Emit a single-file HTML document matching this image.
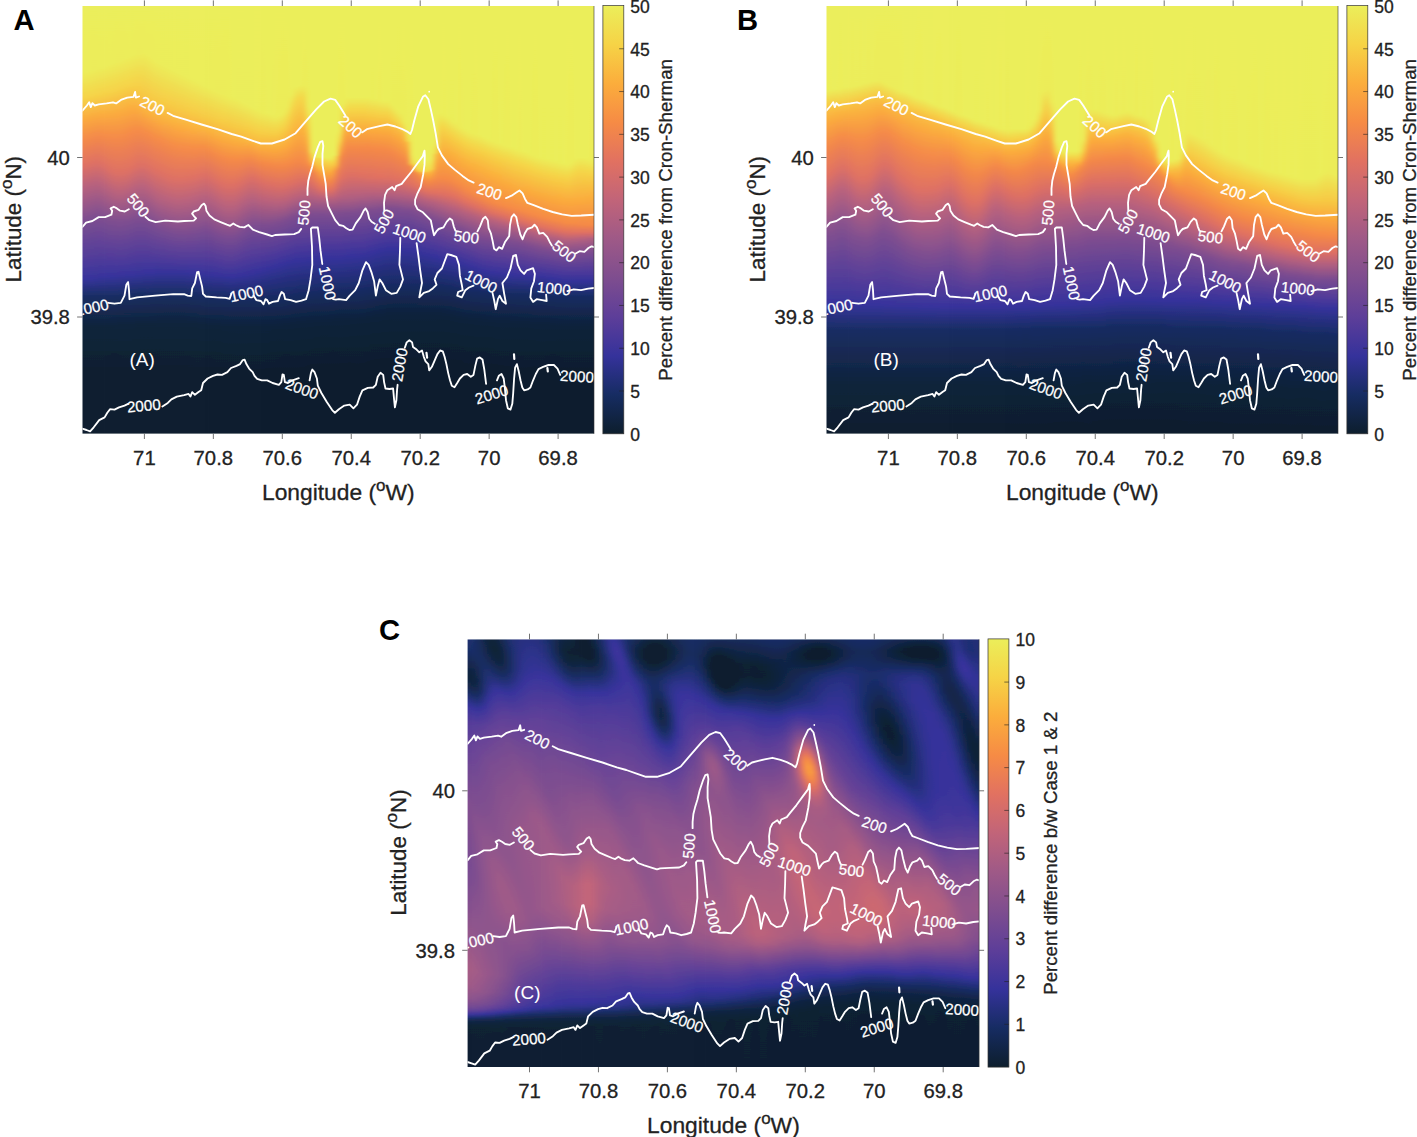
<!DOCTYPE html>
<html><head><meta charset="utf-8"><title>Figure</title>
<style>
html,body{margin:0;padding:0;background:#fff}
svg{display:block}
text{font-family:"Liberation Sans",Arial,Helvetica,sans-serif}
.t{font-size:20.3px;fill:#222}
.c{font-size:17.5px;fill:#222}
.l{font-size:22.8px;fill:#222}
text{stroke-width:0.3px}.t,.c,.l{stroke:#222}
.p{font-size:29.2px;font-weight:bold;fill:#000}
.w{font-size:15.2px;fill:#fff;stroke:#fff;stroke-width:0.25px}
.q{font-size:19px;fill:#fff}
</style></head><body>
<svg width="1417" height="1137" viewBox="0 0 1417 1137">
<rect width="1417" height="1137" fill="#fff"/>
<defs>
<linearGradient id="cb" x1="0" y1="1" x2="0" y2="0"><stop offset="0.0000" stop-color="#0d1e2d"/><stop offset="0.0909" stop-color="#162c62"/><stop offset="0.1818" stop-color="#35329b"/><stop offset="0.2727" stop-color="#5d3e99"/><stop offset="0.3636" stop-color="#7e4d8f"/><stop offset="0.4545" stop-color="#9e5987"/><stop offset="0.5455" stop-color="#c16479"/><stop offset="0.6364" stop-color="#e17161"/><stop offset="0.7273" stop-color="#f68b45"/><stop offset="0.8182" stop-color="#fbad3c"/><stop offset="0.9091" stop-color="#f6d346"/><stop offset="1.0000" stop-color="#ebee5a"/></linearGradient>
<clipPath id="cp"><rect x="0" y="0" width="511.5" height="427.8"/></clipPath>
<filter id="bl" x="-5%" y="-5%" width="110%" height="110%"><feGaussianBlur stdDeviation="2.5 0.01"/></filter>
</defs>
<g transform="translate(82.5,6.0)">
<defs><linearGradient id="a0" x2="0" y2="1"><stop offset="0" stop-color="#ebee5a"/><stop offset=".157" stop-color="#ecec58"/><stop offset=".213" stop-color="#f5d447"/><stop offset=".264" stop-color="#fbaa3d"/><stop offset=".315" stop-color="#f38849"/><stop offset=".371" stop-color="#e07062"/><stop offset=".423" stop-color="#b7617d"/><stop offset=".502" stop-color="#7c4c90"/><stop offset=".6" stop-color="#4b399a"/><stop offset=".638" stop-color="#36329b"/><stop offset=".671" stop-color="#1d2d6e"/><stop offset=".685" stop-color="#152b5e"/><stop offset=".75" stop-color="#0f223a"/><stop offset=".867" stop-color="#0d1e2d"/><stop offset="1" stop-color="#0d1e2d"/></linearGradient>
<linearGradient id="a1" x2="0" y2="1"><stop offset="0" stop-color="#ebee5a"/><stop offset=".152" stop-color="#eced59"/><stop offset=".213" stop-color="#f6d346"/><stop offset=".264" stop-color="#faa93d"/><stop offset=".311" stop-color="#f48948"/><stop offset=".371" stop-color="#de7063"/><stop offset=".423" stop-color="#b5607e"/><stop offset=".493" stop-color="#7f4e8f"/><stop offset=".596" stop-color="#4d399a"/><stop offset=".638" stop-color="#35329b"/><stop offset=".68" stop-color="#162c61"/><stop offset=".75" stop-color="#0f223a"/><stop offset=".867" stop-color="#0d1e2d"/><stop offset="1" stop-color="#0d1e2d"/></linearGradient>
<linearGradient id="a2" x2="0" y2="1"><stop offset="0" stop-color="#ebee5a"/><stop offset=".152" stop-color="#ecec58"/><stop offset=".208" stop-color="#f5d547"/><stop offset=".259" stop-color="#fbaa3d"/><stop offset=".311" stop-color="#f38749"/><stop offset=".367" stop-color="#df7063"/><stop offset=".423" stop-color="#b35f7f"/><stop offset=".498" stop-color="#7b4c90"/><stop offset=".596" stop-color="#4c399a"/><stop offset=".638" stop-color="#35329b"/><stop offset=".68" stop-color="#162c61"/><stop offset=".75" stop-color="#0f223a"/><stop offset=".867" stop-color="#0d1e2d"/><stop offset="1" stop-color="#0d1e2d"/></linearGradient>
<linearGradient id="a3" x2="0" y2="1"><stop offset="0" stop-color="#ebee5a"/><stop offset=".147" stop-color="#ecec59"/><stop offset=".208" stop-color="#f6d346"/><stop offset=".259" stop-color="#faa93d"/><stop offset=".306" stop-color="#f48848"/><stop offset=".367" stop-color="#dd6f64"/><stop offset=".418" stop-color="#b5607e"/><stop offset=".488" stop-color="#7f4d8f"/><stop offset=".596" stop-color="#4b399a"/><stop offset=".638" stop-color="#343299"/><stop offset=".68" stop-color="#162c61"/><stop offset=".75" stop-color="#0f223a"/><stop offset=".867" stop-color="#0d1e2d"/><stop offset="1" stop-color="#0d1e2d"/></linearGradient>
<linearGradient id="a4" x2="0" y2="1"><stop offset="0" stop-color="#ebee5a"/><stop offset=".143" stop-color="#ebed59"/><stop offset=".208" stop-color="#f6d246"/><stop offset=".255" stop-color="#fbab3d"/><stop offset=".306" stop-color="#f48848"/><stop offset=".367" stop-color="#de7063"/><stop offset=".414" stop-color="#ba627c"/><stop offset=".479" stop-color="#86508d"/><stop offset=".554" stop-color="#614098"/><stop offset=".633" stop-color="#36329b"/><stop offset=".652" stop-color="#293086"/><stop offset=".68" stop-color="#162c61"/><stop offset=".75" stop-color="#0f223a"/><stop offset=".867" stop-color="#0d1e2d"/><stop offset="1" stop-color="#0d1e2d"/></linearGradient>
<linearGradient id="a5" x2="0" y2="1"><stop offset="0" stop-color="#ebee5a"/><stop offset=".143" stop-color="#ecec59"/><stop offset=".203" stop-color="#f6d346"/><stop offset=".255" stop-color="#fbab3d"/><stop offset=".306" stop-color="#f48947"/><stop offset=".371" stop-color="#df7063"/><stop offset=".428" stop-color="#b35f7f"/><stop offset=".498" stop-color="#7c4c90"/><stop offset=".596" stop-color="#4b399a"/><stop offset=".633" stop-color="#36329b"/><stop offset=".68" stop-color="#162c61"/><stop offset=".75" stop-color="#0f223a"/><stop offset=".867" stop-color="#0d1e2d"/><stop offset="1" stop-color="#0d1e2d"/></linearGradient>
<linearGradient id="a6" x2="0" y2="1"><stop offset="0" stop-color="#ebee5a"/><stop offset=".138" stop-color="#eced59"/><stop offset=".203" stop-color="#f6d246"/><stop offset=".255" stop-color="#fbaa3d"/><stop offset=".306" stop-color="#f58a47"/><stop offset=".381" stop-color="#dd6f64"/><stop offset=".432" stop-color="#b4607e"/><stop offset=".488" stop-color="#85508d"/><stop offset=".586" stop-color="#513a9a"/><stop offset=".633" stop-color="#35329b"/><stop offset=".68" stop-color="#162c61"/><stop offset=".75" stop-color="#0f223a"/><stop offset=".867" stop-color="#0d1e2d"/><stop offset="1" stop-color="#0d1e2d"/></linearGradient>
<linearGradient id="a7" x2="0" y2="1"><stop offset="0" stop-color="#ebee5a"/><stop offset=".133" stop-color="#ebed59"/><stop offset=".199" stop-color="#f6d346"/><stop offset=".255" stop-color="#faa93d"/><stop offset=".311" stop-color="#f48848"/><stop offset=".386" stop-color="#de7063"/><stop offset=".437" stop-color="#b5607e"/><stop offset=".507" stop-color="#7b4c90"/><stop offset=".586" stop-color="#513a9a"/><stop offset=".633" stop-color="#35329b"/><stop offset=".68" stop-color="#162c61"/><stop offset=".75" stop-color="#0f213a"/><stop offset=".867" stop-color="#0d1e2d"/><stop offset="1" stop-color="#0d1e2d"/></linearGradient>
<linearGradient id="a8" x2="0" y2="1"><stop offset="0" stop-color="#ebee5a"/><stop offset=".133" stop-color="#ecec58"/><stop offset=".194" stop-color="#f6d447"/><stop offset=".25" stop-color="#fbab3d"/><stop offset=".311" stop-color="#f48848"/><stop offset=".39" stop-color="#dd6f64"/><stop offset=".442" stop-color="#b4607e"/><stop offset=".502" stop-color="#7f4d8f"/><stop offset=".596" stop-color="#4c399a"/><stop offset=".633" stop-color="#34329a"/><stop offset=".68" stop-color="#162c60"/><stop offset=".75" stop-color="#0f213a"/><stop offset=".867" stop-color="#0d1e2d"/><stop offset="1" stop-color="#0d1e2d"/></linearGradient>
<linearGradient id="a9" x2="0" y2="1"><stop offset="0" stop-color="#ebee5a"/><stop offset=".129" stop-color="#ecec59"/><stop offset=".194" stop-color="#f6d246"/><stop offset=".25" stop-color="#fbaa3d"/><stop offset=".311" stop-color="#f48848"/><stop offset=".39" stop-color="#de7063"/><stop offset=".442" stop-color="#b5607e"/><stop offset=".502" stop-color="#804e8f"/><stop offset=".596" stop-color="#4b399a"/><stop offset=".629" stop-color="#37329b"/><stop offset=".657" stop-color="#242f7c"/><stop offset=".68" stop-color="#162c60"/><stop offset=".745" stop-color="#0f223b"/><stop offset=".867" stop-color="#0d1e2d"/><stop offset="1" stop-color="#0d1e2d"/></linearGradient>
<linearGradient id="a10" x2="0" y2="1"><stop offset="0" stop-color="#ebee5a"/><stop offset=".124" stop-color="#ecec59"/><stop offset=".189" stop-color="#f6d346"/><stop offset=".25" stop-color="#faa83d"/><stop offset=".306" stop-color="#f48947"/><stop offset=".39" stop-color="#dd6f64"/><stop offset=".442" stop-color="#b4607e"/><stop offset=".502" stop-color="#7f4d8f"/><stop offset=".596" stop-color="#4b399a"/><stop offset=".629" stop-color="#36329b"/><stop offset=".68" stop-color="#162b60"/><stop offset=".745" stop-color="#0f223b"/><stop offset=".867" stop-color="#0d1e2d"/><stop offset="1" stop-color="#0d1e2d"/></linearGradient>
<linearGradient id="a11" x2="0" y2="1"><stop offset="0" stop-color="#ebee5a"/><stop offset=".119" stop-color="#eced59"/><stop offset=".185" stop-color="#f6d447"/><stop offset=".241" stop-color="#fbac3c"/><stop offset=".301" stop-color="#f58947"/><stop offset=".386" stop-color="#de7063"/><stop offset=".437" stop-color="#b5607e"/><stop offset=".507" stop-color="#7b4c90"/><stop offset=".591" stop-color="#4d399a"/><stop offset=".629" stop-color="#35329b"/><stop offset=".68" stop-color="#162b60"/><stop offset=".745" stop-color="#0f223b"/><stop offset=".867" stop-color="#0d1e2d"/><stop offset="1" stop-color="#0d1e2d"/></linearGradient>
<linearGradient id="a12" x2="0" y2="1"><stop offset="0" stop-color="#ebee5a"/><stop offset=".114" stop-color="#ebed59"/><stop offset=".185" stop-color="#f6d246"/><stop offset=".241" stop-color="#fbaa3d"/><stop offset=".297" stop-color="#f58947"/><stop offset=".376" stop-color="#e17161"/><stop offset=".428" stop-color="#b9617c"/><stop offset=".502" stop-color="#7c4c90"/><stop offset=".596" stop-color="#49389a"/><stop offset=".629" stop-color="#35329b"/><stop offset=".675" stop-color="#162c63"/><stop offset=".745" stop-color="#0f223b"/><stop offset=".862" stop-color="#0d1e2d"/><stop offset="1" stop-color="#0d1e2d"/></linearGradient>
<linearGradient id="a13" x2="0" y2="1"><stop offset="0" stop-color="#ebee5a"/><stop offset=".114" stop-color="#ecec58"/><stop offset=".189" stop-color="#f7cf45"/><stop offset=".245" stop-color="#faa83d"/><stop offset=".292" stop-color="#f58a46"/><stop offset=".376" stop-color="#dd6f64"/><stop offset=".428" stop-color="#b5607e"/><stop offset=".502" stop-color="#7a4b90"/><stop offset=".586" stop-color="#4e399a"/><stop offset=".629" stop-color="#34329a"/><stop offset=".675" stop-color="#162c62"/><stop offset=".745" stop-color="#0f223a"/><stop offset=".867" stop-color="#0d1e2d"/><stop offset="1" stop-color="#0d1e2d"/></linearGradient>
<linearGradient id="a14" x2="0" y2="1"><stop offset="0" stop-color="#ebee5a"/><stop offset=".11" stop-color="#ecec59"/><stop offset=".194" stop-color="#f7cd44"/><stop offset=".236" stop-color="#fab23d"/><stop offset=".292" stop-color="#f58a46"/><stop offset=".371" stop-color="#de7064"/><stop offset=".428" stop-color="#b3607f"/><stop offset=".498" stop-color="#7c4c90"/><stop offset=".586" stop-color="#4d399a"/><stop offset=".629" stop-color="#343299"/><stop offset=".675" stop-color="#162c62"/><stop offset=".745" stop-color="#0f223a"/><stop offset=".867" stop-color="#0d1e2d"/><stop offset="1" stop-color="#0d1e2d"/></linearGradient>
<linearGradient id="a15" x2="0" y2="1"><stop offset="0" stop-color="#ebee5a"/><stop offset=".11" stop-color="#ecec58"/><stop offset=".208" stop-color="#f7c843"/><stop offset=".236" stop-color="#fab73f"/><stop offset=".259" stop-color="#faa43e"/><stop offset=".297" stop-color="#f58a47"/><stop offset=".371" stop-color="#de7063"/><stop offset=".423" stop-color="#b8617d"/><stop offset=".502" stop-color="#7a4b90"/><stop offset=".586" stop-color="#4d399a"/><stop offset=".624" stop-color="#36329b"/><stop offset=".675" stop-color="#162c61"/><stop offset=".745" stop-color="#0f223a"/><stop offset=".867" stop-color="#0d1e2d"/><stop offset="1" stop-color="#0d1e2d"/></linearGradient>
<linearGradient id="a16" x2="0" y2="1"><stop offset="0" stop-color="#ebee5a"/><stop offset=".114" stop-color="#eced59"/><stop offset=".213" stop-color="#f7c843"/><stop offset=".245" stop-color="#fab43e"/><stop offset=".269" stop-color="#f9a13f"/><stop offset=".301" stop-color="#f58947"/><stop offset=".376" stop-color="#de7064"/><stop offset=".432" stop-color="#b5607e"/><stop offset=".502" stop-color="#7c4c90"/><stop offset=".586" stop-color="#4d399a"/><stop offset=".624" stop-color="#35329b"/><stop offset=".68" stop-color="#152b5e"/><stop offset=".745" stop-color="#0f223a"/><stop offset=".867" stop-color="#0d1e2d"/><stop offset="1" stop-color="#0d1e2d"/></linearGradient>
<linearGradient id="a17" x2="0" y2="1"><stop offset="0" stop-color="#ebee5a"/><stop offset=".124" stop-color="#ecec58"/><stop offset=".213" stop-color="#f7cb44"/><stop offset=".25" stop-color="#fab43e"/><stop offset=".273" stop-color="#f9a13f"/><stop offset=".306" stop-color="#f58a47"/><stop offset=".381" stop-color="#de7063"/><stop offset=".432" stop-color="#ba627c"/><stop offset=".507" stop-color="#7c4c90"/><stop offset=".591" stop-color="#4b399a"/><stop offset=".624" stop-color="#35329b"/><stop offset=".675" stop-color="#162c61"/><stop offset=".745" stop-color="#0f213a"/><stop offset=".867" stop-color="#0d1e2d"/><stop offset="1" stop-color="#0d1e2d"/></linearGradient>
<linearGradient id="a18" x2="0" y2="1"><stop offset="0" stop-color="#ebee5a"/><stop offset=".129" stop-color="#eced59"/><stop offset=".222" stop-color="#f7c943"/><stop offset=".255" stop-color="#fab43e"/><stop offset=".278" stop-color="#f9a13f"/><stop offset=".311" stop-color="#f58a46"/><stop offset=".386" stop-color="#df7063"/><stop offset=".451" stop-color="#b15f80"/><stop offset=".512" stop-color="#7c4c90"/><stop offset=".586" stop-color="#4e3a9a"/><stop offset=".624" stop-color="#34329a"/><stop offset=".675" stop-color="#162c60"/><stop offset=".745" stop-color="#0f213a"/><stop offset=".867" stop-color="#0d1e2d"/><stop offset="1" stop-color="#0d1e2d"/></linearGradient>
<linearGradient id="a19" x2="0" y2="1"><stop offset="0" stop-color="#ebee5a"/><stop offset=".133" stop-color="#ebed59"/><stop offset=".227" stop-color="#f7c943"/><stop offset=".255" stop-color="#fab73f"/><stop offset=".278" stop-color="#faa43e"/><stop offset=".315" stop-color="#f58947"/><stop offset=".39" stop-color="#de7063"/><stop offset=".456" stop-color="#b15f80"/><stop offset=".521" stop-color="#794b91"/><stop offset=".591" stop-color="#4c399a"/><stop offset=".624" stop-color="#343299"/><stop offset=".675" stop-color="#162c60"/><stop offset=".741" stop-color="#0f223b"/><stop offset=".862" stop-color="#0d1e2d"/><stop offset="1" stop-color="#0d1e2d"/></linearGradient>
<linearGradient id="a20" x2="0" y2="1"><stop offset="0" stop-color="#ebee5a"/><stop offset=".138" stop-color="#ebed59"/><stop offset=".222" stop-color="#f7cd44"/><stop offset=".264" stop-color="#fab23d"/><stop offset=".32" stop-color="#f58947"/><stop offset=".395" stop-color="#de7063"/><stop offset=".451" stop-color="#b7617d"/><stop offset=".526" stop-color="#784a91"/><stop offset=".591" stop-color="#4c399a"/><stop offset=".624" stop-color="#343299"/><stop offset=".675" stop-color="#162c60"/><stop offset=".741" stop-color="#0f223b"/><stop offset=".862" stop-color="#0d1e2d"/><stop offset="1" stop-color="#0d1e2d"/></linearGradient>
<linearGradient id="a21" x2="0" y2="1"><stop offset="0" stop-color="#ebee5a"/><stop offset=".143" stop-color="#ebed59"/><stop offset=".227" stop-color="#f7cc44"/><stop offset=".264" stop-color="#fab43e"/><stop offset=".287" stop-color="#f9a23f"/><stop offset=".329" stop-color="#f38749"/><stop offset=".4" stop-color="#de7063"/><stop offset=".451" stop-color="#ba627c"/><stop offset=".53" stop-color="#774a91"/><stop offset=".596" stop-color="#4a389a"/><stop offset=".624" stop-color="#343299"/><stop offset=".675" stop-color="#162c60"/><stop offset=".741" stop-color="#0f223b"/><stop offset=".862" stop-color="#0d1e2d"/><stop offset="1" stop-color="#0d1e2d"/></linearGradient>
<linearGradient id="a22" x2="0" y2="1"><stop offset="0" stop-color="#ebee5a"/><stop offset=".147" stop-color="#ebed59"/><stop offset=".231" stop-color="#f7cb44"/><stop offset=".269" stop-color="#fab33e"/><stop offset=".292" stop-color="#f9a13f"/><stop offset=".329" stop-color="#f48947"/><stop offset=".404" stop-color="#dd6f64"/><stop offset=".46" stop-color="#b5607e"/><stop offset=".53" stop-color="#794b91"/><stop offset=".596" stop-color="#4a389a"/><stop offset=".624" stop-color="#343299"/><stop offset=".675" stop-color="#162c60"/><stop offset=".741" stop-color="#0f223b"/><stop offset=".862" stop-color="#0d1e2d"/><stop offset="1" stop-color="#0d1e2d"/></linearGradient>
<linearGradient id="a23" x2="0" y2="1"><stop offset="0" stop-color="#ebee5a"/><stop offset=".152" stop-color="#ebed59"/><stop offset=".241" stop-color="#f7c843"/><stop offset=".283" stop-color="#fbaa3d"/><stop offset=".329" stop-color="#f58a46"/><stop offset=".404" stop-color="#de7063"/><stop offset=".456" stop-color="#ba627c"/><stop offset=".535" stop-color="#774a91"/><stop offset=".596" stop-color="#4b389a"/><stop offset=".624" stop-color="#343299"/><stop offset=".675" stop-color="#162c60"/><stop offset=".741" stop-color="#0f223b"/><stop offset=".862" stop-color="#0d1e2d"/><stop offset="1" stop-color="#0d1e2d"/></linearGradient>
<linearGradient id="a24" x2="0" y2="1"><stop offset="0" stop-color="#ebee5a"/><stop offset=".157" stop-color="#ebed59"/><stop offset=".236" stop-color="#f7cc44"/><stop offset=".269" stop-color="#fab73f"/><stop offset=".292" stop-color="#faa53e"/><stop offset=".334" stop-color="#f48948"/><stop offset=".404" stop-color="#de7063"/><stop offset=".46" stop-color="#b6617d"/><stop offset=".535" stop-color="#774a91"/><stop offset=".596" stop-color="#4b399a"/><stop offset=".624" stop-color="#343299"/><stop offset=".675" stop-color="#162c60"/><stop offset=".741" stop-color="#0f223b"/><stop offset=".862" stop-color="#0d1e2d"/><stop offset="1" stop-color="#0d1e2d"/></linearGradient>
<linearGradient id="a25" x2="0" y2="1"><stop offset="0" stop-color="#ebee5a"/><stop offset=".161" stop-color="#ebed59"/><stop offset=".245" stop-color="#f7c943"/><stop offset=".287" stop-color="#fbaa3d"/><stop offset=".334" stop-color="#f58947"/><stop offset=".404" stop-color="#de7063"/><stop offset=".46" stop-color="#b6607e"/><stop offset=".54" stop-color="#744992"/><stop offset=".596" stop-color="#4b399a"/><stop offset=".624" stop-color="#343299"/><stop offset=".675" stop-color="#162c60"/><stop offset=".741" stop-color="#0f223b"/><stop offset=".862" stop-color="#0d1e2d"/><stop offset="1" stop-color="#0d1e2d"/></linearGradient>
<linearGradient id="a26" x2="0" y2="1"><stop offset="0" stop-color="#ebee5a"/><stop offset=".166" stop-color="#ebed59"/><stop offset=".241" stop-color="#f7cd44"/><stop offset=".283" stop-color="#fbb03d"/><stop offset=".334" stop-color="#f58a47"/><stop offset=".404" stop-color="#dd6f64"/><stop offset=".456" stop-color="#b8617d"/><stop offset=".54" stop-color="#744892"/><stop offset=".596" stop-color="#4b399a"/><stop offset=".624" stop-color="#34329a"/><stop offset=".68" stop-color="#152b5e"/><stop offset=".745" stop-color="#0f213a"/><stop offset=".867" stop-color="#0d1e2d"/><stop offset="1" stop-color="#0d1e2d"/></linearGradient>
<linearGradient id="a27" x2="0" y2="1"><stop offset="0" stop-color="#ebee5a"/><stop offset=".171" stop-color="#ebed59"/><stop offset=".25" stop-color="#f7ca44"/><stop offset=".292" stop-color="#fbaa3d"/><stop offset=".334" stop-color="#f58a46"/><stop offset=".4" stop-color="#df7062"/><stop offset=".451" stop-color="#ba627c"/><stop offset=".516" stop-color="#844f8e"/><stop offset=".591" stop-color="#4f3a9a"/><stop offset=".624" stop-color="#35329b"/><stop offset=".675" stop-color="#162c61"/><stop offset=".745" stop-color="#0f223a"/><stop offset=".867" stop-color="#0d1e2d"/><stop offset="1" stop-color="#0d1e2d"/></linearGradient>
<linearGradient id="a28" x2="0" y2="1"><stop offset="0" stop-color="#ebee5a"/><stop offset=".175" stop-color="#ebed59"/><stop offset=".245" stop-color="#f7ce45"/><stop offset=".283" stop-color="#fab43e"/><stop offset=".306" stop-color="#f9a03f"/><stop offset=".339" stop-color="#f48848"/><stop offset=".4" stop-color="#de7064"/><stop offset=".451" stop-color="#b8617d"/><stop offset=".53" stop-color="#794b91"/><stop offset=".596" stop-color="#4c399a"/><stop offset=".624" stop-color="#36329b"/><stop offset=".675" stop-color="#162c62"/><stop offset=".745" stop-color="#0f223a"/><stop offset=".867" stop-color="#0d1e2d"/><stop offset="1" stop-color="#0d1e2d"/></linearGradient>
<linearGradient id="a29" x2="0" y2="1"><stop offset="0" stop-color="#ebee5a"/><stop offset=".18" stop-color="#ebed59"/><stop offset=".259" stop-color="#f7c843"/><stop offset=".287" stop-color="#fab23d"/><stop offset=".334" stop-color="#f58a46"/><stop offset=".395" stop-color="#df7063"/><stop offset=".451" stop-color="#b5607e"/><stop offset=".535" stop-color="#744992"/><stop offset=".6" stop-color="#48389a"/><stop offset=".624" stop-color="#36329b"/><stop offset=".68" stop-color="#162b60"/><stop offset=".745" stop-color="#0f223b"/><stop offset=".867" stop-color="#0d1e2d"/><stop offset="1" stop-color="#0d1e2d"/></linearGradient>
<linearGradient id="a30" x2="0" y2="1"><stop offset="0" stop-color="#ebee5a"/><stop offset=".185" stop-color="#ebed59"/><stop offset=".259" stop-color="#f7ca44"/><stop offset=".287" stop-color="#fab43e"/><stop offset=".329" stop-color="#f68d44"/><stop offset=".395" stop-color="#dd6f64"/><stop offset=".451" stop-color="#b3607f"/><stop offset=".521" stop-color="#7c4c90"/><stop offset=".596" stop-color="#4c399a"/><stop offset=".629" stop-color="#343299"/><stop offset=".68" stop-color="#162c60"/><stop offset=".745" stop-color="#0f223b"/><stop offset=".867" stop-color="#0d1e2d"/><stop offset="1" stop-color="#0d1e2d"/></linearGradient>
<linearGradient id="a31" x2="0" y2="1"><stop offset="0" stop-color="#ebee5a"/><stop offset=".189" stop-color="#ebed59"/><stop offset=".264" stop-color="#f7c943"/><stop offset=".292" stop-color="#fab23d"/><stop offset=".339" stop-color="#f48947"/><stop offset=".4" stop-color="#db6e66"/><stop offset=".446" stop-color="#b8617d"/><stop offset=".53" stop-color="#774a91"/><stop offset=".591" stop-color="#503a9a"/><stop offset=".629" stop-color="#34329a"/><stop offset=".68" stop-color="#162c61"/><stop offset=".75" stop-color="#0f213a"/><stop offset=".867" stop-color="#0d1e2d"/><stop offset="1" stop-color="#0d1e2d"/></linearGradient>
<linearGradient id="a32" x2="0" y2="1"><stop offset="0" stop-color="#ebee5a"/><stop offset=".194" stop-color="#eced59"/><stop offset=".264" stop-color="#f7cb44"/><stop offset=".301" stop-color="#fbac3c"/><stop offset=".343" stop-color="#f48947"/><stop offset=".404" stop-color="#db6f66"/><stop offset=".451" stop-color="#b8617d"/><stop offset=".535" stop-color="#764991"/><stop offset=".6" stop-color="#4a389a"/><stop offset=".629" stop-color="#35329b"/><stop offset=".685" stop-color="#152b5e"/><stop offset=".75" stop-color="#0f223a"/><stop offset=".867" stop-color="#0d1e2d"/><stop offset="1" stop-color="#0d1e2d"/></linearGradient>
<linearGradient id="a33" x2="0" y2="1"><stop offset="0" stop-color="#ebee5a"/><stop offset=".199" stop-color="#ecec59"/><stop offset=".269" stop-color="#f7ca44"/><stop offset=".311" stop-color="#faa73e"/><stop offset=".348" stop-color="#f48947"/><stop offset=".409" stop-color="#dc6f65"/><stop offset=".46" stop-color="#b5607e"/><stop offset=".54" stop-color="#764991"/><stop offset=".6" stop-color="#4c399a"/><stop offset=".629" stop-color="#36329b"/><stop offset=".685" stop-color="#152b5f"/><stop offset=".75" stop-color="#0f223a"/><stop offset=".867" stop-color="#0d1e2d"/><stop offset="1" stop-color="#0d1e2d"/></linearGradient>
<linearGradient id="a34" x2="0" y2="1"><stop offset="0" stop-color="#ebee5a"/><stop offset=".203" stop-color="#ecec59"/><stop offset=".269" stop-color="#f7cc44"/><stop offset=".311" stop-color="#fbaa3d"/><stop offset=".353" stop-color="#f48947"/><stop offset=".414" stop-color="#dd6f64"/><stop offset=".46" stop-color="#ba627c"/><stop offset=".544" stop-color="#754992"/><stop offset=".6" stop-color="#4d399a"/><stop offset=".629" stop-color="#37329b"/><stop offset=".685" stop-color="#152b5f"/><stop offset=".75" stop-color="#0f223a"/><stop offset=".867" stop-color="#0d1e2d"/><stop offset="1" stop-color="#0d1e2d"/></linearGradient>
<linearGradient id="a35" x2="0" y2="1"><stop offset="0" stop-color="#ebee5a"/><stop offset=".208" stop-color="#ecec58"/><stop offset=".269" stop-color="#f7ce45"/><stop offset=".315" stop-color="#faa93d"/><stop offset=".357" stop-color="#f48848"/><stop offset=".418" stop-color="#dd6f64"/><stop offset=".465" stop-color="#ba627c"/><stop offset=".54" stop-color="#7a4b90"/><stop offset=".6" stop-color="#4f3a9a"/><stop offset=".633" stop-color="#343299"/><stop offset=".68" stop-color="#162c63"/><stop offset=".75" stop-color="#0f223b"/><stop offset=".867" stop-color="#0d1e2d"/><stop offset="1" stop-color="#0d1e2d"/></linearGradient>
<linearGradient id="a36" x2="0" y2="1"><stop offset="0" stop-color="#ebee5a"/><stop offset=".213" stop-color="#ecec58"/><stop offset=".278" stop-color="#f7c943"/><stop offset=".315" stop-color="#fbab3d"/><stop offset=".357" stop-color="#f58a46"/><stop offset=".418" stop-color="#de7063"/><stop offset=".47" stop-color="#b8617d"/><stop offset=".544" stop-color="#784a91"/><stop offset=".61" stop-color="#48389a"/><stop offset=".633" stop-color="#34329a"/><stop offset=".685" stop-color="#162b60"/><stop offset=".75" stop-color="#0f223b"/><stop offset=".871" stop-color="#0d1e2d"/><stop offset="1" stop-color="#0d1e2d"/></linearGradient>
<linearGradient id="a37" x2="0" y2="1"><stop offset="0" stop-color="#ebee5a"/><stop offset=".213" stop-color="#ebee5a"/><stop offset=".283" stop-color="#f7c843"/><stop offset=".32" stop-color="#faa93d"/><stop offset=".362" stop-color="#f48848"/><stop offset=".418" stop-color="#df7063"/><stop offset=".47" stop-color="#b8617d"/><stop offset=".544" stop-color="#784a91"/><stop offset=".61" stop-color="#48389a"/><stop offset=".633" stop-color="#35329b"/><stop offset=".685" stop-color="#162b60"/><stop offset=".75" stop-color="#0f223b"/><stop offset=".871" stop-color="#0d1e2d"/><stop offset="1" stop-color="#0d1e2d"/></linearGradient>
<linearGradient id="a38" x2="0" y2="1"><stop offset="0" stop-color="#ebee5a"/><stop offset=".217" stop-color="#ebed5a"/><stop offset=".283" stop-color="#f7ca44"/><stop offset=".32" stop-color="#fbab3d"/><stop offset=".357" stop-color="#f68b45"/><stop offset=".418" stop-color="#dd6f64"/><stop offset=".465" stop-color="#ba627c"/><stop offset=".54" stop-color="#794b90"/><stop offset=".6" stop-color="#4e3a9a"/><stop offset=".633" stop-color="#34329a"/><stop offset=".685" stop-color="#162b60"/><stop offset=".75" stop-color="#0f223b"/><stop offset=".871" stop-color="#0d1e2d"/><stop offset="1" stop-color="#0d1e2d"/></linearGradient>
<linearGradient id="a39" x2="0" y2="1"><stop offset="0" stop-color="#ebee5a"/><stop offset=".222" stop-color="#ebed5a"/><stop offset=".287" stop-color="#f7c943"/><stop offset=".325" stop-color="#faa83d"/><stop offset=".362" stop-color="#f48848"/><stop offset=".414" stop-color="#dd6f64"/><stop offset=".465" stop-color="#b5607e"/><stop offset=".535" stop-color="#794b91"/><stop offset=".6" stop-color="#4c399a"/><stop offset=".629" stop-color="#36329b"/><stop offset=".685" stop-color="#162b60"/><stop offset=".75" stop-color="#0f223b"/><stop offset=".871" stop-color="#0d1e2d"/><stop offset="1" stop-color="#0d1e2d"/></linearGradient>
<linearGradient id="a40" x2="0" y2="1"><stop offset="0" stop-color="#ebee5a"/><stop offset=".227" stop-color="#ebed5a"/><stop offset=".287" stop-color="#f7cb44"/><stop offset=".315" stop-color="#fab33e"/><stop offset=".334" stop-color="#f9a040"/><stop offset=".362" stop-color="#f38749"/><stop offset=".414" stop-color="#d96e67"/><stop offset=".456" stop-color="#b8617d"/><stop offset=".526" stop-color="#7b4b90"/><stop offset=".596" stop-color="#4d399a"/><stop offset=".629" stop-color="#35329b"/><stop offset=".685" stop-color="#162b60"/><stop offset=".75" stop-color="#0f223b"/><stop offset=".871" stop-color="#0d1e2d"/><stop offset="1" stop-color="#0d1e2d"/></linearGradient>
<linearGradient id="a41" x2="0" y2="1"><stop offset="0" stop-color="#ebee5a"/><stop offset=".231" stop-color="#ebed5a"/><stop offset=".287" stop-color="#f7cd44"/><stop offset=".311" stop-color="#f9bb40"/><stop offset=".329" stop-color="#faa53e"/><stop offset=".357" stop-color="#f48947"/><stop offset=".404" stop-color="#dc6f65"/><stop offset=".456" stop-color="#b3607f"/><stop offset=".521" stop-color="#7a4b90"/><stop offset=".591" stop-color="#4e3a9a"/><stop offset=".629" stop-color="#343299"/><stop offset=".685" stop-color="#162b60"/><stop offset=".75" stop-color="#0f223b"/><stop offset=".871" stop-color="#0d1e2d"/><stop offset="1" stop-color="#0d1e2d"/></linearGradient>
<linearGradient id="a42" x2="0" y2="1"><stop offset="0" stop-color="#ebee5a"/><stop offset=".236" stop-color="#ebed5a"/><stop offset=".292" stop-color="#f7cc44"/><stop offset=".315" stop-color="#fab83f"/><stop offset=".329" stop-color="#faa73d"/><stop offset=".362" stop-color="#f2864a"/><stop offset=".404" stop-color="#db6e66"/><stop offset=".456" stop-color="#b15f80"/><stop offset=".516" stop-color="#7a4b90"/><stop offset=".586" stop-color="#503a9a"/><stop offset=".624" stop-color="#36329b"/><stop offset=".685" stop-color="#162b60"/><stop offset=".75" stop-color="#0f223b"/><stop offset=".871" stop-color="#0d1e2d"/><stop offset="1" stop-color="#0d1e2d"/></linearGradient>
<linearGradient id="a43" x2="0" y2="1"><stop offset="0" stop-color="#ebee5a"/><stop offset=".241" stop-color="#ebed5a"/><stop offset=".297" stop-color="#f7cb44"/><stop offset=".32" stop-color="#fab63e"/><stop offset=".348" stop-color="#f89642"/><stop offset=".367" stop-color="#f1854b"/><stop offset=".404" stop-color="#dd6f64"/><stop offset=".451" stop-color="#b6617d"/><stop offset=".507" stop-color="#804e8f"/><stop offset=".591" stop-color="#4b399a"/><stop offset=".624" stop-color="#34329a"/><stop offset=".685" stop-color="#162b60"/><stop offset=".75" stop-color="#0f223b"/><stop offset=".871" stop-color="#0d1e2d"/><stop offset="1" stop-color="#0d1e2d"/></linearGradient>
<linearGradient id="a44" x2="0" y2="1"><stop offset="0" stop-color="#ebee5a"/><stop offset=".245" stop-color="#ebed59"/><stop offset=".297" stop-color="#f7cd44"/><stop offset=".32" stop-color="#f9ba3f"/><stop offset=".339" stop-color="#faa43e"/><stop offset=".367" stop-color="#f38848"/><stop offset=".409" stop-color="#dd6f64"/><stop offset=".456" stop-color="#b6607d"/><stop offset=".512" stop-color="#7d4c8f"/><stop offset=".586" stop-color="#4e399a"/><stop offset=".619" stop-color="#36329b"/><stop offset=".685" stop-color="#162b60"/><stop offset=".75" stop-color="#0f223b"/><stop offset=".871" stop-color="#0d1e2d"/><stop offset="1" stop-color="#0d1e2d"/></linearGradient>
<linearGradient id="a45" x2="0" y2="1"><stop offset="0" stop-color="#ebee5a"/><stop offset=".25" stop-color="#ecec59"/><stop offset=".297" stop-color="#f7ce45"/><stop offset=".329" stop-color="#fbb03d"/><stop offset=".367" stop-color="#f58a46"/><stop offset=".414" stop-color="#dd6f64"/><stop offset=".456" stop-color="#b9617c"/><stop offset=".512" stop-color="#7d4d8f"/><stop offset=".582" stop-color="#503a9a"/><stop offset=".619" stop-color="#35329a"/><stop offset=".685" stop-color="#162b60"/><stop offset=".75" stop-color="#0f223b"/><stop offset=".871" stop-color="#0d1e2d"/><stop offset="1" stop-color="#0d1e2d"/></linearGradient>
<linearGradient id="a46" x2="0" y2="1"><stop offset="0" stop-color="#ebee5a"/><stop offset=".25" stop-color="#ebee5a"/><stop offset=".301" stop-color="#f7cb44"/><stop offset=".339" stop-color="#faa63e"/><stop offset=".371" stop-color="#f48848"/><stop offset=".418" stop-color="#db6f66"/><stop offset=".456" stop-color="#ba627c"/><stop offset=".512" stop-color="#7d4c8f"/><stop offset=".586" stop-color="#4b399a"/><stop offset=".614" stop-color="#36329b"/><stop offset=".685" stop-color="#162b5f"/><stop offset=".75" stop-color="#0f223b"/><stop offset=".867" stop-color="#0d1e2d"/><stop offset="1" stop-color="#0d1e2d"/></linearGradient>
<linearGradient id="a47" x2="0" y2="1"><stop offset="0" stop-color="#ebee5a"/><stop offset=".255" stop-color="#ebed5a"/><stop offset=".297" stop-color="#f6cf45"/><stop offset=".334" stop-color="#fbac3c"/><stop offset=".371" stop-color="#f48947"/><stop offset=".418" stop-color="#dd6f64"/><stop offset=".46" stop-color="#b7617d"/><stop offset=".512" stop-color="#7c4c90"/><stop offset=".582" stop-color="#4c399a"/><stop offset=".614" stop-color="#343299"/><stop offset=".685" stop-color="#152b5f"/><stop offset=".75" stop-color="#0f223a"/><stop offset=".867" stop-color="#0d1e2d"/><stop offset="1" stop-color="#0d1e2d"/></linearGradient>
<linearGradient id="a48" x2="0" y2="1"><stop offset="0" stop-color="#ebee5a"/><stop offset=".259" stop-color="#ecec59"/><stop offset=".301" stop-color="#f7cc44"/><stop offset=".339" stop-color="#faa73d"/><stop offset=".376" stop-color="#f38749"/><stop offset=".418" stop-color="#de7063"/><stop offset=".465" stop-color="#b3607f"/><stop offset=".507" stop-color="#7e4d8f"/><stop offset=".577" stop-color="#4e3a9a"/><stop offset=".61" stop-color="#35329b"/><stop offset=".685" stop-color="#152b5f"/><stop offset=".75" stop-color="#0f223a"/><stop offset=".867" stop-color="#0d1e2d"/><stop offset="1" stop-color="#0d1e2d"/></linearGradient>
<linearGradient id="a49" x2="0" y2="1"><stop offset="0" stop-color="#ebee5a"/><stop offset=".255" stop-color="#ecec59"/><stop offset=".292" stop-color="#f6d045"/><stop offset=".334" stop-color="#faaa3d"/><stop offset=".376" stop-color="#f38749"/><stop offset=".423" stop-color="#db6f65"/><stop offset=".46" stop-color="#b8617d"/><stop offset=".507" stop-color="#7d4c8f"/><stop offset=".572" stop-color="#503a9a"/><stop offset=".605" stop-color="#36329b"/><stop offset=".685" stop-color="#152b5e"/><stop offset=".75" stop-color="#0f223a"/><stop offset=".867" stop-color="#0d1e2d"/><stop offset="1" stop-color="#0d1e2d"/></linearGradient>
<linearGradient id="a50" x2="0" y2="1"><stop offset="0" stop-color="#ebee5a"/><stop offset=".25" stop-color="#ecec58"/><stop offset=".287" stop-color="#f7cf45"/><stop offset=".329" stop-color="#fbab3d"/><stop offset=".371" stop-color="#f58a46"/><stop offset=".423" stop-color="#db6e66"/><stop offset=".47" stop-color="#ab5d82"/><stop offset=".502" stop-color="#7e4d8f"/><stop offset=".577" stop-color="#4a389a"/><stop offset=".605" stop-color="#34329a"/><stop offset=".685" stop-color="#152b5e"/><stop offset=".75" stop-color="#0f213a"/><stop offset=".867" stop-color="#0d1e2d"/><stop offset="1" stop-color="#0d1e2d"/></linearGradient>
<linearGradient id="a51" x2="0" y2="1"><stop offset="0" stop-color="#ebee5a"/><stop offset=".236" stop-color="#ecec59"/><stop offset=".264" stop-color="#f5d648"/><stop offset=".325" stop-color="#fbaa3d"/><stop offset=".371" stop-color="#f48947"/><stop offset=".418" stop-color="#dd6f64"/><stop offset=".456" stop-color="#b8617d"/><stop offset=".502" stop-color="#7b4c90"/><stop offset=".572" stop-color="#4b399a"/><stop offset=".6" stop-color="#35329b"/><stop offset=".685" stop-color="#152b5d"/><stop offset=".75" stop-color="#0f213a"/><stop offset=".867" stop-color="#0d1e2d"/><stop offset="1" stop-color="#0d1e2d"/></linearGradient>
<linearGradient id="a52" x2="0" y2="1"><stop offset="0" stop-color="#ebee5a"/><stop offset=".208" stop-color="#ebee5a"/><stop offset=".241" stop-color="#f5d648"/><stop offset=".306" stop-color="#fbaf3d"/><stop offset=".367" stop-color="#f58947"/><stop offset=".414" stop-color="#de7063"/><stop offset=".451" stop-color="#b8617c"/><stop offset=".474" stop-color="#995788"/><stop offset=".493" stop-color="#7f4d8f"/><stop offset=".568" stop-color="#4c399a"/><stop offset=".6" stop-color="#343299"/><stop offset=".685" stop-color="#152b5d"/><stop offset=".745" stop-color="#0f223b"/><stop offset=".867" stop-color="#0d1e2d"/><stop offset="1" stop-color="#0d1e2d"/></linearGradient>
<linearGradient id="a53" x2="0" y2="1"><stop offset="0" stop-color="#ebee5a"/><stop offset=".189" stop-color="#ebee5a"/><stop offset=".217" stop-color="#f4d84a"/><stop offset=".287" stop-color="#fab53e"/><stop offset=".32" stop-color="#f9a23f"/><stop offset=".367" stop-color="#f38749"/><stop offset=".414" stop-color="#db6e66"/><stop offset=".451" stop-color="#b5607e"/><stop offset=".493" stop-color="#7d4c8f"/><stop offset=".568" stop-color="#4a389a"/><stop offset=".596" stop-color="#35329b"/><stop offset=".685" stop-color="#152a5c"/><stop offset=".745" stop-color="#0f223a"/><stop offset=".867" stop-color="#0d1e2d"/><stop offset="1" stop-color="#0d1e2d"/></linearGradient>
<linearGradient id="a54" x2="0" y2="1"><stop offset="0" stop-color="#ebee5a"/><stop offset=".185" stop-color="#ebee5a"/><stop offset=".217" stop-color="#f5d648"/><stop offset=".292" stop-color="#fbaf3d"/><stop offset=".362" stop-color="#f58947"/><stop offset=".409" stop-color="#dd6f64"/><stop offset=".446" stop-color="#b7617d"/><stop offset=".488" stop-color="#7e4d8f"/><stop offset=".563" stop-color="#4d399a"/><stop offset=".596" stop-color="#35329a"/><stop offset=".68" stop-color="#152b5e"/><stop offset=".745" stop-color="#0f223a"/><stop offset=".867" stop-color="#0d1e2d"/><stop offset="1" stop-color="#0d1e2d"/></linearGradient>
<linearGradient id="a55" x2="0" y2="1"><stop offset="0" stop-color="#ebee5a"/><stop offset=".185" stop-color="#ecec59"/><stop offset=".213" stop-color="#f4d749"/><stop offset=".292" stop-color="#fbb13d"/><stop offset=".367" stop-color="#f48947"/><stop offset=".409" stop-color="#db6e66"/><stop offset=".446" stop-color="#b5607e"/><stop offset=".488" stop-color="#7d4d8f"/><stop offset=".563" stop-color="#4c399a"/><stop offset=".596" stop-color="#343299"/><stop offset=".68" stop-color="#152b5e"/><stop offset=".745" stop-color="#0f213a"/><stop offset=".867" stop-color="#0d1e2d"/><stop offset="1" stop-color="#0d1e2d"/></linearGradient>
<linearGradient id="a56" x2="0" y2="1"><stop offset="0" stop-color="#ebee5a"/><stop offset=".236" stop-color="#ebed59"/><stop offset=".278" stop-color="#f6d145"/><stop offset=".32" stop-color="#fab13d"/><stop offset=".371" stop-color="#f58947"/><stop offset=".409" stop-color="#dd6f64"/><stop offset=".442" stop-color="#b9627c"/><stop offset=".484" stop-color="#814e8e"/><stop offset=".558" stop-color="#4f3a9a"/><stop offset=".596" stop-color="#343299"/><stop offset=".68" stop-color="#152b5d"/><stop offset=".741" stop-color="#0f223b"/><stop offset=".862" stop-color="#0d1e2d"/><stop offset="1" stop-color="#0d1e2d"/></linearGradient>
<linearGradient id="a57" x2="0" y2="1"><stop offset="0" stop-color="#ebee5a"/><stop offset=".339" stop-color="#ebee5a"/><stop offset=".343" stop-color="#eee654"/><stop offset=".348" stop-color="#f5d548"/><stop offset=".362" stop-color="#f9be41"/><stop offset=".367" stop-color="#fbad3c"/><stop offset=".376" stop-color="#f68d44"/><stop offset=".414" stop-color="#df7063"/><stop offset=".446" stop-color="#b5607e"/><stop offset=".488" stop-color="#7c4c90"/><stop offset=".563" stop-color="#4a389a"/><stop offset=".591" stop-color="#35329b"/><stop offset=".68" stop-color="#152b5d"/><stop offset=".741" stop-color="#0f223b"/><stop offset=".857" stop-color="#0d1e2d"/><stop offset="1" stop-color="#0d1e2d"/></linearGradient>
<linearGradient id="a58" x2="0" y2="1"><stop offset="0" stop-color="#ebee5a"/><stop offset=".353" stop-color="#ebee5a"/><stop offset=".357" stop-color="#f4d84a"/><stop offset=".371" stop-color="#f8c242"/><stop offset=".381" stop-color="#faa63e"/><stop offset=".39" stop-color="#f58a46"/><stop offset=".423" stop-color="#dc6f65"/><stop offset=".451" stop-color="#b05f80"/><stop offset=".484" stop-color="#804e8f"/><stop offset=".558" stop-color="#4e399a"/><stop offset=".591" stop-color="#35329b"/><stop offset=".68" stop-color="#152b5c"/><stop offset=".741" stop-color="#0f223a"/><stop offset=".857" stop-color="#0d1e2d"/><stop offset="1" stop-color="#0d1e2d"/></linearGradient>
<linearGradient id="a59" x2="0" y2="1"><stop offset="0" stop-color="#ebee5a"/><stop offset=".353" stop-color="#ebee5a"/><stop offset=".357" stop-color="#f4d94a"/><stop offset=".381" stop-color="#fab63e"/><stop offset=".39" stop-color="#faa33f"/><stop offset=".404" stop-color="#f58947"/><stop offset=".428" stop-color="#e07162"/><stop offset=".446" stop-color="#bc627b"/><stop offset=".47" stop-color="#945589"/><stop offset=".488" stop-color="#7c4c90"/><stop offset=".563" stop-color="#4a389a"/><stop offset=".591" stop-color="#35329b"/><stop offset=".675" stop-color="#152b5f"/><stop offset=".741" stop-color="#0f223a"/><stop offset=".857" stop-color="#0d1e2d"/><stop offset="1" stop-color="#0d1e2d"/></linearGradient>
<linearGradient id="a60" x2="0" y2="1"><stop offset="0" stop-color="#ebee5a"/><stop offset=".353" stop-color="#ebee5a"/><stop offset=".357" stop-color="#eee755"/><stop offset=".362" stop-color="#f4d94a"/><stop offset=".39" stop-color="#faa93d"/><stop offset=".409" stop-color="#f68b45"/><stop offset=".432" stop-color="#df7063"/><stop offset=".446" stop-color="#c0647a"/><stop offset=".46" stop-color="#a35b85"/><stop offset=".488" stop-color="#7c4c90"/><stop offset=".563" stop-color="#4a389a"/><stop offset=".591" stop-color="#35329b"/><stop offset=".675" stop-color="#152b5f"/><stop offset=".741" stop-color="#0f223a"/><stop offset=".857" stop-color="#0d1e2d"/><stop offset="1" stop-color="#0d1e2d"/></linearGradient>
<linearGradient id="a61" x2="0" y2="1"><stop offset="0" stop-color="#ebee5a"/><stop offset=".353" stop-color="#ebee5a"/><stop offset=".357" stop-color="#ede956"/><stop offset=".367" stop-color="#f6d447"/><stop offset=".39" stop-color="#faa83d"/><stop offset=".414" stop-color="#f1844c"/><stop offset=".432" stop-color="#df7063"/><stop offset=".451" stop-color="#b6617d"/><stop offset=".479" stop-color="#87508d"/><stop offset=".493" stop-color="#794b91"/><stop offset=".563" stop-color="#4a389a"/><stop offset=".591" stop-color="#35329b"/><stop offset=".675" stop-color="#152b5e"/><stop offset=".741" stop-color="#0f223a"/><stop offset=".857" stop-color="#0d1e2d"/><stop offset="1" stop-color="#0d1e2d"/></linearGradient>
<linearGradient id="a62" x2="0" y2="1"><stop offset="0" stop-color="#ebee5a"/><stop offset=".353" stop-color="#ebee5a"/><stop offset=".357" stop-color="#eceb58"/><stop offset=".367" stop-color="#f5d548"/><stop offset=".39" stop-color="#faa83d"/><stop offset=".409" stop-color="#f48848"/><stop offset=".432" stop-color="#df7063"/><stop offset=".451" stop-color="#b8617d"/><stop offset=".479" stop-color="#87508d"/><stop offset=".493" stop-color="#794b91"/><stop offset=".558" stop-color="#4d399a"/><stop offset=".591" stop-color="#35329a"/><stop offset=".675" stop-color="#152b5e"/><stop offset=".741" stop-color="#0f213a"/><stop offset=".857" stop-color="#0d1e2d"/><stop offset="1" stop-color="#0d1e2d"/></linearGradient>
<linearGradient id="a63" x2="0" y2="1"><stop offset="0" stop-color="#ebee5a"/><stop offset=".348" stop-color="#ebee5a"/><stop offset=".353" stop-color="#f4d94b"/><stop offset=".371" stop-color="#f9c041"/><stop offset=".376" stop-color="#fbaf3d"/><stop offset=".386" stop-color="#f68e44"/><stop offset=".423" stop-color="#de7063"/><stop offset=".446" stop-color="#bc627b"/><stop offset=".484" stop-color="#804e8f"/><stop offset=".558" stop-color="#4d399a"/><stop offset=".591" stop-color="#35329a"/><stop offset=".675" stop-color="#152b5e"/><stop offset=".736" stop-color="#0f223b"/><stop offset=".857" stop-color="#0d1e2d"/><stop offset="1" stop-color="#0d1e2d"/></linearGradient>
<linearGradient id="a64" x2="0" y2="1"><stop offset="0" stop-color="#ebee5a"/><stop offset=".292" stop-color="#ecec58"/><stop offset=".315" stop-color="#f5d648"/><stop offset=".339" stop-color="#faa83d"/><stop offset=".353" stop-color="#f68d44"/><stop offset=".404" stop-color="#e17161"/><stop offset=".446" stop-color="#b6617d"/><stop offset=".484" stop-color="#7f4d8f"/><stop offset=".558" stop-color="#4d399a"/><stop offset=".591" stop-color="#34329a"/><stop offset=".675" stop-color="#152b5d"/><stop offset=".736" stop-color="#0f223b"/><stop offset=".857" stop-color="#0d1e2d"/><stop offset="1" stop-color="#0d1e2d"/></linearGradient>
<linearGradient id="a65" x2="0" y2="1"><stop offset="0" stop-color="#ebee5a"/><stop offset=".227" stop-color="#eced59"/><stop offset=".264" stop-color="#f7cc44"/><stop offset=".301" stop-color="#faa83d"/><stop offset=".343" stop-color="#f48848"/><stop offset=".4" stop-color="#df7063"/><stop offset=".446" stop-color="#b4607e"/><stop offset=".465" stop-color="#9a5788"/><stop offset=".484" stop-color="#7e4d8f"/><stop offset=".558" stop-color="#4c399a"/><stop offset=".591" stop-color="#343299"/><stop offset=".675" stop-color="#152b5d"/><stop offset=".736" stop-color="#0f223b"/><stop offset=".857" stop-color="#0d1e2d"/><stop offset="1" stop-color="#0d1e2d"/></linearGradient>
<linearGradient id="a66" x2="0" y2="1"><stop offset="0" stop-color="#ebee5a"/><stop offset=".213" stop-color="#ebee5a"/><stop offset=".245" stop-color="#f6d447"/><stop offset=".292" stop-color="#fbab3d"/><stop offset=".329" stop-color="#f58a46"/><stop offset=".395" stop-color="#df7063"/><stop offset=".442" stop-color="#b7617d"/><stop offset=".456" stop-color="#a75c83"/><stop offset=".484" stop-color="#7d4d8f"/><stop offset=".558" stop-color="#4b399a"/><stop offset=".586" stop-color="#36329b"/><stop offset=".675" stop-color="#152b5d"/><stop offset=".736" stop-color="#0f223b"/><stop offset=".853" stop-color="#0d1e2d"/><stop offset="1" stop-color="#0d1e2d"/></linearGradient>
<linearGradient id="a67" x2="0" y2="1"><stop offset="0" stop-color="#ebee5a"/><stop offset=".213" stop-color="#ebee5a"/><stop offset=".245" stop-color="#f6d346"/><stop offset=".292" stop-color="#faa93d"/><stop offset=".334" stop-color="#f48848"/><stop offset=".395" stop-color="#de7064"/><stop offset=".442" stop-color="#b6617d"/><stop offset=".456" stop-color="#a55b84"/><stop offset=".484" stop-color="#7d4c8f"/><stop offset=".558" stop-color="#4a389a"/><stop offset=".586" stop-color="#35329b"/><stop offset=".675" stop-color="#152b5c"/><stop offset=".736" stop-color="#0f223a"/><stop offset=".857" stop-color="#0d1e2d"/><stop offset="1" stop-color="#0d1e2d"/></linearGradient>
<linearGradient id="a68" x2="0" y2="1"><stop offset="0" stop-color="#ebee5a"/><stop offset=".213" stop-color="#ebee5a"/><stop offset=".245" stop-color="#f6d346"/><stop offset=".292" stop-color="#faa93d"/><stop offset=".334" stop-color="#f48848"/><stop offset=".395" stop-color="#df7063"/><stop offset=".437" stop-color="#ba627c"/><stop offset=".451" stop-color="#ab5d82"/><stop offset=".484" stop-color="#7c4c90"/><stop offset=".558" stop-color="#4a389a"/><stop offset=".586" stop-color="#35329a"/><stop offset=".671" stop-color="#152b5f"/><stop offset=".736" stop-color="#0f223a"/><stop offset=".857" stop-color="#0d1e2d"/><stop offset="1" stop-color="#0d1e2d"/></linearGradient>
<linearGradient id="a69" x2="0" y2="1"><stop offset="0" stop-color="#ebee5a"/><stop offset=".213" stop-color="#ebee5a"/><stop offset=".245" stop-color="#f6d346"/><stop offset=".292" stop-color="#faa93d"/><stop offset=".334" stop-color="#f48848"/><stop offset=".395" stop-color="#e07162"/><stop offset=".442" stop-color="#b5607e"/><stop offset=".46" stop-color="#9b5888"/><stop offset=".479" stop-color="#7f4d8f"/><stop offset=".554" stop-color="#4d399a"/><stop offset=".586" stop-color="#34329a"/><stop offset=".671" stop-color="#152b5f"/><stop offset=".736" stop-color="#0f223a"/><stop offset=".857" stop-color="#0d1e2d"/><stop offset="1" stop-color="#0d1e2d"/></linearGradient>
<linearGradient id="a70" x2="0" y2="1"><stop offset="0" stop-color="#ebee5a"/><stop offset=".213" stop-color="#ebee5a"/><stop offset=".245" stop-color="#f6d346"/><stop offset=".292" stop-color="#faa93d"/><stop offset=".334" stop-color="#f48848"/><stop offset=".395" stop-color="#e17161"/><stop offset=".437" stop-color="#b9627c"/><stop offset=".451" stop-color="#a95c83"/><stop offset=".479" stop-color="#7e4d8f"/><stop offset=".554" stop-color="#4c399a"/><stop offset=".586" stop-color="#343299"/><stop offset=".671" stop-color="#152b5e"/><stop offset=".736" stop-color="#0f223a"/><stop offset=".857" stop-color="#0d1e2d"/><stop offset="1" stop-color="#0d1e2d"/></linearGradient>
<linearGradient id="a71" x2="0" y2="1"><stop offset="0" stop-color="#ebee5a"/><stop offset=".213" stop-color="#ebee5a"/><stop offset=".255" stop-color="#f7cc44"/><stop offset=".292" stop-color="#faa93d"/><stop offset=".329" stop-color="#f68a46"/><stop offset=".4" stop-color="#de7063"/><stop offset=".437" stop-color="#b9627c"/><stop offset=".456" stop-color="#a05a86"/><stop offset=".479" stop-color="#7d4d8f"/><stop offset=".554" stop-color="#4a389a"/><stop offset=".582" stop-color="#35329a"/><stop offset=".671" stop-color="#152b5d"/><stop offset=".731" stop-color="#0f223b"/><stop offset=".853" stop-color="#0d1e2d"/><stop offset="1" stop-color="#0d1e2d"/></linearGradient>
<linearGradient id="a72" x2="0" y2="1"><stop offset="0" stop-color="#ebee5a"/><stop offset=".217" stop-color="#ebed59"/><stop offset=".255" stop-color="#f7cd44"/><stop offset=".292" stop-color="#fbaa3d"/><stop offset=".334" stop-color="#f48947"/><stop offset=".4" stop-color="#df7063"/><stop offset=".437" stop-color="#b9617c"/><stop offset=".46" stop-color="#985789"/><stop offset=".479" stop-color="#7d4c8f"/><stop offset=".544" stop-color="#503a9a"/><stop offset=".577" stop-color="#36329b"/><stop offset=".666" stop-color="#152b5f"/><stop offset=".731" stop-color="#0f223a"/><stop offset=".848" stop-color="#0d1e2d"/><stop offset="1" stop-color="#0d1e2d"/></linearGradient>
<linearGradient id="a73" x2="0" y2="1"><stop offset="0" stop-color="#ebee5a"/><stop offset=".217" stop-color="#ebee5a"/><stop offset=".255" stop-color="#f7ce45"/><stop offset=".292" stop-color="#fbaa3d"/><stop offset=".334" stop-color="#f58947"/><stop offset=".4" stop-color="#e07062"/><stop offset=".437" stop-color="#b9617c"/><stop offset=".456" stop-color="#9e5987"/><stop offset=".479" stop-color="#7c4c90"/><stop offset=".549" stop-color="#4a389a"/><stop offset=".577" stop-color="#34329a"/><stop offset=".666" stop-color="#152b5e"/><stop offset=".727" stop-color="#0f223b"/><stop offset=".848" stop-color="#0d1e2d"/><stop offset="1" stop-color="#0d1e2d"/></linearGradient>
<linearGradient id="a74" x2="0" y2="1"><stop offset="0" stop-color="#ebee5a"/><stop offset=".222" stop-color="#ecec59"/><stop offset=".255" stop-color="#f6d045"/><stop offset=".292" stop-color="#fbab3d"/><stop offset=".334" stop-color="#f58a46"/><stop offset=".4" stop-color="#e17161"/><stop offset=".442" stop-color="#b3607f"/><stop offset=".474" stop-color="#7f4d8f"/><stop offset=".549" stop-color="#48389a"/><stop offset=".572" stop-color="#35329b"/><stop offset=".666" stop-color="#152b5d"/><stop offset=".727" stop-color="#0f223b"/><stop offset=".843" stop-color="#0d1e2d"/><stop offset="1" stop-color="#0d1e2d"/></linearGradient>
<linearGradient id="a75" x2="0" y2="1"><stop offset="0" stop-color="#ebee5a"/><stop offset=".222" stop-color="#ebee5a"/><stop offset=".259" stop-color="#f7cc44"/><stop offset=".297" stop-color="#faa83d"/><stop offset=".334" stop-color="#f58a46"/><stop offset=".4" stop-color="#e17161"/><stop offset=".442" stop-color="#b35f7f"/><stop offset=".474" stop-color="#7e4d8f"/><stop offset=".54" stop-color="#4e399a"/><stop offset=".572" stop-color="#343299"/><stop offset=".661" stop-color="#152b5e"/><stop offset=".727" stop-color="#0f223a"/><stop offset=".848" stop-color="#0d1e2d"/><stop offset="1" stop-color="#0d1e2d"/></linearGradient>
<linearGradient id="a76" x2="0" y2="1"><stop offset="0" stop-color="#ebee5a"/><stop offset=".222" stop-color="#ebee5a"/><stop offset=".259" stop-color="#f7cd44"/><stop offset=".297" stop-color="#faa83d"/><stop offset=".339" stop-color="#f48947"/><stop offset=".404" stop-color="#de7064"/><stop offset=".446" stop-color="#ab5d82"/><stop offset=".474" stop-color="#7d4d8f"/><stop offset=".54" stop-color="#4c399a"/><stop offset=".568" stop-color="#35329b"/><stop offset=".661" stop-color="#152b5d"/><stop offset=".722" stop-color="#0f223b"/><stop offset=".843" stop-color="#0d1e2d"/><stop offset="1" stop-color="#0d1e2d"/></linearGradient>
<linearGradient id="a77" x2="0" y2="1"><stop offset="0" stop-color="#ebee5a"/><stop offset=".231" stop-color="#ebed59"/><stop offset=".264" stop-color="#f7ce45"/><stop offset=".287" stop-color="#fab43e"/><stop offset=".311" stop-color="#f9a03f"/><stop offset=".343" stop-color="#f48848"/><stop offset=".404" stop-color="#df7062"/><stop offset=".437" stop-color="#b9617c"/><stop offset=".474" stop-color="#7e4d8f"/><stop offset=".54" stop-color="#4c399a"/><stop offset=".568" stop-color="#35329a"/><stop offset=".661" stop-color="#152b5d"/><stop offset=".722" stop-color="#0f223b"/><stop offset=".843" stop-color="#0d1e2d"/><stop offset="1" stop-color="#0d1e2d"/></linearGradient>
<linearGradient id="a78" x2="0" y2="1"><stop offset="0" stop-color="#ebee5a"/><stop offset=".241" stop-color="#ebed59"/><stop offset=".269" stop-color="#f6d346"/><stop offset=".287" stop-color="#f9b93f"/><stop offset=".311" stop-color="#faa53e"/><stop offset=".348" stop-color="#f48948"/><stop offset=".404" stop-color="#e17161"/><stop offset=".442" stop-color="#b4607e"/><stop offset=".474" stop-color="#7e4d8f"/><stop offset=".54" stop-color="#4d399a"/><stop offset=".568" stop-color="#35329b"/><stop offset=".661" stop-color="#152b5d"/><stop offset=".722" stop-color="#0f223b"/><stop offset=".843" stop-color="#0d1e2d"/><stop offset="1" stop-color="#0d1e2d"/></linearGradient>
<linearGradient id="a79" x2="0" y2="1"><stop offset="0" stop-color="#ebee5a"/><stop offset=".25" stop-color="#ebed59"/><stop offset=".273" stop-color="#f4d84a"/><stop offset=".287" stop-color="#f9be40"/><stop offset=".311" stop-color="#faa93d"/><stop offset=".353" stop-color="#f48947"/><stop offset=".409" stop-color="#de7063"/><stop offset=".442" stop-color="#b5607e"/><stop offset=".474" stop-color="#804e8f"/><stop offset=".54" stop-color="#4e399a"/><stop offset=".568" stop-color="#35329b"/><stop offset=".661" stop-color="#152b5d"/><stop offset=".722" stop-color="#0f223b"/><stop offset=".843" stop-color="#0d1e2d"/><stop offset="1" stop-color="#0d1e2d"/></linearGradient>
<linearGradient id="a80" x2="0" y2="1"><stop offset="0" stop-color="#ebee5a"/><stop offset=".269" stop-color="#ecec59"/><stop offset=".287" stop-color="#f3dc4c"/><stop offset=".292" stop-color="#f6d246"/><stop offset=".297" stop-color="#f9be40"/><stop offset=".32" stop-color="#faa83d"/><stop offset=".362" stop-color="#f38749"/><stop offset=".409" stop-color="#e17161"/><stop offset=".442" stop-color="#b7617d"/><stop offset=".479" stop-color="#7c4c90"/><stop offset=".54" stop-color="#4e3a9a"/><stop offset=".572" stop-color="#343299"/><stop offset=".661" stop-color="#152b5d"/><stop offset=".722" stop-color="#0f223b"/><stop offset=".843" stop-color="#0d1e2d"/><stop offset="1" stop-color="#0d1e2d"/></linearGradient>
<linearGradient id="a81" x2="0" y2="1"><stop offset="0" stop-color="#ebee5a"/><stop offset=".292" stop-color="#ebee5a"/><stop offset=".315" stop-color="#f3da4b"/><stop offset=".32" stop-color="#f9bc40"/><stop offset=".339" stop-color="#faa53e"/><stop offset=".362" stop-color="#f58a46"/><stop offset=".414" stop-color="#e07162"/><stop offset=".446" stop-color="#b25f7f"/><stop offset=".479" stop-color="#7d4c8f"/><stop offset=".544" stop-color="#4b399a"/><stop offset=".572" stop-color="#343299"/><stop offset=".661" stop-color="#152b5d"/><stop offset=".722" stop-color="#0f223b"/><stop offset=".843" stop-color="#0d1e2d"/><stop offset="1" stop-color="#0d1e2d"/></linearGradient>
<linearGradient id="a82" x2="0" y2="1"><stop offset="0" stop-color="#ebee5a"/><stop offset=".348" stop-color="#ecec58"/><stop offset=".367" stop-color="#f3db4c"/><stop offset=".371" stop-color="#f9bb40"/><stop offset=".376" stop-color="#f58a46"/><stop offset=".418" stop-color="#df7063"/><stop offset=".442" stop-color="#bc627b"/><stop offset=".47" stop-color="#8d538b"/><stop offset=".479" stop-color="#7e4d8f"/><stop offset=".544" stop-color="#4c399a"/><stop offset=".572" stop-color="#35329a"/><stop offset=".661" stop-color="#152b5d"/><stop offset=".722" stop-color="#0f223b"/><stop offset=".843" stop-color="#0d1e2d"/><stop offset="1" stop-color="#0d1e2d"/></linearGradient>
<linearGradient id="a83" x2="0" y2="1"><stop offset="0" stop-color="#ebee5a"/><stop offset=".357" stop-color="#ebee5a"/><stop offset=".381" stop-color="#f3da4c"/><stop offset=".386" stop-color="#fbaa3d"/><stop offset=".39" stop-color="#f48947"/><stop offset=".423" stop-color="#de7063"/><stop offset=".446" stop-color="#b8617d"/><stop offset=".479" stop-color="#824e8e"/><stop offset=".544" stop-color="#4e3a9a"/><stop offset=".572" stop-color="#36329b"/><stop offset=".661" stop-color="#152b5d"/><stop offset=".722" stop-color="#0f223b"/><stop offset=".843" stop-color="#0d1e2d"/><stop offset="1" stop-color="#0d1e2d"/></linearGradient>
<linearGradient id="a84" x2="0" y2="1"><stop offset="0" stop-color="#ebee5a"/><stop offset=".362" stop-color="#ebee5a"/><stop offset=".386" stop-color="#f3d94b"/><stop offset=".39" stop-color="#fbaf3d"/><stop offset=".395" stop-color="#f79343"/><stop offset=".4" stop-color="#f48848"/><stop offset=".428" stop-color="#e07062"/><stop offset=".451" stop-color="#b5607e"/><stop offset=".484" stop-color="#804e8f"/><stop offset=".549" stop-color="#4d399a"/><stop offset=".577" stop-color="#35329a"/><stop offset=".657" stop-color="#162b60"/><stop offset=".722" stop-color="#0f223b"/><stop offset=".843" stop-color="#0d1e2d"/><stop offset="1" stop-color="#0d1e2d"/></linearGradient>
<linearGradient id="a85" x2="0" y2="1"><stop offset="0" stop-color="#ebee5a"/><stop offset=".362" stop-color="#ebee5a"/><stop offset=".386" stop-color="#f4d749"/><stop offset=".39" stop-color="#fab73f"/><stop offset=".4" stop-color="#f99e40"/><stop offset=".409" stop-color="#f58947"/><stop offset=".432" stop-color="#e07161"/><stop offset=".451" stop-color="#bb627b"/><stop offset=".479" stop-color="#8c528c"/><stop offset=".488" stop-color="#7e4d8f"/><stop offset=".554" stop-color="#4b399a"/><stop offset=".582" stop-color="#343299"/><stop offset=".657" stop-color="#162b60"/><stop offset=".722" stop-color="#0f223b"/><stop offset=".843" stop-color="#0d1e2d"/><stop offset="1" stop-color="#0d1e2d"/></linearGradient>
<linearGradient id="a86" x2="0" y2="1"><stop offset="0" stop-color="#ebee5a"/><stop offset=".362" stop-color="#ebed5a"/><stop offset=".381" stop-color="#f2dd4d"/><stop offset=".386" stop-color="#f6d447"/><stop offset=".39" stop-color="#fab73f"/><stop offset=".395" stop-color="#fbac3c"/><stop offset=".414" stop-color="#f38848"/><stop offset=".437" stop-color="#dd6f64"/><stop offset=".456" stop-color="#b7617d"/><stop offset=".484" stop-color="#8a518c"/><stop offset=".498" stop-color="#7a4b90"/><stop offset=".554" stop-color="#4e399a"/><stop offset=".582" stop-color="#35329a"/><stop offset=".657" stop-color="#162b60"/><stop offset=".722" stop-color="#0f223b"/><stop offset=".843" stop-color="#0d1e2d"/><stop offset="1" stop-color="#0d1e2d"/></linearGradient>
<linearGradient id="a87" x2="0" y2="1"><stop offset="0" stop-color="#ebee5a"/><stop offset=".357" stop-color="#ebee5a"/><stop offset=".381" stop-color="#f3da4b"/><stop offset=".386" stop-color="#f9bb40"/><stop offset=".395" stop-color="#faa63e"/><stop offset=".409" stop-color="#f58a46"/><stop offset=".437" stop-color="#de7063"/><stop offset=".46" stop-color="#b25f7f"/><stop offset=".488" stop-color="#88518c"/><stop offset=".507" stop-color="#754992"/><stop offset=".563" stop-color="#48389a"/><stop offset=".586" stop-color="#343299"/><stop offset=".657" stop-color="#162b60"/><stop offset=".722" stop-color="#0f223b"/><stop offset=".843" stop-color="#0d1e2d"/><stop offset="1" stop-color="#0d1e2d"/></linearGradient>
<linearGradient id="a88" x2="0" y2="1"><stop offset="0" stop-color="#ebee5a"/><stop offset=".32" stop-color="#ebee5a"/><stop offset=".343" stop-color="#f3d94b"/><stop offset=".348" stop-color="#f9be41"/><stop offset=".371" stop-color="#faa83d"/><stop offset=".409" stop-color="#f38749"/><stop offset=".437" stop-color="#e07162"/><stop offset=".46" stop-color="#b7617d"/><stop offset=".498" stop-color="#804e8f"/><stop offset=".563" stop-color="#4a389a"/><stop offset=".586" stop-color="#35329b"/><stop offset=".657" stop-color="#162b60"/><stop offset=".722" stop-color="#0f223b"/><stop offset=".843" stop-color="#0d1e2d"/><stop offset="1" stop-color="#0d1e2d"/></linearGradient>
<linearGradient id="a89" x2="0" y2="1"><stop offset="0" stop-color="#ebee5a"/><stop offset=".25" stop-color="#ebee5a"/><stop offset=".283" stop-color="#f5d548"/><stop offset=".353" stop-color="#faa83d"/><stop offset=".404" stop-color="#f58a46"/><stop offset=".437" stop-color="#e17161"/><stop offset=".465" stop-color="#b3607f"/><stop offset=".502" stop-color="#7e4d8f"/><stop offset=".563" stop-color="#4d399a"/><stop offset=".591" stop-color="#343299"/><stop offset=".657" stop-color="#162b60"/><stop offset=".722" stop-color="#0f223b"/><stop offset=".843" stop-color="#0d1e2d"/><stop offset="1" stop-color="#0d1e2d"/></linearGradient>
<linearGradient id="a90" x2="0" y2="1"><stop offset="0" stop-color="#ebee5a"/><stop offset=".255" stop-color="#eced59"/><stop offset=".287" stop-color="#f6d346"/><stop offset=".348" stop-color="#fbaa3d"/><stop offset=".404" stop-color="#f58a46"/><stop offset=".442" stop-color="#dd6f64"/><stop offset=".47" stop-color="#b05f80"/><stop offset=".507" stop-color="#7d4d8f"/><stop offset=".558" stop-color="#543b99"/><stop offset=".591" stop-color="#35329b"/><stop offset=".661" stop-color="#152b5e"/><stop offset=".727" stop-color="#0f213a"/><stop offset=".848" stop-color="#0d1e2d"/><stop offset="1" stop-color="#0d1e2d"/></linearGradient>
<linearGradient id="a91" x2="0" y2="1"><stop offset="0" stop-color="#ebee5a"/><stop offset=".259" stop-color="#ebee5a"/><stop offset=".301" stop-color="#f7cd44"/><stop offset=".339" stop-color="#fab13d"/><stop offset=".404" stop-color="#f68b45"/><stop offset=".442" stop-color="#e07062"/><stop offset=".47" stop-color="#b5607e"/><stop offset=".507" stop-color="#814e8e"/><stop offset=".572" stop-color="#49389a"/><stop offset=".596" stop-color="#343299"/><stop offset=".661" stop-color="#152b5f"/><stop offset=".727" stop-color="#0f223a"/><stop offset=".848" stop-color="#0d1e2d"/><stop offset="1" stop-color="#0d1e2d"/></linearGradient>
<linearGradient id="a92" x2="0" y2="1"><stop offset="0" stop-color="#ebee5a"/><stop offset=".269" stop-color="#ebed59"/><stop offset=".306" stop-color="#f7ce45"/><stop offset=".353" stop-color="#fbab3c"/><stop offset=".409" stop-color="#f58a46"/><stop offset=".442" stop-color="#e27260"/><stop offset=".47" stop-color="#ba627c"/><stop offset=".507" stop-color="#86508d"/><stop offset=".53" stop-color="#704793"/><stop offset=".577" stop-color="#47389a"/><stop offset=".596" stop-color="#35329b"/><stop offset=".661" stop-color="#162b60"/><stop offset=".727" stop-color="#0f223b"/><stop offset=".848" stop-color="#0d1e2d"/><stop offset="1" stop-color="#0d1e2d"/></linearGradient>
<linearGradient id="a93" x2="0" y2="1"><stop offset="0" stop-color="#ebee5a"/><stop offset=".273" stop-color="#ebee5a"/><stop offset=".311" stop-color="#f6d045"/><stop offset=".353" stop-color="#fbaf3d"/><stop offset=".414" stop-color="#f58a46"/><stop offset=".446" stop-color="#e17161"/><stop offset=".474" stop-color="#b8617d"/><stop offset=".516" stop-color="#7e4d8f"/><stop offset=".577" stop-color="#4a389a"/><stop offset=".6" stop-color="#343299"/><stop offset=".666" stop-color="#152b5e"/><stop offset=".731" stop-color="#0f223a"/><stop offset=".848" stop-color="#0d1e2d"/><stop offset="1" stop-color="#0d1e2d"/></linearGradient>
<linearGradient id="a94" x2="0" y2="1"><stop offset="0" stop-color="#ebee5a"/><stop offset=".283" stop-color="#ecec58"/><stop offset=".32" stop-color="#f7cd44"/><stop offset=".367" stop-color="#fbaa3d"/><stop offset=".418" stop-color="#f68b45"/><stop offset=".451" stop-color="#e17161"/><stop offset=".479" stop-color="#b5607e"/><stop offset=".521" stop-color="#7d4d8f"/><stop offset=".577" stop-color="#4d399a"/><stop offset=".6" stop-color="#36329b"/><stop offset=".666" stop-color="#162b5f"/><stop offset=".731" stop-color="#0f223b"/><stop offset=".848" stop-color="#0d1e2d"/><stop offset="1" stop-color="#0d1e2d"/></linearGradient>
<linearGradient id="a95" x2="0" y2="1"><stop offset="0" stop-color="#ebee5a"/><stop offset=".287" stop-color="#ebed5a"/><stop offset=".32" stop-color="#f6d346"/><stop offset=".357" stop-color="#fab53e"/><stop offset=".39" stop-color="#f9a03f"/><stop offset=".428" stop-color="#f48948"/><stop offset=".456" stop-color="#e17161"/><stop offset=".484" stop-color="#b3607f"/><stop offset=".521" stop-color="#814e8e"/><stop offset=".577" stop-color="#503a9a"/><stop offset=".605" stop-color="#34329a"/><stop offset=".666" stop-color="#162c61"/><stop offset=".736" stop-color="#0f213a"/><stop offset=".857" stop-color="#0d1e2d"/><stop offset="1" stop-color="#0d1e2d"/></linearGradient>
<linearGradient id="a96" x2="0" y2="1"><stop offset="0" stop-color="#ebee5a"/><stop offset=".292" stop-color="#ebee5a"/><stop offset=".325" stop-color="#f6d346"/><stop offset=".371" stop-color="#fbaf3c"/><stop offset=".432" stop-color="#f58947"/><stop offset=".46" stop-color="#e17161"/><stop offset=".484" stop-color="#b9617c"/><stop offset=".512" stop-color="#91548a"/><stop offset=".535" stop-color="#784a91"/><stop offset=".586" stop-color="#4a389a"/><stop offset=".605" stop-color="#37339b"/><stop offset=".671" stop-color="#152b5f"/><stop offset=".736" stop-color="#0f223a"/><stop offset=".857" stop-color="#0d1e2d"/><stop offset="1" stop-color="#0d1e2d"/></linearGradient>
<linearGradient id="a97" x2="0" y2="1"><stop offset="0" stop-color="#ebee5a"/><stop offset=".297" stop-color="#ebed59"/><stop offset=".334" stop-color="#f7ce45"/><stop offset=".381" stop-color="#fbab3c"/><stop offset=".437" stop-color="#f58947"/><stop offset=".465" stop-color="#df7063"/><stop offset=".488" stop-color="#b6617d"/><stop offset=".516" stop-color="#90548b"/><stop offset=".544" stop-color="#734892"/><stop offset=".591" stop-color="#48389a"/><stop offset=".61" stop-color="#36329b"/><stop offset=".671" stop-color="#162b5f"/><stop offset=".736" stop-color="#0f223a"/><stop offset=".857" stop-color="#0d1e2d"/><stop offset="1" stop-color="#0d1e2d"/></linearGradient>
<linearGradient id="a98" x2="0" y2="1"><stop offset="0" stop-color="#ebee5a"/><stop offset=".301" stop-color="#ecec59"/><stop offset=".334" stop-color="#f6d246"/><stop offset=".371" stop-color="#fab43e"/><stop offset=".409" stop-color="#f99d40"/><stop offset=".442" stop-color="#f58947"/><stop offset=".47" stop-color="#dd6f64"/><stop offset=".493" stop-color="#b3607e"/><stop offset=".53" stop-color="#834f8e"/><stop offset=".586" stop-color="#513a9a"/><stop offset=".614" stop-color="#35329a"/><stop offset=".671" stop-color="#162b60"/><stop offset=".736" stop-color="#0f223b"/><stop offset=".857" stop-color="#0d1e2d"/><stop offset="1" stop-color="#0d1e2d"/></linearGradient>
<linearGradient id="a99" x2="0" y2="1"><stop offset="0" stop-color="#ebee5a"/><stop offset=".301" stop-color="#ebee5a"/><stop offset=".343" stop-color="#f7cd44"/><stop offset=".381" stop-color="#fbb13d"/><stop offset=".446" stop-color="#f48947"/><stop offset=".47" stop-color="#e2725f"/><stop offset=".493" stop-color="#ba627c"/><stop offset=".516" stop-color="#985788"/><stop offset=".544" stop-color="#794b91"/><stop offset=".596" stop-color="#4b389a"/><stop offset=".619" stop-color="#343299"/><stop offset=".671" stop-color="#162c60"/><stop offset=".736" stop-color="#0f223b"/><stop offset=".857" stop-color="#0d1e2d"/><stop offset="1" stop-color="#0d1e2d"/></linearGradient>
<linearGradient id="a100" x2="0" y2="1"><stop offset="0" stop-color="#ebee5a"/><stop offset=".306" stop-color="#ebee5a"/><stop offset=".343" stop-color="#f6d045"/><stop offset=".381" stop-color="#fab33e"/><stop offset=".409" stop-color="#f9a23f"/><stop offset=".451" stop-color="#f48947"/><stop offset=".474" stop-color="#e17260"/><stop offset=".493" stop-color="#c0647a"/><stop offset=".512" stop-color="#a15a86"/><stop offset=".549" stop-color="#774a91"/><stop offset=".6" stop-color="#49389a"/><stop offset=".619" stop-color="#36329b"/><stop offset=".675" stop-color="#152b5e"/><stop offset=".741" stop-color="#0f213a"/><stop offset=".857" stop-color="#0d1e2d"/><stop offset="1" stop-color="#0d1e2d"/></linearGradient>
<linearGradient id="a101" x2="0" y2="1"><stop offset="0" stop-color="#ebee5a"/><stop offset=".311" stop-color="#ebee5a"/><stop offset=".343" stop-color="#f6d346"/><stop offset=".39" stop-color="#fbb03d"/><stop offset=".456" stop-color="#f48947"/><stop offset=".479" stop-color="#e07161"/><stop offset=".498" stop-color="#bc627b"/><stop offset=".516" stop-color="#9e5987"/><stop offset=".549" stop-color="#784a91"/><stop offset=".6" stop-color="#4b389a"/><stop offset=".624" stop-color="#343299"/><stop offset=".671" stop-color="#162c61"/><stop offset=".741" stop-color="#0f223a"/><stop offset=".857" stop-color="#0d1e2d"/><stop offset="1" stop-color="#0d1e2d"/></linearGradient>
<linearGradient id="a102" x2="0" y2="1"><stop offset="0" stop-color="#ebee5a"/><stop offset=".315" stop-color="#ebed59"/><stop offset=".353" stop-color="#f7ce45"/><stop offset=".4" stop-color="#fbac3c"/><stop offset=".46" stop-color="#f48848"/><stop offset=".484" stop-color="#de7063"/><stop offset=".502" stop-color="#b7617d"/><stop offset=".526" stop-color="#945589"/><stop offset=".554" stop-color="#754992"/><stop offset=".6" stop-color="#4c399a"/><stop offset=".624" stop-color="#35329b"/><stop offset=".671" stop-color="#162c62"/><stop offset=".741" stop-color="#0f223a"/><stop offset=".857" stop-color="#0d1e2d"/><stop offset="1" stop-color="#0d1e2d"/></linearGradient>
<linearGradient id="a103" x2="0" y2="1"><stop offset="0" stop-color="#ebee5a"/><stop offset=".32" stop-color="#ecec58"/><stop offset=".353" stop-color="#f6d146"/><stop offset=".4" stop-color="#fbaf3c"/><stop offset=".46" stop-color="#f68b45"/><stop offset=".484" stop-color="#e2735f"/><stop offset=".502" stop-color="#bd637b"/><stop offset=".512" stop-color="#aa5d82"/><stop offset=".549" stop-color="#7a4b90"/><stop offset=".605" stop-color="#49389a"/><stop offset=".624" stop-color="#36329b"/><stop offset=".671" stop-color="#162c63"/><stop offset=".741" stop-color="#0f223b"/><stop offset=".857" stop-color="#0d1e2d"/><stop offset="1" stop-color="#0d1e2d"/></linearGradient>
<linearGradient id="a104" x2="0" y2="1"><stop offset="0" stop-color="#ebee5a"/><stop offset=".32" stop-color="#ebee5a"/><stop offset=".357" stop-color="#f6d145"/><stop offset=".404" stop-color="#fbae3c"/><stop offset=".465" stop-color="#f58a47"/><stop offset=".488" stop-color="#e07162"/><stop offset=".507" stop-color="#b7617d"/><stop offset=".535" stop-color="#8d538b"/><stop offset=".554" stop-color="#784a91"/><stop offset=".605" stop-color="#4a389a"/><stop offset=".624" stop-color="#37339b"/><stop offset=".675" stop-color="#162b60"/><stop offset=".741" stop-color="#0f223b"/><stop offset=".862" stop-color="#0d1e2d"/><stop offset="1" stop-color="#0d1e2d"/></linearGradient>
<linearGradient id="a105" x2="0" y2="1"><stop offset="0" stop-color="#ebee5a"/><stop offset=".325" stop-color="#ebed59"/><stop offset=".362" stop-color="#f6d045"/><stop offset=".418" stop-color="#faa83d"/><stop offset=".465" stop-color="#f68c45"/><stop offset=".488" stop-color="#e3745e"/><stop offset=".502" stop-color="#c86774"/><stop offset=".516" stop-color="#aa5d82"/><stop offset=".549" stop-color="#7d4c8f"/><stop offset=".6" stop-color="#4f3a9a"/><stop offset=".629" stop-color="#343299"/><stop offset=".675" stop-color="#162b60"/><stop offset=".741" stop-color="#0f223b"/><stop offset=".862" stop-color="#0d1e2d"/><stop offset="1" stop-color="#0d1e2d"/></linearGradient>
<linearGradient id="a106" x2="0" y2="1"><stop offset="0" stop-color="#ebee5a"/><stop offset=".329" stop-color="#ecec58"/><stop offset=".357" stop-color="#f5d548"/><stop offset=".418" stop-color="#fbaa3d"/><stop offset=".47" stop-color="#f68b45"/><stop offset=".493" stop-color="#e17160"/><stop offset=".512" stop-color="#b8617d"/><stop offset=".521" stop-color="#a65c84"/><stop offset=".549" stop-color="#7e4d8f"/><stop offset=".6" stop-color="#513a9a"/><stop offset=".629" stop-color="#34329a"/><stop offset=".675" stop-color="#162c60"/><stop offset=".741" stop-color="#0f223b"/><stop offset=".862" stop-color="#0d1e2d"/><stop offset="1" stop-color="#0d1e2d"/></linearGradient>
<linearGradient id="a107" x2="0" y2="1"><stop offset="0" stop-color="#ebee5a"/><stop offset=".329" stop-color="#ebee5a"/><stop offset=".367" stop-color="#f6d246"/><stop offset=".423" stop-color="#faa93d"/><stop offset=".474" stop-color="#f48948"/><stop offset=".498" stop-color="#de7063"/><stop offset=".516" stop-color="#b25f7f"/><stop offset=".549" stop-color="#804e8f"/><stop offset=".61" stop-color="#48389a"/><stop offset=".629" stop-color="#35329b"/><stop offset=".675" stop-color="#162c60"/><stop offset=".745" stop-color="#0f213a"/><stop offset=".867" stop-color="#0d1e2d"/><stop offset="1" stop-color="#0d1e2d"/></linearGradient>
<linearGradient id="a108" x2="0" y2="1"><stop offset="0" stop-color="#ebee5a"/><stop offset=".334" stop-color="#ebee5a"/><stop offset=".367" stop-color="#f6d447"/><stop offset=".428" stop-color="#faa93d"/><stop offset=".474" stop-color="#f68c45"/><stop offset=".498" stop-color="#e2725f"/><stop offset=".516" stop-color="#b8617d"/><stop offset=".53" stop-color="#9e5987"/><stop offset=".554" stop-color="#7c4c8f"/><stop offset=".605" stop-color="#4e399a"/><stop offset=".629" stop-color="#36329b"/><stop offset=".675" stop-color="#162c61"/><stop offset=".745" stop-color="#0f213a"/><stop offset=".867" stop-color="#0d1e2d"/><stop offset="1" stop-color="#0d1e2d"/></linearGradient>
<linearGradient id="a109" x2="0" y2="1"><stop offset="0" stop-color="#ebee5a"/><stop offset=".339" stop-color="#ecec59"/><stop offset=".371" stop-color="#f6d346"/><stop offset=".432" stop-color="#faa83d"/><stop offset=".479" stop-color="#f58a47"/><stop offset=".502" stop-color="#e07162"/><stop offset=".521" stop-color="#b3607f"/><stop offset=".554" stop-color="#7e4d8f"/><stop offset=".605" stop-color="#4f3a9a"/><stop offset=".629" stop-color="#37339b"/><stop offset=".675" stop-color="#162c61"/><stop offset=".745" stop-color="#0f223a"/><stop offset=".867" stop-color="#0d1e2d"/><stop offset="1" stop-color="#0d1e2d"/></linearGradient>
<linearGradient id="a110" x2="0" y2="1"><stop offset="0" stop-color="#ebee5a"/><stop offset=".339" stop-color="#ebee5a"/><stop offset=".376" stop-color="#f6d246"/><stop offset=".432" stop-color="#faaa3d"/><stop offset=".479" stop-color="#f68c45"/><stop offset=".502" stop-color="#e3735e"/><stop offset=".512" stop-color="#d16a6d"/><stop offset=".526" stop-color="#af5e80"/><stop offset=".558" stop-color="#7c4c90"/><stop offset=".614" stop-color="#47379a"/><stop offset=".633" stop-color="#343298"/><stop offset=".675" stop-color="#162c61"/><stop offset=".745" stop-color="#0f223a"/><stop offset=".867" stop-color="#0d1e2d"/><stop offset="1" stop-color="#0d1e2d"/></linearGradient>
<linearGradient id="a111" x2="0" y2="1"><stop offset="0" stop-color="#ebee5a"/><stop offset=".343" stop-color="#ebee5a"/><stop offset=".376" stop-color="#f6d447"/><stop offset=".432" stop-color="#fbab3c"/><stop offset=".484" stop-color="#f68b45"/><stop offset=".507" stop-color="#e17160"/><stop offset=".526" stop-color="#b5607e"/><stop offset=".554" stop-color="#86508d"/><stop offset=".563" stop-color="#7a4b90"/><stop offset=".605" stop-color="#523b9a"/><stop offset=".633" stop-color="#34329a"/><stop offset=".675" stop-color="#162c62"/><stop offset=".745" stop-color="#0f223a"/><stop offset=".867" stop-color="#0d1e2d"/><stop offset="1" stop-color="#0d1e2d"/></linearGradient>
<linearGradient id="a112" x2="0" y2="1"><stop offset="0" stop-color="#ebee5a"/><stop offset=".348" stop-color="#ebed59"/><stop offset=".381" stop-color="#f6d346"/><stop offset=".437" stop-color="#fbaa3d"/><stop offset=".488" stop-color="#f48948"/><stop offset=".512" stop-color="#de7063"/><stop offset=".53" stop-color="#b15f80"/><stop offset=".563" stop-color="#7c4c90"/><stop offset=".61" stop-color="#4f3a9a"/><stop offset=".633" stop-color="#35329b"/><stop offset=".675" stop-color="#162c62"/><stop offset=".745" stop-color="#0f223a"/><stop offset=".867" stop-color="#0d1e2d"/><stop offset="1" stop-color="#0d1e2d"/></linearGradient>
<linearGradient id="a113" x2="0" y2="1"><stop offset="0" stop-color="#ebee5a"/><stop offset=".353" stop-color="#ecec58"/><stop offset=".386" stop-color="#f6d246"/><stop offset=".442" stop-color="#faa93d"/><stop offset=".488" stop-color="#f68b45"/><stop offset=".512" stop-color="#e2725f"/><stop offset=".53" stop-color="#b8617d"/><stop offset=".554" stop-color="#8d538b"/><stop offset=".568" stop-color="#7a4b90"/><stop offset=".614" stop-color="#4b399a"/><stop offset=".633" stop-color="#36329b"/><stop offset=".675" stop-color="#172c63"/><stop offset=".745" stop-color="#0f223b"/><stop offset=".862" stop-color="#0d1e2d"/><stop offset="1" stop-color="#0d1e2d"/></linearGradient>
<linearGradient id="a114" x2="0" y2="1"><stop offset="0" stop-color="#ebee5a"/><stop offset=".353" stop-color="#ebee5a"/><stop offset=".39" stop-color="#f6d145"/><stop offset=".446" stop-color="#faa83d"/><stop offset=".493" stop-color="#f58a47"/><stop offset=".516" stop-color="#e07162"/><stop offset=".535" stop-color="#b3607f"/><stop offset=".563" stop-color="#824f8e"/><stop offset=".614" stop-color="#4d399a"/><stop offset=".633" stop-color="#37339b"/><stop offset=".675" stop-color="#172c64"/><stop offset=".745" stop-color="#0f223b"/><stop offset=".867" stop-color="#0d1e2d"/><stop offset="1" stop-color="#0d1e2d"/></linearGradient>
<linearGradient id="a115" x2="0" y2="1"><stop offset="0" stop-color="#ebee5a"/><stop offset=".357" stop-color="#ebed59"/><stop offset=".395" stop-color="#f6cf45"/><stop offset=".446" stop-color="#faa93d"/><stop offset=".493" stop-color="#f68c45"/><stop offset=".516" stop-color="#e3735f"/><stop offset=".53" stop-color="#c56676"/><stop offset=".544" stop-color="#a55b84"/><stop offset=".572" stop-color="#794b90"/><stop offset=".614" stop-color="#4e3a9a"/><stop offset=".633" stop-color="#38339b"/><stop offset=".652" stop-color="#293085"/><stop offset=".68" stop-color="#162b60"/><stop offset=".745" stop-color="#0f223b"/><stop offset=".867" stop-color="#0d1e2d"/><stop offset="1" stop-color="#0d1e2d"/></linearGradient>
<linearGradient id="a116" x2="0" y2="1"><stop offset="0" stop-color="#ebee5a"/><stop offset=".357" stop-color="#ebee5a"/><stop offset=".395" stop-color="#f6d145"/><stop offset=".451" stop-color="#faa83d"/><stop offset=".498" stop-color="#f58a46"/><stop offset=".521" stop-color="#df7062"/><stop offset=".54" stop-color="#b25f7f"/><stop offset=".572" stop-color="#7b4c90"/><stop offset=".619" stop-color="#4a389a"/><stop offset=".638" stop-color="#34329a"/><stop offset=".68" stop-color="#162c60"/><stop offset=".745" stop-color="#0f223b"/><stop offset=".867" stop-color="#0d1e2d"/><stop offset="1" stop-color="#0d1e2d"/></linearGradient>
<linearGradient id="a117" x2="0" y2="1"><stop offset="0" stop-color="#ebee5a"/><stop offset=".362" stop-color="#ebed59"/><stop offset=".4" stop-color="#f7cf45"/><stop offset=".451" stop-color="#faa93d"/><stop offset=".498" stop-color="#f68c45"/><stop offset=".521" stop-color="#e27260"/><stop offset=".54" stop-color="#b7617d"/><stop offset=".563" stop-color="#8c528c"/><stop offset=".577" stop-color="#784a91"/><stop offset=".619" stop-color="#4b399a"/><stop offset=".638" stop-color="#35329b"/><stop offset=".68" stop-color="#162c60"/><stop offset=".75" stop-color="#0f213a"/><stop offset=".867" stop-color="#0d1e2d"/><stop offset="1" stop-color="#0d1e2d"/></linearGradient>
<linearGradient id="a118" x2="0" y2="1"><stop offset="0" stop-color="#ebee5a"/><stop offset=".362" stop-color="#ebee5a"/><stop offset=".4" stop-color="#f6d145"/><stop offset=".456" stop-color="#faa73d"/><stop offset=".502" stop-color="#f58a46"/><stop offset=".526" stop-color="#dd6f64"/><stop offset=".544" stop-color="#b05f80"/><stop offset=".572" stop-color="#7f4e8f"/><stop offset=".619" stop-color="#4d399a"/><stop offset=".638" stop-color="#36329b"/><stop offset=".68" stop-color="#162c61"/><stop offset=".75" stop-color="#0f213a"/><stop offset=".867" stop-color="#0d1e2d"/><stop offset="1" stop-color="#0d1e2d"/></linearGradient>
<linearGradient id="a119" x2="0" y2="1"><stop offset="0" stop-color="#ebee5a"/><stop offset=".367" stop-color="#ebed59"/><stop offset=".404" stop-color="#f7cf45"/><stop offset=".451" stop-color="#fbac3c"/><stop offset=".502" stop-color="#f68c45"/><stop offset=".526" stop-color="#e17161"/><stop offset=".544" stop-color="#b4607e"/><stop offset=".577" stop-color="#7c4c90"/><stop offset=".624" stop-color="#49389a"/><stop offset=".638" stop-color="#37339b"/><stop offset=".671" stop-color="#1d2d6e"/><stop offset=".685" stop-color="#152b5e"/><stop offset=".75" stop-color="#0f223a"/><stop offset=".867" stop-color="#0d1e2d"/><stop offset="1" stop-color="#0d1e2d"/></linearGradient>
<linearGradient id="a120" x2="0" y2="1"><stop offset="0" stop-color="#ebee5a"/><stop offset=".367" stop-color="#ebee5a"/><stop offset=".404" stop-color="#f6d045"/><stop offset=".456" stop-color="#fbaa3d"/><stop offset=".507" stop-color="#f58a46"/><stop offset=".526" stop-color="#e3735e"/><stop offset=".54" stop-color="#c56676"/><stop offset=".554" stop-color="#a55b84"/><stop offset=".582" stop-color="#794b90"/><stop offset=".624" stop-color="#4a389a"/><stop offset=".643" stop-color="#333298"/><stop offset=".68" stop-color="#162c61"/><stop offset=".75" stop-color="#0f223a"/><stop offset=".867" stop-color="#0d1e2d"/><stop offset="1" stop-color="#0d1e2d"/></linearGradient>
<linearGradient id="a121" x2="0" y2="1"><stop offset="0" stop-color="#ebee5a"/><stop offset=".371" stop-color="#eced59"/><stop offset=".409" stop-color="#f7ce45"/><stop offset=".46" stop-color="#faa83d"/><stop offset=".507" stop-color="#f68c45"/><stop offset=".53" stop-color="#de7063"/><stop offset=".549" stop-color="#b05f80"/><stop offset=".582" stop-color="#7a4b90"/><stop offset=".624" stop-color="#4b399a"/><stop offset=".643" stop-color="#343299"/><stop offset=".68" stop-color="#162c62"/><stop offset=".75" stop-color="#0f223a"/><stop offset=".867" stop-color="#0d1e2d"/><stop offset="1" stop-color="#0d1e2d"/></linearGradient>
<linearGradient id="a122" x2="0" y2="1"><stop offset="0" stop-color="#ebee5a"/><stop offset=".367" stop-color="#ecec58"/><stop offset=".395" stop-color="#f5d548"/><stop offset=".456" stop-color="#fbab3d"/><stop offset=".507" stop-color="#f68c45"/><stop offset=".53" stop-color="#df7063"/><stop offset=".549" stop-color="#b05f80"/><stop offset=".577" stop-color="#7f4e8f"/><stop offset=".624" stop-color="#4b399a"/><stop offset=".643" stop-color="#343299"/><stop offset=".68" stop-color="#162c62"/><stop offset=".75" stop-color="#0f223a"/><stop offset=".867" stop-color="#0d1e2d"/><stop offset="1" stop-color="#0d1e2d"/></linearGradient>
<linearGradient id="a123" x2="0" y2="1"><stop offset="0" stop-color="#ebee5a"/><stop offset=".357" stop-color="#ebee5a"/><stop offset=".39" stop-color="#f5d548"/><stop offset=".456" stop-color="#fbaa3d"/><stop offset=".507" stop-color="#f68c45"/><stop offset=".521" stop-color="#ea7c55"/><stop offset=".53" stop-color="#df7063"/><stop offset=".544" stop-color="#ba627c"/><stop offset=".558" stop-color="#9d5987"/><stop offset=".582" stop-color="#794b90"/><stop offset=".624" stop-color="#4b399a"/><stop offset=".643" stop-color="#343299"/><stop offset=".68" stop-color="#162c62"/><stop offset=".75" stop-color="#0f223a"/><stop offset=".867" stop-color="#0d1e2d"/><stop offset="1" stop-color="#0d1e2d"/></linearGradient>
<linearGradient id="a124" x2="0" y2="1"><stop offset="0" stop-color="#ebee5a"/><stop offset=".353" stop-color="#ebee5a"/><stop offset=".386" stop-color="#f5d548"/><stop offset=".456" stop-color="#fbaa3d"/><stop offset=".512" stop-color="#f48848"/><stop offset=".53" stop-color="#df7063"/><stop offset=".544" stop-color="#b8617d"/><stop offset=".554" stop-color="#a45b85"/><stop offset=".577" stop-color="#7d4d8f"/><stop offset=".624" stop-color="#4b389a"/><stop offset=".643" stop-color="#343299"/><stop offset=".68" stop-color="#162c62"/><stop offset=".75" stop-color="#0f223a"/><stop offset=".867" stop-color="#0d1e2d"/><stop offset="1" stop-color="#0d1e2d"/></linearGradient>
<linearGradient id="a125" x2="0" y2="1"><stop offset="0" stop-color="#ebee5a"/><stop offset=".353" stop-color="#ebee5a"/><stop offset=".395" stop-color="#f6d045"/><stop offset=".456" stop-color="#faaa3d"/><stop offset=".512" stop-color="#f48947"/><stop offset=".53" stop-color="#df7063"/><stop offset=".54" stop-color="#c46577"/><stop offset=".549" stop-color="#ab5d82"/><stop offset=".577" stop-color="#7c4c90"/><stop offset=".624" stop-color="#4a389a"/><stop offset=".643" stop-color="#343299"/><stop offset=".68" stop-color="#162c62"/><stop offset=".75" stop-color="#0f223a"/><stop offset=".867" stop-color="#0d1e2d"/><stop offset="1" stop-color="#0d1e2d"/></linearGradient>
<linearGradient id="a126" x2="0" y2="1"><stop offset="0" stop-color="#ebee5a"/><stop offset=".357" stop-color="#ebee5a"/><stop offset=".39" stop-color="#f6d447"/><stop offset=".456" stop-color="#faa93d"/><stop offset=".512" stop-color="#f58947"/><stop offset=".53" stop-color="#df7063"/><stop offset=".544" stop-color="#b3607f"/><stop offset=".577" stop-color="#7b4c90"/><stop offset=".624" stop-color="#4a389a"/><stop offset=".643" stop-color="#343299"/><stop offset=".68" stop-color="#162c62"/><stop offset=".75" stop-color="#0f223a"/><stop offset=".867" stop-color="#0d1e2d"/><stop offset="1" stop-color="#0d1e2d"/></linearGradient>
<linearGradient id="a127" x2="0" y2="1"><stop offset="0" stop-color="#ebee5a"/><stop offset=".362" stop-color="#ecec58"/><stop offset=".395" stop-color="#f6d246"/><stop offset=".442" stop-color="#fbb13d"/><stop offset=".512" stop-color="#f58a46"/><stop offset=".53" stop-color="#de7063"/><stop offset=".54" stop-color="#c16479"/><stop offset=".544" stop-color="#b05f80"/><stop offset=".572" stop-color="#804e8f"/><stop offset=".624" stop-color="#4a389a"/><stop offset=".643" stop-color="#343299"/><stop offset=".68" stop-color="#162c62"/><stop offset=".75" stop-color="#0f223a"/><stop offset=".867" stop-color="#0d1e2d"/><stop offset="1" stop-color="#0d1e2d"/></linearGradient></defs>
<g clip-path="url(#cp)"><g filter="url(#bl)">
<rect x="-20.00" y="0" width="24.30" height="427.8" fill="url(#a0)"/>
<rect x="3.70" y="0" width="4.60" height="427.8" fill="url(#a1)"/>
<rect x="7.69" y="0" width="4.60" height="427.8" fill="url(#a2)"/>
<rect x="11.69" y="0" width="4.60" height="427.8" fill="url(#a3)"/>
<rect x="15.68" y="0" width="4.60" height="427.8" fill="url(#a4)"/>
<rect x="19.68" y="0" width="4.60" height="427.8" fill="url(#a5)"/>
<rect x="23.68" y="0" width="4.60" height="427.8" fill="url(#a6)"/>
<rect x="27.67" y="0" width="4.60" height="427.8" fill="url(#a7)"/>
<rect x="31.67" y="0" width="4.60" height="427.8" fill="url(#a8)"/>
<rect x="35.66" y="0" width="4.60" height="427.8" fill="url(#a9)"/>
<rect x="39.66" y="0" width="4.60" height="427.8" fill="url(#a10)"/>
<rect x="43.66" y="0" width="4.60" height="427.8" fill="url(#a11)"/>
<rect x="47.65" y="0" width="4.60" height="427.8" fill="url(#a12)"/>
<rect x="51.65" y="0" width="4.60" height="427.8" fill="url(#a13)"/>
<rect x="55.65" y="0" width="4.60" height="427.8" fill="url(#a14)"/>
<rect x="59.64" y="0" width="4.60" height="427.8" fill="url(#a15)"/>
<rect x="63.64" y="0" width="4.60" height="427.8" fill="url(#a16)"/>
<rect x="67.63" y="0" width="4.60" height="427.8" fill="url(#a17)"/>
<rect x="71.63" y="0" width="4.60" height="427.8" fill="url(#a18)"/>
<rect x="75.63" y="0" width="4.60" height="427.8" fill="url(#a19)"/>
<rect x="79.62" y="0" width="4.60" height="427.8" fill="url(#a20)"/>
<rect x="83.62" y="0" width="4.60" height="427.8" fill="url(#a21)"/>
<rect x="87.61" y="0" width="4.60" height="427.8" fill="url(#a22)"/>
<rect x="91.61" y="0" width="4.60" height="427.8" fill="url(#a23)"/>
<rect x="95.61" y="0" width="4.60" height="427.8" fill="url(#a24)"/>
<rect x="99.60" y="0" width="4.60" height="427.8" fill="url(#a25)"/>
<rect x="103.60" y="0" width="4.60" height="427.8" fill="url(#a26)"/>
<rect x="107.59" y="0" width="4.60" height="427.8" fill="url(#a27)"/>
<rect x="111.59" y="0" width="4.60" height="427.8" fill="url(#a28)"/>
<rect x="115.59" y="0" width="4.60" height="427.8" fill="url(#a29)"/>
<rect x="119.58" y="0" width="4.60" height="427.8" fill="url(#a30)"/>
<rect x="123.58" y="0" width="4.60" height="427.8" fill="url(#a31)"/>
<rect x="127.58" y="0" width="4.60" height="427.8" fill="url(#a32)"/>
<rect x="131.57" y="0" width="4.60" height="427.8" fill="url(#a33)"/>
<rect x="135.57" y="0" width="4.60" height="427.8" fill="url(#a34)"/>
<rect x="139.56" y="0" width="4.60" height="427.8" fill="url(#a35)"/>
<rect x="143.56" y="0" width="4.60" height="427.8" fill="url(#a36)"/>
<rect x="147.56" y="0" width="4.60" height="427.8" fill="url(#a37)"/>
<rect x="151.55" y="0" width="4.60" height="427.8" fill="url(#a38)"/>
<rect x="155.55" y="0" width="4.60" height="427.8" fill="url(#a39)"/>
<rect x="159.54" y="0" width="4.60" height="427.8" fill="url(#a40)"/>
<rect x="163.54" y="0" width="4.60" height="427.8" fill="url(#a41)"/>
<rect x="167.54" y="0" width="4.60" height="427.8" fill="url(#a42)"/>
<rect x="171.53" y="0" width="4.60" height="427.8" fill="url(#a43)"/>
<rect x="175.53" y="0" width="4.60" height="427.8" fill="url(#a44)"/>
<rect x="179.52" y="0" width="4.60" height="427.8" fill="url(#a45)"/>
<rect x="183.52" y="0" width="4.60" height="427.8" fill="url(#a46)"/>
<rect x="187.52" y="0" width="4.60" height="427.8" fill="url(#a47)"/>
<rect x="191.51" y="0" width="4.60" height="427.8" fill="url(#a48)"/>
<rect x="195.51" y="0" width="4.60" height="427.8" fill="url(#a49)"/>
<rect x="199.50" y="0" width="4.60" height="427.8" fill="url(#a50)"/>
<rect x="203.50" y="0" width="4.60" height="427.8" fill="url(#a51)"/>
<rect x="207.50" y="0" width="4.60" height="427.8" fill="url(#a52)"/>
<rect x="211.49" y="0" width="4.60" height="427.8" fill="url(#a53)"/>
<rect x="215.49" y="0" width="4.60" height="427.8" fill="url(#a54)"/>
<rect x="219.49" y="0" width="4.60" height="427.8" fill="url(#a55)"/>
<rect x="223.48" y="0" width="4.60" height="427.8" fill="url(#a56)"/>
<rect x="227.48" y="0" width="4.60" height="427.8" fill="url(#a57)"/>
<rect x="231.47" y="0" width="4.60" height="427.8" fill="url(#a58)"/>
<rect x="235.47" y="0" width="4.60" height="427.8" fill="url(#a59)"/>
<rect x="239.47" y="0" width="4.60" height="427.8" fill="url(#a60)"/>
<rect x="243.46" y="0" width="4.60" height="427.8" fill="url(#a61)"/>
<rect x="247.46" y="0" width="4.60" height="427.8" fill="url(#a62)"/>
<rect x="251.45" y="0" width="4.60" height="427.8" fill="url(#a63)"/>
<rect x="255.45" y="0" width="4.60" height="427.8" fill="url(#a64)"/>
<rect x="259.45" y="0" width="4.60" height="427.8" fill="url(#a65)"/>
<rect x="263.44" y="0" width="4.60" height="427.8" fill="url(#a66)"/>
<rect x="267.44" y="0" width="4.60" height="427.8" fill="url(#a67)"/>
<rect x="271.43" y="0" width="4.60" height="427.8" fill="url(#a68)"/>
<rect x="275.43" y="0" width="4.60" height="427.8" fill="url(#a69)"/>
<rect x="279.43" y="0" width="4.60" height="427.8" fill="url(#a70)"/>
<rect x="283.42" y="0" width="4.60" height="427.8" fill="url(#a71)"/>
<rect x="287.42" y="0" width="4.60" height="427.8" fill="url(#a72)"/>
<rect x="291.41" y="0" width="4.60" height="427.8" fill="url(#a73)"/>
<rect x="295.41" y="0" width="4.60" height="427.8" fill="url(#a74)"/>
<rect x="299.41" y="0" width="4.60" height="427.8" fill="url(#a75)"/>
<rect x="303.40" y="0" width="4.60" height="427.8" fill="url(#a76)"/>
<rect x="307.40" y="0" width="4.60" height="427.8" fill="url(#a77)"/>
<rect x="311.40" y="0" width="4.60" height="427.8" fill="url(#a78)"/>
<rect x="315.39" y="0" width="4.60" height="427.8" fill="url(#a79)"/>
<rect x="319.39" y="0" width="4.60" height="427.8" fill="url(#a80)"/>
<rect x="323.38" y="0" width="4.60" height="427.8" fill="url(#a81)"/>
<rect x="327.38" y="0" width="4.60" height="427.8" fill="url(#a82)"/>
<rect x="331.38" y="0" width="4.60" height="427.8" fill="url(#a83)"/>
<rect x="335.37" y="0" width="4.60" height="427.8" fill="url(#a84)"/>
<rect x="339.37" y="0" width="4.60" height="427.8" fill="url(#a85)"/>
<rect x="343.36" y="0" width="4.60" height="427.8" fill="url(#a86)"/>
<rect x="347.36" y="0" width="4.60" height="427.8" fill="url(#a87)"/>
<rect x="351.36" y="0" width="4.60" height="427.8" fill="url(#a88)"/>
<rect x="355.35" y="0" width="4.60" height="427.8" fill="url(#a89)"/>
<rect x="359.35" y="0" width="4.60" height="427.8" fill="url(#a90)"/>
<rect x="363.34" y="0" width="4.60" height="427.8" fill="url(#a91)"/>
<rect x="367.34" y="0" width="4.60" height="427.8" fill="url(#a92)"/>
<rect x="371.34" y="0" width="4.60" height="427.8" fill="url(#a93)"/>
<rect x="375.33" y="0" width="4.60" height="427.8" fill="url(#a94)"/>
<rect x="379.33" y="0" width="4.60" height="427.8" fill="url(#a95)"/>
<rect x="383.32" y="0" width="4.60" height="427.8" fill="url(#a96)"/>
<rect x="387.32" y="0" width="4.60" height="427.8" fill="url(#a97)"/>
<rect x="391.32" y="0" width="4.60" height="427.8" fill="url(#a98)"/>
<rect x="395.31" y="0" width="4.60" height="427.8" fill="url(#a99)"/>
<rect x="399.31" y="0" width="4.60" height="427.8" fill="url(#a100)"/>
<rect x="403.31" y="0" width="4.60" height="427.8" fill="url(#a101)"/>
<rect x="407.30" y="0" width="4.60" height="427.8" fill="url(#a102)"/>
<rect x="411.30" y="0" width="4.60" height="427.8" fill="url(#a103)"/>
<rect x="415.29" y="0" width="4.60" height="427.8" fill="url(#a104)"/>
<rect x="419.29" y="0" width="4.60" height="427.8" fill="url(#a105)"/>
<rect x="423.29" y="0" width="4.60" height="427.8" fill="url(#a106)"/>
<rect x="427.28" y="0" width="4.60" height="427.8" fill="url(#a107)"/>
<rect x="431.28" y="0" width="4.60" height="427.8" fill="url(#a108)"/>
<rect x="435.27" y="0" width="4.60" height="427.8" fill="url(#a109)"/>
<rect x="439.27" y="0" width="4.60" height="427.8" fill="url(#a110)"/>
<rect x="443.27" y="0" width="4.60" height="427.8" fill="url(#a111)"/>
<rect x="447.26" y="0" width="4.60" height="427.8" fill="url(#a112)"/>
<rect x="451.26" y="0" width="4.60" height="427.8" fill="url(#a113)"/>
<rect x="455.25" y="0" width="4.60" height="427.8" fill="url(#a114)"/>
<rect x="459.25" y="0" width="4.60" height="427.8" fill="url(#a115)"/>
<rect x="463.25" y="0" width="4.60" height="427.8" fill="url(#a116)"/>
<rect x="467.24" y="0" width="4.60" height="427.8" fill="url(#a117)"/>
<rect x="471.24" y="0" width="4.60" height="427.8" fill="url(#a118)"/>
<rect x="475.24" y="0" width="4.60" height="427.8" fill="url(#a119)"/>
<rect x="479.23" y="0" width="4.60" height="427.8" fill="url(#a120)"/>
<rect x="483.23" y="0" width="4.60" height="427.8" fill="url(#a121)"/>
<rect x="487.22" y="0" width="4.60" height="427.8" fill="url(#a122)"/>
<rect x="491.22" y="0" width="4.60" height="427.8" fill="url(#a123)"/>
<rect x="495.22" y="0" width="4.60" height="427.8" fill="url(#a124)"/>
<rect x="499.21" y="0" width="4.60" height="427.8" fill="url(#a125)"/>
<rect x="503.21" y="0" width="4.60" height="427.8" fill="url(#a126)"/>
<rect x="507.20" y="0" width="24.30" height="427.8" fill="url(#a127)"/>
</g></g>
<g clip-path="url(#cp)"><g id="ct">
<path d="M-0.1 104.7L4.4 99.5L6.7 96.3L8.3 101.1L9.9 97.1L12.3 99.5L16.2 98.4L24.1 97.4L30.5 96.3L33.6 97.4L38.4 93.9L44.7 91.6L51.0 90.8L52.6 86.0L53.4 91.6L56.6 90.5M85.1 106.9L90.6 109.8L103.3 113.7L119.1 118.5L134.9 123.2L149.2 128.0L158.7 130.7L170.4 134.8L178.3 137.5L189.4 137.5L202.1 133.5L213.1 127.2L222.6 116.1L233.7 103.4L241.6 95.5L248.0 92.7L252.7 93.9L256.7 99.5L260.6 105.8L263.0 109.8M279.6 126.4L284.4 123.2L290.7 121.6L297.0 120.1L304.9 118.5L312.9 120.5L319.2 122.8L324.7 125.6L327.9 128.0L329.5 124.0L331.8 114.5L335.8 100.3L340.4 90.8L342.8 89.2L345.9 93.2L348.3 103.4L350.7 114.5L353.1 127.2L355.4 141.4L359.4 149.4L365.7 158.1L372.1 163.6L380.0 169.9L386.3 174.4L391.1 176.6M423.5 192.1L429.1 189.7L433.8 186.6L437.0 184.5L440.1 187.4L442.5 192.9L444.9 196.9L451.2 199.2L460.7 202.9L470.2 206.0L479.7 208.3L489.2 209.8L498.7 209.5L512.2 208.7M-0.1 221.0L3.6 216.6L9.9 215.0L16.2 211.1L22.6 211.1L28.9 208.7L29.7 204.7L28.1 202.4L31.3 200.8L34.4 202.4L37.6 204.7L42.3 205.5L46.3 203.2M62.9 210.8L66.9 214.2L73.2 216.1L82.7 214.6L95.4 215.5L101.7 215.0L111.2 214.6L113.6 212.3L111.2 209.8L109.6 207.6L111.2 205.5L115.9 203.9L119.1 199.2L121.5 197.6L123.1 200.0L123.9 204.7L127.0 209.5L131.8 213.4L138.1 216.1L144.4 218.7L147.6 219.8L150.8 217.4L153.1 219.0L157.1 220.9L161.8 221.4L165.8 219.0L168.2 221.4L170.4 223.7L176.7 226.1L184.6 228.5L189.4 230.1L192.6 229.0L202.1 228.5L211.6 228.2L216.3 226.1L218.7 222.9M225.0 188.9L225.0 182.6L225.8 174.7L227.4 168.3L229.8 160.4L232.1 150.9L235.3 141.4L237.7 135.9L240.0 135.1L240.8 139.8L240.0 147.8L240.0 158.8L241.6 168.3L243.2 177.8L244.0 190.5L245.6 200.0L249.5 207.9L252.7 214.2L256.7 219.0L260.6 219.8L263.8 222.2L266.9 224.0L270.1 223.7L273.3 217.4L278.0 211.1L281.2 204.7L283.1 202.4L285.2 206.3L286.7 212.7L289.1 215.8L292.3 217.7M301.8 204.7L301.5 196.8L302.6 188.9L304.9 184.2L309.7 181.0L312.1 184.2L313.6 180.2L319.2 177.8L322.3 173.9L328.7 166.0L335.0 157.3L340.4 150.1L341.2 147.0L342.0 144.6L342.3 149.4L342.0 158.9L340.7 168.4L338.2 181.0L335.0 187.3L332.6 193.7L332.6 198.4L335.0 203.2L340.4 206.3L345.1 211.1L348.3 214.3L349.9 222.2L351.5 229.3L353.9 225.4L356.2 223.0L361.0 221.4L364.1 215.9L367.3 212.4L369.7 214.3L371.3 220.6L372.9 224.6M395.0 225.4L397.4 220.6L400.6 212.7L402.9 210.8L405.3 214.3L406.1 222.2L408.5 227.7L410.1 234.9L411.6 242.8L414.0 244.4L416.4 241.2L419.6 242.8L422.7 235.7L426.7 230.1L427.5 219.0L429.1 211.1L431.4 208.3L433.8 211.1L435.4 219.0L437.8 228.5L440.1 233.3L442.5 226.9L444.9 223.0L449.6 221.4L452.0 218.7L454.4 221.4L456.8 227.7L460.7 226.9L464.7 230.9L467.1 235.7L469.4 239.6M493.2 247.5L497.1 245.2L501.9 245.9L505.9 242.0L509.0 240.4L512.2 241.2M25.7 296.8L32.0 297.7L38.3 296.8L42.0 289.6L43.8 278.8L45.6 276.1L46.5 284.2L47.0 293.2L54.6 291.4L72.7 289.6L90.7 288.2L101.6 288.2L105.2 289.6L108.8 290.0L109.7 282.4L112.4 277.0L114.6 266.1L116.0 265.8L117.8 273.4L119.6 280.6L120.5 287.8L123.3 290.5L134.1 291.4L143.1 291.8L147.1 292.9L148.9 287.8M171.1 289.6L173.8 294.1L178.4 295.0L181.1 298.3L182.9 293.2L184.7 294.1L186.5 297.7L190.1 295.9L195.5 295.0L197.3 289.6L199.1 286.0L201.3 287.8L202.7 293.2L208.2 294.1L213.6 295.9L219.0 294.7L223.5 293.2L226.2 284.2L228.0 273.4L229.8 258.9L229.5 240.8L228.4 222.8L229.8 221.5L235.3 221.5L236.7 231.8L238.0 244.4L239.8 258.0M250.6 293.2L253.3 293.6L256.4 293.2L263.6 294.1L267.2 289.6L272.7 284.2L276.3 277.0L279.9 264.3L283.5 256.2L286.2 258.9L288.9 266.1L291.6 275.2L293.4 289.6L295.2 280.6L297.1 273.4L299.8 277.0L303.4 284.2L308.8 287.8L314.2 286.9L317.8 280.6L320.5 273.4L318.7 266.1L316.9 258.9L317.5 244.4L317.8 231.8M334.1 237.2L335.9 249.9L337.7 264.3L339.5 277.0L337.7 286.0L336.8 291.4L341.3 286.9L346.7 285.1L350.3 282.4L354.0 278.8L352.2 273.4L354.9 267.0L359.4 262.5L362.1 255.3L364.8 248.1L368.4 249.0L373.8 250.8L376.5 258.9L377.4 269.7L379.3 278.8L380.2 284.2L375.6 286.0L374.7 289.6L379.3 291.4L382.9 284.2L386.5 281.5L391.0 279.7M410.0 286.9L411.8 295.0L413.2 303.2L415.4 293.2L417.2 289.6L419.9 295.0L423.5 297.7L421.7 287.8L419.9 277.0L424.4 271.5L428.0 262.5L430.7 249.9L433.5 249.0L435.3 258.9L438.0 264.3L441.6 267.9L444.3 264.3L450.6 262.2L452.4 267.9L451.5 275.2L448.8 282.4L447.9 291.4L450.6 295.9L454.2 293.2L459.7 294.1L464.2 295.0L463.6 288.7M484.9 285.1L491.3 283.3L498.5 284.2L505.7 282.7L512.0 282.0M-0.1 422.7L4.0 424.0L7.6 425.3L11.2 421.3L16.7 414.1L22.1 411.4L24.8 406.8L27.5 403.2L32.0 403.6L36.5 401.4L42.0 399.6L45.6 397.8M79.9 400.5L85.3 396.9L88.9 393.3L94.3 390.6L101.6 389.1L106.1 387.9L107.9 390.6L109.7 386.1L112.4 388.8L116.0 386.1L118.7 384.3L120.5 377.0L125.1 372.5L130.5 369.8L135.0 368.5L139.5 368.9L144.9 366.2L148.5 362.0L154.0 359.9L157.6 358.1L160.3 354.1L162.1 353.7L163.9 358.1L166.6 362.6L170.2 366.2L172.0 369.8L174.7 372.9L179.3 374.3L184.7 374.3L190.1 377.0L196.4 378.8L198.8 376.1L200.0 368.5L201.3 368.9L202.4 376.1L205.5 377.0L210.0 374.3L216.3 372.2M227.1 374.3L228.4 367.1L229.8 363.5L232.0 366.2L234.4 372.5L235.3 379.7L238.9 387.0L244.3 396.0L249.7 404.1L252.4 406.8L256.4 403.2L261.8 399.6L267.2 398.7L270.9 402.3L274.5 398.7L277.2 390.6L279.9 384.3L285.3 381.9L290.7 381.5L293.4 378.8L295.2 370.7L298.0 366.7L300.7 368.9L301.6 376.1L303.0 382.5L307.0 383.0L310.6 382.5L311.5 392.4L312.4 401.4L313.9 394.2L314.6 383.4L315.1 378.8M322.3 341.8L324.2 336.4L326.9 334.2L329.6 336.4L330.5 340.9L334.1 343.6L336.8 346.3L339.5 344.5L341.3 350.8L343.1 355.4L345.8 358.1L346.7 364.4L349.4 360.8L352.2 354.4L354.9 348.1L357.6 344.5L360.3 345.4L362.1 350.8L363.9 358.1L365.7 367.1L367.5 374.3L369.3 379.7L372.0 381.2L374.7 377.0L377.4 372.5L381.1 368.9L384.7 368.0L388.3 370.7L391.0 368.9L392.8 359.9L394.6 352.6L397.3 351.4L400.0 353.5L401.8 363.5L403.6 377.9M414.5 374.3L416.3 369.8L419.0 368.0L421.2 372.5L422.3 381.5L423.5 394.2L425.3 402.3L428.0 403.6L429.8 397.8L430.7 387.0L431.6 372.5L432.6 361.7L434.4 358.1L436.2 365.3L438.0 374.3L439.8 381.5L441.6 384.3L445.2 383.4L447.9 381.5L450.6 374.3L453.3 368.0L456.0 363.1L460.6 360.8L466.0 359.0L471.4 359.0L475.0 362.6L477.7 368.9" fill="none" stroke="#fff" stroke-width="1.85" stroke-linejoin="round" stroke-linecap="round"/>
<path d="M344.0 346.9L344.6 351.6M431.5 348.3L431.8 353.0M464.9 362.0L465.3 365.3" fill="none" stroke="#fff" stroke-width="2.2" stroke-linecap="round"/>
<circle cx="346.7" cy="85.7" r="0.9" fill="#fff"/>
</g>
<text class="w" text-anchor="middle" transform="translate(70.0,99.8) rotate(27)" y="5.5">200</text>
<text class="w" text-anchor="middle" transform="translate(268.2,120.5) rotate(42)" y="5.5">200</text>
<text class="w" text-anchor="middle" transform="translate(406.9,185.5) rotate(18)" y="5.5">200</text>
<text class="w" text-anchor="middle" transform="translate(55.8,199.2) rotate(50)" y="5.5">500</text>
<text class="w" text-anchor="middle" transform="translate(221.4,206.7) rotate(-85)" y="5.5">500</text>
<text class="w" text-anchor="middle" transform="translate(301.4,215.3) rotate(-62)" y="5.5">500</text>
<text class="w" text-anchor="middle" transform="translate(383.9,230.9) rotate(7)" y="5.5">500</text>
<text class="w" text-anchor="middle" transform="translate(481.8,245.2) rotate(38)" y="5.5">500</text>
<text class="w" text-anchor="middle" transform="translate(9.4,301.4) rotate(-12)" y="5.5">1000</text>
<text class="w" text-anchor="middle" transform="translate(163.9,287.4) rotate(-12)" y="5.5">1000</text>
<text class="w" text-anchor="middle" transform="translate(245.2,277.0) rotate(78)" y="5.5">1000</text>
<text class="w" text-anchor="middle" transform="translate(326.9,226.9) rotate(18)" y="5.5">1000</text>
<text class="w" text-anchor="middle" transform="translate(398.8,275.2) rotate(27)" y="5.5">1000</text>
<text class="w" text-anchor="middle" transform="translate(471.4,282.4) rotate(6)" y="5.5">1000</text>
<text class="w" text-anchor="middle" transform="translate(61.3,399.6) rotate(-5)" y="5.5">2000</text>
<text class="w" text-anchor="middle" transform="translate(219.4,382.8) rotate(20)" y="5.5">2000</text>
<text class="w" text-anchor="middle" transform="translate(316.9,358.6) rotate(-80)" y="5.5">2000</text>
<text class="w" text-anchor="middle" transform="translate(409.1,388.2) rotate(-17)" y="5.5">2000</text>
<text class="w" text-anchor="middle" transform="translate(494.5,370.2) rotate(3)" y="5.5">2000</text>
</g>
<path d="M511.5 0V427.8" fill="none" stroke="#333" stroke-width="0.6"/>
<path d="M61.90 0v-5.6M61.90 427.8v5.2M130.85 0v-5.6M130.85 427.8v5.2M199.80 0v-5.6M199.80 427.8v5.2M268.75 0v-5.6M268.75 427.8v5.2M337.70 0v-5.6M337.70 427.8v5.2M406.65 0v-5.6M406.65 427.8v5.2M475.60 0v-5.6M475.60 427.8v5.2M0 151.5h-5.4M511.5 151.5h5M0 311.0h-5.4M511.5 311.0h5" stroke="#444" stroke-width="0.75" fill="none"/>
<text class="t" x="61.90" y="459" text-anchor="middle">71</text><text class="t" x="130.85" y="459" text-anchor="middle">70.8</text><text class="t" x="199.80" y="459" text-anchor="middle">70.6</text><text class="t" x="268.75" y="459" text-anchor="middle">70.4</text><text class="t" x="337.70" y="459" text-anchor="middle">70.2</text><text class="t" x="406.65" y="459" text-anchor="middle">70</text><text class="t" x="475.60" y="459" text-anchor="middle">69.8</text>
<text class="t" x="-12.6" y="158.9" text-anchor="end">40</text><text class="t" x="-12.6" y="318.4" text-anchor="end">39.8</text>
<text class="l" x="255.8" y="494.2" text-anchor="middle">Longitude (<tspan dy="-9.5" font-size="17">o</tspan><tspan dy="9.5">W)</tspan></text>
<text class="l" style="font-size:22.4px" transform="translate(-61.4,213.2) rotate(-90)" text-anchor="middle">Latitude (<tspan dy="-9.5" font-size="17">o</tspan><tspan dy="9.5">N)</tspan></text>
<rect x="520.4" y="-0.4" width="20.9" height="428.2" fill="url(#cb)" stroke="#333" stroke-width="0.7"/>
<path d="M541.3 385.02h-4.6M541.3 342.24h-4.6M541.3 299.46h-4.6M541.3 256.68h-4.6M541.3 213.90h-4.6M541.3 171.12h-4.6M541.3 128.34h-4.6M541.3 85.56h-4.6M541.3 42.78h-4.6" stroke="#222" stroke-width="0.6" fill="none"/>
<text class="c" x="547.8" y="434.5">0</text><text class="c" x="547.8" y="391.7">5</text><text class="c" x="547.8" y="348.9">10</text><text class="c" x="547.8" y="306.2">15</text><text class="c" x="547.8" y="263.4">20</text><text class="c" x="547.8" y="220.6">25</text><text class="c" x="547.8" y="177.8">30</text><text class="c" x="547.8" y="135.0">35</text><text class="c" x="547.8" y="92.3">40</text><text class="c" x="547.8" y="49.5">45</text><text class="c" x="547.8" y="6.7">50</text>
<text class="c" transform="translate(589.5,213.9) rotate(-90)" text-anchor="middle" style="font-size:18.7px">Percent difference from Cron-Sherman</text>
<text class="q" x="59.7" y="359.8" text-anchor="middle">(A)</text>
</g>
<text class="p" x="13.6" y="30.2">A</text>
<g transform="translate(826.5,6.0)">
<defs><linearGradient id="b0" x2="0" y2="1"><stop offset="0" stop-color="#ebee5a"/><stop offset=".199" stop-color="#eced59"/><stop offset=".231" stop-color="#f7cc44"/><stop offset=".245" stop-color="#f9bc40"/><stop offset=".273" stop-color="#faa83d"/><stop offset=".329" stop-color="#f38749"/><stop offset=".395" stop-color="#e17161"/><stop offset=".451" stop-color="#b7617d"/><stop offset=".535" stop-color="#7e4d8f"/><stop offset=".643" stop-color="#503a9a"/><stop offset=".694" stop-color="#36329b"/><stop offset=".759" stop-color="#162c61"/><stop offset=".886" stop-color="#0f2139"/><stop offset="1" stop-color="#0d1e2d"/></linearGradient>
<linearGradient id="b1" x2="0" y2="1"><stop offset="0" stop-color="#ebee5a"/><stop offset=".194" stop-color="#ebee5a"/><stop offset=".231" stop-color="#f7ca44"/><stop offset=".25" stop-color="#fab73f"/><stop offset=".273" stop-color="#faa63e"/><stop offset=".325" stop-color="#f38749"/><stop offset=".39" stop-color="#df7062"/><stop offset=".442" stop-color="#ba627c"/><stop offset=".516" stop-color="#88518d"/><stop offset=".572" stop-color="#6e4694"/><stop offset=".671" stop-color="#41369a"/><stop offset=".694" stop-color="#36329b"/><stop offset=".759" stop-color="#162c61"/><stop offset=".886" stop-color="#0f2139"/><stop offset="1" stop-color="#0d1e2d"/></linearGradient>
<linearGradient id="b2" x2="0" y2="1"><stop offset="0" stop-color="#ebee5a"/><stop offset=".194" stop-color="#ebee5a"/><stop offset=".231" stop-color="#f8c843"/><stop offset=".25" stop-color="#fab53e"/><stop offset=".278" stop-color="#f9a03f"/><stop offset=".315" stop-color="#f48848"/><stop offset=".386" stop-color="#dd6f64"/><stop offset=".437" stop-color="#b7617d"/><stop offset=".512" stop-color="#87508d"/><stop offset=".643" stop-color="#4e3a9a"/><stop offset=".699" stop-color="#343299"/><stop offset=".759" stop-color="#162c61"/><stop offset=".886" stop-color="#0f2139"/><stop offset="1" stop-color="#0d1e2d"/></linearGradient>
<linearGradient id="b3" x2="0" y2="1"><stop offset="0" stop-color="#ebee5a"/><stop offset=".194" stop-color="#eced59"/><stop offset=".227" stop-color="#f7cc44"/><stop offset=".245" stop-color="#fab73f"/><stop offset=".269" stop-color="#faa53e"/><stop offset=".311" stop-color="#f48848"/><stop offset=".381" stop-color="#dc6f65"/><stop offset=".428" stop-color="#ba627c"/><stop offset=".502" stop-color="#8a528c"/><stop offset=".549" stop-color="#744992"/><stop offset=".657" stop-color="#48389a"/><stop offset=".699" stop-color="#343299"/><stop offset=".759" stop-color="#162c61"/><stop offset=".886" stop-color="#0f2139"/><stop offset="1" stop-color="#0d1e2d"/></linearGradient>
<linearGradient id="b4" x2="0" y2="1"><stop offset="0" stop-color="#ebee5a"/><stop offset=".189" stop-color="#ebee5a"/><stop offset=".227" stop-color="#f7ca44"/><stop offset=".25" stop-color="#fab23d"/><stop offset=".306" stop-color="#f58a46"/><stop offset=".376" stop-color="#de7063"/><stop offset=".432" stop-color="#b7617d"/><stop offset=".507" stop-color="#88518d"/><stop offset=".544" stop-color="#764a91"/><stop offset=".647" stop-color="#4c399a"/><stop offset=".699" stop-color="#343299"/><stop offset=".759" stop-color="#162c61"/><stop offset=".886" stop-color="#0f2139"/><stop offset="1" stop-color="#0d1e2d"/></linearGradient>
<linearGradient id="b5" x2="0" y2="1"><stop offset="0" stop-color="#ebee5a"/><stop offset=".189" stop-color="#ebee5a"/><stop offset=".227" stop-color="#f8c843"/><stop offset=".245" stop-color="#fab53e"/><stop offset=".273" stop-color="#f9a03f"/><stop offset=".311" stop-color="#f48948"/><stop offset=".381" stop-color="#df7062"/><stop offset=".437" stop-color="#b8617d"/><stop offset=".507" stop-color="#8b528c"/><stop offset=".582" stop-color="#694495"/><stop offset=".694" stop-color="#37329b"/><stop offset=".708" stop-color="#2f3191"/><stop offset=".759" stop-color="#162c61"/><stop offset=".886" stop-color="#0f2139"/><stop offset="1" stop-color="#0d1e2d"/></linearGradient>
<linearGradient id="b6" x2="0" y2="1"><stop offset="0" stop-color="#ebee5a"/><stop offset=".189" stop-color="#ecec59"/><stop offset=".222" stop-color="#f7cb44"/><stop offset=".236" stop-color="#f9bb40"/><stop offset=".259" stop-color="#fbaa3d"/><stop offset=".315" stop-color="#f48848"/><stop offset=".39" stop-color="#df7062"/><stop offset=".446" stop-color="#b8617d"/><stop offset=".521" stop-color="#87518d"/><stop offset=".647" stop-color="#4e399a"/><stop offset=".699" stop-color="#34329a"/><stop offset=".759" stop-color="#162c61"/><stop offset=".886" stop-color="#0f2139"/><stop offset="1" stop-color="#0d1e2d"/></linearGradient>
<linearGradient id="b7" x2="0" y2="1"><stop offset="0" stop-color="#ebee5a"/><stop offset=".185" stop-color="#ebee5a"/><stop offset=".222" stop-color="#f7c843"/><stop offset=".241" stop-color="#fab63e"/><stop offset=".273" stop-color="#f9a13f"/><stop offset=".32" stop-color="#f38848"/><stop offset=".4" stop-color="#de7063"/><stop offset=".456" stop-color="#b7617d"/><stop offset=".54" stop-color="#804e8f"/><stop offset=".652" stop-color="#4d399a"/><stop offset=".699" stop-color="#35329a"/><stop offset=".759" stop-color="#162c61"/><stop offset=".886" stop-color="#0f2139"/><stop offset="1" stop-color="#0d1e2d"/></linearGradient>
<linearGradient id="b8" x2="0" y2="1"><stop offset="0" stop-color="#ebee5a"/><stop offset=".185" stop-color="#ecec59"/><stop offset=".217" stop-color="#f7cb44"/><stop offset=".231" stop-color="#f9bb40"/><stop offset=".259" stop-color="#faa93d"/><stop offset=".315" stop-color="#f58a47"/><stop offset=".404" stop-color="#de7064"/><stop offset=".46" stop-color="#b7617d"/><stop offset=".544" stop-color="#7f4e8f"/><stop offset=".652" stop-color="#4d399a"/><stop offset=".699" stop-color="#35329a"/><stop offset=".759" stop-color="#162c61"/><stop offset=".886" stop-color="#0f2139"/><stop offset="1" stop-color="#0d1e2d"/></linearGradient>
<linearGradient id="b9" x2="0" y2="1"><stop offset="0" stop-color="#ebee5a"/><stop offset=".18" stop-color="#ebee5a"/><stop offset=".217" stop-color="#f7c843"/><stop offset=".236" stop-color="#fab73f"/><stop offset=".264" stop-color="#faa53e"/><stop offset=".32" stop-color="#f48848"/><stop offset=".404" stop-color="#de7063"/><stop offset=".465" stop-color="#b5607e"/><stop offset=".54" stop-color="#834f8e"/><stop offset=".657" stop-color="#4b399a"/><stop offset=".699" stop-color="#35329b"/><stop offset=".759" stop-color="#162c61"/><stop offset=".886" stop-color="#0f2139"/><stop offset="1" stop-color="#0d1e2d"/></linearGradient>
<linearGradient id="b10" x2="0" y2="1"><stop offset="0" stop-color="#ebee5a"/><stop offset=".18" stop-color="#ecec59"/><stop offset=".213" stop-color="#f7cb44"/><stop offset=".227" stop-color="#f9bb40"/><stop offset=".255" stop-color="#faa93d"/><stop offset=".315" stop-color="#f48848"/><stop offset=".4" stop-color="#df7062"/><stop offset=".465" stop-color="#b3607f"/><stop offset=".554" stop-color="#7b4c90"/><stop offset=".652" stop-color="#4e399a"/><stop offset=".699" stop-color="#35329b"/><stop offset=".759" stop-color="#162c61"/><stop offset=".886" stop-color="#0f2139"/><stop offset="1" stop-color="#0d1e2d"/></linearGradient>
<linearGradient id="b11" x2="0" y2="1"><stop offset="0" stop-color="#ebee5a"/><stop offset=".175" stop-color="#ebee5a"/><stop offset=".213" stop-color="#f7c843"/><stop offset=".231" stop-color="#fab73f"/><stop offset=".259" stop-color="#faa53e"/><stop offset=".311" stop-color="#f48848"/><stop offset=".395" stop-color="#de7064"/><stop offset=".456" stop-color="#b5607e"/><stop offset=".54" stop-color="#804e8f"/><stop offset=".652" stop-color="#4d399a"/><stop offset=".699" stop-color="#35329b"/><stop offset=".759" stop-color="#162c61"/><stop offset=".886" stop-color="#0f2139"/><stop offset="1" stop-color="#0d1e2d"/></linearGradient>
<linearGradient id="b12" x2="0" y2="1"><stop offset="0" stop-color="#ebee5a"/><stop offset=".175" stop-color="#ecec59"/><stop offset=".208" stop-color="#f7cb44"/><stop offset=".222" stop-color="#f9bb40"/><stop offset=".25" stop-color="#faa83d"/><stop offset=".301" stop-color="#f48947"/><stop offset=".386" stop-color="#dd6f64"/><stop offset=".446" stop-color="#b5607e"/><stop offset=".544" stop-color="#7b4c90"/><stop offset=".652" stop-color="#4c399a"/><stop offset=".699" stop-color="#35329b"/><stop offset=".759" stop-color="#162c61"/><stop offset=".886" stop-color="#0f2139"/><stop offset="1" stop-color="#0d1e2d"/></linearGradient>
<linearGradient id="b13" x2="0" y2="1"><stop offset="0" stop-color="#ebee5a"/><stop offset=".175" stop-color="#ecec58"/><stop offset=".208" stop-color="#f7ca44"/><stop offset=".227" stop-color="#fab73f"/><stop offset=".25" stop-color="#faa63e"/><stop offset=".297" stop-color="#f48947"/><stop offset=".376" stop-color="#dd6f64"/><stop offset=".437" stop-color="#b5607e"/><stop offset=".535" stop-color="#7c4c90"/><stop offset=".652" stop-color="#4c399a"/><stop offset=".699" stop-color="#35329b"/><stop offset=".759" stop-color="#162c61"/><stop offset=".886" stop-color="#0f2139"/><stop offset="1" stop-color="#0d1e2d"/></linearGradient>
<linearGradient id="b14" x2="0" y2="1"><stop offset="0" stop-color="#ebee5a"/><stop offset=".18" stop-color="#ecec58"/><stop offset=".213" stop-color="#f7ca44"/><stop offset=".227" stop-color="#f9ba3f"/><stop offset=".255" stop-color="#faa43e"/><stop offset=".297" stop-color="#f48848"/><stop offset=".371" stop-color="#dd6f64"/><stop offset=".432" stop-color="#b5607e"/><stop offset=".526" stop-color="#7f4d8f"/><stop offset=".647" stop-color="#4e399a"/><stop offset=".699" stop-color="#36329b"/><stop offset=".759" stop-color="#162c61"/><stop offset=".886" stop-color="#0f2139"/><stop offset="1" stop-color="#0d1e2d"/></linearGradient>
<linearGradient id="b15" x2="0" y2="1"><stop offset="0" stop-color="#ebee5a"/><stop offset=".185" stop-color="#ecec58"/><stop offset=".217" stop-color="#f7c943"/><stop offset=".241" stop-color="#fab13d"/><stop offset=".297" stop-color="#f58947"/><stop offset=".371" stop-color="#de7063"/><stop offset=".428" stop-color="#b9627c"/><stop offset=".498" stop-color="#90548b"/><stop offset=".554" stop-color="#754992"/><stop offset=".661" stop-color="#47389a"/><stop offset=".699" stop-color="#36329b"/><stop offset=".759" stop-color="#162c61"/><stop offset=".886" stop-color="#0f2139"/><stop offset="1" stop-color="#0d1e2d"/></linearGradient>
<linearGradient id="b16" x2="0" y2="1"><stop offset="0" stop-color="#ebee5a"/><stop offset=".189" stop-color="#ecec58"/><stop offset=".222" stop-color="#f7c843"/><stop offset=".241" stop-color="#fab53e"/><stop offset=".264" stop-color="#faa33f"/><stop offset=".301" stop-color="#f58a46"/><stop offset=".381" stop-color="#dd6f64"/><stop offset=".442" stop-color="#b5607e"/><stop offset=".535" stop-color="#7f4d8f"/><stop offset=".657" stop-color="#4b389a"/><stop offset=".699" stop-color="#36329b"/><stop offset=".759" stop-color="#162c61"/><stop offset=".886" stop-color="#0f2139"/><stop offset="1" stop-color="#0d1e2d"/></linearGradient>
<linearGradient id="b17" x2="0" y2="1"><stop offset="0" stop-color="#ebee5a"/><stop offset=".194" stop-color="#ecec58"/><stop offset=".227" stop-color="#f8c743"/><stop offset=".245" stop-color="#fab43e"/><stop offset=".273" stop-color="#f9a03f"/><stop offset=".311" stop-color="#f48947"/><stop offset=".39" stop-color="#de7063"/><stop offset=".456" stop-color="#b3607f"/><stop offset=".544" stop-color="#7e4d8f"/><stop offset=".657" stop-color="#4c399a"/><stop offset=".703" stop-color="#343299"/><stop offset=".759" stop-color="#162c61"/><stop offset=".886" stop-color="#0f2139"/><stop offset="1" stop-color="#0d1e2d"/></linearGradient>
<linearGradient id="b18" x2="0" y2="1"><stop offset="0" stop-color="#ebee5a"/><stop offset=".199" stop-color="#ecec58"/><stop offset=".227" stop-color="#f7cd44"/><stop offset=".241" stop-color="#f9bb40"/><stop offset=".264" stop-color="#fbaa3d"/><stop offset=".315" stop-color="#f58a46"/><stop offset=".4" stop-color="#de7063"/><stop offset=".465" stop-color="#b3607f"/><stop offset=".558" stop-color="#7b4c90"/><stop offset=".657" stop-color="#4d399a"/><stop offset=".703" stop-color="#343299"/><stop offset=".759" stop-color="#162c61"/><stop offset=".886" stop-color="#0f2139"/><stop offset="1" stop-color="#0d1e2d"/></linearGradient>
<linearGradient id="b19" x2="0" y2="1"><stop offset="0" stop-color="#ebee5a"/><stop offset=".199" stop-color="#ebee5a"/><stop offset=".231" stop-color="#f7cb44"/><stop offset=".245" stop-color="#f9ba40"/><stop offset=".269" stop-color="#fbaa3d"/><stop offset=".325" stop-color="#f48948"/><stop offset=".409" stop-color="#dd6f64"/><stop offset=".47" stop-color="#b5607e"/><stop offset=".572" stop-color="#784a91"/><stop offset=".661" stop-color="#4c399a"/><stop offset=".703" stop-color="#343299"/><stop offset=".759" stop-color="#162c61"/><stop offset=".886" stop-color="#0f2139"/><stop offset="1" stop-color="#0d1e2d"/></linearGradient>
<linearGradient id="b20" x2="0" y2="1"><stop offset="0" stop-color="#ebee5a"/><stop offset=".203" stop-color="#ebee5a"/><stop offset=".236" stop-color="#f7c943"/><stop offset=".255" stop-color="#fab63e"/><stop offset=".287" stop-color="#f9a13f"/><stop offset=".329" stop-color="#f48947"/><stop offset=".414" stop-color="#df7063"/><stop offset=".474" stop-color="#b7617d"/><stop offset=".549" stop-color="#87518d"/><stop offset=".661" stop-color="#4d399a"/><stop offset=".703" stop-color="#343299"/><stop offset=".759" stop-color="#162c61"/><stop offset=".886" stop-color="#0f2139"/><stop offset="1" stop-color="#0d1e2d"/></linearGradient>
<linearGradient id="b21" x2="0" y2="1"><stop offset="0" stop-color="#ebee5a"/><stop offset=".208" stop-color="#ebee5a"/><stop offset=".236" stop-color="#f7ce45"/><stop offset=".25" stop-color="#f9bc40"/><stop offset=".278" stop-color="#faa93d"/><stop offset=".334" stop-color="#f58947"/><stop offset=".423" stop-color="#dd6f64"/><stop offset=".484" stop-color="#b5607e"/><stop offset=".568" stop-color="#804e8f"/><stop offset=".661" stop-color="#4e399a"/><stop offset=".703" stop-color="#34329a"/><stop offset=".759" stop-color="#162c61"/><stop offset=".886" stop-color="#0f2139"/><stop offset="1" stop-color="#0d1e2d"/></linearGradient>
<linearGradient id="b22" x2="0" y2="1"><stop offset="0" stop-color="#ebee5a"/><stop offset=".213" stop-color="#ebed59"/><stop offset=".241" stop-color="#f7cc44"/><stop offset=".25" stop-color="#f9be41"/><stop offset=".283" stop-color="#faa93d"/><stop offset=".339" stop-color="#f58947"/><stop offset=".428" stop-color="#de7064"/><stop offset=".488" stop-color="#b6607e"/><stop offset=".586" stop-color="#784a91"/><stop offset=".671" stop-color="#49389a"/><stop offset=".703" stop-color="#34329a"/><stop offset=".759" stop-color="#162c61"/><stop offset=".886" stop-color="#0f2139"/><stop offset="1" stop-color="#0d1e2d"/></linearGradient>
<linearGradient id="b23" x2="0" y2="1"><stop offset="0" stop-color="#ebee5a"/><stop offset=".217" stop-color="#ecec58"/><stop offset=".245" stop-color="#f7ca44"/><stop offset=".259" stop-color="#f9ba3f"/><stop offset=".292" stop-color="#faa53e"/><stop offset=".343" stop-color="#f48947"/><stop offset=".428" stop-color="#df7062"/><stop offset=".488" stop-color="#b8617d"/><stop offset=".563" stop-color="#87508d"/><stop offset=".661" stop-color="#503a9a"/><stop offset=".703" stop-color="#35329a"/><stop offset=".759" stop-color="#162c61"/><stop offset=".886" stop-color="#0f2139"/><stop offset="1" stop-color="#0d1e2d"/></linearGradient>
<linearGradient id="b24" x2="0" y2="1"><stop offset="0" stop-color="#ebee5a"/><stop offset=".217" stop-color="#ebee5a"/><stop offset=".245" stop-color="#f6d045"/><stop offset=".259" stop-color="#f9bc40"/><stop offset=".287" stop-color="#fbaa3d"/><stop offset=".348" stop-color="#f48848"/><stop offset=".432" stop-color="#dd6f64"/><stop offset=".493" stop-color="#b5607e"/><stop offset=".577" stop-color="#7f4e8f"/><stop offset=".671" stop-color="#4a389a"/><stop offset=".703" stop-color="#35329b"/><stop offset=".759" stop-color="#162c61"/><stop offset=".886" stop-color="#0f2139"/><stop offset="1" stop-color="#0d1e2d"/></linearGradient>
<linearGradient id="b25" x2="0" y2="1"><stop offset="0" stop-color="#ebee5a"/><stop offset=".222" stop-color="#ebee5a"/><stop offset=".25" stop-color="#f7ce45"/><stop offset=".264" stop-color="#f9bb40"/><stop offset=".292" stop-color="#faa93d"/><stop offset=".353" stop-color="#f38749"/><stop offset=".428" stop-color="#df7062"/><stop offset=".488" stop-color="#b7617d"/><stop offset=".563" stop-color="#88518d"/><stop offset=".666" stop-color="#4d399a"/><stop offset=".703" stop-color="#35329b"/><stop offset=".759" stop-color="#162c61"/><stop offset=".886" stop-color="#0f2139"/><stop offset="1" stop-color="#0d1e2d"/></linearGradient>
<linearGradient id="b26" x2="0" y2="1"><stop offset="0" stop-color="#ebee5a"/><stop offset=".227" stop-color="#ebee5a"/><stop offset=".255" stop-color="#f7cb44"/><stop offset=".269" stop-color="#f9ba40"/><stop offset=".297" stop-color="#faa83d"/><stop offset=".348" stop-color="#f58947"/><stop offset=".428" stop-color="#de7063"/><stop offset=".493" stop-color="#b3607f"/><stop offset=".614" stop-color="#6b4595"/><stop offset=".703" stop-color="#35329b"/><stop offset=".759" stop-color="#162c61"/><stop offset=".886" stop-color="#0f2139"/><stop offset="1" stop-color="#0d1e2d"/></linearGradient>
<linearGradient id="b27" x2="0" y2="1"><stop offset="0" stop-color="#ebee5a"/><stop offset=".231" stop-color="#ebed59"/><stop offset=".259" stop-color="#f7c943"/><stop offset=".278" stop-color="#fab63e"/><stop offset=".311" stop-color="#f9a03f"/><stop offset=".353" stop-color="#f48848"/><stop offset=".428" stop-color="#dd6f64"/><stop offset=".488" stop-color="#b5607e"/><stop offset=".596" stop-color="#754992"/><stop offset=".675" stop-color="#47389a"/><stop offset=".703" stop-color="#35329b"/><stop offset=".759" stop-color="#162c61"/><stop offset=".886" stop-color="#0f2139"/><stop offset="1" stop-color="#0d1e2d"/></linearGradient>
<linearGradient id="b28" x2="0" y2="1"><stop offset="0" stop-color="#ebee5a"/><stop offset=".236" stop-color="#ecec58"/><stop offset=".259" stop-color="#f7cf45"/><stop offset=".273" stop-color="#f9bb40"/><stop offset=".301" stop-color="#faa73d"/><stop offset=".357" stop-color="#f2864a"/><stop offset=".423" stop-color="#de7064"/><stop offset=".484" stop-color="#b6607e"/><stop offset=".586" stop-color="#794b91"/><stop offset=".671" stop-color="#4a389a"/><stop offset=".703" stop-color="#36329b"/><stop offset=".759" stop-color="#162c61"/><stop offset=".886" stop-color="#0f2139"/><stop offset="1" stop-color="#0d1e2d"/></linearGradient>
<linearGradient id="b29" x2="0" y2="1"><stop offset="0" stop-color="#ebee5a"/><stop offset=".236" stop-color="#ebee5a"/><stop offset=".264" stop-color="#f7cd45"/><stop offset=".273" stop-color="#f9be41"/><stop offset=".301" stop-color="#faa93d"/><stop offset=".348" stop-color="#f58947"/><stop offset=".418" stop-color="#dd6f64"/><stop offset=".479" stop-color="#b5607e"/><stop offset=".577" stop-color="#7c4c90"/><stop offset=".666" stop-color="#4c399a"/><stop offset=".703" stop-color="#36329b"/><stop offset=".759" stop-color="#162c61"/><stop offset=".886" stop-color="#0f2139"/><stop offset="1" stop-color="#0d1e2d"/></linearGradient>
<linearGradient id="b30" x2="0" y2="1"><stop offset="0" stop-color="#ebee5a"/><stop offset=".241" stop-color="#ebee5a"/><stop offset=".269" stop-color="#f7cc44"/><stop offset=".278" stop-color="#f9bd40"/><stop offset=".301" stop-color="#fbab3d"/><stop offset=".348" stop-color="#f58a47"/><stop offset=".414" stop-color="#de7064"/><stop offset=".474" stop-color="#b5607e"/><stop offset=".568" stop-color="#7f4d8f"/><stop offset=".671" stop-color="#49389a"/><stop offset=".703" stop-color="#36329b"/><stop offset=".759" stop-color="#162c61"/><stop offset=".886" stop-color="#0f2139"/><stop offset="1" stop-color="#0d1e2d"/></linearGradient>
<linearGradient id="b31" x2="0" y2="1"><stop offset="0" stop-color="#ebee5a"/><stop offset=".245" stop-color="#ebee5a"/><stop offset=".273" stop-color="#f7ca44"/><stop offset=".292" stop-color="#fab53e"/><stop offset=".315" stop-color="#faa33f"/><stop offset=".357" stop-color="#f38749"/><stop offset=".418" stop-color="#dc6f65"/><stop offset=".479" stop-color="#b3607f"/><stop offset=".568" stop-color="#804e8f"/><stop offset=".671" stop-color="#49389a"/><stop offset=".703" stop-color="#36329b"/><stop offset=".759" stop-color="#162c61"/><stop offset=".886" stop-color="#0f2139"/><stop offset="1" stop-color="#0d1e2d"/></linearGradient>
<linearGradient id="b32" x2="0" y2="1"><stop offset="0" stop-color="#ebee5a"/><stop offset=".25" stop-color="#ebed59"/><stop offset=".278" stop-color="#f7c943"/><stop offset=".292" stop-color="#fab83f"/><stop offset=".315" stop-color="#faa73e"/><stop offset=".362" stop-color="#f48848"/><stop offset=".423" stop-color="#de7063"/><stop offset=".484" stop-color="#b5607e"/><stop offset=".586" stop-color="#794b91"/><stop offset=".671" stop-color="#4a389a"/><stop offset=".703" stop-color="#36329b"/><stop offset=".759" stop-color="#162c61"/><stop offset=".886" stop-color="#0f2139"/><stop offset="1" stop-color="#0d1e2d"/></linearGradient>
<linearGradient id="b33" x2="0" y2="1"><stop offset="0" stop-color="#ebee5a"/><stop offset=".255" stop-color="#ecec58"/><stop offset=".278" stop-color="#f7cf45"/><stop offset=".287" stop-color="#f9bf41"/><stop offset=".315" stop-color="#fbaa3d"/><stop offset=".367" stop-color="#f58947"/><stop offset=".437" stop-color="#dd6f64"/><stop offset=".498" stop-color="#b3607f"/><stop offset=".624" stop-color="#684396"/><stop offset=".703" stop-color="#36329b"/><stop offset=".759" stop-color="#162c61"/><stop offset=".886" stop-color="#0f2139"/><stop offset="1" stop-color="#0d1e2d"/></linearGradient>
<linearGradient id="b34" x2="0" y2="1"><stop offset="0" stop-color="#ebee5a"/><stop offset=".255" stop-color="#ebee5a"/><stop offset=".283" stop-color="#f7cd45"/><stop offset=".292" stop-color="#f9be41"/><stop offset=".325" stop-color="#faa83d"/><stop offset=".381" stop-color="#f38749"/><stop offset=".446" stop-color="#dd7064"/><stop offset=".502" stop-color="#b7617d"/><stop offset=".582" stop-color="#844f8e"/><stop offset=".671" stop-color="#4d399a"/><stop offset=".703" stop-color="#36329b"/><stop offset=".759" stop-color="#162c61"/><stop offset=".886" stop-color="#0f2139"/><stop offset="1" stop-color="#0d1e2d"/></linearGradient>
<linearGradient id="b35" x2="0" y2="1"><stop offset="0" stop-color="#ebee5a"/><stop offset=".259" stop-color="#ebee5a"/><stop offset=".287" stop-color="#f7cc44"/><stop offset=".301" stop-color="#f9ba40"/><stop offset=".329" stop-color="#faa83d"/><stop offset=".386" stop-color="#f38848"/><stop offset=".456" stop-color="#dd6f64"/><stop offset=".512" stop-color="#b6607d"/><stop offset=".577" stop-color="#8a528c"/><stop offset=".671" stop-color="#4e399a"/><stop offset=".703" stop-color="#36329b"/><stop offset=".759" stop-color="#162c61"/><stop offset=".886" stop-color="#0f2139"/><stop offset="1" stop-color="#0d1e2d"/></linearGradient>
<linearGradient id="b36" x2="0" y2="1"><stop offset="0" stop-color="#ebee5a"/><stop offset=".264" stop-color="#ebee5a"/><stop offset=".292" stop-color="#f7ca44"/><stop offset=".306" stop-color="#f9ba3f"/><stop offset=".339" stop-color="#faa53e"/><stop offset=".39" stop-color="#f38848"/><stop offset=".46" stop-color="#dd6f64"/><stop offset=".521" stop-color="#b25f7f"/><stop offset=".629" stop-color="#6c4595"/><stop offset=".703" stop-color="#36329b"/><stop offset=".759" stop-color="#162c61"/><stop offset=".886" stop-color="#0f2139"/><stop offset="1" stop-color="#0d1e2d"/></linearGradient>
<linearGradient id="b37" x2="0" y2="1"><stop offset="0" stop-color="#ebee5a"/><stop offset=".269" stop-color="#ebed59"/><stop offset=".297" stop-color="#f7c943"/><stop offset=".306" stop-color="#f9bc40"/><stop offset=".334" stop-color="#faaa3d"/><stop offset=".395" stop-color="#f38749"/><stop offset=".46" stop-color="#dd7064"/><stop offset=".521" stop-color="#b3607f"/><stop offset=".629" stop-color="#6c4595"/><stop offset=".703" stop-color="#36329b"/><stop offset=".759" stop-color="#162c61"/><stop offset=".886" stop-color="#0f2139"/><stop offset="1" stop-color="#0d1e2d"/></linearGradient>
<linearGradient id="b38" x2="0" y2="1"><stop offset="0" stop-color="#ebee5a"/><stop offset=".269" stop-color="#ebee5a"/><stop offset=".297" stop-color="#f7ce45"/><stop offset=".306" stop-color="#f9be41"/><stop offset=".339" stop-color="#faa73d"/><stop offset=".395" stop-color="#f2864a"/><stop offset=".456" stop-color="#de7064"/><stop offset=".516" stop-color="#b35f7f"/><stop offset=".61" stop-color="#764992"/><stop offset=".68" stop-color="#47379a"/><stop offset=".703" stop-color="#36329b"/><stop offset=".759" stop-color="#162c61"/><stop offset=".886" stop-color="#0f2139"/><stop offset="1" stop-color="#0d1e2d"/></linearGradient>
<linearGradient id="b39" x2="0" y2="1"><stop offset="0" stop-color="#ebee5a"/><stop offset=".273" stop-color="#ebee5a"/><stop offset=".301" stop-color="#f7ca44"/><stop offset=".32" stop-color="#fab53e"/><stop offset=".348" stop-color="#f9a13f"/><stop offset=".39" stop-color="#f2864a"/><stop offset=".446" stop-color="#de7063"/><stop offset=".498" stop-color="#ba627c"/><stop offset=".582" stop-color="#824f8e"/><stop offset=".666" stop-color="#503a9a"/><stop offset=".703" stop-color="#36329b"/><stop offset=".759" stop-color="#162c61"/><stop offset=".886" stop-color="#0f2139"/><stop offset="1" stop-color="#0d1e2d"/></linearGradient>
<linearGradient id="b40" x2="0" y2="1"><stop offset="0" stop-color="#ebee5a"/><stop offset=".278" stop-color="#ecec59"/><stop offset=".301" stop-color="#f7cf45"/><stop offset=".311" stop-color="#f9bf41"/><stop offset=".334" stop-color="#fbab3d"/><stop offset=".381" stop-color="#f48848"/><stop offset=".437" stop-color="#dc6f65"/><stop offset=".498" stop-color="#b15f80"/><stop offset=".61" stop-color="#6e4694"/><stop offset=".694" stop-color="#3c349b"/><stop offset=".703" stop-color="#36329b"/><stop offset=".759" stop-color="#162c61"/><stop offset=".886" stop-color="#0f2139"/><stop offset="1" stop-color="#0d1e2d"/></linearGradient>
<linearGradient id="b41" x2="0" y2="1"><stop offset="0" stop-color="#ebee5a"/><stop offset=".278" stop-color="#ebee5a"/><stop offset=".306" stop-color="#f7cc44"/><stop offset=".32" stop-color="#fab83f"/><stop offset=".348" stop-color="#f99e40"/><stop offset=".381" stop-color="#f1854b"/><stop offset=".428" stop-color="#dc6f65"/><stop offset=".474" stop-color="#ba627c"/><stop offset=".549" stop-color="#8c528c"/><stop offset=".666" stop-color="#4c399a"/><stop offset=".703" stop-color="#36329b"/><stop offset=".759" stop-color="#162c61"/><stop offset=".886" stop-color="#0f2139"/><stop offset="1" stop-color="#0d1e2d"/></linearGradient>
<linearGradient id="b42" x2="0" y2="1"><stop offset="0" stop-color="#ebee5a"/><stop offset=".283" stop-color="#ebee5a"/><stop offset=".311" stop-color="#f7c843"/><stop offset=".334" stop-color="#fbac3c"/><stop offset=".371" stop-color="#f58947"/><stop offset=".423" stop-color="#dc6f65"/><stop offset=".47" stop-color="#bb627c"/><stop offset=".535" stop-color="#91548a"/><stop offset=".661" stop-color="#4e3a9a"/><stop offset=".703" stop-color="#36329b"/><stop offset=".759" stop-color="#162c61"/><stop offset=".886" stop-color="#0f2139"/><stop offset="1" stop-color="#0d1e2d"/></linearGradient>
<linearGradient id="b43" x2="0" y2="1"><stop offset="0" stop-color="#ebee5a"/><stop offset=".287" stop-color="#ecec58"/><stop offset=".311" stop-color="#f7cd44"/><stop offset=".329" stop-color="#fab33e"/><stop offset=".353" stop-color="#f99c40"/><stop offset=".376" stop-color="#f48848"/><stop offset=".428" stop-color="#db6e66"/><stop offset=".484" stop-color="#b15f7f"/><stop offset=".582" stop-color="#784a91"/><stop offset=".666" stop-color="#4c399a"/><stop offset=".703" stop-color="#36329b"/><stop offset=".759" stop-color="#162c61"/><stop offset=".886" stop-color="#0f2139"/><stop offset="1" stop-color="#0d1e2d"/></linearGradient>
<linearGradient id="b44" x2="0" y2="1"><stop offset="0" stop-color="#ebee5a"/><stop offset=".287" stop-color="#ebee5a"/><stop offset=".315" stop-color="#f7ca44"/><stop offset=".329" stop-color="#fab73f"/><stop offset=".348" stop-color="#faa43e"/><stop offset=".381" stop-color="#f38849"/><stop offset=".432" stop-color="#dc6f65"/><stop offset=".479" stop-color="#ba627c"/><stop offset=".558" stop-color="#87508d"/><stop offset=".666" stop-color="#4d399a"/><stop offset=".703" stop-color="#36329b"/><stop offset=".759" stop-color="#162c61"/><stop offset=".886" stop-color="#0f2139"/><stop offset="1" stop-color="#0d1e2d"/></linearGradient>
<linearGradient id="b45" x2="0" y2="1"><stop offset="0" stop-color="#ebee5a"/><stop offset=".292" stop-color="#ecec58"/><stop offset=".32" stop-color="#f8c542"/><stop offset=".339" stop-color="#fbaf3d"/><stop offset=".386" stop-color="#f38749"/><stop offset=".437" stop-color="#dd6f64"/><stop offset=".493" stop-color="#b3607f"/><stop offset=".6" stop-color="#724893"/><stop offset=".675" stop-color="#47389a"/><stop offset=".703" stop-color="#36329b"/><stop offset=".759" stop-color="#162c61"/><stop offset=".886" stop-color="#0f2139"/><stop offset="1" stop-color="#0d1e2d"/></linearGradient>
<linearGradient id="b46" x2="0" y2="1"><stop offset="0" stop-color="#ebee5a"/><stop offset=".287" stop-color="#ebee5a"/><stop offset=".311" stop-color="#f6d346"/><stop offset=".325" stop-color="#f9bc40"/><stop offset=".343" stop-color="#fbab3d"/><stop offset=".386" stop-color="#f48947"/><stop offset=".442" stop-color="#dd6f64"/><stop offset=".488" stop-color="#ba627c"/><stop offset=".558" stop-color="#8b528c"/><stop offset=".666" stop-color="#4e399a"/><stop offset=".703" stop-color="#36329b"/><stop offset=".759" stop-color="#162c61"/><stop offset=".886" stop-color="#0f2139"/><stop offset="1" stop-color="#0d1e2d"/></linearGradient>
<linearGradient id="b47" x2="0" y2="1"><stop offset="0" stop-color="#ebee5a"/><stop offset=".287" stop-color="#ebee5a"/><stop offset=".311" stop-color="#f6d145"/><stop offset=".325" stop-color="#f9bb40"/><stop offset=".343" stop-color="#fbaa3d"/><stop offset=".39" stop-color="#f38749"/><stop offset=".446" stop-color="#db6f65"/><stop offset=".498" stop-color="#b5607e"/><stop offset=".591" stop-color="#794b91"/><stop offset=".675" stop-color="#48389a"/><stop offset=".703" stop-color="#35329b"/><stop offset=".759" stop-color="#162c61"/><stop offset=".886" stop-color="#0f2139"/><stop offset="1" stop-color="#0d1e2d"/></linearGradient>
<linearGradient id="b48" x2="0" y2="1"><stop offset="0" stop-color="#ebee5a"/><stop offset=".287" stop-color="#ebee5a"/><stop offset=".311" stop-color="#f7cf45"/><stop offset=".32" stop-color="#f9be41"/><stop offset=".343" stop-color="#faa93d"/><stop offset=".386" stop-color="#f48848"/><stop offset=".446" stop-color="#dc6f65"/><stop offset=".493" stop-color="#ba627c"/><stop offset=".568" stop-color="#87508d"/><stop offset=".666" stop-color="#4e399a"/><stop offset=".703" stop-color="#35329b"/><stop offset=".755" stop-color="#172c63"/><stop offset=".886" stop-color="#0f2139"/><stop offset="1" stop-color="#0d1e2d"/></linearGradient>
<linearGradient id="b49" x2="0" y2="1"><stop offset="0" stop-color="#ebee5a"/><stop offset=".287" stop-color="#ebee5a"/><stop offset=".311" stop-color="#f7cd44"/><stop offset=".325" stop-color="#f9b83f"/><stop offset=".343" stop-color="#faa73e"/><stop offset=".381" stop-color="#f48947"/><stop offset=".442" stop-color="#df7062"/><stop offset=".493" stop-color="#ba627c"/><stop offset=".568" stop-color="#87508d"/><stop offset=".666" stop-color="#4e399a"/><stop offset=".703" stop-color="#35329b"/><stop offset=".759" stop-color="#162c60"/><stop offset=".886" stop-color="#0f2139"/><stop offset="1" stop-color="#0d1e2d"/></linearGradient>
<linearGradient id="b50" x2="0" y2="1"><stop offset="0" stop-color="#ebee5a"/><stop offset=".287" stop-color="#eced59"/><stop offset=".311" stop-color="#f7cb44"/><stop offset=".325" stop-color="#fab73f"/><stop offset=".343" stop-color="#faa53e"/><stop offset=".376" stop-color="#f58947"/><stop offset=".442" stop-color="#dd6f64"/><stop offset=".493" stop-color="#b8617d"/><stop offset=".577" stop-color="#7f4e8f"/><stop offset=".671" stop-color="#4a389a"/><stop offset=".703" stop-color="#35329a"/><stop offset=".759" stop-color="#162c60"/><stop offset=".886" stop-color="#0f2139"/><stop offset="1" stop-color="#0d1e2d"/></linearGradient>
<linearGradient id="b51" x2="0" y2="1"><stop offset="0" stop-color="#ebee5a"/><stop offset=".278" stop-color="#ebee5a"/><stop offset=".301" stop-color="#f6cf45"/><stop offset=".315" stop-color="#f9ba3f"/><stop offset=".339" stop-color="#faa43e"/><stop offset=".371" stop-color="#f48947"/><stop offset=".437" stop-color="#dd6f64"/><stop offset=".488" stop-color="#b8617d"/><stop offset=".572" stop-color="#804e8f"/><stop offset=".666" stop-color="#4c399a"/><stop offset=".703" stop-color="#34329a"/><stop offset=".755" stop-color="#162c63"/><stop offset=".886" stop-color="#0f2139"/><stop offset=".998" stop-color="#0d1e2d"/><stop offset="1" stop-color="#0d1e2d"/></linearGradient>
<linearGradient id="b52" x2="0" y2="1"><stop offset="0" stop-color="#ebee5a"/><stop offset=".264" stop-color="#ebee5a"/><stop offset=".292" stop-color="#f7ce45"/><stop offset=".306" stop-color="#f9ba40"/><stop offset=".325" stop-color="#faa93d"/><stop offset=".367" stop-color="#f48947"/><stop offset=".428" stop-color="#df7062"/><stop offset=".479" stop-color="#ba627c"/><stop offset=".563" stop-color="#834f8e"/><stop offset=".661" stop-color="#4e399a"/><stop offset=".703" stop-color="#343299"/><stop offset=".755" stop-color="#162c62"/><stop offset=".886" stop-color="#0f2139"/><stop offset=".998" stop-color="#0d1e2d"/><stop offset="1" stop-color="#0d1e2d"/></linearGradient>
<linearGradient id="b53" x2="0" y2="1"><stop offset="0" stop-color="#ebee5a"/><stop offset=".241" stop-color="#eced59"/><stop offset=".278" stop-color="#f7cb44"/><stop offset=".311" stop-color="#fbad3c"/><stop offset=".367" stop-color="#f38848"/><stop offset=".428" stop-color="#dc6f65"/><stop offset=".484" stop-color="#b4607e"/><stop offset=".558" stop-color="#844f8e"/><stop offset=".661" stop-color="#4d399a"/><stop offset=".703" stop-color="#343299"/><stop offset=".755" stop-color="#162c62"/><stop offset=".886" stop-color="#0f2139"/><stop offset=".998" stop-color="#0d1e2d"/><stop offset="1" stop-color="#0d1e2d"/></linearGradient>
<linearGradient id="b54" x2="0" y2="1"><stop offset="0" stop-color="#ebee5a"/><stop offset=".199" stop-color="#ecec59"/><stop offset=".255" stop-color="#f7c943"/><stop offset=".306" stop-color="#faa83d"/><stop offset=".367" stop-color="#f48848"/><stop offset=".428" stop-color="#da6e66"/><stop offset=".479" stop-color="#b5607e"/><stop offset=".563" stop-color="#7f4e8f"/><stop offset=".657" stop-color="#4f3a9a"/><stop offset=".699" stop-color="#36329b"/><stop offset=".755" stop-color="#162c62"/><stop offset=".886" stop-color="#0f2139"/><stop offset=".998" stop-color="#0d1e2d"/><stop offset="1" stop-color="#0d1e2d"/></linearGradient>
<linearGradient id="b55" x2="0" y2="1"><stop offset="0" stop-color="#ebee5a"/><stop offset=".194" stop-color="#ecec58"/><stop offset=".255" stop-color="#f7c943"/><stop offset=".306" stop-color="#faa93d"/><stop offset=".367" stop-color="#f48947"/><stop offset=".423" stop-color="#dc6f65"/><stop offset=".484" stop-color="#b15f80"/><stop offset=".582" stop-color="#754992"/><stop offset=".666" stop-color="#49389a"/><stop offset=".699" stop-color="#36329b"/><stop offset=".755" stop-color="#162c62"/><stop offset=".886" stop-color="#0f2139"/><stop offset=".998" stop-color="#0d1e2d"/><stop offset="1" stop-color="#0d1e2d"/></linearGradient>
<linearGradient id="b56" x2="0" y2="1"><stop offset="0" stop-color="#ebee5a"/><stop offset=".222" stop-color="#ecec59"/><stop offset=".283" stop-color="#f8c642"/><stop offset=".32" stop-color="#faa93d"/><stop offset=".371" stop-color="#f38848"/><stop offset=".423" stop-color="#dc6f65"/><stop offset=".479" stop-color="#b4607e"/><stop offset=".554" stop-color="#844f8e"/><stop offset=".657" stop-color="#4e3a9a"/><stop offset=".699" stop-color="#36329b"/><stop offset=".755" stop-color="#162c61"/><stop offset=".886" stop-color="#0f2139"/><stop offset=".998" stop-color="#0d1e2d"/><stop offset="1" stop-color="#0d1e2d"/></linearGradient>
<linearGradient id="b57" x2="0" y2="1"><stop offset="0" stop-color="#ebee5a"/><stop offset=".315" stop-color="#ebee5a"/><stop offset=".339" stop-color="#f7ce45"/><stop offset=".353" stop-color="#fbb13d"/><stop offset=".371" stop-color="#f68b45"/><stop offset=".428" stop-color="#da6e66"/><stop offset=".479" stop-color="#b3607f"/><stop offset=".568" stop-color="#7b4c90"/><stop offset=".661" stop-color="#4b399a"/><stop offset=".699" stop-color="#35329b"/><stop offset=".755" stop-color="#162c61"/><stop offset=".881" stop-color="#0f213a"/><stop offset=".993" stop-color="#0d1e2d"/><stop offset="1" stop-color="#0d1e2d"/></linearGradient>
<linearGradient id="b58" x2="0" y2="1"><stop offset="0" stop-color="#ebee5a"/><stop offset=".334" stop-color="#ebee5a"/><stop offset=".343" stop-color="#f0e150"/><stop offset=".357" stop-color="#f8c041"/><stop offset=".367" stop-color="#faa83d"/><stop offset=".376" stop-color="#f79143"/><stop offset=".386" stop-color="#f38749"/><stop offset=".428" stop-color="#dc6f65"/><stop offset=".479" stop-color="#b25f7f"/><stop offset=".563" stop-color="#7c4c90"/><stop offset=".661" stop-color="#4b389a"/><stop offset=".699" stop-color="#35329b"/><stop offset=".755" stop-color="#162c61"/><stop offset=".881" stop-color="#0f213a"/><stop offset=".993" stop-color="#0d1e2d"/><stop offset="1" stop-color="#0d1e2d"/></linearGradient>
<linearGradient id="b59" x2="0" y2="1"><stop offset="0" stop-color="#ebee5a"/><stop offset=".339" stop-color="#ebee5a"/><stop offset=".348" stop-color="#f0e150"/><stop offset=".362" stop-color="#f9c041"/><stop offset=".371" stop-color="#fbaa3d"/><stop offset=".386" stop-color="#f68c45"/><stop offset=".432" stop-color="#db6e66"/><stop offset=".479" stop-color="#b15f80"/><stop offset=".568" stop-color="#794b90"/><stop offset=".657" stop-color="#4d399a"/><stop offset=".699" stop-color="#35329b"/><stop offset=".755" stop-color="#162c61"/><stop offset=".881" stop-color="#0f213a"/><stop offset=".993" stop-color="#0d1e2d"/><stop offset="1" stop-color="#0d1e2d"/></linearGradient>
<linearGradient id="b60" x2="0" y2="1"><stop offset="0" stop-color="#ebee5a"/><stop offset=".339" stop-color="#ebee5a"/><stop offset=".348" stop-color="#f0e150"/><stop offset=".362" stop-color="#f9c041"/><stop offset=".371" stop-color="#fbaf3c"/><stop offset=".395" stop-color="#f58a46"/><stop offset=".432" stop-color="#de7063"/><stop offset=".47" stop-color="#b9627c"/><stop offset=".493" stop-color="#a65b84"/><stop offset=".572" stop-color="#764991"/><stop offset=".657" stop-color="#4c399a"/><stop offset=".699" stop-color="#35329a"/><stop offset=".755" stop-color="#162c61"/><stop offset=".881" stop-color="#0f213a"/><stop offset=".993" stop-color="#0d1e2d"/><stop offset="1" stop-color="#0d1e2d"/></linearGradient>
<linearGradient id="b61" x2="0" y2="1"><stop offset="0" stop-color="#ebee5a"/><stop offset=".339" stop-color="#ebee5a"/><stop offset=".348" stop-color="#f0e150"/><stop offset=".362" stop-color="#f9c041"/><stop offset=".376" stop-color="#faa83d"/><stop offset=".395" stop-color="#f68b45"/><stop offset=".432" stop-color="#de7063"/><stop offset=".474" stop-color="#b3607f"/><stop offset=".554" stop-color="#7e4d8f"/><stop offset=".657" stop-color="#4c399a"/><stop offset=".699" stop-color="#34329a"/><stop offset=".755" stop-color="#162c61"/><stop offset=".881" stop-color="#0f213a"/><stop offset=".993" stop-color="#0d1e2d"/><stop offset="1" stop-color="#0d1e2d"/></linearGradient>
<linearGradient id="b62" x2="0" y2="1"><stop offset="0" stop-color="#ebee5a"/><stop offset=".339" stop-color="#ebee5a"/><stop offset=".348" stop-color="#f0e150"/><stop offset=".362" stop-color="#f9c041"/><stop offset=".371" stop-color="#fbab3d"/><stop offset=".39" stop-color="#f48947"/><stop offset=".432" stop-color="#da6e66"/><stop offset=".465" stop-color="#bb627b"/><stop offset=".498" stop-color="#a05a86"/><stop offset=".568" stop-color="#774a91"/><stop offset=".657" stop-color="#4b399a"/><stop offset=".699" stop-color="#343299"/><stop offset=".755" stop-color="#162c61"/><stop offset=".881" stop-color="#0f213a"/><stop offset=".993" stop-color="#0d1e2d"/><stop offset="1" stop-color="#0d1e2d"/></linearGradient>
<linearGradient id="b63" x2="0" y2="1"><stop offset="0" stop-color="#ebee5a"/><stop offset=".339" stop-color="#ecec58"/><stop offset=".357" stop-color="#f7ca44"/><stop offset=".362" stop-color="#f9c041"/><stop offset=".367" stop-color="#fbaf3d"/><stop offset=".376" stop-color="#f79143"/><stop offset=".386" stop-color="#f2864a"/><stop offset=".428" stop-color="#da6e67"/><stop offset=".465" stop-color="#b9617c"/><stop offset=".512" stop-color="#965689"/><stop offset=".572" stop-color="#744892"/><stop offset=".661" stop-color="#48389a"/><stop offset=".699" stop-color="#343299"/><stop offset=".755" stop-color="#162c61"/><stop offset=".881" stop-color="#0f213a"/><stop offset=".993" stop-color="#0d1e2d"/><stop offset="1" stop-color="#0d1e2d"/></linearGradient>
<linearGradient id="b64" x2="0" y2="1"><stop offset="0" stop-color="#ebee5a"/><stop offset=".311" stop-color="#ebee5a"/><stop offset=".339" stop-color="#f7c943"/><stop offset=".353" stop-color="#fbac3c"/><stop offset=".367" stop-color="#f78f44"/><stop offset=".386" stop-color="#ee814f"/><stop offset=".418" stop-color="#dd6f64"/><stop offset=".465" stop-color="#b7617d"/><stop offset=".521" stop-color="#8f538b"/><stop offset=".572" stop-color="#734892"/><stop offset=".652" stop-color="#4d399a"/><stop offset=".694" stop-color="#36329b"/><stop offset=".755" stop-color="#162c61"/><stop offset=".876" stop-color="#0f213a"/><stop offset=".998" stop-color="#0d1e2d"/><stop offset="1" stop-color="#0d1e2d"/></linearGradient>
<linearGradient id="b65" x2="0" y2="1"><stop offset="0" stop-color="#ebee5a"/><stop offset=".241" stop-color="#ecec59"/><stop offset=".292" stop-color="#f7c943"/><stop offset=".325" stop-color="#fbaa3d"/><stop offset=".367" stop-color="#f38749"/><stop offset=".414" stop-color="#dd6f64"/><stop offset=".465" stop-color="#b5607e"/><stop offset=".549" stop-color="#7d4c8f"/><stop offset=".652" stop-color="#4c399a"/><stop offset=".694" stop-color="#36329b"/><stop offset=".755" stop-color="#162c61"/><stop offset=".881" stop-color="#0f2139"/><stop offset=".998" stop-color="#0d1e2d"/><stop offset="1" stop-color="#0d1e2d"/></linearGradient>
<linearGradient id="b66" x2="0" y2="1"><stop offset="0" stop-color="#ebee5a"/><stop offset=".241" stop-color="#ebed59"/><stop offset=".278" stop-color="#f7cd44"/><stop offset=".315" stop-color="#fbaa3d"/><stop offset=".362" stop-color="#f38749"/><stop offset=".414" stop-color="#db6e66"/><stop offset=".46" stop-color="#b8617d"/><stop offset=".549" stop-color="#7c4c90"/><stop offset=".652" stop-color="#4c399a"/><stop offset=".694" stop-color="#36329b"/><stop offset=".755" stop-color="#162c61"/><stop offset=".881" stop-color="#0f2139"/><stop offset=".998" stop-color="#0d1e2d"/><stop offset="1" stop-color="#0d1e2d"/></linearGradient>
<linearGradient id="b67" x2="0" y2="1"><stop offset="0" stop-color="#ebee5a"/><stop offset=".241" stop-color="#ebee5a"/><stop offset=".278" stop-color="#f7ce45"/><stop offset=".315" stop-color="#fbaa3d"/><stop offset=".362" stop-color="#f3874a"/><stop offset=".414" stop-color="#da6e66"/><stop offset=".46" stop-color="#b8617d"/><stop offset=".549" stop-color="#7c4c90"/><stop offset=".657" stop-color="#49389a"/><stop offset=".694" stop-color="#35329b"/><stop offset=".755" stop-color="#162c61"/><stop offset=".881" stop-color="#0f2139"/><stop offset=".998" stop-color="#0d1e2d"/><stop offset="1" stop-color="#0d1e2d"/></linearGradient>
<linearGradient id="b68" x2="0" y2="1"><stop offset="0" stop-color="#ebee5a"/><stop offset=".245" stop-color="#ebed59"/><stop offset=".283" stop-color="#f7ca44"/><stop offset=".315" stop-color="#fbaa3d"/><stop offset=".362" stop-color="#f2864a"/><stop offset=".409" stop-color="#de7064"/><stop offset=".46" stop-color="#b8617d"/><stop offset=".544" stop-color="#7e4d8f"/><stop offset=".652" stop-color="#4b399a"/><stop offset=".694" stop-color="#35329a"/><stop offset=".755" stop-color="#162c60"/><stop offset=".881" stop-color="#0f2139"/><stop offset=".988" stop-color="#0d1e2d"/><stop offset="1" stop-color="#0d1e2d"/></linearGradient>
<linearGradient id="b69" x2="0" y2="1"><stop offset="0" stop-color="#ebee5a"/><stop offset=".25" stop-color="#ecec59"/><stop offset=".283" stop-color="#f7cc44"/><stop offset=".315" stop-color="#fbaa3d"/><stop offset=".357" stop-color="#f48848"/><stop offset=".409" stop-color="#dd6f64"/><stop offset=".46" stop-color="#b8617d"/><stop offset=".544" stop-color="#7e4d8f"/><stop offset=".647" stop-color="#4d399a"/><stop offset=".694" stop-color="#343299"/><stop offset=".755" stop-color="#162c60"/><stop offset=".881" stop-color="#0f2139"/><stop offset=".988" stop-color="#0d1e2d"/><stop offset="1" stop-color="#0d1e2d"/></linearGradient>
<linearGradient id="b70" x2="0" y2="1"><stop offset="0" stop-color="#ebee5a"/><stop offset=".25" stop-color="#ebee5a"/><stop offset=".283" stop-color="#f7ce45"/><stop offset=".311" stop-color="#fbae3c"/><stop offset=".353" stop-color="#f58a46"/><stop offset=".414" stop-color="#da6e67"/><stop offset=".47" stop-color="#b15f80"/><stop offset=".554" stop-color="#794b90"/><stop offset=".647" stop-color="#4d399a"/><stop offset=".689" stop-color="#36329b"/><stop offset=".75" stop-color="#162c62"/><stop offset=".881" stop-color="#0f2139"/><stop offset=".988" stop-color="#0d1e2d"/><stop offset="1" stop-color="#0d1e2d"/></linearGradient>
<linearGradient id="b71" x2="0" y2="1"><stop offset="0" stop-color="#ebee5a"/><stop offset=".255" stop-color="#ebee5a"/><stop offset=".287" stop-color="#f7c943"/><stop offset=".311" stop-color="#fbae3c"/><stop offset=".357" stop-color="#f38749"/><stop offset=".409" stop-color="#dd6f64"/><stop offset=".46" stop-color="#b8617d"/><stop offset=".544" stop-color="#7d4d8f"/><stop offset=".643" stop-color="#4f3a9a"/><stop offset=".689" stop-color="#36329b"/><stop offset=".75" stop-color="#162c61"/><stop offset=".881" stop-color="#0f2139"/><stop offset=".988" stop-color="#0d1e2d"/><stop offset="1" stop-color="#0d1e2d"/></linearGradient>
<linearGradient id="b72" x2="0" y2="1"><stop offset="0" stop-color="#ebee5a"/><stop offset=".255" stop-color="#ecec59"/><stop offset=".283" stop-color="#f7cd45"/><stop offset=".301" stop-color="#fab63e"/><stop offset=".325" stop-color="#f9a03f"/><stop offset=".357" stop-color="#f38749"/><stop offset=".409" stop-color="#dc6f65"/><stop offset=".47" stop-color="#b15f80"/><stop offset=".549" stop-color="#7b4c90"/><stop offset=".647" stop-color="#4c399a"/><stop offset=".689" stop-color="#35329b"/><stop offset=".75" stop-color="#162c61"/><stop offset=".876" stop-color="#0f213a"/><stop offset=".988" stop-color="#0d1e2d"/><stop offset="1" stop-color="#0d1e2d"/></linearGradient>
<linearGradient id="b73" x2="0" y2="1"><stop offset="0" stop-color="#ebee5a"/><stop offset=".25" stop-color="#ebee5a"/><stop offset=".283" stop-color="#f7ca44"/><stop offset=".306" stop-color="#fbaf3d"/><stop offset=".353" stop-color="#f48947"/><stop offset=".409" stop-color="#dc6f65"/><stop offset=".47" stop-color="#b15f80"/><stop offset=".549" stop-color="#7b4c90"/><stop offset=".647" stop-color="#4b399a"/><stop offset=".689" stop-color="#35329a"/><stop offset=".75" stop-color="#162c61"/><stop offset=".876" stop-color="#0f213a"/><stop offset=".988" stop-color="#0d1e2d"/><stop offset="1" stop-color="#0d1e2d"/></linearGradient>
<linearGradient id="b74" x2="0" y2="1"><stop offset="0" stop-color="#ebee5a"/><stop offset=".25" stop-color="#ecec59"/><stop offset=".278" stop-color="#f7cd45"/><stop offset=".301" stop-color="#fab23d"/><stop offset=".353" stop-color="#f48848"/><stop offset=".409" stop-color="#dc6f65"/><stop offset=".47" stop-color="#b15f80"/><stop offset=".544" stop-color="#7d4c8f"/><stop offset=".647" stop-color="#4b399a"/><stop offset=".689" stop-color="#343299"/><stop offset=".75" stop-color="#162c61"/><stop offset=".876" stop-color="#0f213a"/><stop offset=".988" stop-color="#0d1e2d"/><stop offset="1" stop-color="#0d1e2d"/></linearGradient>
<linearGradient id="b75" x2="0" y2="1"><stop offset="0" stop-color="#ebee5a"/><stop offset=".245" stop-color="#ebee5a"/><stop offset=".278" stop-color="#f7cb44"/><stop offset=".297" stop-color="#fab53e"/><stop offset=".32" stop-color="#f9a13f"/><stop offset=".357" stop-color="#f2864a"/><stop offset=".409" stop-color="#dc6f64"/><stop offset=".456" stop-color="#bc627b"/><stop offset=".54" stop-color="#7f4d8f"/><stop offset=".647" stop-color="#4b399a"/><stop offset=".689" stop-color="#343299"/><stop offset=".75" stop-color="#162c61"/><stop offset=".871" stop-color="#0f213a"/><stop offset=".988" stop-color="#0d1e2d"/><stop offset="1" stop-color="#0d1e2d"/></linearGradient>
<linearGradient id="b76" x2="0" y2="1"><stop offset="0" stop-color="#ebee5a"/><stop offset=".25" stop-color="#ebee5a"/><stop offset=".283" stop-color="#f7c843"/><stop offset=".306" stop-color="#fbaf3d"/><stop offset=".357" stop-color="#f48848"/><stop offset=".409" stop-color="#df7063"/><stop offset=".465" stop-color="#b7617d"/><stop offset=".54" stop-color="#804e8f"/><stop offset=".647" stop-color="#4b399a"/><stop offset=".689" stop-color="#343299"/><stop offset=".75" stop-color="#162c61"/><stop offset=".876" stop-color="#0f213a"/><stop offset=".988" stop-color="#0d1e2d"/><stop offset="1" stop-color="#0d1e2d"/></linearGradient>
<linearGradient id="b77" x2="0" y2="1"><stop offset="0" stop-color="#ebee5a"/><stop offset=".255" stop-color="#ecec58"/><stop offset=".283" stop-color="#f7cc44"/><stop offset=".297" stop-color="#f9ba40"/><stop offset=".315" stop-color="#fbab3d"/><stop offset=".367" stop-color="#f2864a"/><stop offset=".423" stop-color="#d86d68"/><stop offset=".47" stop-color="#b5607e"/><stop offset=".535" stop-color="#844f8d"/><stop offset=".638" stop-color="#513a9a"/><stop offset=".689" stop-color="#343299"/><stop offset=".75" stop-color="#162c61"/><stop offset=".876" stop-color="#0f213a"/><stop offset=".988" stop-color="#0d1e2d"/><stop offset="1" stop-color="#0d1e2d"/></linearGradient>
<linearGradient id="b78" x2="0" y2="1"><stop offset="0" stop-color="#ebee5a"/><stop offset=".255" stop-color="#ebee5a"/><stop offset=".287" stop-color="#f7c943"/><stop offset=".311" stop-color="#fab13d"/><stop offset=".367" stop-color="#f48848"/><stop offset=".418" stop-color="#de7063"/><stop offset=".47" stop-color="#b8617d"/><stop offset=".549" stop-color="#7c4c90"/><stop offset=".647" stop-color="#4c399a"/><stop offset=".689" stop-color="#343299"/><stop offset=".75" stop-color="#162c61"/><stop offset=".876" stop-color="#0f213a"/><stop offset=".988" stop-color="#0d1e2d"/><stop offset="1" stop-color="#0d1e2d"/></linearGradient>
<linearGradient id="b79" x2="0" y2="1"><stop offset="0" stop-color="#ebee5a"/><stop offset=".259" stop-color="#eced59"/><stop offset=".292" stop-color="#f8c743"/><stop offset=".311" stop-color="#fab43e"/><stop offset=".334" stop-color="#f9a23f"/><stop offset=".371" stop-color="#f48848"/><stop offset=".423" stop-color="#dd7064"/><stop offset=".479" stop-color="#b35f7f"/><stop offset=".544" stop-color="#804e8f"/><stop offset=".647" stop-color="#4c399a"/><stop offset=".689" stop-color="#343299"/><stop offset=".75" stop-color="#162c61"/><stop offset=".876" stop-color="#0f213a"/><stop offset=".988" stop-color="#0d1e2d"/><stop offset="1" stop-color="#0d1e2d"/></linearGradient>
<linearGradient id="b80" x2="0" y2="1"><stop offset="0" stop-color="#ebee5a"/><stop offset=".264" stop-color="#ebee5a"/><stop offset=".297" stop-color="#f7cc44"/><stop offset=".311" stop-color="#f9ba40"/><stop offset=".329" stop-color="#fbab3d"/><stop offset=".376" stop-color="#f48848"/><stop offset=".428" stop-color="#dd6f64"/><stop offset=".479" stop-color="#b5607e"/><stop offset=".554" stop-color="#7b4c90"/><stop offset=".643" stop-color="#4f3a9a"/><stop offset=".689" stop-color="#34329a"/><stop offset=".75" stop-color="#162c61"/><stop offset=".876" stop-color="#0f213a"/><stop offset=".988" stop-color="#0d1e2d"/><stop offset="1" stop-color="#0d1e2d"/></linearGradient>
<linearGradient id="b81" x2="0" y2="1"><stop offset="0" stop-color="#ebee5a"/><stop offset=".283" stop-color="#ecec58"/><stop offset=".315" stop-color="#f7c843"/><stop offset=".343" stop-color="#faa93d"/><stop offset=".381" stop-color="#f48848"/><stop offset=".437" stop-color="#d96e67"/><stop offset=".479" stop-color="#b7617d"/><stop offset=".544" stop-color="#824e8e"/><stop offset=".647" stop-color="#4d399a"/><stop offset=".689" stop-color="#34329a"/><stop offset=".75" stop-color="#162c61"/><stop offset=".876" stop-color="#0f213a"/><stop offset=".988" stop-color="#0d1e2d"/><stop offset="1" stop-color="#0d1e2d"/></linearGradient>
<linearGradient id="b82" x2="0" y2="1"><stop offset="0" stop-color="#ebee5a"/><stop offset=".311" stop-color="#ebee5a"/><stop offset=".329" stop-color="#f6d246"/><stop offset=".339" stop-color="#f9be40"/><stop offset=".357" stop-color="#faa63e"/><stop offset=".386" stop-color="#f48848"/><stop offset=".442" stop-color="#d96e67"/><stop offset=".484" stop-color="#b6617d"/><stop offset=".549" stop-color="#804e8f"/><stop offset=".652" stop-color="#4a389a"/><stop offset=".689" stop-color="#34329a"/><stop offset=".75" stop-color="#162c61"/><stop offset=".876" stop-color="#0f213a"/><stop offset=".988" stop-color="#0d1e2d"/><stop offset="1" stop-color="#0d1e2d"/></linearGradient>
<linearGradient id="b83" x2="0" y2="1"><stop offset="0" stop-color="#ebee5a"/><stop offset=".348" stop-color="#ebee5a"/><stop offset=".353" stop-color="#ecea57"/><stop offset=".362" stop-color="#f5d648"/><stop offset=".376" stop-color="#fbab3c"/><stop offset=".386" stop-color="#f79243"/><stop offset=".395" stop-color="#f38749"/><stop offset=".442" stop-color="#dd6f64"/><stop offset=".488" stop-color="#b6617d"/><stop offset=".549" stop-color="#824e8e"/><stop offset=".647" stop-color="#4e399a"/><stop offset=".689" stop-color="#35329a"/><stop offset=".75" stop-color="#162c61"/><stop offset=".881" stop-color="#0f2139"/><stop offset=".988" stop-color="#0d1e2d"/><stop offset="1" stop-color="#0d1e2d"/></linearGradient>
<linearGradient id="b84" x2="0" y2="1"><stop offset="0" stop-color="#ebee5a"/><stop offset=".357" stop-color="#ebee5a"/><stop offset=".367" stop-color="#f1df4f"/><stop offset=".376" stop-color="#f8c643"/><stop offset=".386" stop-color="#fbab3c"/><stop offset=".4" stop-color="#f68a46"/><stop offset=".446" stop-color="#de7063"/><stop offset=".493" stop-color="#b7617d"/><stop offset=".554" stop-color="#814e8e"/><stop offset=".647" stop-color="#4e3a9a"/><stop offset=".689" stop-color="#35329b"/><stop offset=".75" stop-color="#162c62"/><stop offset=".881" stop-color="#0f2139"/><stop offset=".988" stop-color="#0d1e2d"/><stop offset="1" stop-color="#0d1e2d"/></linearGradient>
<linearGradient id="b85" x2="0" y2="1"><stop offset="0" stop-color="#ebee5a"/><stop offset=".362" stop-color="#ebee5a"/><stop offset=".381" stop-color="#f7c943"/><stop offset=".395" stop-color="#faa83d"/><stop offset=".409" stop-color="#f68b45"/><stop offset=".456" stop-color="#db6f65"/><stop offset=".498" stop-color="#b6617d"/><stop offset=".554" stop-color="#834f8e"/><stop offset=".652" stop-color="#4c399a"/><stop offset=".689" stop-color="#35329b"/><stop offset=".755" stop-color="#162b60"/><stop offset=".881" stop-color="#0f2139"/><stop offset=".988" stop-color="#0d1e2d"/><stop offset="1" stop-color="#0d1e2d"/></linearGradient>
<linearGradient id="b86" x2="0" y2="1"><stop offset="0" stop-color="#ebee5a"/><stop offset=".362" stop-color="#ecec58"/><stop offset=".376" stop-color="#f6d246"/><stop offset=".386" stop-color="#f9bb40"/><stop offset=".395" stop-color="#fbac3c"/><stop offset=".418" stop-color="#f68b45"/><stop offset=".46" stop-color="#db6f65"/><stop offset=".498" stop-color="#ba627c"/><stop offset=".554" stop-color="#85508d"/><stop offset=".596" stop-color="#6c4594"/><stop offset=".661" stop-color="#47379a"/><stop offset=".689" stop-color="#35329b"/><stop offset=".755" stop-color="#162c60"/><stop offset=".881" stop-color="#0f2139"/><stop offset=".988" stop-color="#0d1e2d"/><stop offset="1" stop-color="#0d1e2d"/></linearGradient>
<linearGradient id="b87" x2="0" y2="1"><stop offset="0" stop-color="#ebee5a"/><stop offset=".357" stop-color="#ebee5a"/><stop offset=".367" stop-color="#f0e150"/><stop offset=".381" stop-color="#f8c141"/><stop offset=".4" stop-color="#faa83d"/><stop offset=".428" stop-color="#f48848"/><stop offset=".465" stop-color="#db6f65"/><stop offset=".507" stop-color="#b5607e"/><stop offset=".568" stop-color="#7c4c90"/><stop offset=".652" stop-color="#4d399a"/><stop offset=".689" stop-color="#35329b"/><stop offset=".755" stop-color="#162c60"/><stop offset=".881" stop-color="#0f2139"/><stop offset=".988" stop-color="#0d1e2d"/><stop offset="1" stop-color="#0d1e2d"/></linearGradient>
<linearGradient id="b88" x2="0" y2="1"><stop offset="0" stop-color="#ebee5a"/><stop offset=".357" stop-color="#ecec59"/><stop offset=".376" stop-color="#f7c943"/><stop offset=".386" stop-color="#fab83f"/><stop offset=".4" stop-color="#faa83d"/><stop offset=".432" stop-color="#f38849"/><stop offset=".47" stop-color="#db6f65"/><stop offset=".512" stop-color="#b5607e"/><stop offset=".572" stop-color="#7b4c90"/><stop offset=".657" stop-color="#4b389a"/><stop offset=".689" stop-color="#35329b"/><stop offset=".755" stop-color="#162c60"/><stop offset=".881" stop-color="#0f2139"/><stop offset=".988" stop-color="#0d1e2d"/><stop offset="1" stop-color="#0d1e2d"/></linearGradient>
<linearGradient id="b89" x2="0" y2="1"><stop offset="0" stop-color="#ebee5a"/><stop offset=".334" stop-color="#ebee5a"/><stop offset=".357" stop-color="#f7cc44"/><stop offset=".367" stop-color="#f9bd40"/><stop offset=".39" stop-color="#faa93d"/><stop offset=".432" stop-color="#f58a46"/><stop offset=".474" stop-color="#dc6f65"/><stop offset=".516" stop-color="#b4607e"/><stop offset=".568" stop-color="#804e8f"/><stop offset=".657" stop-color="#4b399a"/><stop offset=".689" stop-color="#35329b"/><stop offset=".755" stop-color="#162c60"/><stop offset=".881" stop-color="#0f2139"/><stop offset=".998" stop-color="#0d1e2d"/><stop offset="1" stop-color="#0d1e2d"/></linearGradient>
<linearGradient id="b90" x2="0" y2="1"><stop offset="0" stop-color="#ebee5a"/><stop offset=".292" stop-color="#ecec59"/><stop offset=".348" stop-color="#f7c843"/><stop offset=".39" stop-color="#faa83d"/><stop offset=".437" stop-color="#f58947"/><stop offset=".479" stop-color="#dc6f65"/><stop offset=".516" stop-color="#b8617c"/><stop offset=".563" stop-color="#87508d"/><stop offset=".591" stop-color="#734892"/><stop offset=".657" stop-color="#4c399a"/><stop offset=".689" stop-color="#36329b"/><stop offset=".755" stop-color="#162c60"/><stop offset=".881" stop-color="#0f2139"/><stop offset=".998" stop-color="#0d1e2d"/><stop offset="1" stop-color="#0d1e2d"/></linearGradient>
<linearGradient id="b91" x2="0" y2="1"><stop offset="0" stop-color="#ebee5a"/><stop offset=".297" stop-color="#eced59"/><stop offset=".353" stop-color="#f7c943"/><stop offset=".395" stop-color="#faa83d"/><stop offset=".442" stop-color="#f48848"/><stop offset=".484" stop-color="#dc6f65"/><stop offset=".521" stop-color="#b8617d"/><stop offset=".572" stop-color="#804e8e"/><stop offset=".652" stop-color="#503a9a"/><stop offset=".689" stop-color="#36329b"/><stop offset=".755" stop-color="#162c61"/><stop offset=".881" stop-color="#0f2139"/><stop offset=".998" stop-color="#0d1e2d"/><stop offset="1" stop-color="#0d1e2d"/></linearGradient>
<linearGradient id="b92" x2="0" y2="1"><stop offset="0" stop-color="#ebee5a"/><stop offset=".301" stop-color="#ebed59"/><stop offset=".362" stop-color="#f8c642"/><stop offset=".4" stop-color="#faa83d"/><stop offset=".446" stop-color="#f38848"/><stop offset=".488" stop-color="#dc6f65"/><stop offset=".526" stop-color="#b7617d"/><stop offset=".582" stop-color="#7b4c90"/><stop offset=".657" stop-color="#4d399a"/><stop offset=".689" stop-color="#36329b"/><stop offset=".755" stop-color="#162c61"/><stop offset=".881" stop-color="#0f2139"/><stop offset=".998" stop-color="#0d1e2d"/><stop offset="1" stop-color="#0d1e2d"/></linearGradient>
<linearGradient id="b93" x2="0" y2="1"><stop offset="0" stop-color="#ebee5a"/><stop offset=".306" stop-color="#ebed59"/><stop offset=".362" stop-color="#f7ca44"/><stop offset=".404" stop-color="#faa83d"/><stop offset=".446" stop-color="#f58a46"/><stop offset=".493" stop-color="#dc6f65"/><stop offset=".53" stop-color="#b7617d"/><stop offset=".572" stop-color="#86508d"/><stop offset=".61" stop-color="#6c4594"/><stop offset=".666" stop-color="#47379a"/><stop offset=".689" stop-color="#36329b"/><stop offset=".755" stop-color="#162c61"/><stop offset=".881" stop-color="#0f2139"/><stop offset=".998" stop-color="#0d1e2d"/><stop offset="1" stop-color="#0d1e2d"/></linearGradient>
<linearGradient id="b94" x2="0" y2="1"><stop offset="0" stop-color="#ebee5a"/><stop offset=".311" stop-color="#ebed5a"/><stop offset=".371" stop-color="#f8c743"/><stop offset=".409" stop-color="#faa83d"/><stop offset=".456" stop-color="#f3874a"/><stop offset=".498" stop-color="#dc6f64"/><stop offset=".535" stop-color="#b6617d"/><stop offset=".582" stop-color="#7f4d8f"/><stop offset=".661" stop-color="#4b399a"/><stop offset=".689" stop-color="#36329b"/><stop offset=".755" stop-color="#162c61"/><stop offset=".881" stop-color="#0f2139"/><stop offset=".998" stop-color="#0d1e2d"/><stop offset="1" stop-color="#0d1e2d"/></linearGradient>
<linearGradient id="b95" x2="0" y2="1"><stop offset="0" stop-color="#ebee5a"/><stop offset=".32" stop-color="#ecec59"/><stop offset=".371" stop-color="#f7cb44"/><stop offset=".414" stop-color="#faa93d"/><stop offset=".46" stop-color="#f38749"/><stop offset=".502" stop-color="#dd6f64"/><stop offset=".54" stop-color="#b6607e"/><stop offset=".586" stop-color="#7d4d8f"/><stop offset=".661" stop-color="#4c399a"/><stop offset=".694" stop-color="#343299"/><stop offset=".755" stop-color="#162c61"/><stop offset=".881" stop-color="#0f213a"/><stop offset=".993" stop-color="#0d1e2d"/><stop offset="1" stop-color="#0d1e2d"/></linearGradient>
<linearGradient id="b96" x2="0" y2="1"><stop offset="0" stop-color="#ebee5a"/><stop offset=".325" stop-color="#ebed5a"/><stop offset=".376" stop-color="#f7cc44"/><stop offset=".418" stop-color="#faa93d"/><stop offset=".465" stop-color="#f38749"/><stop offset=".507" stop-color="#dd6f64"/><stop offset=".544" stop-color="#b5607e"/><stop offset=".591" stop-color="#7c4c90"/><stop offset=".661" stop-color="#4d399a"/><stop offset=".694" stop-color="#343299"/><stop offset=".755" stop-color="#162c61"/><stop offset=".881" stop-color="#0f213a"/><stop offset=".993" stop-color="#0d1e2d"/><stop offset="1" stop-color="#0d1e2d"/></linearGradient>
<linearGradient id="b97" x2="0" y2="1"><stop offset="0" stop-color="#ebee5a"/><stop offset=".334" stop-color="#ecec58"/><stop offset=".386" stop-color="#f7c843"/><stop offset=".423" stop-color="#faa93d"/><stop offset=".47" stop-color="#f38749"/><stop offset=".512" stop-color="#dd6f64"/><stop offset=".544" stop-color="#ba627c"/><stop offset=".582" stop-color="#8a518c"/><stop offset=".596" stop-color="#7b4c90"/><stop offset=".661" stop-color="#4e399a"/><stop offset=".694" stop-color="#34329a"/><stop offset=".755" stop-color="#162c61"/><stop offset=".881" stop-color="#0f213a"/><stop offset=".993" stop-color="#0d1e2d"/><stop offset="1" stop-color="#0d1e2d"/></linearGradient>
<linearGradient id="b98" x2="0" y2="1"><stop offset="0" stop-color="#ebee5a"/><stop offset=".339" stop-color="#ebed59"/><stop offset=".39" stop-color="#f7c943"/><stop offset=".428" stop-color="#faa93d"/><stop offset=".47" stop-color="#f58a46"/><stop offset=".512" stop-color="#e27260"/><stop offset=".549" stop-color="#b9627c"/><stop offset=".591" stop-color="#824f8e"/><stop offset=".661" stop-color="#4f3a9a"/><stop offset=".694" stop-color="#35329a"/><stop offset=".755" stop-color="#162c61"/><stop offset=".881" stop-color="#0f213a"/><stop offset=".993" stop-color="#0d1e2d"/><stop offset="1" stop-color="#0d1e2d"/></linearGradient>
<linearGradient id="b99" x2="0" y2="1"><stop offset="0" stop-color="#ebee5a"/><stop offset=".343" stop-color="#ebee5a"/><stop offset=".39" stop-color="#f7cd44"/><stop offset=".432" stop-color="#faa93d"/><stop offset=".474" stop-color="#f58a46"/><stop offset=".516" stop-color="#e27260"/><stop offset=".558" stop-color="#b3607f"/><stop offset=".6" stop-color="#7c4c90"/><stop offset=".666" stop-color="#4c399a"/><stop offset=".694" stop-color="#35329b"/><stop offset=".755" stop-color="#162c62"/><stop offset=".886" stop-color="#0f2139"/><stop offset=".998" stop-color="#0d1e2d"/><stop offset="1" stop-color="#0d1e2d"/></linearGradient>
<linearGradient id="b100" x2="0" y2="1"><stop offset="0" stop-color="#ebee5a"/><stop offset=".348" stop-color="#ebed59"/><stop offset=".395" stop-color="#f7cc44"/><stop offset=".437" stop-color="#faa83d"/><stop offset=".484" stop-color="#f38749"/><stop offset=".526" stop-color="#dd6f64"/><stop offset=".558" stop-color="#b7617d"/><stop offset=".6" stop-color="#7d4d8f"/><stop offset=".666" stop-color="#4d399a"/><stop offset=".694" stop-color="#35329b"/><stop offset=".759" stop-color="#162c60"/><stop offset=".886" stop-color="#0f2139"/><stop offset=".998" stop-color="#0d1e2d"/><stop offset="1" stop-color="#0d1e2d"/></linearGradient>
<linearGradient id="b101" x2="0" y2="1"><stop offset="0" stop-color="#ebee5a"/><stop offset=".353" stop-color="#eced59"/><stop offset=".4" stop-color="#f7ca44"/><stop offset=".437" stop-color="#fbab3d"/><stop offset=".484" stop-color="#f48947"/><stop offset=".526" stop-color="#e07162"/><stop offset=".558" stop-color="#b9627c"/><stop offset=".596" stop-color="#85508d"/><stop offset=".624" stop-color="#6e4694"/><stop offset=".689" stop-color="#39339b"/><stop offset=".699" stop-color="#333297"/><stop offset=".759" stop-color="#162c60"/><stop offset=".886" stop-color="#0f2139"/><stop offset=".998" stop-color="#0d1e2d"/><stop offset="1" stop-color="#0d1e2d"/></linearGradient>
<linearGradient id="b102" x2="0" y2="1"><stop offset="0" stop-color="#ebee5a"/><stop offset=".357" stop-color="#ecec59"/><stop offset=".404" stop-color="#f7c943"/><stop offset=".442" stop-color="#fbaa3d"/><stop offset=".488" stop-color="#f48848"/><stop offset=".53" stop-color="#de7064"/><stop offset=".563" stop-color="#b6617d"/><stop offset=".596" stop-color="#87508d"/><stop offset=".614" stop-color="#754992"/><stop offset=".671" stop-color="#4a389a"/><stop offset=".694" stop-color="#36329b"/><stop offset=".759" stop-color="#162c60"/><stop offset=".886" stop-color="#0f2139"/><stop offset="1" stop-color="#0d1e2d"/></linearGradient>
<linearGradient id="b103" x2="0" y2="1"><stop offset="0" stop-color="#ebee5a"/><stop offset=".357" stop-color="#ebee5a"/><stop offset=".404" stop-color="#f7cd44"/><stop offset=".446" stop-color="#faa93d"/><stop offset=".493" stop-color="#f38848"/><stop offset=".53" stop-color="#e17161"/><stop offset=".568" stop-color="#b25f7f"/><stop offset=".605" stop-color="#7d4d8f"/><stop offset=".671" stop-color="#4b399a"/><stop offset=".694" stop-color="#36329b"/><stop offset=".759" stop-color="#162c61"/><stop offset=".886" stop-color="#0f2139"/><stop offset="1" stop-color="#0d1e2d"/></linearGradient>
<linearGradient id="b104" x2="0" y2="1"><stop offset="0" stop-color="#ebee5a"/><stop offset=".362" stop-color="#ebee5a"/><stop offset=".409" stop-color="#f7cb44"/><stop offset=".446" stop-color="#fbab3d"/><stop offset=".493" stop-color="#f58a46"/><stop offset=".535" stop-color="#df7063"/><stop offset=".568" stop-color="#b5607e"/><stop offset=".605" stop-color="#7f4d8f"/><stop offset=".671" stop-color="#4b399a"/><stop offset=".694" stop-color="#37329b"/><stop offset=".759" stop-color="#162c61"/><stop offset=".886" stop-color="#0f2139"/><stop offset="1" stop-color="#0d1e2d"/></linearGradient>
<linearGradient id="b105" x2="0" y2="1"><stop offset="0" stop-color="#ebee5a"/><stop offset=".367" stop-color="#ebed59"/><stop offset=".409" stop-color="#f7ce45"/><stop offset=".451" stop-color="#fbaa3d"/><stop offset=".498" stop-color="#f48848"/><stop offset=".535" stop-color="#e17160"/><stop offset=".568" stop-color="#b9617c"/><stop offset=".605" stop-color="#814e8e"/><stop offset=".671" stop-color="#4c399a"/><stop offset=".699" stop-color="#343299"/><stop offset=".759" stop-color="#162c61"/><stop offset=".886" stop-color="#0f213a"/><stop offset="1" stop-color="#0d1e2d"/></linearGradient>
<linearGradient id="b106" x2="0" y2="1"><stop offset="0" stop-color="#ebee5a"/><stop offset=".371" stop-color="#eced59"/><stop offset=".418" stop-color="#f7c843"/><stop offset=".456" stop-color="#faa83d"/><stop offset=".498" stop-color="#f58a46"/><stop offset=".54" stop-color="#e07062"/><stop offset=".572" stop-color="#b6607e"/><stop offset=".61" stop-color="#7e4d8f"/><stop offset=".671" stop-color="#4d399a"/><stop offset=".699" stop-color="#343299"/><stop offset=".759" stop-color="#162c61"/><stop offset=".886" stop-color="#0f213a"/><stop offset="1" stop-color="#0d1e2d"/></linearGradient>
<linearGradient id="b107" x2="0" y2="1"><stop offset="0" stop-color="#ebee5a"/><stop offset=".376" stop-color="#ecec58"/><stop offset=".418" stop-color="#f7cb44"/><stop offset=".456" stop-color="#fbaa3d"/><stop offset=".502" stop-color="#f48947"/><stop offset=".544" stop-color="#dd7064"/><stop offset=".572" stop-color="#b9617c"/><stop offset=".61" stop-color="#804e8e"/><stop offset=".675" stop-color="#49389a"/><stop offset=".699" stop-color="#34329a"/><stop offset=".759" stop-color="#162c61"/><stop offset=".886" stop-color="#0f213a"/><stop offset="1" stop-color="#0d1e2d"/></linearGradient>
<linearGradient id="b108" x2="0" y2="1"><stop offset="0" stop-color="#ebee5a"/><stop offset=".376" stop-color="#ebee5a"/><stop offset=".418" stop-color="#f7ce45"/><stop offset=".456" stop-color="#fbac3c"/><stop offset=".507" stop-color="#f48848"/><stop offset=".544" stop-color="#e17161"/><stop offset=".577" stop-color="#b6607e"/><stop offset=".614" stop-color="#7d4d8f"/><stop offset=".675" stop-color="#4a389a"/><stop offset=".699" stop-color="#35329a"/><stop offset=".759" stop-color="#162c61"/><stop offset=".886" stop-color="#0f213a"/><stop offset="1" stop-color="#0d1e2d"/></linearGradient>
<linearGradient id="b109" x2="0" y2="1"><stop offset="0" stop-color="#ebee5a"/><stop offset=".381" stop-color="#ebed59"/><stop offset=".423" stop-color="#f7cc44"/><stop offset=".46" stop-color="#fbab3d"/><stop offset=".507" stop-color="#f58a46"/><stop offset=".549" stop-color="#de7063"/><stop offset=".582" stop-color="#b25f7f"/><stop offset=".614" stop-color="#7f4d8f"/><stop offset=".675" stop-color="#4b399a"/><stop offset=".699" stop-color="#35329b"/><stop offset=".759" stop-color="#162c62"/><stop offset=".89" stop-color="#0f2139"/><stop offset="1" stop-color="#0d1e2d"/></linearGradient>
<linearGradient id="b110" x2="0" y2="1"><stop offset="0" stop-color="#ebee5a"/><stop offset=".386" stop-color="#ecec58"/><stop offset=".428" stop-color="#f7ca44"/><stop offset=".465" stop-color="#fbaa3d"/><stop offset=".512" stop-color="#f48848"/><stop offset=".549" stop-color="#e17160"/><stop offset=".582" stop-color="#b6607d"/><stop offset=".61" stop-color="#89518c"/><stop offset=".624" stop-color="#784a91"/><stop offset=".675" stop-color="#4c399a"/><stop offset=".699" stop-color="#35329b"/><stop offset=".764" stop-color="#162c60"/><stop offset=".89" stop-color="#0f2139"/><stop offset="1" stop-color="#0d1e2d"/></linearGradient>
<linearGradient id="b111" x2="0" y2="1"><stop offset="0" stop-color="#ebee5a"/><stop offset=".386" stop-color="#ebee5a"/><stop offset=".428" stop-color="#f7cd44"/><stop offset=".46" stop-color="#fbaf3d"/><stop offset=".512" stop-color="#f58a46"/><stop offset=".554" stop-color="#e07062"/><stop offset=".586" stop-color="#b25f7f"/><stop offset=".619" stop-color="#7e4d8f"/><stop offset=".68" stop-color="#48389a"/><stop offset=".699" stop-color="#35329b"/><stop offset=".764" stop-color="#162c60"/><stop offset=".89" stop-color="#0f2139"/><stop offset="1" stop-color="#0d1e2d"/></linearGradient>
<linearGradient id="b112" x2="0" y2="1"><stop offset="0" stop-color="#ebee5a"/><stop offset=".39" stop-color="#ecec59"/><stop offset=".432" stop-color="#f7cb44"/><stop offset=".47" stop-color="#fbaa3d"/><stop offset=".516" stop-color="#f48947"/><stop offset=".558" stop-color="#dd6f64"/><stop offset=".586" stop-color="#b6617d"/><stop offset=".614" stop-color="#88518d"/><stop offset=".629" stop-color="#774a91"/><stop offset=".68" stop-color="#49389a"/><stop offset=".699" stop-color="#36329b"/><stop offset=".764" stop-color="#162c60"/><stop offset=".89" stop-color="#0f2139"/><stop offset="1" stop-color="#0d1e2d"/></linearGradient>
<linearGradient id="b113" x2="0" y2="1"><stop offset="0" stop-color="#ebee5a"/><stop offset=".39" stop-color="#ebee5a"/><stop offset=".432" stop-color="#f7ce45"/><stop offset=".47" stop-color="#fbac3c"/><stop offset=".516" stop-color="#f68b46"/><stop offset=".558" stop-color="#e07161"/><stop offset=".586" stop-color="#b9617c"/><stop offset=".624" stop-color="#7d4c8f"/><stop offset=".675" stop-color="#4f3a9a"/><stop offset=".699" stop-color="#36329b"/><stop offset=".764" stop-color="#162c61"/><stop offset=".89" stop-color="#0f2139"/><stop offset="1" stop-color="#0d1e2d"/></linearGradient>
<linearGradient id="b114" x2="0" y2="1"><stop offset="0" stop-color="#ebee5a"/><stop offset=".395" stop-color="#eced59"/><stop offset=".437" stop-color="#f7cc44"/><stop offset=".474" stop-color="#fbab3d"/><stop offset=".521" stop-color="#f48947"/><stop offset=".558" stop-color="#e27260"/><stop offset=".586" stop-color="#bb627b"/><stop offset=".624" stop-color="#7e4d8f"/><stop offset=".675" stop-color="#4f3a9a"/><stop offset=".703" stop-color="#343299"/><stop offset=".764" stop-color="#162c61"/><stop offset=".886" stop-color="#0f213a"/><stop offset="1" stop-color="#0d1e2d"/></linearGradient>
<linearGradient id="b115" x2="0" y2="1"><stop offset="0" stop-color="#ebee5a"/><stop offset=".395" stop-color="#ebee5a"/><stop offset=".437" stop-color="#f7cf45"/><stop offset=".479" stop-color="#faa93d"/><stop offset=".521" stop-color="#f58a46"/><stop offset=".563" stop-color="#df7063"/><stop offset=".596" stop-color="#af5e80"/><stop offset=".629" stop-color="#7b4c90"/><stop offset=".675" stop-color="#503a9a"/><stop offset=".703" stop-color="#343299"/><stop offset=".764" stop-color="#162c61"/><stop offset=".89" stop-color="#0f213a"/><stop offset="1" stop-color="#0d1e2d"/></linearGradient>
<linearGradient id="b116" x2="0" y2="1"><stop offset="0" stop-color="#ebee5a"/><stop offset=".4" stop-color="#eced59"/><stop offset=".446" stop-color="#f7c943"/><stop offset=".484" stop-color="#faa83d"/><stop offset=".526" stop-color="#f48848"/><stop offset=".563" stop-color="#e17161"/><stop offset=".591" stop-color="#b9617c"/><stop offset=".629" stop-color="#7c4c90"/><stop offset=".675" stop-color="#513a9a"/><stop offset=".703" stop-color="#34329a"/><stop offset=".764" stop-color="#162c61"/><stop offset=".89" stop-color="#0f213a"/><stop offset="1" stop-color="#0d1e2d"/></linearGradient>
<linearGradient id="b117" x2="0" y2="1"><stop offset="0" stop-color="#ebee5a"/><stop offset=".4" stop-color="#ebee5a"/><stop offset=".451" stop-color="#f8c743"/><stop offset=".484" stop-color="#fbaa3d"/><stop offset=".53" stop-color="#f2874a"/><stop offset=".568" stop-color="#de7064"/><stop offset=".591" stop-color="#bb627b"/><stop offset=".619" stop-color="#8c528b"/><stop offset=".633" stop-color="#794b90"/><stop offset=".68" stop-color="#4d399a"/><stop offset=".703" stop-color="#35329a"/><stop offset=".764" stop-color="#162c61"/><stop offset=".895" stop-color="#0f2139"/><stop offset="1" stop-color="#0d1e2d"/></linearGradient>
<linearGradient id="b118" x2="0" y2="1"><stop offset="0" stop-color="#ebee5a"/><stop offset=".404" stop-color="#eced59"/><stop offset=".451" stop-color="#f7ca44"/><stop offset=".488" stop-color="#faa83d"/><stop offset=".53" stop-color="#f38849"/><stop offset=".568" stop-color="#e07162"/><stop offset=".6" stop-color="#ae5e81"/><stop offset=".629" stop-color="#7f4d8f"/><stop offset=".68" stop-color="#4e3a9a"/><stop offset=".703" stop-color="#35329b"/><stop offset=".769" stop-color="#162b60"/><stop offset=".895" stop-color="#0f2139"/><stop offset="1" stop-color="#0d1e2d"/></linearGradient>
<linearGradient id="b119" x2="0" y2="1"><stop offset="0" stop-color="#ebee5a"/><stop offset=".404" stop-color="#ebed59"/><stop offset=".451" stop-color="#f7cb44"/><stop offset=".488" stop-color="#faaa3d"/><stop offset=".53" stop-color="#f48947"/><stop offset=".568" stop-color="#e27260"/><stop offset=".6" stop-color="#b15f80"/><stop offset=".633" stop-color="#7c4c90"/><stop offset=".68" stop-color="#4f3a9a"/><stop offset=".703" stop-color="#35329b"/><stop offset=".769" stop-color="#162c60"/><stop offset=".895" stop-color="#0f2139"/><stop offset="1" stop-color="#0d1e2d"/></linearGradient>
<linearGradient id="b120" x2="0" y2="1"><stop offset="0" stop-color="#ebee5a"/><stop offset=".404" stop-color="#ebed59"/><stop offset=".456" stop-color="#f7c843"/><stop offset=".488" stop-color="#fbab3d"/><stop offset=".53" stop-color="#f58a46"/><stop offset=".572" stop-color="#df7063"/><stop offset=".6" stop-color="#b3607f"/><stop offset=".633" stop-color="#7d4d8f"/><stop offset=".685" stop-color="#4b399a"/><stop offset=".703" stop-color="#36329b"/><stop offset=".769" stop-color="#162c60"/><stop offset=".895" stop-color="#0f2139"/><stop offset="1" stop-color="#0d1e2d"/></linearGradient>
<linearGradient id="b121" x2="0" y2="1"><stop offset="0" stop-color="#ebee5a"/><stop offset=".404" stop-color="#ebed59"/><stop offset=".456" stop-color="#f7c943"/><stop offset=".493" stop-color="#faa83d"/><stop offset=".535" stop-color="#f48848"/><stop offset=".572" stop-color="#e17161"/><stop offset=".6" stop-color="#b5607e"/><stop offset=".633" stop-color="#7e4d8f"/><stop offset=".685" stop-color="#4c399a"/><stop offset=".703" stop-color="#37329b"/><stop offset=".769" stop-color="#162c61"/><stop offset=".895" stop-color="#0f2139"/><stop offset="1" stop-color="#0d1e2d"/></linearGradient>
<linearGradient id="b122" x2="0" y2="1"><stop offset="0" stop-color="#ebee5a"/><stop offset=".404" stop-color="#ebed59"/><stop offset=".456" stop-color="#f7c943"/><stop offset=".493" stop-color="#faa93d"/><stop offset=".535" stop-color="#f58947"/><stop offset=".577" stop-color="#dd6f64"/><stop offset=".6" stop-color="#b7617d"/><stop offset=".629" stop-color="#88518d"/><stop offset=".647" stop-color="#724893"/><stop offset=".699" stop-color="#3d349b"/><stop offset=".708" stop-color="#343299"/><stop offset=".769" stop-color="#162c61"/><stop offset=".89" stop-color="#0f213a"/><stop offset="1" stop-color="#0d1e2d"/></linearGradient>
<linearGradient id="b123" x2="0" y2="1"><stop offset="0" stop-color="#ebee5a"/><stop offset=".395" stop-color="#ebee5a"/><stop offset=".456" stop-color="#f7c943"/><stop offset=".493" stop-color="#fbaa3d"/><stop offset=".535" stop-color="#f58a46"/><stop offset=".577" stop-color="#dd6f64"/><stop offset=".605" stop-color="#b05f80"/><stop offset=".638" stop-color="#7b4c90"/><stop offset=".685" stop-color="#4d399a"/><stop offset=".708" stop-color="#343299"/><stop offset=".769" stop-color="#162c61"/><stop offset=".895" stop-color="#0f213a"/><stop offset="1" stop-color="#0d1e2d"/></linearGradient>
<linearGradient id="b124" x2="0" y2="1"><stop offset="0" stop-color="#ebee5a"/><stop offset=".39" stop-color="#eced59"/><stop offset=".456" stop-color="#f7c843"/><stop offset=".493" stop-color="#fbaa3d"/><stop offset=".535" stop-color="#f58a46"/><stop offset=".572" stop-color="#e2725f"/><stop offset=".605" stop-color="#b05f80"/><stop offset=".638" stop-color="#7b4c90"/><stop offset=".685" stop-color="#4d399a"/><stop offset=".708" stop-color="#34329a"/><stop offset=".769" stop-color="#162c61"/><stop offset=".895" stop-color="#0f213a"/><stop offset="1" stop-color="#0d1e2d"/></linearGradient>
<linearGradient id="b125" x2="0" y2="1"><stop offset="0" stop-color="#ebee5a"/><stop offset=".386" stop-color="#ecec59"/><stop offset=".456" stop-color="#f7c843"/><stop offset=".498" stop-color="#faa73d"/><stop offset=".535" stop-color="#f68b45"/><stop offset=".577" stop-color="#dd6f64"/><stop offset=".605" stop-color="#b05f80"/><stop offset=".638" stop-color="#7b4c90"/><stop offset=".685" stop-color="#4e399a"/><stop offset=".708" stop-color="#35329a"/><stop offset=".769" stop-color="#162c61"/><stop offset=".9" stop-color="#0f2139"/><stop offset="1" stop-color="#0d1e2d"/></linearGradient>
<linearGradient id="b126" x2="0" y2="1"><stop offset="0" stop-color="#ebee5a"/><stop offset=".39" stop-color="#ecec59"/><stop offset=".456" stop-color="#f7c943"/><stop offset=".498" stop-color="#faa83d"/><stop offset=".54" stop-color="#f48848"/><stop offset=".577" stop-color="#dd6f64"/><stop offset=".605" stop-color="#b05f80"/><stop offset=".638" stop-color="#7b4c90"/><stop offset=".68" stop-color="#533b99"/><stop offset=".708" stop-color="#35329b"/><stop offset=".773" stop-color="#162b60"/><stop offset=".9" stop-color="#0f2139"/><stop offset="1" stop-color="#0d1e2d"/></linearGradient>
<linearGradient id="b127" x2="0" y2="1"><stop offset="0" stop-color="#ebee5a"/><stop offset=".395" stop-color="#ecec59"/><stop offset=".456" stop-color="#f7ca44"/><stop offset=".498" stop-color="#faa93d"/><stop offset=".54" stop-color="#f48948"/><stop offset=".577" stop-color="#dd6f64"/><stop offset=".605" stop-color="#b05f80"/><stop offset=".638" stop-color="#7b4c90"/><stop offset=".685" stop-color="#4f3a9a"/><stop offset=".708" stop-color="#35329b"/><stop offset=".773" stop-color="#162c60"/><stop offset=".9" stop-color="#0f2139"/><stop offset="1" stop-color="#0d1e2d"/></linearGradient></defs>
<g clip-path="url(#cp)"><g filter="url(#bl)">
<rect x="-20.00" y="0" width="24.30" height="427.8" fill="url(#b0)"/>
<rect x="3.70" y="0" width="4.60" height="427.8" fill="url(#b1)"/>
<rect x="7.69" y="0" width="4.60" height="427.8" fill="url(#b2)"/>
<rect x="11.69" y="0" width="4.60" height="427.8" fill="url(#b3)"/>
<rect x="15.68" y="0" width="4.60" height="427.8" fill="url(#b4)"/>
<rect x="19.68" y="0" width="4.60" height="427.8" fill="url(#b5)"/>
<rect x="23.68" y="0" width="4.60" height="427.8" fill="url(#b6)"/>
<rect x="27.67" y="0" width="4.60" height="427.8" fill="url(#b7)"/>
<rect x="31.67" y="0" width="4.60" height="427.8" fill="url(#b8)"/>
<rect x="35.66" y="0" width="4.60" height="427.8" fill="url(#b9)"/>
<rect x="39.66" y="0" width="4.60" height="427.8" fill="url(#b10)"/>
<rect x="43.66" y="0" width="4.60" height="427.8" fill="url(#b11)"/>
<rect x="47.65" y="0" width="4.60" height="427.8" fill="url(#b12)"/>
<rect x="51.65" y="0" width="4.60" height="427.8" fill="url(#b13)"/>
<rect x="55.65" y="0" width="4.60" height="427.8" fill="url(#b14)"/>
<rect x="59.64" y="0" width="4.60" height="427.8" fill="url(#b15)"/>
<rect x="63.64" y="0" width="4.60" height="427.8" fill="url(#b16)"/>
<rect x="67.63" y="0" width="4.60" height="427.8" fill="url(#b17)"/>
<rect x="71.63" y="0" width="4.60" height="427.8" fill="url(#b18)"/>
<rect x="75.63" y="0" width="4.60" height="427.8" fill="url(#b19)"/>
<rect x="79.62" y="0" width="4.60" height="427.8" fill="url(#b20)"/>
<rect x="83.62" y="0" width="4.60" height="427.8" fill="url(#b21)"/>
<rect x="87.61" y="0" width="4.60" height="427.8" fill="url(#b22)"/>
<rect x="91.61" y="0" width="4.60" height="427.8" fill="url(#b23)"/>
<rect x="95.61" y="0" width="4.60" height="427.8" fill="url(#b24)"/>
<rect x="99.60" y="0" width="4.60" height="427.8" fill="url(#b25)"/>
<rect x="103.60" y="0" width="4.60" height="427.8" fill="url(#b26)"/>
<rect x="107.59" y="0" width="4.60" height="427.8" fill="url(#b27)"/>
<rect x="111.59" y="0" width="4.60" height="427.8" fill="url(#b28)"/>
<rect x="115.59" y="0" width="4.60" height="427.8" fill="url(#b29)"/>
<rect x="119.58" y="0" width="4.60" height="427.8" fill="url(#b30)"/>
<rect x="123.58" y="0" width="4.60" height="427.8" fill="url(#b31)"/>
<rect x="127.58" y="0" width="4.60" height="427.8" fill="url(#b32)"/>
<rect x="131.57" y="0" width="4.60" height="427.8" fill="url(#b33)"/>
<rect x="135.57" y="0" width="4.60" height="427.8" fill="url(#b34)"/>
<rect x="139.56" y="0" width="4.60" height="427.8" fill="url(#b35)"/>
<rect x="143.56" y="0" width="4.60" height="427.8" fill="url(#b36)"/>
<rect x="147.56" y="0" width="4.60" height="427.8" fill="url(#b37)"/>
<rect x="151.55" y="0" width="4.60" height="427.8" fill="url(#b38)"/>
<rect x="155.55" y="0" width="4.60" height="427.8" fill="url(#b39)"/>
<rect x="159.54" y="0" width="4.60" height="427.8" fill="url(#b40)"/>
<rect x="163.54" y="0" width="4.60" height="427.8" fill="url(#b41)"/>
<rect x="167.54" y="0" width="4.60" height="427.8" fill="url(#b42)"/>
<rect x="171.53" y="0" width="4.60" height="427.8" fill="url(#b43)"/>
<rect x="175.53" y="0" width="4.60" height="427.8" fill="url(#b44)"/>
<rect x="179.52" y="0" width="4.60" height="427.8" fill="url(#b45)"/>
<rect x="183.52" y="0" width="4.60" height="427.8" fill="url(#b46)"/>
<rect x="187.52" y="0" width="4.60" height="427.8" fill="url(#b47)"/>
<rect x="191.51" y="0" width="4.60" height="427.8" fill="url(#b48)"/>
<rect x="195.51" y="0" width="4.60" height="427.8" fill="url(#b49)"/>
<rect x="199.50" y="0" width="4.60" height="427.8" fill="url(#b50)"/>
<rect x="203.50" y="0" width="4.60" height="427.8" fill="url(#b51)"/>
<rect x="207.50" y="0" width="4.60" height="427.8" fill="url(#b52)"/>
<rect x="211.49" y="0" width="4.60" height="427.8" fill="url(#b53)"/>
<rect x="215.49" y="0" width="4.60" height="427.8" fill="url(#b54)"/>
<rect x="219.49" y="0" width="4.60" height="427.8" fill="url(#b55)"/>
<rect x="223.48" y="0" width="4.60" height="427.8" fill="url(#b56)"/>
<rect x="227.48" y="0" width="4.60" height="427.8" fill="url(#b57)"/>
<rect x="231.47" y="0" width="4.60" height="427.8" fill="url(#b58)"/>
<rect x="235.47" y="0" width="4.60" height="427.8" fill="url(#b59)"/>
<rect x="239.47" y="0" width="4.60" height="427.8" fill="url(#b60)"/>
<rect x="243.46" y="0" width="4.60" height="427.8" fill="url(#b61)"/>
<rect x="247.46" y="0" width="4.60" height="427.8" fill="url(#b62)"/>
<rect x="251.45" y="0" width="4.60" height="427.8" fill="url(#b63)"/>
<rect x="255.45" y="0" width="4.60" height="427.8" fill="url(#b64)"/>
<rect x="259.45" y="0" width="4.60" height="427.8" fill="url(#b65)"/>
<rect x="263.44" y="0" width="4.60" height="427.8" fill="url(#b66)"/>
<rect x="267.44" y="0" width="4.60" height="427.8" fill="url(#b67)"/>
<rect x="271.43" y="0" width="4.60" height="427.8" fill="url(#b68)"/>
<rect x="275.43" y="0" width="4.60" height="427.8" fill="url(#b69)"/>
<rect x="279.43" y="0" width="4.60" height="427.8" fill="url(#b70)"/>
<rect x="283.42" y="0" width="4.60" height="427.8" fill="url(#b71)"/>
<rect x="287.42" y="0" width="4.60" height="427.8" fill="url(#b72)"/>
<rect x="291.41" y="0" width="4.60" height="427.8" fill="url(#b73)"/>
<rect x="295.41" y="0" width="4.60" height="427.8" fill="url(#b74)"/>
<rect x="299.41" y="0" width="4.60" height="427.8" fill="url(#b75)"/>
<rect x="303.40" y="0" width="4.60" height="427.8" fill="url(#b76)"/>
<rect x="307.40" y="0" width="4.60" height="427.8" fill="url(#b77)"/>
<rect x="311.40" y="0" width="4.60" height="427.8" fill="url(#b78)"/>
<rect x="315.39" y="0" width="4.60" height="427.8" fill="url(#b79)"/>
<rect x="319.39" y="0" width="4.60" height="427.8" fill="url(#b80)"/>
<rect x="323.38" y="0" width="4.60" height="427.8" fill="url(#b81)"/>
<rect x="327.38" y="0" width="4.60" height="427.8" fill="url(#b82)"/>
<rect x="331.38" y="0" width="4.60" height="427.8" fill="url(#b83)"/>
<rect x="335.37" y="0" width="4.60" height="427.8" fill="url(#b84)"/>
<rect x="339.37" y="0" width="4.60" height="427.8" fill="url(#b85)"/>
<rect x="343.36" y="0" width="4.60" height="427.8" fill="url(#b86)"/>
<rect x="347.36" y="0" width="4.60" height="427.8" fill="url(#b87)"/>
<rect x="351.36" y="0" width="4.60" height="427.8" fill="url(#b88)"/>
<rect x="355.35" y="0" width="4.60" height="427.8" fill="url(#b89)"/>
<rect x="359.35" y="0" width="4.60" height="427.8" fill="url(#b90)"/>
<rect x="363.34" y="0" width="4.60" height="427.8" fill="url(#b91)"/>
<rect x="367.34" y="0" width="4.60" height="427.8" fill="url(#b92)"/>
<rect x="371.34" y="0" width="4.60" height="427.8" fill="url(#b93)"/>
<rect x="375.33" y="0" width="4.60" height="427.8" fill="url(#b94)"/>
<rect x="379.33" y="0" width="4.60" height="427.8" fill="url(#b95)"/>
<rect x="383.32" y="0" width="4.60" height="427.8" fill="url(#b96)"/>
<rect x="387.32" y="0" width="4.60" height="427.8" fill="url(#b97)"/>
<rect x="391.32" y="0" width="4.60" height="427.8" fill="url(#b98)"/>
<rect x="395.31" y="0" width="4.60" height="427.8" fill="url(#b99)"/>
<rect x="399.31" y="0" width="4.60" height="427.8" fill="url(#b100)"/>
<rect x="403.31" y="0" width="4.60" height="427.8" fill="url(#b101)"/>
<rect x="407.30" y="0" width="4.60" height="427.8" fill="url(#b102)"/>
<rect x="411.30" y="0" width="4.60" height="427.8" fill="url(#b103)"/>
<rect x="415.29" y="0" width="4.60" height="427.8" fill="url(#b104)"/>
<rect x="419.29" y="0" width="4.60" height="427.8" fill="url(#b105)"/>
<rect x="423.29" y="0" width="4.60" height="427.8" fill="url(#b106)"/>
<rect x="427.28" y="0" width="4.60" height="427.8" fill="url(#b107)"/>
<rect x="431.28" y="0" width="4.60" height="427.8" fill="url(#b108)"/>
<rect x="435.27" y="0" width="4.60" height="427.8" fill="url(#b109)"/>
<rect x="439.27" y="0" width="4.60" height="427.8" fill="url(#b110)"/>
<rect x="443.27" y="0" width="4.60" height="427.8" fill="url(#b111)"/>
<rect x="447.26" y="0" width="4.60" height="427.8" fill="url(#b112)"/>
<rect x="451.26" y="0" width="4.60" height="427.8" fill="url(#b113)"/>
<rect x="455.25" y="0" width="4.60" height="427.8" fill="url(#b114)"/>
<rect x="459.25" y="0" width="4.60" height="427.8" fill="url(#b115)"/>
<rect x="463.25" y="0" width="4.60" height="427.8" fill="url(#b116)"/>
<rect x="467.24" y="0" width="4.60" height="427.8" fill="url(#b117)"/>
<rect x="471.24" y="0" width="4.60" height="427.8" fill="url(#b118)"/>
<rect x="475.24" y="0" width="4.60" height="427.8" fill="url(#b119)"/>
<rect x="479.23" y="0" width="4.60" height="427.8" fill="url(#b120)"/>
<rect x="483.23" y="0" width="4.60" height="427.8" fill="url(#b121)"/>
<rect x="487.22" y="0" width="4.60" height="427.8" fill="url(#b122)"/>
<rect x="491.22" y="0" width="4.60" height="427.8" fill="url(#b123)"/>
<rect x="495.22" y="0" width="4.60" height="427.8" fill="url(#b124)"/>
<rect x="499.21" y="0" width="4.60" height="427.8" fill="url(#b125)"/>
<rect x="503.21" y="0" width="4.60" height="427.8" fill="url(#b126)"/>
<rect x="507.20" y="0" width="24.30" height="427.8" fill="url(#b127)"/>
</g></g>
<g clip-path="url(#cp)"><use href="#ct"/>
<text class="w" text-anchor="middle" transform="translate(70.0,99.8) rotate(27)" y="5.5">200</text>
<text class="w" text-anchor="middle" transform="translate(268.2,120.5) rotate(42)" y="5.5">200</text>
<text class="w" text-anchor="middle" transform="translate(406.9,185.5) rotate(18)" y="5.5">200</text>
<text class="w" text-anchor="middle" transform="translate(55.8,199.2) rotate(50)" y="5.5">500</text>
<text class="w" text-anchor="middle" transform="translate(221.4,206.7) rotate(-85)" y="5.5">500</text>
<text class="w" text-anchor="middle" transform="translate(301.4,215.3) rotate(-62)" y="5.5">500</text>
<text class="w" text-anchor="middle" transform="translate(383.9,230.9) rotate(7)" y="5.5">500</text>
<text class="w" text-anchor="middle" transform="translate(481.8,245.2) rotate(38)" y="5.5">500</text>
<text class="w" text-anchor="middle" transform="translate(9.4,301.4) rotate(-12)" y="5.5">1000</text>
<text class="w" text-anchor="middle" transform="translate(163.9,287.4) rotate(-12)" y="5.5">1000</text>
<text class="w" text-anchor="middle" transform="translate(245.2,277.0) rotate(78)" y="5.5">1000</text>
<text class="w" text-anchor="middle" transform="translate(326.9,226.9) rotate(18)" y="5.5">1000</text>
<text class="w" text-anchor="middle" transform="translate(398.8,275.2) rotate(27)" y="5.5">1000</text>
<text class="w" text-anchor="middle" transform="translate(471.4,282.4) rotate(6)" y="5.5">1000</text>
<text class="w" text-anchor="middle" transform="translate(61.3,399.6) rotate(-5)" y="5.5">2000</text>
<text class="w" text-anchor="middle" transform="translate(219.4,382.8) rotate(20)" y="5.5">2000</text>
<text class="w" text-anchor="middle" transform="translate(316.9,358.6) rotate(-80)" y="5.5">2000</text>
<text class="w" text-anchor="middle" transform="translate(409.1,388.2) rotate(-17)" y="5.5">2000</text>
<text class="w" text-anchor="middle" transform="translate(494.5,370.2) rotate(3)" y="5.5">2000</text>
</g>
<path d="M511.5 0V427.8" fill="none" stroke="#333" stroke-width="0.6"/>
<path d="M61.90 0v-5.6M61.90 427.8v5.2M130.85 0v-5.6M130.85 427.8v5.2M199.80 0v-5.6M199.80 427.8v5.2M268.75 0v-5.6M268.75 427.8v5.2M337.70 0v-5.6M337.70 427.8v5.2M406.65 0v-5.6M406.65 427.8v5.2M475.60 0v-5.6M475.60 427.8v5.2M0 151.5h-5.4M511.5 151.5h5M0 311.0h-5.4M511.5 311.0h5" stroke="#444" stroke-width="0.75" fill="none"/>
<text class="t" x="61.90" y="459" text-anchor="middle">71</text><text class="t" x="130.85" y="459" text-anchor="middle">70.8</text><text class="t" x="199.80" y="459" text-anchor="middle">70.6</text><text class="t" x="268.75" y="459" text-anchor="middle">70.4</text><text class="t" x="337.70" y="459" text-anchor="middle">70.2</text><text class="t" x="406.65" y="459" text-anchor="middle">70</text><text class="t" x="475.60" y="459" text-anchor="middle">69.8</text>
<text class="t" x="-12.6" y="158.9" text-anchor="end">40</text><text class="t" x="-12.6" y="318.4" text-anchor="end">39.8</text>
<text class="l" x="255.8" y="494.2" text-anchor="middle">Longitude (<tspan dy="-9.5" font-size="17">o</tspan><tspan dy="9.5">W)</tspan></text>
<text class="l" style="font-size:22.4px" transform="translate(-61.4,213.2) rotate(-90)" text-anchor="middle">Latitude (<tspan dy="-9.5" font-size="17">o</tspan><tspan dy="9.5">N)</tspan></text>
<rect x="520.4" y="-0.4" width="20.9" height="428.2" fill="url(#cb)" stroke="#333" stroke-width="0.7"/>
<path d="M541.3 385.02h-4.6M541.3 342.24h-4.6M541.3 299.46h-4.6M541.3 256.68h-4.6M541.3 213.90h-4.6M541.3 171.12h-4.6M541.3 128.34h-4.6M541.3 85.56h-4.6M541.3 42.78h-4.6" stroke="#222" stroke-width="0.6" fill="none"/>
<text class="c" x="547.8" y="434.5">0</text><text class="c" x="547.8" y="391.7">5</text><text class="c" x="547.8" y="348.9">10</text><text class="c" x="547.8" y="306.2">15</text><text class="c" x="547.8" y="263.4">20</text><text class="c" x="547.8" y="220.6">25</text><text class="c" x="547.8" y="177.8">30</text><text class="c" x="547.8" y="135.0">35</text><text class="c" x="547.8" y="92.3">40</text><text class="c" x="547.8" y="49.5">45</text><text class="c" x="547.8" y="6.7">50</text>
<text class="c" transform="translate(589.5,213.9) rotate(-90)" text-anchor="middle" style="font-size:18.7px">Percent difference from Cron-Sherman</text>
<text class="q" x="59.7" y="359.8" text-anchor="middle">(B)</text>
</g>
<text class="p" x="737.0" y="30.2">B</text>
<g transform="translate(467.6,639.3)">
<defs><linearGradient id="c0" x2="0" y2="1"><stop offset="0" stop-color="#1d2d70"/><stop offset=".026" stop-color="#192d67"/><stop offset=".077" stop-color="#10233f"/><stop offset=".091" stop-color="#10233e"/><stop offset=".11" stop-color="#13274e"/><stop offset=".129" stop-color="#1b2d6c"/><stop offset=".152" stop-color="#333297"/><stop offset=".161" stop-color="#3c349b"/><stop offset=".194" stop-color="#533b99"/><stop offset=".25" stop-color="#654297"/><stop offset=".386" stop-color="#814e8e"/><stop offset=".456" stop-color="#7d4c8f"/><stop offset=".53" stop-color="#774a91"/><stop offset=".624" stop-color="#834f8e"/><stop offset=".769" stop-color="#a65c84"/><stop offset=".806" stop-color="#a05a86"/><stop offset=".839" stop-color="#8d538b"/><stop offset=".857" stop-color="#784a91"/><stop offset=".867" stop-color="#654297"/><stop offset=".871" stop-color="#553c99"/><stop offset=".876" stop-color="#40359a"/><stop offset=".881" stop-color="#2b3088"/><stop offset=".886" stop-color="#192d68"/><stop offset=".89" stop-color="#132851"/><stop offset=".895" stop-color="#112442"/><stop offset=".904" stop-color="#0e2035"/><stop offset=".932" stop-color="#0e1f30"/><stop offset="1" stop-color="#0d1f30"/></linearGradient>
<linearGradient id="c1" x2="0" y2="1"><stop offset="0" stop-color="#1a2d69"/><stop offset=".03" stop-color="#172c65"/><stop offset=".058" stop-color="#13274f"/><stop offset=".086" stop-color="#0f213a"/><stop offset=".105" stop-color="#10233e"/><stop offset=".124" stop-color="#142955"/><stop offset=".138" stop-color="#1d2d6f"/><stop offset=".161" stop-color="#35329b"/><stop offset=".194" stop-color="#533b9a"/><stop offset=".245" stop-color="#664296"/><stop offset=".418" stop-color="#844f8d"/><stop offset=".549" stop-color="#7a4b90"/><stop offset=".713" stop-color="#955689"/><stop offset=".773" stop-color="#a45b85"/><stop offset=".815" stop-color="#9b5888"/><stop offset=".843" stop-color="#88518d"/><stop offset=".862" stop-color="#6e4694"/><stop offset=".871" stop-color="#533b99"/><stop offset=".876" stop-color="#3e359b"/><stop offset=".881" stop-color="#293085"/><stop offset=".886" stop-color="#182c66"/><stop offset=".89" stop-color="#132750"/><stop offset=".895" stop-color="#102341"/><stop offset=".904" stop-color="#0e2034"/><stop offset=".942" stop-color="#0d1f30"/><stop offset="1" stop-color="#0d1f30"/></linearGradient>
<linearGradient id="c2" x2="0" y2="1"><stop offset="0" stop-color="#152b5f"/><stop offset=".04" stop-color="#162c62"/><stop offset=".072" stop-color="#13274f"/><stop offset=".096" stop-color="#112444"/><stop offset=".114" stop-color="#12264b"/><stop offset=".133" stop-color="#162c63"/><stop offset=".161" stop-color="#323296"/><stop offset=".171" stop-color="#3d349b"/><stop offset=".199" stop-color="#553c99"/><stop offset=".245" stop-color="#684396"/><stop offset=".325" stop-color="#744892"/><stop offset=".446" stop-color="#88518d"/><stop offset=".558" stop-color="#7f4d8f"/><stop offset=".717" stop-color="#93558a"/><stop offset=".778" stop-color="#a15a86"/><stop offset=".82" stop-color="#975689"/><stop offset=".848" stop-color="#814e8e"/><stop offset=".862" stop-color="#6c4594"/><stop offset=".867" stop-color="#614098"/><stop offset=".876" stop-color="#3b349b"/><stop offset=".881" stop-color="#272f82"/><stop offset=".886" stop-color="#172c64"/><stop offset=".89" stop-color="#13274e"/><stop offset=".895" stop-color="#102340"/><stop offset=".904" stop-color="#0e2034"/><stop offset=".942" stop-color="#0d1f30"/><stop offset="1" stop-color="#0d1f30"/></linearGradient>
<linearGradient id="c3" x2="0" y2="1"><stop offset="0" stop-color="#132851"/><stop offset=".049" stop-color="#162c61"/><stop offset=".105" stop-color="#152a5a"/><stop offset=".124" stop-color="#172c64"/><stop offset=".147" stop-color="#282f83"/><stop offset=".161" stop-color="#343299"/><stop offset=".194" stop-color="#533b99"/><stop offset=".231" stop-color="#664296"/><stop offset=".297" stop-color="#744892"/><stop offset=".395" stop-color="#7f4d8f"/><stop offset=".465" stop-color="#8c528c"/><stop offset=".577" stop-color="#85508d"/><stop offset=".685" stop-color="#8d538b"/><stop offset=".75" stop-color="#985788"/><stop offset=".787" stop-color="#9c5888"/><stop offset=".825" stop-color="#91548a"/><stop offset=".853" stop-color="#794b91"/><stop offset=".867" stop-color="#5f3f98"/><stop offset=".871" stop-color="#4e399a"/><stop offset=".876" stop-color="#38339b"/><stop offset=".886" stop-color="#162c61"/><stop offset=".89" stop-color="#12264d"/><stop offset=".895" stop-color="#102340"/><stop offset=".904" stop-color="#0e2034"/><stop offset=".942" stop-color="#0d1f30"/><stop offset="1" stop-color="#0d1f30"/></linearGradient>
<linearGradient id="c4" x2="0" y2="1"><stop offset="0" stop-color="#112443"/><stop offset=".021" stop-color="#122549"/><stop offset=".072" stop-color="#1a2d69"/><stop offset=".119" stop-color="#222e78"/><stop offset=".147" stop-color="#303192"/><stop offset=".157" stop-color="#37329b"/><stop offset=".203" stop-color="#5c3e99"/><stop offset=".278" stop-color="#744892"/><stop offset=".409" stop-color="#814e8e"/><stop offset=".488" stop-color="#90548b"/><stop offset=".605" stop-color="#8b528c"/><stop offset=".68" stop-color="#8d528b"/><stop offset=".736" stop-color="#92548a"/><stop offset=".787" stop-color="#985789"/><stop offset=".825" stop-color="#8d538b"/><stop offset=".848" stop-color="#7b4c90"/><stop offset=".862" stop-color="#674396"/><stop offset=".867" stop-color="#5c3e99"/><stop offset=".876" stop-color="#35329b"/><stop offset=".886" stop-color="#152b5f"/><stop offset=".89" stop-color="#12264b"/><stop offset=".895" stop-color="#10233f"/><stop offset=".904" stop-color="#0e2034"/><stop offset=".942" stop-color="#0d1f30"/><stop offset="1" stop-color="#0d1f30"/></linearGradient>
<linearGradient id="c5" x2="0" y2="1"><stop offset="0" stop-color="#0f2139"/><stop offset=".021" stop-color="#0f223a"/><stop offset=".049" stop-color="#132750"/><stop offset=".077" stop-color="#1c2d6d"/><stop offset=".138" stop-color="#35329b"/><stop offset=".208" stop-color="#614098"/><stop offset=".287" stop-color="#784a91"/><stop offset=".423" stop-color="#834f8e"/><stop offset=".516" stop-color="#955689"/><stop offset=".713" stop-color="#8c528b"/><stop offset=".778" stop-color="#955589"/><stop offset=".825" stop-color="#89518c"/><stop offset=".853" stop-color="#734892"/><stop offset=".862" stop-color="#644197"/><stop offset=".871" stop-color="#47379a"/><stop offset=".876" stop-color="#333296"/><stop offset=".886" stop-color="#152b5d"/><stop offset=".89" stop-color="#12264a"/><stop offset=".895" stop-color="#10233e"/><stop offset=".904" stop-color="#0e2034"/><stop offset=".942" stop-color="#0d1f30"/><stop offset="1" stop-color="#0d1f30"/></linearGradient>
<linearGradient id="c6" x2="0" y2="1"><stop offset="0" stop-color="#0f2138"/><stop offset=".021" stop-color="#0e1f32"/><stop offset=".044" stop-color="#10233e"/><stop offset=".077" stop-color="#182c67"/><stop offset=".114" stop-color="#313194"/><stop offset=".129" stop-color="#39339b"/><stop offset=".213" stop-color="#664296"/><stop offset=".301" stop-color="#7c4c90"/><stop offset=".442" stop-color="#86508d"/><stop offset=".53" stop-color="#995788"/><stop offset=".614" stop-color="#94558a"/><stop offset=".708" stop-color="#8a528c"/><stop offset=".783" stop-color="#91548a"/><stop offset=".825" stop-color="#85508d"/><stop offset=".853" stop-color="#6f4694"/><stop offset=".862" stop-color="#603f98"/><stop offset=".871" stop-color="#43369a"/><stop offset=".876" stop-color="#303192"/><stop offset=".886" stop-color="#152a5a"/><stop offset=".89" stop-color="#122549"/><stop offset=".9" stop-color="#0f2137"/><stop offset=".923" stop-color="#0e1f30"/><stop offset="1" stop-color="#0d1f30"/></linearGradient>
<linearGradient id="c7" x2="0" y2="1"><stop offset="0" stop-color="#102340"/><stop offset=".026" stop-color="#0e2033"/><stop offset=".049" stop-color="#0f223b"/><stop offset=".077" stop-color="#152b5d"/><stop offset=".114" stop-color="#323195"/><stop offset=".119" stop-color="#35329b"/><stop offset=".18" stop-color="#5b3d99"/><stop offset=".245" stop-color="#714793"/><stop offset=".343" stop-color="#834f8e"/><stop offset=".46" stop-color="#88518c"/><stop offset=".554" stop-color="#9d5987"/><stop offset=".624" stop-color="#975689"/><stop offset=".703" stop-color="#89518c"/><stop offset=".783" stop-color="#8d538b"/><stop offset=".825" stop-color="#804e8e"/><stop offset=".848" stop-color="#6f4693"/><stop offset=".862" stop-color="#5c3e99"/><stop offset=".871" stop-color="#3e359b"/><stop offset=".876" stop-color="#2d308c"/><stop offset=".881" stop-color="#1d2d70"/><stop offset=".886" stop-color="#142958"/><stop offset=".89" stop-color="#112547"/><stop offset=".9" stop-color="#0f2137"/><stop offset=".918" stop-color="#0e1f30"/><stop offset="1" stop-color="#0d1f30"/></linearGradient>
<linearGradient id="c8" x2="0" y2="1"><stop offset="0" stop-color="#13274e"/><stop offset=".03" stop-color="#10223c"/><stop offset=".049" stop-color="#10223e"/><stop offset=".068" stop-color="#12264c"/><stop offset=".086" stop-color="#182c65"/><stop offset=".119" stop-color="#333298"/><stop offset=".138" stop-color="#43369a"/><stop offset=".194" stop-color="#634197"/><stop offset=".287" stop-color="#7c4c90"/><stop offset=".39" stop-color="#88518d"/><stop offset=".484" stop-color="#8b528c"/><stop offset=".577" stop-color="#a05a86"/><stop offset=".643" stop-color="#975689"/><stop offset=".703" stop-color="#88518d"/><stop offset=".787" stop-color="#88518d"/><stop offset=".829" stop-color="#794b91"/><stop offset=".853" stop-color="#664296"/><stop offset=".862" stop-color="#573c99"/><stop offset=".871" stop-color="#3a349b"/><stop offset=".876" stop-color="#2a3087"/><stop offset=".881" stop-color="#1b2d6c"/><stop offset=".886" stop-color="#142955"/><stop offset=".895" stop-color="#10223c"/><stop offset=".904" stop-color="#0e2033"/><stop offset=".988" stop-color="#0d1f30"/><stop offset="1" stop-color="#0d1f30"/></linearGradient>
<linearGradient id="c9" x2="0" y2="1"><stop offset="0" stop-color="#152b5e"/><stop offset=".04" stop-color="#12264a"/><stop offset=".058" stop-color="#12264c"/><stop offset=".077" stop-color="#152a59"/><stop offset=".091" stop-color="#1b2d6b"/><stop offset=".124" stop-color="#35329b"/><stop offset=".171" stop-color="#583c99"/><stop offset=".241" stop-color="#734892"/><stop offset=".362" stop-color="#88518d"/><stop offset=".442" stop-color="#8b528c"/><stop offset=".502" stop-color="#8d538b"/><stop offset=".591" stop-color="#a05a86"/><stop offset=".638" stop-color="#9b5888"/><stop offset=".708" stop-color="#87508d"/><stop offset=".787" stop-color="#834f8e"/><stop offset=".829" stop-color="#744892"/><stop offset=".853" stop-color="#614098"/><stop offset=".862" stop-color="#523b9a"/><stop offset=".871" stop-color="#36329b"/><stop offset=".881" stop-color="#192d68"/><stop offset=".886" stop-color="#132853"/><stop offset=".89" stop-color="#112444"/><stop offset=".9" stop-color="#0f2036"/><stop offset=".928" stop-color="#0e1f30"/><stop offset="1" stop-color="#0d1f30"/></linearGradient>
<linearGradient id="c10" x2="0" y2="1"><stop offset="0" stop-color="#1c2d6c"/><stop offset=".049" stop-color="#152a5a"/><stop offset=".072" stop-color="#162b60"/><stop offset=".096" stop-color="#212e76"/><stop offset=".124" stop-color="#34329a"/><stop offset=".171" stop-color="#573c99"/><stop offset=".241" stop-color="#734892"/><stop offset=".311" stop-color="#824e8e"/><stop offset=".432" stop-color="#8f538b"/><stop offset=".512" stop-color="#8d538b"/><stop offset=".614" stop-color="#a05a86"/><stop offset=".652" stop-color="#9a5788"/><stop offset=".722" stop-color="#85508d"/><stop offset=".792" stop-color="#7d4c8f"/><stop offset=".839" stop-color="#694395"/><stop offset=".857" stop-color="#563c99"/><stop offset=".867" stop-color="#41369a"/><stop offset=".871" stop-color="#323296"/><stop offset=".881" stop-color="#172c64"/><stop offset=".886" stop-color="#132751"/><stop offset=".89" stop-color="#112443"/><stop offset=".9" stop-color="#0e2036"/><stop offset=".918" stop-color="#0e1f30"/><stop offset="1" stop-color="#0d1f30"/></linearGradient>
<linearGradient id="c11" x2="0" y2="1"><stop offset="0" stop-color="#212e76"/><stop offset=".058" stop-color="#1b2d6c"/><stop offset=".086" stop-color="#212e77"/><stop offset=".124" stop-color="#36329b"/><stop offset=".185" stop-color="#5d3e99"/><stop offset=".278" stop-color="#7d4d8f"/><stop offset=".437" stop-color="#92548a"/><stop offset=".53" stop-color="#8e538b"/><stop offset=".629" stop-color="#9f5987"/><stop offset=".689" stop-color="#8f538b"/><stop offset=".783" stop-color="#794b90"/><stop offset=".839" stop-color="#644197"/><stop offset=".857" stop-color="#513a9a"/><stop offset=".867" stop-color="#3d349b"/><stop offset=".871" stop-color="#2f3191"/><stop offset=".881" stop-color="#162c61"/><stop offset=".886" stop-color="#13274f"/><stop offset=".895" stop-color="#0f213a"/><stop offset=".909" stop-color="#0e1f31"/><stop offset="1" stop-color="#0d1f30"/></linearGradient>
<linearGradient id="c12" x2="0" y2="1"><stop offset="0" stop-color="#242f7c"/><stop offset=".068" stop-color="#252f7d"/><stop offset=".096" stop-color="#2c308a"/><stop offset=".119" stop-color="#37339b"/><stop offset=".185" stop-color="#5d3e99"/><stop offset=".301" stop-color="#824f8e"/><stop offset=".442" stop-color="#94558a"/><stop offset=".558" stop-color="#90548a"/><stop offset=".633" stop-color="#9d5887"/><stop offset=".685" stop-color="#92548a"/><stop offset=".829" stop-color="#634197"/><stop offset=".853" stop-color="#523b9a"/><stop offset=".862" stop-color="#43369a"/><stop offset=".867" stop-color="#38339b"/><stop offset=".871" stop-color="#2c308b"/><stop offset=".881" stop-color="#152b5e"/><stop offset=".886" stop-color="#12264d"/><stop offset=".895" stop-color="#0f2139"/><stop offset=".914" stop-color="#0e1f31"/><stop offset="1" stop-color="#0d1f30"/></linearGradient>
<linearGradient id="c13" x2="0" y2="1"><stop offset="0" stop-color="#262f7f"/><stop offset=".077" stop-color="#2c308b"/><stop offset=".11" stop-color="#37339b"/><stop offset=".194" stop-color="#603f98"/><stop offset=".32" stop-color="#86508d"/><stop offset=".437" stop-color="#955689"/><stop offset=".577" stop-color="#91548a"/><stop offset=".652" stop-color="#995788"/><stop offset=".727" stop-color="#844f8e"/><stop offset=".839" stop-color="#593d99"/><stop offset=".857" stop-color="#47379a"/><stop offset=".867" stop-color="#34329a"/><stop offset=".881" stop-color="#152a5b"/><stop offset=".886" stop-color="#12264b"/><stop offset=".895" stop-color="#0f2139"/><stop offset=".914" stop-color="#0e1f31"/><stop offset="1" stop-color="#0d1f30"/></linearGradient>
<linearGradient id="c14" x2="0" y2="1"><stop offset="0" stop-color="#262f80"/><stop offset=".072" stop-color="#2f3191"/><stop offset=".1" stop-color="#38339b"/><stop offset=".194" stop-color="#603f98"/><stop offset=".353" stop-color="#8d528b"/><stop offset=".446" stop-color="#975689"/><stop offset=".605" stop-color="#93558a"/><stop offset=".657" stop-color="#955689"/><stop offset=".722" stop-color="#85508d"/><stop offset=".839" stop-color="#533b99"/><stop offset=".857" stop-color="#43369a"/><stop offset=".862" stop-color="#3b349b"/><stop offset=".867" stop-color="#323195"/><stop offset=".876" stop-color="#1c2d6d"/><stop offset=".886" stop-color="#12264a"/><stop offset=".895" stop-color="#0f2139"/><stop offset=".909" stop-color="#0e1f31"/><stop offset="1" stop-color="#0d1f30"/></linearGradient>
<linearGradient id="c15" x2="0" y2="1"><stop offset="0" stop-color="#262f80"/><stop offset=".072" stop-color="#313194"/><stop offset=".091" stop-color="#37339b"/><stop offset=".194" stop-color="#614098"/><stop offset=".343" stop-color="#89518c"/><stop offset=".414" stop-color="#985789"/><stop offset=".666" stop-color="#91548a"/><stop offset=".727" stop-color="#824f8e"/><stop offset=".839" stop-color="#4f3a9a"/><stop offset=".857" stop-color="#3f359a"/><stop offset=".862" stop-color="#38339b"/><stop offset=".867" stop-color="#2f3191"/><stop offset=".876" stop-color="#1a2d6a"/><stop offset=".886" stop-color="#122549"/><stop offset=".895" stop-color="#0f2138"/><stop offset=".914" stop-color="#0e1f31"/><stop offset="1" stop-color="#0d1f30"/></linearGradient>
<linearGradient id="c16" x2="0" y2="1"><stop offset="0" stop-color="#262f7f"/><stop offset=".077" stop-color="#343298"/><stop offset=".105" stop-color="#3f359b"/><stop offset=".194" stop-color="#614098"/><stop offset=".334" stop-color="#834f8e"/><stop offset=".414" stop-color="#9a5788"/><stop offset=".638" stop-color="#94558a"/><stop offset=".731" stop-color="#7e4d8f"/><stop offset=".834" stop-color="#4f3a9a"/><stop offset=".857" stop-color="#3c349b"/><stop offset=".862" stop-color="#35329b"/><stop offset=".871" stop-color="#242f7c"/><stop offset=".876" stop-color="#192d68"/><stop offset=".886" stop-color="#122548"/><stop offset=".895" stop-color="#0f2138"/><stop offset=".914" stop-color="#0e1f31"/><stop offset="1" stop-color="#0d1f30"/></linearGradient>
<linearGradient id="c17" x2="0" y2="1"><stop offset="0" stop-color="#252f7d"/><stop offset=".063" stop-color="#303192"/><stop offset=".086" stop-color="#37339b"/><stop offset=".189" stop-color="#603f98"/><stop offset=".343" stop-color="#824f8e"/><stop offset=".418" stop-color="#9b5888"/><stop offset=".629" stop-color="#975689"/><stop offset=".741" stop-color="#784a91"/><stop offset=".834" stop-color="#4d399a"/><stop offset=".857" stop-color="#3a349b"/><stop offset=".862" stop-color="#343299"/><stop offset=".871" stop-color="#232e79"/><stop offset=".876" stop-color="#182c66"/><stop offset=".886" stop-color="#112547"/><stop offset=".895" stop-color="#0f2138"/><stop offset=".914" stop-color="#0e1f31"/><stop offset="1" stop-color="#0d1f30"/></linearGradient>
<linearGradient id="c18" x2="0" y2="1"><stop offset="0" stop-color="#222e78"/><stop offset=".054" stop-color="#2d308c"/><stop offset=".086" stop-color="#37339b"/><stop offset=".189" stop-color="#603f98"/><stop offset=".301" stop-color="#764991"/><stop offset=".367" stop-color="#86508d"/><stop offset=".428" stop-color="#9b5888"/><stop offset=".624" stop-color="#9a5888"/><stop offset=".755" stop-color="#704793"/><stop offset=".839" stop-color="#48389a"/><stop offset=".857" stop-color="#39339b"/><stop offset=".862" stop-color="#323296"/><stop offset=".871" stop-color="#222e78"/><stop offset=".876" stop-color="#172c65"/><stop offset=".886" stop-color="#112547"/><stop offset=".895" stop-color="#0f2138"/><stop offset=".914" stop-color="#0e1f31"/><stop offset="1" stop-color="#0d1f30"/></linearGradient>
<linearGradient id="c19" x2="0" y2="1"><stop offset="0" stop-color="#1d2d70"/><stop offset=".03" stop-color="#242f7b"/><stop offset=".086" stop-color="#36329b"/><stop offset=".185" stop-color="#5e3e99"/><stop offset=".287" stop-color="#754992"/><stop offset=".357" stop-color="#7f4d8f"/><stop offset=".442" stop-color="#9c5888"/><stop offset=".526" stop-color="#9e5987"/><stop offset=".633" stop-color="#9b5888"/><stop offset=".792" stop-color="#5e3e99"/><stop offset=".853" stop-color="#3c349b"/><stop offset=".857" stop-color="#37339b"/><stop offset=".862" stop-color="#313194"/><stop offset=".871" stop-color="#212e76"/><stop offset=".876" stop-color="#172c63"/><stop offset=".886" stop-color="#112546"/><stop offset=".895" stop-color="#0f2137"/><stop offset=".918" stop-color="#0e1f30"/><stop offset="1" stop-color="#0d1f30"/></linearGradient>
<linearGradient id="c20" x2="0" y2="1"><stop offset="0" stop-color="#172c64"/><stop offset=".03" stop-color="#1d2d6f"/><stop offset=".091" stop-color="#37339b"/><stop offset=".166" stop-color="#573c99"/><stop offset=".283" stop-color="#754992"/><stop offset=".367" stop-color="#7f4d8f"/><stop offset=".46" stop-color="#9c5887"/><stop offset=".535" stop-color="#a15a86"/><stop offset=".633" stop-color="#9d5987"/><stop offset=".713" stop-color="#7f4d8f"/><stop offset=".82" stop-color="#4c399a"/><stop offset=".853" stop-color="#3b349b"/><stop offset=".857" stop-color="#36329b"/><stop offset=".867" stop-color="#293085"/><stop offset=".876" stop-color="#162c62"/><stop offset=".886" stop-color="#112446"/><stop offset=".895" stop-color="#0f2137"/><stop offset=".918" stop-color="#0e1f30"/><stop offset="1" stop-color="#0d1f30"/></linearGradient>
<linearGradient id="c21" x2="0" y2="1"><stop offset="0" stop-color="#142957"/><stop offset=".021" stop-color="#152a5a"/><stop offset=".04" stop-color="#182c67"/><stop offset=".091" stop-color="#343299"/><stop offset=".157" stop-color="#533b9a"/><stop offset=".292" stop-color="#774a91"/><stop offset=".386" stop-color="#824e8e"/><stop offset=".502" stop-color="#a25a86"/><stop offset=".61" stop-color="#a25a86"/><stop offset=".657" stop-color="#985788"/><stop offset=".745" stop-color="#6f4694"/><stop offset=".834" stop-color="#43369a"/><stop offset=".857" stop-color="#343299"/><stop offset=".867" stop-color="#282f83"/><stop offset=".876" stop-color="#162c61"/><stop offset=".886" stop-color="#112445"/><stop offset=".895" stop-color="#0f2137"/><stop offset=".918" stop-color="#0e1f30"/><stop offset="1" stop-color="#0d1f30"/></linearGradient>
<linearGradient id="c22" x2="0" y2="1"><stop offset="0" stop-color="#12264b"/><stop offset=".021" stop-color="#12264a"/><stop offset=".049" stop-color="#152b5d"/><stop offset=".1" stop-color="#35329b"/><stop offset=".147" stop-color="#4f3a9a"/><stop offset=".297" stop-color="#784a91"/><stop offset=".414" stop-color="#87508d"/><stop offset=".535" stop-color="#a75c84"/><stop offset=".614" stop-color="#a45b85"/><stop offset=".666" stop-color="#965689"/><stop offset=".75" stop-color="#6d4594"/><stop offset=".815" stop-color="#49389a"/><stop offset=".853" stop-color="#36329b"/><stop offset=".862" stop-color="#2d318d"/><stop offset=".871" stop-color="#1e2e71"/><stop offset=".876" stop-color="#162b5f"/><stop offset=".886" stop-color="#112445"/><stop offset=".895" stop-color="#0f2137"/><stop offset=".918" stop-color="#0e1f30"/><stop offset="1" stop-color="#0d1f30"/></linearGradient>
<linearGradient id="c23" x2="0" y2="1"><stop offset="0" stop-color="#112443"/><stop offset=".026" stop-color="#10223d"/><stop offset=".049" stop-color="#12264c"/><stop offset=".072" stop-color="#1b2d6b"/><stop offset=".105" stop-color="#343299"/><stop offset=".147" stop-color="#4d399a"/><stop offset=".231" stop-color="#674296"/><stop offset=".348" stop-color="#804e8f"/><stop offset=".456" stop-color="#8d538b"/><stop offset=".549" stop-color="#aa5d82"/><stop offset=".605" stop-color="#a95c83"/><stop offset=".652" stop-color="#9d5987"/><stop offset=".727" stop-color="#7b4c90"/><stop offset=".801" stop-color="#4f3a9a"/><stop offset=".853" stop-color="#35329a"/><stop offset=".862" stop-color="#2c308b"/><stop offset=".876" stop-color="#152b5e"/><stop offset=".886" stop-color="#112444"/><stop offset=".895" stop-color="#0f2137"/><stop offset=".918" stop-color="#0e1f30"/><stop offset="1" stop-color="#0d1f30"/></linearGradient>
<linearGradient id="c24" x2="0" y2="1"><stop offset="0" stop-color="#10233e"/><stop offset=".026" stop-color="#0e2034"/><stop offset=".049" stop-color="#10233e"/><stop offset=".077" stop-color="#172c63"/><stop offset=".11" stop-color="#333297"/><stop offset=".119" stop-color="#3a339b"/><stop offset=".166" stop-color="#533b9a"/><stop offset=".306" stop-color="#784a91"/><stop offset=".395" stop-color="#87508d"/><stop offset=".47" stop-color="#8e538b"/><stop offset=".563" stop-color="#ae5e81"/><stop offset=".619" stop-color="#ab5d82"/><stop offset=".694" stop-color="#8d538b"/><stop offset=".801" stop-color="#4f3a9a"/><stop offset=".853" stop-color="#343299"/><stop offset=".862" stop-color="#2b3089"/><stop offset=".871" stop-color="#1c2d6d"/><stop offset=".876" stop-color="#152b5d"/><stop offset=".886" stop-color="#112444"/><stop offset=".895" stop-color="#0f2137"/><stop offset=".918" stop-color="#0e1f30"/><stop offset="1" stop-color="#0d1f30"/></linearGradient>
<linearGradient id="c25" x2="0" y2="1"><stop offset="0" stop-color="#10223c"/><stop offset=".03" stop-color="#0e1f31"/><stop offset=".049" stop-color="#0f2137"/><stop offset=".072" stop-color="#132852"/><stop offset=".091" stop-color="#1e2e70"/><stop offset=".119" stop-color="#35329b"/><stop offset=".157" stop-color="#4d399a"/><stop offset=".231" stop-color="#654297"/><stop offset=".381" stop-color="#88518d"/><stop offset=".484" stop-color="#90548a"/><stop offset=".572" stop-color="#b15f80"/><stop offset=".624" stop-color="#af5e80"/><stop offset=".717" stop-color="#824f8e"/><stop offset=".806" stop-color="#4c399a"/><stop offset=".848" stop-color="#36329b"/><stop offset=".857" stop-color="#303191"/><stop offset=".867" stop-color="#242f7b"/><stop offset=".876" stop-color="#152a5c"/><stop offset=".886" stop-color="#112443"/><stop offset=".895" stop-color="#0f2137"/><stop offset=".918" stop-color="#0e1f30"/><stop offset="1" stop-color="#0d1f30"/></linearGradient>
<linearGradient id="c26" x2="0" y2="1"><stop offset="0" stop-color="#0f2139"/><stop offset=".03" stop-color="#0e1f31"/><stop offset=".049" stop-color="#0f2137"/><stop offset=".068" stop-color="#122548"/><stop offset=".091" stop-color="#1a2d6a"/><stop offset=".119" stop-color="#323196"/><stop offset=".129" stop-color="#3a339b"/><stop offset=".171" stop-color="#513a9a"/><stop offset=".273" stop-color="#6e4694"/><stop offset=".404" stop-color="#8d538b"/><stop offset=".488" stop-color="#93558a"/><stop offset=".577" stop-color="#b4607e"/><stop offset=".619" stop-color="#b4607e"/><stop offset=".652" stop-color="#a85c83"/><stop offset=".801" stop-color="#503a9a"/><stop offset=".848" stop-color="#36329b"/><stop offset=".857" stop-color="#2f3191"/><stop offset=".867" stop-color="#232f7a"/><stop offset=".876" stop-color="#152a5b"/><stop offset=".886" stop-color="#112443"/><stop offset=".895" stop-color="#0f2137"/><stop offset=".918" stop-color="#0e1f30"/><stop offset="1" stop-color="#0d1f30"/></linearGradient>
<linearGradient id="c27" x2="0" y2="1"><stop offset="0" stop-color="#0e1f33"/><stop offset=".026" stop-color="#0d1e2f"/><stop offset=".054" stop-color="#0f223b"/><stop offset=".082" stop-color="#152a5b"/><stop offset=".124" stop-color="#343299"/><stop offset=".166" stop-color="#4d399a"/><stop offset=".287" stop-color="#714793"/><stop offset=".423" stop-color="#91548a"/><stop offset=".498" stop-color="#995788"/><stop offset=".577" stop-color="#b8617d"/><stop offset=".624" stop-color="#b8617d"/><stop offset=".661" stop-color="#a75c83"/><stop offset=".792" stop-color="#573c99"/><stop offset=".848" stop-color="#36329b"/><stop offset=".857" stop-color="#2f3190"/><stop offset=".867" stop-color="#232f7a"/><stop offset=".876" stop-color="#152a5b"/><stop offset=".886" stop-color="#112442"/><stop offset=".895" stop-color="#0f2036"/><stop offset=".928" stop-color="#0e1f30"/><stop offset="1" stop-color="#0d1f30"/></linearGradient>
<linearGradient id="c28" x2="0" y2="1"><stop offset="0" stop-color="#0d1e2d"/><stop offset=".04" stop-color="#0e1f30"/><stop offset=".072" stop-color="#132851"/><stop offset=".091" stop-color="#1b2d6b"/><stop offset=".124" stop-color="#343298"/><stop offset=".143" stop-color="#40359a"/><stop offset=".194" stop-color="#553b99"/><stop offset=".39" stop-color="#8b528c"/><stop offset=".502" stop-color="#9f5986"/><stop offset=".572" stop-color="#bd637b"/><stop offset=".624" stop-color="#bd637b"/><stop offset=".666" stop-color="#a85c83"/><stop offset=".801" stop-color="#503a9a"/><stop offset=".848" stop-color="#36329b"/><stop offset=".853" stop-color="#333298"/><stop offset=".862" stop-color="#2a3086"/><stop offset=".876" stop-color="#152a5a"/><stop offset=".886" stop-color="#112442"/><stop offset=".895" stop-color="#0f2036"/><stop offset=".928" stop-color="#0e1f30"/><stop offset="1" stop-color="#0d1f30"/></linearGradient>
<linearGradient id="c29" x2="0" y2="1"><stop offset="0" stop-color="#0d1e2d"/><stop offset=".04" stop-color="#0d1e2d"/><stop offset=".058" stop-color="#10233f"/><stop offset=".086" stop-color="#182c66"/><stop offset=".124" stop-color="#34329a"/><stop offset=".161" stop-color="#49389a"/><stop offset=".287" stop-color="#6e4694"/><stop offset=".381" stop-color="#89518c"/><stop offset=".502" stop-color="#a35b85"/><stop offset=".572" stop-color="#c26479"/><stop offset=".619" stop-color="#c26479"/><stop offset=".661" stop-color="#ae5e81"/><stop offset=".801" stop-color="#503a9a"/><stop offset=".848" stop-color="#36329b"/><stop offset=".857" stop-color="#2f3190"/><stop offset=".867" stop-color="#222e79"/><stop offset=".876" stop-color="#152a5a"/><stop offset=".886" stop-color="#112442"/><stop offset=".895" stop-color="#0f2036"/><stop offset=".928" stop-color="#0e1f30"/><stop offset="1" stop-color="#0d1f30"/></linearGradient>
<linearGradient id="c30" x2="0" y2="1"><stop offset="0" stop-color="#0e1f32"/><stop offset=".021" stop-color="#0d1e2d"/><stop offset=".044" stop-color="#0d1e2e"/><stop offset=".068" stop-color="#122549"/><stop offset=".086" stop-color="#182c65"/><stop offset=".114" stop-color="#2f3190"/><stop offset=".124" stop-color="#35329b"/><stop offset=".161" stop-color="#4a389a"/><stop offset=".283" stop-color="#6a4495"/><stop offset=".376" stop-color="#88518d"/><stop offset=".498" stop-color="#a25a85"/><stop offset=".572" stop-color="#c26478"/><stop offset=".619" stop-color="#c26478"/><stop offset=".657" stop-color="#b15f7f"/><stop offset=".764" stop-color="#6a4495"/><stop offset=".825" stop-color="#42369a"/><stop offset=".848" stop-color="#36329b"/><stop offset=".857" stop-color="#2f3190"/><stop offset=".871" stop-color="#1a2d69"/><stop offset=".881" stop-color="#12264c"/><stop offset=".89" stop-color="#0f223b"/><stop offset=".904" stop-color="#0e1f32"/><stop offset="1" stop-color="#0d1f30"/></linearGradient>
<linearGradient id="c31" x2="0" y2="1"><stop offset="0" stop-color="#102341"/><stop offset=".026" stop-color="#0d1f30"/><stop offset=".044" stop-color="#0e1f31"/><stop offset=".068" stop-color="#122548"/><stop offset=".091" stop-color="#1b2d6c"/><stop offset=".124" stop-color="#35329b"/><stop offset=".161" stop-color="#4a389a"/><stop offset=".292" stop-color="#6b4495"/><stop offset=".367" stop-color="#85508d"/><stop offset=".502" stop-color="#a35b85"/><stop offset=".572" stop-color="#be637a"/><stop offset=".619" stop-color="#be637a"/><stop offset=".657" stop-color="#ae5e81"/><stop offset=".759" stop-color="#6e4694"/><stop offset=".815" stop-color="#47379a"/><stop offset=".848" stop-color="#35329b"/><stop offset=".857" stop-color="#2e318f"/><stop offset=".871" stop-color="#192d68"/><stop offset=".881" stop-color="#12264b"/><stop offset=".89" stop-color="#0f223b"/><stop offset=".904" stop-color="#0e1f32"/><stop offset="1" stop-color="#0d1f30"/></linearGradient>
<linearGradient id="c32" x2="0" y2="1"><stop offset="0" stop-color="#132853"/><stop offset=".03" stop-color="#10233f"/><stop offset=".049" stop-color="#10233e"/><stop offset=".072" stop-color="#132851"/><stop offset=".091" stop-color="#1b2d6c"/><stop offset=".124" stop-color="#35329b"/><stop offset=".161" stop-color="#4b399a"/><stop offset=".301" stop-color="#6c4595"/><stop offset=".4" stop-color="#8d538b"/><stop offset=".512" stop-color="#a45b85"/><stop offset=".572" stop-color="#b7617d"/><stop offset=".624" stop-color="#b6607e"/><stop offset=".708" stop-color="#8e538b"/><stop offset=".801" stop-color="#513a9a"/><stop offset=".848" stop-color="#35329a"/><stop offset=".857" stop-color="#2e318d"/><stop offset=".867" stop-color="#212e76"/><stop offset=".876" stop-color="#142958"/><stop offset=".886" stop-color="#102341"/><stop offset=".9" stop-color="#0e2033"/><stop offset="1" stop-color="#0d1f30"/></linearGradient>
<linearGradient id="c33" x2="0" y2="1"><stop offset="0" stop-color="#192d68"/><stop offset=".04" stop-color="#13274f"/><stop offset=".063" stop-color="#132853"/><stop offset=".086" stop-color="#1a2d69"/><stop offset=".124" stop-color="#35329b"/><stop offset=".161" stop-color="#4b399a"/><stop offset=".273" stop-color="#634197"/><stop offset=".343" stop-color="#784a91"/><stop offset=".428" stop-color="#93558a"/><stop offset=".512" stop-color="#a25a85"/><stop offset=".572" stop-color="#b25f7f"/><stop offset=".629" stop-color="#ad5e81"/><stop offset=".731" stop-color="#7f4d8f"/><stop offset=".806" stop-color="#4d399a"/><stop offset=".848" stop-color="#343299"/><stop offset=".857" stop-color="#2d308c"/><stop offset=".867" stop-color="#202e75"/><stop offset=".876" stop-color="#142957"/><stop offset=".886" stop-color="#102341"/><stop offset=".9" stop-color="#0e2033"/><stop offset="1" stop-color="#0d1f30"/></linearGradient>
<linearGradient id="c34" x2="0" y2="1"><stop offset="0" stop-color="#262f7f"/><stop offset=".044" stop-color="#162c62"/><stop offset=".068" stop-color="#172c64"/><stop offset=".096" stop-color="#242f7c"/><stop offset=".124" stop-color="#35329b"/><stop offset=".161" stop-color="#4a389a"/><stop offset=".241" stop-color="#5f3f99"/><stop offset=".329" stop-color="#6f4693"/><stop offset=".432" stop-color="#94558a"/><stop offset=".526" stop-color="#a45b85"/><stop offset=".582" stop-color="#ae5e81"/><stop offset=".633" stop-color="#a85c83"/><stop offset=".741" stop-color="#774a91"/><stop offset=".806" stop-color="#4d399a"/><stop offset=".848" stop-color="#343299"/><stop offset=".862" stop-color="#272f81"/><stop offset=".871" stop-color="#172c65"/><stop offset=".881" stop-color="#12264a"/><stop offset=".89" stop-color="#0f213a"/><stop offset=".909" stop-color="#0e1f31"/><stop offset="1" stop-color="#0d1f30"/></linearGradient>
<linearGradient id="c35" x2="0" y2="1"><stop offset="0" stop-color="#303192"/><stop offset=".021" stop-color="#2c308b"/><stop offset=".054" stop-color="#202e74"/><stop offset=".077" stop-color="#222e77"/><stop offset=".114" stop-color="#323196"/><stop offset=".129" stop-color="#3a349b"/><stop offset=".185" stop-color="#523b9a"/><stop offset=".278" stop-color="#664296"/><stop offset=".348" stop-color="#724893"/><stop offset=".442" stop-color="#955689"/><stop offset=".582" stop-color="#ab5d82"/><stop offset=".633" stop-color="#a65b84"/><stop offset=".741" stop-color="#754992"/><stop offset=".806" stop-color="#4c399a"/><stop offset=".843" stop-color="#36329b"/><stop offset=".853" stop-color="#303192"/><stop offset=".862" stop-color="#262f80"/><stop offset=".871" stop-color="#172c64"/><stop offset=".881" stop-color="#122549"/><stop offset=".89" stop-color="#0f213a"/><stop offset=".909" stop-color="#0e1f31"/><stop offset="1" stop-color="#0d1f30"/></linearGradient>
<linearGradient id="c36" x2="0" y2="1"><stop offset="0" stop-color="#35329a"/><stop offset=".021" stop-color="#38339b"/><stop offset=".035" stop-color="#343299"/><stop offset=".058" stop-color="#2a3087"/><stop offset=".077" stop-color="#283084"/><stop offset=".11" stop-color="#333297"/><stop offset=".119" stop-color="#37339b"/><stop offset=".171" stop-color="#4d399a"/><stop offset=".283" stop-color="#684396"/><stop offset=".362" stop-color="#744892"/><stop offset=".456" stop-color="#975689"/><stop offset=".586" stop-color="#a95c83"/><stop offset=".638" stop-color="#a45b85"/><stop offset=".722" stop-color="#7e4d8f"/><stop offset=".801" stop-color="#4e399a"/><stop offset=".843" stop-color="#35329b"/><stop offset=".857" stop-color="#2b3089"/><stop offset=".867" stop-color="#1f2e72"/><stop offset=".871" stop-color="#162c63"/><stop offset=".881" stop-color="#122549"/><stop offset=".89" stop-color="#0f213a"/><stop offset=".909" stop-color="#0e1f31"/><stop offset="1" stop-color="#0d1f30"/></linearGradient>
<linearGradient id="c37" x2="0" y2="1"><stop offset="0" stop-color="#303192"/><stop offset=".012" stop-color="#35329b"/><stop offset=".03" stop-color="#3e359b"/><stop offset=".058" stop-color="#34329a"/><stop offset=".077" stop-color="#2f3191"/><stop offset=".096" stop-color="#313194"/><stop offset=".114" stop-color="#38339b"/><stop offset=".18" stop-color="#4f3a9a"/><stop offset=".292" stop-color="#6b4495"/><stop offset=".371" stop-color="#754992"/><stop offset=".479" stop-color="#9a5788"/><stop offset=".582" stop-color="#a75c84"/><stop offset=".638" stop-color="#a35b85"/><stop offset=".708" stop-color="#87508d"/><stop offset=".801" stop-color="#4c399a"/><stop offset=".843" stop-color="#343299"/><stop offset=".857" stop-color="#2b3088"/><stop offset=".867" stop-color="#1e2e71"/><stop offset=".871" stop-color="#162c62"/><stop offset=".881" stop-color="#122549"/><stop offset=".89" stop-color="#0f213a"/><stop offset=".909" stop-color="#0e1f31"/><stop offset="1" stop-color="#0d1f30"/></linearGradient>
<linearGradient id="c38" x2="0" y2="1"><stop offset="0" stop-color="#262f80"/><stop offset=".016" stop-color="#2e318d"/><stop offset=".03" stop-color="#36329b"/><stop offset=".049" stop-color="#3d349b"/><stop offset=".096" stop-color="#35329b"/><stop offset=".199" stop-color="#533b9a"/><stop offset=".311" stop-color="#6f4694"/><stop offset=".395" stop-color="#7b4c90"/><stop offset=".521" stop-color="#a15a86"/><stop offset=".605" stop-color="#a55b84"/><stop offset=".652" stop-color="#9f5987"/><stop offset=".713" stop-color="#86508d"/><stop offset=".797" stop-color="#4e399a"/><stop offset=".839" stop-color="#35329b"/><stop offset=".853" stop-color="#2e318e"/><stop offset=".862" stop-color="#242f7c"/><stop offset=".871" stop-color="#162b60"/><stop offset=".881" stop-color="#112547"/><stop offset=".895" stop-color="#0e2035"/><stop offset=".942" stop-color="#0d1f30"/><stop offset="1" stop-color="#0d1f30"/></linearGradient>
<linearGradient id="c39" x2="0" y2="1"><stop offset="0" stop-color="#1d2d6f"/><stop offset=".021" stop-color="#222e78"/><stop offset=".054" stop-color="#34329a"/><stop offset=".082" stop-color="#39339b"/><stop offset=".119" stop-color="#3d359b"/><stop offset=".217" stop-color="#563c99"/><stop offset=".334" stop-color="#744892"/><stop offset=".446" stop-color="#87518d"/><stop offset=".544" stop-color="#a35a85"/><stop offset=".633" stop-color="#a25a85"/><stop offset=".703" stop-color="#8d528b"/><stop offset=".797" stop-color="#4d399a"/><stop offset=".839" stop-color="#343299"/><stop offset=".853" stop-color="#2d308c"/><stop offset=".862" stop-color="#232e79"/><stop offset=".871" stop-color="#152b5e"/><stop offset=".881" stop-color="#112546"/><stop offset=".895" stop-color="#0e2035"/><stop offset=".932" stop-color="#0e1f30"/><stop offset="1" stop-color="#0d1f30"/></linearGradient>
<linearGradient id="c40" x2="0" y2="1"><stop offset="0" stop-color="#162c63"/><stop offset=".021" stop-color="#162b60"/><stop offset=".04" stop-color="#1c2d6d"/><stop offset=".072" stop-color="#313194"/><stop offset=".091" stop-color="#38339b"/><stop offset=".283" stop-color="#664296"/><stop offset=".367" stop-color="#7b4c90"/><stop offset=".479" stop-color="#8c528b"/><stop offset=".558" stop-color="#a25a85"/><stop offset=".633" stop-color="#a15a86"/><stop offset=".703" stop-color="#8d538b"/><stop offset=".778" stop-color="#5d3e99"/><stop offset=".825" stop-color="#39339b"/><stop offset=".834" stop-color="#35329b"/><stop offset=".853" stop-color="#2c308a"/><stop offset=".862" stop-color="#212e77"/><stop offset=".871" stop-color="#152a5c"/><stop offset=".881" stop-color="#112445"/><stop offset=".89" stop-color="#0f2138"/><stop offset=".918" stop-color="#0e1f30"/><stop offset="1" stop-color="#0d1f30"/></linearGradient>
<linearGradient id="c41" x2="0" y2="1"><stop offset="0" stop-color="#152a5a"/><stop offset=".026" stop-color="#13274f"/><stop offset=".044" stop-color="#142958"/><stop offset=".063" stop-color="#1d2d6f"/><stop offset=".091" stop-color="#313194"/><stop offset=".105" stop-color="#37339b"/><stop offset=".217" stop-color="#533b99"/><stop offset=".325" stop-color="#724893"/><stop offset=".39" stop-color="#824e8e"/><stop offset=".479" stop-color="#89518c"/><stop offset=".577" stop-color="#a25a85"/><stop offset=".643" stop-color="#9f5987"/><stop offset=".708" stop-color="#8b528c"/><stop offset=".778" stop-color="#5e3e99"/><stop offset=".829" stop-color="#37339b"/><stop offset=".848" stop-color="#2e318e"/><stop offset=".857" stop-color="#262f80"/><stop offset=".871" stop-color="#152a5a"/><stop offset=".886" stop-color="#10223c"/><stop offset=".904" stop-color="#0e1f31"/><stop offset="1" stop-color="#0d1f30"/></linearGradient>
<linearGradient id="c42" x2="0" y2="1"><stop offset="0" stop-color="#132852"/><stop offset=".026" stop-color="#102341"/><stop offset=".044" stop-color="#112445"/><stop offset=".068" stop-color="#162c61"/><stop offset=".096" stop-color="#2c308a"/><stop offset=".114" stop-color="#35329a"/><stop offset=".301" stop-color="#684396"/><stop offset=".386" stop-color="#844f8e"/><stop offset=".451" stop-color="#87508d"/><stop offset=".516" stop-color="#8e538b"/><stop offset=".596" stop-color="#a15a86"/><stop offset=".647" stop-color="#9e5987"/><stop offset=".708" stop-color="#8b528c"/><stop offset=".783" stop-color="#5b3e99"/><stop offset=".829" stop-color="#37339b"/><stop offset=".839" stop-color="#333297"/><stop offset=".853" stop-color="#2a3087"/><stop offset=".862" stop-color="#1f2e73"/><stop offset=".871" stop-color="#142958"/><stop offset=".881" stop-color="#112443"/><stop offset=".895" stop-color="#0e2034"/><stop offset=".942" stop-color="#0d1f30"/><stop offset="1" stop-color="#0d1f30"/></linearGradient>
<linearGradient id="c43" x2="0" y2="1"><stop offset="0" stop-color="#12264a"/><stop offset=".026" stop-color="#0f2036"/><stop offset=".04" stop-color="#0e2036"/><stop offset=".058" stop-color="#112445"/><stop offset=".082" stop-color="#192d67"/><stop offset=".105" stop-color="#293085"/><stop offset=".138" stop-color="#34329a"/><stop offset=".306" stop-color="#684396"/><stop offset=".4" stop-color="#88518d"/><stop offset=".474" stop-color="#8a518c"/><stop offset=".526" stop-color="#8d538b"/><stop offset=".619" stop-color="#a05a86"/><stop offset=".689" stop-color="#93558a"/><stop offset=".745" stop-color="#754992"/><stop offset=".792" stop-color="#543b99"/><stop offset=".834" stop-color="#35329b"/><stop offset=".853" stop-color="#2a3087"/><stop offset=".862" stop-color="#1f2e72"/><stop offset=".867" stop-color="#172c64"/><stop offset=".881" stop-color="#112442"/><stop offset=".895" stop-color="#0e2034"/><stop offset=".942" stop-color="#0d1f30"/><stop offset="1" stop-color="#0d1f30"/></linearGradient>
<linearGradient id="c44" x2="0" y2="1"><stop offset="0" stop-color="#112444"/><stop offset=".026" stop-color="#0d1e2d"/><stop offset=".044" stop-color="#0d1e2d"/><stop offset=".068" stop-color="#112547"/><stop offset=".096" stop-color="#1c2d6e"/><stop offset=".124" stop-color="#272f82"/><stop offset=".185" stop-color="#38339b"/><stop offset=".255" stop-color="#563c99"/><stop offset=".371" stop-color="#7f4d8f"/><stop offset=".432" stop-color="#8e538b"/><stop offset=".54" stop-color="#8d538b"/><stop offset=".633" stop-color="#9e5987"/><stop offset=".699" stop-color="#90548b"/><stop offset=".783" stop-color="#5d3e99"/><stop offset=".834" stop-color="#36329b"/><stop offset=".848" stop-color="#2e318e"/><stop offset=".857" stop-color="#252f7d"/><stop offset=".867" stop-color="#162c63"/><stop offset=".881" stop-color="#102341"/><stop offset=".895" stop-color="#0e2034"/><stop offset=".942" stop-color="#0d1f30"/><stop offset="1" stop-color="#0d1f30"/></linearGradient>
<linearGradient id="c45" x2="0" y2="1"><stop offset="0" stop-color="#10233f"/><stop offset=".007" stop-color="#0f2138"/><stop offset=".016" stop-color="#0d1e2d"/><stop offset=".054" stop-color="#0d1e2e"/><stop offset=".096" stop-color="#172c64"/><stop offset=".124" stop-color="#1d2d70"/><stop offset=".161" stop-color="#212e76"/><stop offset=".194" stop-color="#2f3190"/><stop offset=".203" stop-color="#34329a"/><stop offset=".255" stop-color="#523b9a"/><stop offset=".404" stop-color="#88518d"/><stop offset=".456" stop-color="#91548a"/><stop offset=".558" stop-color="#8e538b"/><stop offset=".643" stop-color="#9b5888"/><stop offset=".699" stop-color="#90548b"/><stop offset=".764" stop-color="#694495"/><stop offset=".834" stop-color="#36329b"/><stop offset=".848" stop-color="#2e318e"/><stop offset=".857" stop-color="#242f7c"/><stop offset=".867" stop-color="#162c62"/><stop offset=".881" stop-color="#102340"/><stop offset=".895" stop-color="#0e2034"/><stop offset=".942" stop-color="#0d1f30"/><stop offset="1" stop-color="#0d1f30"/></linearGradient>
<linearGradient id="c46" x2="0" y2="1"><stop offset="0" stop-color="#10223c"/><stop offset=".007" stop-color="#0e2036"/><stop offset=".016" stop-color="#0d1e2d"/><stop offset=".054" stop-color="#0d1e2d"/><stop offset=".091" stop-color="#152a5b"/><stop offset=".11" stop-color="#172c64"/><stop offset=".157" stop-color="#152a59"/><stop offset=".18" stop-color="#172c64"/><stop offset=".222" stop-color="#343299"/><stop offset=".264" stop-color="#513a9a"/><stop offset=".371" stop-color="#7d4c8f"/><stop offset=".465" stop-color="#94558a"/><stop offset=".586" stop-color="#90548a"/><stop offset=".657" stop-color="#975689"/><stop offset=".703" stop-color="#8e538b"/><stop offset=".778" stop-color="#603f98"/><stop offset=".829" stop-color="#39339b"/><stop offset=".839" stop-color="#343299"/><stop offset=".853" stop-color="#2a3086"/><stop offset=".862" stop-color="#1d2d6f"/><stop offset=".867" stop-color="#162c60"/><stop offset=".876" stop-color="#122548"/><stop offset=".89" stop-color="#0f2036"/><stop offset=".923" stop-color="#0e1f30"/><stop offset="1" stop-color="#0d1f30"/></linearGradient>
<linearGradient id="c47" x2="0" y2="1"><stop offset="0" stop-color="#10223c"/><stop offset=".007" stop-color="#0e2036"/><stop offset=".016" stop-color="#0d1e2d"/><stop offset=".054" stop-color="#0d1e2d"/><stop offset=".091" stop-color="#152b5d"/><stop offset=".11" stop-color="#172c64"/><stop offset=".133" stop-color="#142958"/><stop offset=".157" stop-color="#122548"/><stop offset=".175" stop-color="#122548"/><stop offset=".194" stop-color="#142a59"/><stop offset=".217" stop-color="#242f7c"/><stop offset=".236" stop-color="#343299"/><stop offset=".283" stop-color="#563c99"/><stop offset=".362" stop-color="#7a4b90"/><stop offset=".479" stop-color="#965689"/><stop offset=".544" stop-color="#94558a"/><stop offset=".614" stop-color="#92558a"/><stop offset=".685" stop-color="#92548a"/><stop offset=".727" stop-color="#824e8e"/><stop offset=".797" stop-color="#513a9a"/><stop offset=".839" stop-color="#343299"/><stop offset=".853" stop-color="#293085"/><stop offset=".867" stop-color="#162b5f"/><stop offset=".876" stop-color="#112547"/><stop offset=".886" stop-color="#0f2139"/><stop offset=".904" stop-color="#0e1f31"/><stop offset="1" stop-color="#0d1f30"/></linearGradient>
<linearGradient id="c48" x2="0" y2="1"><stop offset="0" stop-color="#10233e"/><stop offset=".016" stop-color="#0d1e2d"/><stop offset=".049" stop-color="#0d1e2d"/><stop offset=".063" stop-color="#10223d"/><stop offset=".086" stop-color="#152b5e"/><stop offset=".1" stop-color="#1b2d6a"/><stop offset=".119" stop-color="#1a2d69"/><stop offset=".161" stop-color="#112444"/><stop offset=".18" stop-color="#102340"/><stop offset=".199" stop-color="#13274e"/><stop offset=".217" stop-color="#1a2d69"/><stop offset=".245" stop-color="#343298"/><stop offset=".264" stop-color="#44369a"/><stop offset=".329" stop-color="#6c4595"/><stop offset=".395" stop-color="#824f8e"/><stop offset=".507" stop-color="#995788"/><stop offset=".699" stop-color="#8d538b"/><stop offset=".745" stop-color="#764991"/><stop offset=".806" stop-color="#4a389a"/><stop offset=".834" stop-color="#36329b"/><stop offset=".848" stop-color="#2d308d"/><stop offset=".862" stop-color="#1b2d6c"/><stop offset=".871" stop-color="#132751"/><stop offset=".881" stop-color="#10233e"/><stop offset=".895" stop-color="#0e2033"/><stop offset="1" stop-color="#0d1f30"/></linearGradient>
<linearGradient id="c49" x2="0" y2="1"><stop offset="0" stop-color="#112443"/><stop offset=".026" stop-color="#0d1e2d"/><stop offset=".044" stop-color="#0d1e2f"/><stop offset=".058" stop-color="#10223d"/><stop offset=".091" stop-color="#1b2d6c"/><stop offset=".11" stop-color="#222e78"/><stop offset=".129" stop-color="#1f2e73"/><stop offset=".161" stop-color="#132853"/><stop offset=".18" stop-color="#122549"/><stop offset=".199" stop-color="#13274e"/><stop offset=".217" stop-color="#172c63"/><stop offset=".25" stop-color="#333297"/><stop offset=".259" stop-color="#3b349b"/><stop offset=".315" stop-color="#624097"/><stop offset=".381" stop-color="#7e4d8f"/><stop offset=".521" stop-color="#9b5888"/><stop offset=".596" stop-color="#975689"/><stop offset=".708" stop-color="#88518d"/><stop offset=".773" stop-color="#644197"/><stop offset=".834" stop-color="#36329b"/><stop offset=".848" stop-color="#2d308c"/><stop offset=".862" stop-color="#1a2d6a"/><stop offset=".876" stop-color="#112445"/><stop offset=".89" stop-color="#0e2035"/><stop offset=".932" stop-color="#0e1f30"/><stop offset="1" stop-color="#0d1f30"/></linearGradient>
<linearGradient id="c50" x2="0" y2="1"><stop offset="0" stop-color="#122548"/><stop offset=".026" stop-color="#0e2035"/><stop offset=".044" stop-color="#0f2138"/><stop offset=".063" stop-color="#12264c"/><stop offset=".086" stop-color="#1c2d6e"/><stop offset=".11" stop-color="#283084"/><stop offset=".129" stop-color="#293084"/><stop offset=".157" stop-color="#1e2e71"/><stop offset=".18" stop-color="#162c60"/><stop offset=".199" stop-color="#162b5f"/><stop offset=".217" stop-color="#1c2d6d"/><stop offset=".255" stop-color="#36329b"/><stop offset=".311" stop-color="#5e3e99"/><stop offset=".39" stop-color="#804e8f"/><stop offset=".544" stop-color="#9d5887"/><stop offset=".624" stop-color="#975689"/><stop offset=".713" stop-color="#844f8d"/><stop offset=".783" stop-color="#5d3e99"/><stop offset=".834" stop-color="#36329b"/><stop offset=".848" stop-color="#2c308b"/><stop offset=".857" stop-color="#212e76"/><stop offset=".867" stop-color="#152a5b"/><stop offset=".876" stop-color="#112444"/><stop offset=".89" stop-color="#0e2035"/><stop offset=".932" stop-color="#0e1f30"/><stop offset="1" stop-color="#0d1f30"/></linearGradient>
<linearGradient id="c51" x2="0" y2="1"><stop offset="0" stop-color="#13274e"/><stop offset=".026" stop-color="#10233e"/><stop offset=".044" stop-color="#102341"/><stop offset=".072" stop-color="#162b60"/><stop offset=".1" stop-color="#293084"/><stop offset=".119" stop-color="#2f3190"/><stop offset=".143" stop-color="#2f3190"/><stop offset=".189" stop-color="#242f7b"/><stop offset=".213" stop-color="#262f7f"/><stop offset=".245" stop-color="#35329b"/><stop offset=".32" stop-color="#624098"/><stop offset=".418" stop-color="#87508d"/><stop offset=".572" stop-color="#9f5987"/><stop offset=".643" stop-color="#975689"/><stop offset=".717" stop-color="#814e8e"/><stop offset=".787" stop-color="#583d99"/><stop offset=".834" stop-color="#36329b"/><stop offset=".848" stop-color="#2c308a"/><stop offset=".867" stop-color="#142a59"/><stop offset=".876" stop-color="#112443"/><stop offset=".89" stop-color="#0e2035"/><stop offset=".932" stop-color="#0e1f30"/><stop offset="1" stop-color="#0d1f30"/></linearGradient>
<linearGradient id="c52" x2="0" y2="1"><stop offset="0" stop-color="#142854"/><stop offset=".03" stop-color="#112547"/><stop offset=".049" stop-color="#13274e"/><stop offset=".072" stop-color="#182c66"/><stop offset=".1" stop-color="#2b3088"/><stop offset=".129" stop-color="#34329a"/><stop offset=".171" stop-color="#343298"/><stop offset=".208" stop-color="#323196"/><stop offset=".236" stop-color="#3b349b"/><stop offset=".325" stop-color="#664296"/><stop offset=".446" stop-color="#8c528b"/><stop offset=".591" stop-color="#a05a86"/><stop offset=".647" stop-color="#9a5788"/><stop offset=".722" stop-color="#7e4d8f"/><stop offset=".801" stop-color="#4c399a"/><stop offset=".834" stop-color="#35329b"/><stop offset=".848" stop-color="#2b3089"/><stop offset=".867" stop-color="#142958"/><stop offset=".876" stop-color="#112443"/><stop offset=".89" stop-color="#0e2034"/><stop offset=".937" stop-color="#0d1f30"/><stop offset="1" stop-color="#0d1f30"/></linearGradient>
<linearGradient id="c53" x2="0" y2="1"><stop offset="0" stop-color="#152a5a"/><stop offset=".026" stop-color="#132750"/><stop offset=".044" stop-color="#142853"/><stop offset=".068" stop-color="#182c67"/><stop offset=".11" stop-color="#303192"/><stop offset=".129" stop-color="#36329b"/><stop offset=".171" stop-color="#3c349b"/><stop offset=".227" stop-color="#43369a"/><stop offset=".329" stop-color="#6b4495"/><stop offset=".484" stop-color="#93558a"/><stop offset=".619" stop-color="#a25a86"/><stop offset=".68" stop-color="#93558a"/><stop offset=".731" stop-color="#794b91"/><stop offset=".797" stop-color="#4d399a"/><stop offset=".834" stop-color="#34329a"/><stop offset=".848" stop-color="#2a3087"/><stop offset=".862" stop-color="#162c63"/><stop offset=".876" stop-color="#112342"/><stop offset=".89" stop-color="#0e2034"/><stop offset=".937" stop-color="#0d1f30"/><stop offset="1" stop-color="#0d1f30"/></linearGradient>
<linearGradient id="c54" x2="0" y2="1"><stop offset="0" stop-color="#152b5e"/><stop offset=".03" stop-color="#142956"/><stop offset=".058" stop-color="#162c62"/><stop offset=".11" stop-color="#303192"/><stop offset=".129" stop-color="#37339b"/><stop offset=".241" stop-color="#503a9a"/><stop offset=".334" stop-color="#714793"/><stop offset=".456" stop-color="#8b528c"/><stop offset=".544" stop-color="#9b5888"/><stop offset=".633" stop-color="#a25a85"/><stop offset=".689" stop-color="#93558a"/><stop offset=".736" stop-color="#774a91"/><stop offset=".797" stop-color="#4b399a"/><stop offset=".829" stop-color="#35329b"/><stop offset=".848" stop-color="#293084"/><stop offset=".862" stop-color="#162c61"/><stop offset=".871" stop-color="#122549"/><stop offset=".886" stop-color="#0f2137"/><stop offset=".909" stop-color="#0e1f30"/><stop offset="1" stop-color="#0d1f30"/></linearGradient>
<linearGradient id="c55" x2="0" y2="1"><stop offset="0" stop-color="#162c61"/><stop offset=".035" stop-color="#152a5b"/><stop offset=".063" stop-color="#1a2d69"/><stop offset=".119" stop-color="#333297"/><stop offset=".143" stop-color="#3b349b"/><stop offset=".236" stop-color="#553c99"/><stop offset=".339" stop-color="#784a91"/><stop offset=".446" stop-color="#87508d"/><stop offset=".544" stop-color="#9c5888"/><stop offset=".643" stop-color="#a35a85"/><stop offset=".699" stop-color="#92558a"/><stop offset=".745" stop-color="#714793"/><stop offset=".801" stop-color="#45379a"/><stop offset=".825" stop-color="#36329b"/><stop offset=".843" stop-color="#2b3089"/><stop offset=".853" stop-color="#222e78"/><stop offset=".862" stop-color="#152b5e"/><stop offset=".876" stop-color="#102340"/><stop offset=".89" stop-color="#0e2034"/><stop offset=".937" stop-color="#0d1f30"/><stop offset="1" stop-color="#0d1f30"/></linearGradient>
<linearGradient id="c56" x2="0" y2="1"><stop offset="0" stop-color="#162c63"/><stop offset=".035" stop-color="#152a5c"/><stop offset=".063" stop-color="#192d67"/><stop offset=".129" stop-color="#35329b"/><stop offset=".236" stop-color="#5b3d99"/><stop offset=".353" stop-color="#814e8e"/><stop offset=".456" stop-color="#88518d"/><stop offset=".563" stop-color="#9f5987"/><stop offset=".647" stop-color="#a35a85"/><stop offset=".703" stop-color="#93558a"/><stop offset=".764" stop-color="#634197"/><stop offset=".82" stop-color="#37339b"/><stop offset=".834" stop-color="#303191"/><stop offset=".848" stop-color="#262f7f"/><stop offset=".862" stop-color="#152a5c"/><stop offset=".871" stop-color="#112546"/><stop offset=".886" stop-color="#0f2036"/><stop offset=".918" stop-color="#0e1f30"/><stop offset="1" stop-color="#0d1f30"/></linearGradient>
<linearGradient id="c57" x2="0" y2="1"><stop offset="0" stop-color="#162c62"/><stop offset=".04" stop-color="#152a59"/><stop offset=".068" stop-color="#172c64"/><stop offset=".133" stop-color="#35329b"/><stop offset=".222" stop-color="#5a3d99"/><stop offset=".269" stop-color="#6e4694"/><stop offset=".371" stop-color="#88518d"/><stop offset=".479" stop-color="#8b528c"/><stop offset=".582" stop-color="#a25a86"/><stop offset=".652" stop-color="#a35a85"/><stop offset=".699" stop-color="#975689"/><stop offset=".736" stop-color="#7d4c8f"/><stop offset=".787" stop-color="#4f3a9a"/><stop offset=".82" stop-color="#36329b"/><stop offset=".843" stop-color="#283084"/><stop offset=".857" stop-color="#182c66"/><stop offset=".871" stop-color="#112445"/><stop offset=".886" stop-color="#0e2035"/><stop offset=".932" stop-color="#0e1f30"/><stop offset="1" stop-color="#0d1f30"/></linearGradient>
<linearGradient id="c58" x2="0" y2="1"><stop offset="0" stop-color="#162c60"/><stop offset=".04" stop-color="#132851"/><stop offset=".068" stop-color="#142958"/><stop offset=".096" stop-color="#1f2e72"/><stop offset=".138" stop-color="#35329a"/><stop offset=".208" stop-color="#553b99"/><stop offset=".264" stop-color="#794b91"/><stop offset=".343" stop-color="#86508d"/><stop offset=".4" stop-color="#8e538b"/><stop offset=".493" stop-color="#8d538b"/><stop offset=".61" stop-color="#a65b84"/><stop offset=".666" stop-color="#a15a86"/><stop offset=".708" stop-color="#93558a"/><stop offset=".773" stop-color="#5d3e99"/><stop offset=".82" stop-color="#35329b"/><stop offset=".843" stop-color="#272f82"/><stop offset=".857" stop-color="#172c64"/><stop offset=".871" stop-color="#112444"/><stop offset=".886" stop-color="#0e2035"/><stop offset=".932" stop-color="#0e1f30"/><stop offset="1" stop-color="#0d1f30"/></linearGradient>
<linearGradient id="c59" x2="0" y2="1"><stop offset="0" stop-color="#152b5e"/><stop offset=".044" stop-color="#112445"/><stop offset=".063" stop-color="#112445"/><stop offset=".086" stop-color="#142956"/><stop offset=".105" stop-color="#1c2d6e"/><stop offset=".143" stop-color="#343299"/><stop offset=".213" stop-color="#583d99"/><stop offset=".264" stop-color="#85508d"/><stop offset=".283" stop-color="#8b528c"/><stop offset=".339" stop-color="#87508d"/><stop offset=".414" stop-color="#93558a"/><stop offset=".502" stop-color="#8f538b"/><stop offset=".624" stop-color="#a85c83"/><stop offset=".689" stop-color="#9c5888"/><stop offset=".727" stop-color="#86508d"/><stop offset=".787" stop-color="#503a9a"/><stop offset=".82" stop-color="#35329b"/><stop offset=".843" stop-color="#272f81"/><stop offset=".857" stop-color="#162c62"/><stop offset=".871" stop-color="#112443"/><stop offset=".886" stop-color="#0e2035"/><stop offset=".932" stop-color="#0e1f30"/><stop offset="1" stop-color="#0d1f30"/></linearGradient>
<linearGradient id="c60" x2="0" y2="1"><stop offset="0" stop-color="#152a5b"/><stop offset=".049" stop-color="#0e2034"/><stop offset=".068" stop-color="#0e1f32"/><stop offset=".086" stop-color="#102340"/><stop offset=".114" stop-color="#1a2d69"/><stop offset=".138" stop-color="#2d308c"/><stop offset=".152" stop-color="#35329b"/><stop offset=".217" stop-color="#5a3d99"/><stop offset=".273" stop-color="#92558a"/><stop offset=".292" stop-color="#985788"/><stop offset=".348" stop-color="#8b528c"/><stop offset=".432" stop-color="#975689"/><stop offset=".521" stop-color="#92558a"/><stop offset=".629" stop-color="#a85c83"/><stop offset=".685" stop-color="#9f5987"/><stop offset=".717" stop-color="#8e538b"/><stop offset=".787" stop-color="#503a9a"/><stop offset=".82" stop-color="#36329b"/><stop offset=".839" stop-color="#2b3088"/><stop offset=".853" stop-color="#1c2d6d"/><stop offset=".862" stop-color="#142955"/><stop offset=".876" stop-color="#10223c"/><stop offset=".895" stop-color="#0e1f32"/><stop offset="1" stop-color="#0d1f30"/></linearGradient>
<linearGradient id="c61" x2="0" y2="1"><stop offset="0" stop-color="#142a59"/><stop offset=".021" stop-color="#112546"/><stop offset=".044" stop-color="#0d1e2d"/><stop offset=".091" stop-color="#0d1e2e"/><stop offset=".124" stop-color="#192d68"/><stop offset=".147" stop-color="#2f318f"/><stop offset=".157" stop-color="#35329b"/><stop offset=".227" stop-color="#5e3f99"/><stop offset=".283" stop-color="#985788"/><stop offset=".301" stop-color="#9e5987"/><stop offset=".353" stop-color="#8d538b"/><stop offset=".4" stop-color="#94558a"/><stop offset=".456" stop-color="#9a5888"/><stop offset=".544" stop-color="#965689"/><stop offset=".638" stop-color="#a85c83"/><stop offset=".689" stop-color="#a05a86"/><stop offset=".722" stop-color="#8c528b"/><stop offset=".787" stop-color="#503a9a"/><stop offset=".82" stop-color="#36329b"/><stop offset=".839" stop-color="#2b3088"/><stop offset=".853" stop-color="#1b2d6c"/><stop offset=".871" stop-color="#102341"/><stop offset=".886" stop-color="#0e2034"/><stop offset=".946" stop-color="#0d1f30"/><stop offset="1" stop-color="#0d1f30"/></linearGradient>
<linearGradient id="c62" x2="0" y2="1"><stop offset="0" stop-color="#142958"/><stop offset=".016" stop-color="#12264a"/><stop offset=".04" stop-color="#0d1e2d"/><stop offset=".1" stop-color="#0d1e2d"/><stop offset=".105" stop-color="#0e1f30"/><stop offset=".129" stop-color="#162c61"/><stop offset=".152" stop-color="#2e318e"/><stop offset=".161" stop-color="#35329b"/><stop offset=".203" stop-color="#4d399a"/><stop offset=".245" stop-color="#684396"/><stop offset=".292" stop-color="#955689"/><stop offset=".311" stop-color="#9b5888"/><stop offset=".371" stop-color="#8d538b"/><stop offset=".46" stop-color="#9d5987"/><stop offset=".572" stop-color="#9a5888"/><stop offset=".652" stop-color="#a85c83"/><stop offset=".694" stop-color="#a05a86"/><stop offset=".722" stop-color="#8e538b"/><stop offset=".787" stop-color="#503a9a"/><stop offset=".82" stop-color="#36329b"/><stop offset=".839" stop-color="#2a3088"/><stop offset=".857" stop-color="#152b5f"/><stop offset=".871" stop-color="#102341"/><stop offset=".886" stop-color="#0e2034"/><stop offset=".946" stop-color="#0d1f30"/><stop offset="1" stop-color="#0d1f30"/></linearGradient>
<linearGradient id="c63" x2="0" y2="1"><stop offset="0" stop-color="#142a59"/><stop offset=".03" stop-color="#0f2139"/><stop offset=".04" stop-color="#0d1e2d"/><stop offset=".11" stop-color="#0d1e2d"/><stop offset=".138" stop-color="#1a2d6a"/><stop offset=".157" stop-color="#2e318f"/><stop offset=".166" stop-color="#36329b"/><stop offset=".203" stop-color="#4d399a"/><stop offset=".259" stop-color="#6c4595"/><stop offset=".306" stop-color="#8f538b"/><stop offset=".334" stop-color="#93558a"/><stop offset=".381" stop-color="#8c528b"/><stop offset=".484" stop-color="#a05a86"/><stop offset=".586" stop-color="#9d5987"/><stop offset=".661" stop-color="#a75c83"/><stop offset=".699" stop-color="#a15a86"/><stop offset=".727" stop-color="#8c528b"/><stop offset=".787" stop-color="#513a9a"/><stop offset=".82" stop-color="#36329b"/><stop offset=".839" stop-color="#2a3086"/><stop offset=".857" stop-color="#152b5d"/><stop offset=".871" stop-color="#102340"/><stop offset=".886" stop-color="#0e2034"/><stop offset=".946" stop-color="#0d1f30"/><stop offset="1" stop-color="#0d1f30"/></linearGradient>
<linearGradient id="c64" x2="0" y2="1"><stop offset="0" stop-color="#152a59"/><stop offset=".026" stop-color="#112342"/><stop offset=".044" stop-color="#0d1e2d"/><stop offset=".114" stop-color="#0d1e2f"/><stop offset=".138" stop-color="#162c62"/><stop offset=".161" stop-color="#303192"/><stop offset=".171" stop-color="#38339b"/><stop offset=".203" stop-color="#4d399a"/><stop offset=".278" stop-color="#704793"/><stop offset=".325" stop-color="#89518c"/><stop offset=".409" stop-color="#8f538b"/><stop offset=".507" stop-color="#a35b85"/><stop offset=".614" stop-color="#a25a85"/><stop offset=".685" stop-color="#a75c84"/><stop offset=".713" stop-color="#9b5888"/><stop offset=".792" stop-color="#4d399a"/><stop offset=".82" stop-color="#36329b"/><stop offset=".839" stop-color="#293084"/><stop offset=".853" stop-color="#182c66"/><stop offset=".867" stop-color="#112546"/><stop offset=".881" stop-color="#0f2036"/><stop offset=".918" stop-color="#0e1f30"/><stop offset="1" stop-color="#0d1f30"/></linearGradient>
<linearGradient id="c65" x2="0" y2="1"><stop offset="0" stop-color="#152a5a"/><stop offset=".03" stop-color="#102340"/><stop offset=".049" stop-color="#0d1e2d"/><stop offset=".11" stop-color="#0d1e2d"/><stop offset=".114" stop-color="#0e1f30"/><stop offset=".143" stop-color="#1a2d6a"/><stop offset=".166" stop-color="#333297"/><stop offset=".175" stop-color="#3c349b"/><stop offset=".208" stop-color="#503a9a"/><stop offset=".315" stop-color="#7b4c90"/><stop offset=".362" stop-color="#88518d"/><stop offset=".46" stop-color="#985788"/><stop offset=".535" stop-color="#a75c83"/><stop offset=".671" stop-color="#a75c83"/><stop offset=".699" stop-color="#a45b84"/><stop offset=".722" stop-color="#955689"/><stop offset=".787" stop-color="#523b9a"/><stop offset=".82" stop-color="#35329b"/><stop offset=".839" stop-color="#282f82"/><stop offset=".853" stop-color="#172c63"/><stop offset=".871" stop-color="#10233e"/><stop offset=".89" stop-color="#0e1f32"/><stop offset="1" stop-color="#0d1f30"/></linearGradient>
<linearGradient id="c66" x2="0" y2="1"><stop offset="0" stop-color="#152a5b"/><stop offset=".054" stop-color="#0d1e2e"/><stop offset=".105" stop-color="#0d1e2d"/><stop offset=".124" stop-color="#112546"/><stop offset=".143" stop-color="#1a2d6a"/><stop offset=".166" stop-color="#323196"/><stop offset=".175" stop-color="#3b349b"/><stop offset=".208" stop-color="#523b9a"/><stop offset=".376" stop-color="#87508d"/><stop offset=".516" stop-color="#a45b85"/><stop offset=".582" stop-color="#ab5d82"/><stop offset=".699" stop-color="#a65b84"/><stop offset=".731" stop-color="#8d538b"/><stop offset=".787" stop-color="#523b9a"/><stop offset=".82" stop-color="#35329b"/><stop offset=".839" stop-color="#262f80"/><stop offset=".857" stop-color="#142956"/><stop offset=".871" stop-color="#10223e"/><stop offset=".89" stop-color="#0e1f32"/><stop offset="1" stop-color="#0d1f30"/></linearGradient>
<linearGradient id="c67" x2="0" y2="1"><stop offset="0" stop-color="#152a5b"/><stop offset=".063" stop-color="#0d1e2d"/><stop offset=".096" stop-color="#0d1e2d"/><stop offset=".119" stop-color="#112445"/><stop offset=".138" stop-color="#162c63"/><stop offset=".171" stop-color="#36329b"/><stop offset=".208" stop-color="#523b9a"/><stop offset=".255" stop-color="#624097"/><stop offset=".357" stop-color="#7f4d8f"/><stop offset=".465" stop-color="#965689"/><stop offset=".582" stop-color="#af5e80"/><stop offset=".694" stop-color="#a95c83"/><stop offset=".717" stop-color="#9b5888"/><stop offset=".787" stop-color="#523b9a"/><stop offset=".82" stop-color="#34329a"/><stop offset=".839" stop-color="#252f7e"/><stop offset=".853" stop-color="#152b5f"/><stop offset=".867" stop-color="#112443"/><stop offset=".886" stop-color="#0e2034"/><stop offset=".946" stop-color="#0d1f30"/><stop offset="1" stop-color="#0d1f30"/></linearGradient>
<linearGradient id="c68" x2="0" y2="1"><stop offset="0" stop-color="#152a5c"/><stop offset=".058" stop-color="#0e1f33"/><stop offset=".082" stop-color="#0d1e2e"/><stop offset=".105" stop-color="#0f223b"/><stop offset=".129" stop-color="#142957"/><stop offset=".147" stop-color="#202e75"/><stop offset=".171" stop-color="#35329a"/><stop offset=".208" stop-color="#523b9a"/><stop offset=".259" stop-color="#654197"/><stop offset=".386" stop-color="#85508d"/><stop offset=".465" stop-color="#965689"/><stop offset=".554" stop-color="#a95d82"/><stop offset=".619" stop-color="#b4607e"/><stop offset=".694" stop-color="#ab5d82"/><stop offset=".717" stop-color="#9b5888"/><stop offset=".787" stop-color="#513a9a"/><stop offset=".82" stop-color="#343299"/><stop offset=".839" stop-color="#242f7c"/><stop offset=".857" stop-color="#132852"/><stop offset=".871" stop-color="#10223c"/><stop offset=".89" stop-color="#0e1f32"/><stop offset="1" stop-color="#0d1f30"/></linearGradient>
<linearGradient id="c69" x2="0" y2="1"><stop offset="0" stop-color="#152a5c"/><stop offset=".058" stop-color="#0e2033"/><stop offset=".086" stop-color="#0e1f31"/><stop offset=".11" stop-color="#112342"/><stop offset=".138" stop-color="#182c66"/><stop offset=".171" stop-color="#333298"/><stop offset=".189" stop-color="#43369a"/><stop offset=".236" stop-color="#5e3f99"/><stop offset=".348" stop-color="#7a4b90"/><stop offset=".46" stop-color="#965689"/><stop offset=".554" stop-color="#a75c83"/><stop offset=".624" stop-color="#b7617d"/><stop offset=".689" stop-color="#b15f80"/><stop offset=".713" stop-color="#a25a86"/><stop offset=".778" stop-color="#583c99"/><stop offset=".815" stop-color="#36329b"/><stop offset=".834" stop-color="#282f83"/><stop offset=".853" stop-color="#152a5b"/><stop offset=".867" stop-color="#102341"/><stop offset=".886" stop-color="#0e2033"/><stop offset="1" stop-color="#0d1f30"/></linearGradient>
<linearGradient id="c70" x2="0" y2="1"><stop offset="0" stop-color="#152b5d"/><stop offset=".058" stop-color="#0e2033"/><stop offset=".082" stop-color="#0d1f30"/><stop offset=".105" stop-color="#10223d"/><stop offset=".138" stop-color="#172c64"/><stop offset=".175" stop-color="#35329b"/><stop offset=".222" stop-color="#563c99"/><stop offset=".287" stop-color="#6f4694"/><stop offset=".507" stop-color="#9e5987"/><stop offset=".572" stop-color="#aa5d82"/><stop offset=".633" stop-color="#b9617c"/><stop offset=".685" stop-color="#b6617d"/><stop offset=".708" stop-color="#a95d82"/><stop offset=".773" stop-color="#5b3d99"/><stop offset=".815" stop-color="#35329a"/><stop offset=".834" stop-color="#272f80"/><stop offset=".848" stop-color="#162c63"/><stop offset=".867" stop-color="#102340"/><stop offset=".886" stop-color="#0e2033"/><stop offset="1" stop-color="#0d1f30"/></linearGradient>
<linearGradient id="c71" x2="0" y2="1"><stop offset="0" stop-color="#152b5e"/><stop offset=".063" stop-color="#0e1f31"/><stop offset=".086" stop-color="#0e1f30"/><stop offset=".11" stop-color="#102340"/><stop offset=".138" stop-color="#162c62"/><stop offset=".175" stop-color="#343298"/><stop offset=".194" stop-color="#42369a"/><stop offset=".259" stop-color="#654297"/><stop offset=".329" stop-color="#7b4c90"/><stop offset=".521" stop-color="#a15a86"/><stop offset=".586" stop-color="#ac5e81"/><stop offset=".652" stop-color="#bb627b"/><stop offset=".689" stop-color="#b9617c"/><stop offset=".713" stop-color="#a85c83"/><stop offset=".773" stop-color="#593d99"/><stop offset=".811" stop-color="#37329b"/><stop offset=".825" stop-color="#2d308c"/><stop offset=".843" stop-color="#1b2d6b"/><stop offset=".857" stop-color="#12274d"/><stop offset=".871" stop-color="#0f223b"/><stop offset=".895" stop-color="#0e1f31"/><stop offset="1" stop-color="#0d1f30"/></linearGradient>
<linearGradient id="c72" x2="0" y2="1"><stop offset="0" stop-color="#162b60"/><stop offset=".058" stop-color="#0e2034"/><stop offset=".082" stop-color="#0d1e2f"/><stop offset=".1" stop-color="#0f2036"/><stop offset=".129" stop-color="#142853"/><stop offset=".147" stop-color="#1d2d6e"/><stop offset=".18" stop-color="#35329b"/><stop offset=".241" stop-color="#5b3d99"/><stop offset=".329" stop-color="#7e4d8f"/><stop offset=".53" stop-color="#a35b85"/><stop offset=".596" stop-color="#ad5e81"/><stop offset=".666" stop-color="#bc627b"/><stop offset=".694" stop-color="#b9627c"/><stop offset=".713" stop-color="#ab5d82"/><stop offset=".778" stop-color="#533b9a"/><stop offset=".811" stop-color="#35329b"/><stop offset=".834" stop-color="#242f7b"/><stop offset=".848" stop-color="#152b5e"/><stop offset=".867" stop-color="#10233e"/><stop offset=".89" stop-color="#0e1f32"/><stop offset="1" stop-color="#0d1f30"/></linearGradient>
<linearGradient id="c73" x2="0" y2="1"><stop offset="0" stop-color="#162c62"/><stop offset=".063" stop-color="#0e2033"/><stop offset=".086" stop-color="#0d1f30"/><stop offset=".105" stop-color="#0f2139"/><stop offset=".133" stop-color="#142957"/><stop offset=".152" stop-color="#1f2e73"/><stop offset=".18" stop-color="#343299"/><stop offset=".25" stop-color="#5e3e99"/><stop offset=".353" stop-color="#87508d"/><stop offset=".498" stop-color="#9f5987"/><stop offset=".61" stop-color="#b05f80"/><stop offset=".685" stop-color="#bc627b"/><stop offset=".703" stop-color="#b5607e"/><stop offset=".727" stop-color="#9a5888"/><stop offset=".778" stop-color="#533b9a"/><stop offset=".811" stop-color="#34329a"/><stop offset=".834" stop-color="#222e79"/><stop offset=".853" stop-color="#132853"/><stop offset=".867" stop-color="#10223e"/><stop offset=".886" stop-color="#0e2033"/><stop offset="1" stop-color="#0d1f30"/></linearGradient>
<linearGradient id="c74" x2="0" y2="1"><stop offset="0" stop-color="#172c63"/><stop offset=".063" stop-color="#0e2036"/><stop offset=".086" stop-color="#0e1f31"/><stop offset=".11" stop-color="#10223c"/><stop offset=".138" stop-color="#152a5c"/><stop offset=".18" stop-color="#333297"/><stop offset=".189" stop-color="#3a339b"/><stop offset=".264" stop-color="#624097"/><stop offset=".367" stop-color="#8d538b"/><stop offset=".442" stop-color="#985789"/><stop offset=".633" stop-color="#b4607e"/><stop offset=".689" stop-color="#ba627c"/><stop offset=".708" stop-color="#b15f7f"/><stop offset=".745" stop-color="#804e8f"/><stop offset=".778" stop-color="#533b9a"/><stop offset=".811" stop-color="#34329a"/><stop offset=".834" stop-color="#212e77"/><stop offset=".848" stop-color="#152a5a"/><stop offset=".867" stop-color="#10223d"/><stop offset=".886" stop-color="#0e2033"/><stop offset="1" stop-color="#0d1f30"/></linearGradient>
<linearGradient id="c75" x2="0" y2="1"><stop offset="0" stop-color="#172c65"/><stop offset=".063" stop-color="#0f2138"/><stop offset=".091" stop-color="#0e2034"/><stop offset=".114" stop-color="#102341"/><stop offset=".147" stop-color="#192d68"/><stop offset=".185" stop-color="#35329b"/><stop offset=".241" stop-color="#583c99"/><stop offset=".386" stop-color="#955689"/><stop offset=".451" stop-color="#9e5987"/><stop offset=".582" stop-color="#ab5d82"/><stop offset=".685" stop-color="#b9617c"/><stop offset=".708" stop-color="#af5e80"/><stop offset=".745" stop-color="#7f4d8f"/><stop offset=".778" stop-color="#533b9a"/><stop offset=".811" stop-color="#34329a"/><stop offset=".834" stop-color="#202e75"/><stop offset=".848" stop-color="#142957"/><stop offset=".867" stop-color="#10223c"/><stop offset=".895" stop-color="#0e1f31"/><stop offset="1" stop-color="#0d1f30"/></linearGradient>
<linearGradient id="c76" x2="0" y2="1"><stop offset="0" stop-color="#182c66"/><stop offset=".058" stop-color="#10223e"/><stop offset=".086" stop-color="#0f2137"/><stop offset=".11" stop-color="#10233f"/><stop offset=".138" stop-color="#152a5b"/><stop offset=".185" stop-color="#35329b"/><stop offset=".241" stop-color="#593d99"/><stop offset=".409" stop-color="#9f5987"/><stop offset=".474" stop-color="#a65b84"/><stop offset=".563" stop-color="#a85c83"/><stop offset=".661" stop-color="#b6617d"/><stop offset=".694" stop-color="#b5607e"/><stop offset=".713" stop-color="#a85c83"/><stop offset=".764" stop-color="#634197"/><stop offset=".797" stop-color="#40359a"/><stop offset=".811" stop-color="#343299"/><stop offset=".829" stop-color="#242f7b"/><stop offset=".843" stop-color="#152b5d"/><stop offset=".862" stop-color="#10233f"/><stop offset=".881" stop-color="#0e2034"/><stop offset=".942" stop-color="#0d1f30"/><stop offset="1" stop-color="#0d1f30"/></linearGradient>
<linearGradient id="c77" x2="0" y2="1"><stop offset="0" stop-color="#182c66"/><stop offset=".058" stop-color="#102340"/><stop offset=".091" stop-color="#10223c"/><stop offset=".119" stop-color="#122549"/><stop offset=".143" stop-color="#162c62"/><stop offset=".185" stop-color="#35329b"/><stop offset=".245" stop-color="#5e3e99"/><stop offset=".386" stop-color="#975689"/><stop offset=".442" stop-color="#ab5d82"/><stop offset=".507" stop-color="#ab5d82"/><stop offset=".568" stop-color="#a95d82"/><stop offset=".647" stop-color="#b5607e"/><stop offset=".694" stop-color="#b25f7f"/><stop offset=".713" stop-color="#a45b84"/><stop offset=".773" stop-color="#553c99"/><stop offset=".806" stop-color="#37339b"/><stop offset=".815" stop-color="#303191"/><stop offset=".834" stop-color="#1d2d6e"/><stop offset=".843" stop-color="#152a5a"/><stop offset=".862" stop-color="#10223d"/><stop offset=".89" stop-color="#0e1f31"/><stop offset="1" stop-color="#0d1f30"/></linearGradient>
<linearGradient id="c78" x2="0" y2="1"><stop offset="0" stop-color="#182c65"/><stop offset=".049" stop-color="#112445"/><stop offset=".086" stop-color="#102340"/><stop offset=".114" stop-color="#12264a"/><stop offset=".143" stop-color="#172c65"/><stop offset=".185" stop-color="#36329b"/><stop offset=".245" stop-color="#614098"/><stop offset=".386" stop-color="#965689"/><stop offset=".446" stop-color="#b05f80"/><stop offset=".498" stop-color="#b4607e"/><stop offset=".563" stop-color="#ab5d82"/><stop offset=".661" stop-color="#b5607e"/><stop offset=".699" stop-color="#ae5e81"/><stop offset=".727" stop-color="#91548a"/><stop offset=".773" stop-color="#523b9a"/><stop offset=".806" stop-color="#35329b"/><stop offset=".825" stop-color="#252f7e"/><stop offset=".843" stop-color="#142957"/><stop offset=".862" stop-color="#10223c"/><stop offset=".886" stop-color="#0e1f32"/><stop offset="1" stop-color="#0d1f30"/></linearGradient>
<linearGradient id="c79" x2="0" y2="1"><stop offset="0" stop-color="#172c64"/><stop offset=".04" stop-color="#122548"/><stop offset=".077" stop-color="#112444"/><stop offset=".11" stop-color="#12264c"/><stop offset=".138" stop-color="#162c62"/><stop offset=".18" stop-color="#35329a"/><stop offset=".241" stop-color="#644197"/><stop offset=".297" stop-color="#7a4b90"/><stop offset=".39" stop-color="#985789"/><stop offset=".465" stop-color="#b7617d"/><stop offset=".502" stop-color="#ba627c"/><stop offset=".582" stop-color="#ae5e80"/><stop offset=".666" stop-color="#b4607e"/><stop offset=".699" stop-color="#ab5d82"/><stop offset=".722" stop-color="#945589"/><stop offset=".769" stop-color="#553c99"/><stop offset=".801" stop-color="#37339b"/><stop offset=".815" stop-color="#2c308b"/><stop offset=".839" stop-color="#152b5c"/><stop offset=".857" stop-color="#10233f"/><stop offset=".876" stop-color="#0e2034"/><stop offset=".951" stop-color="#0d1f30"/><stop offset="1" stop-color="#0d1f30"/></linearGradient>
<linearGradient id="c80" x2="0" y2="1"><stop offset="0" stop-color="#162c62"/><stop offset=".035" stop-color="#112546"/><stop offset=".063" stop-color="#112445"/><stop offset=".11" stop-color="#132851"/><stop offset=".138" stop-color="#192c67"/><stop offset=".175" stop-color="#343298"/><stop offset=".194" stop-color="#46379a"/><stop offset=".241" stop-color="#6f4694"/><stop offset=".283" stop-color="#814e8e"/><stop offset=".381" stop-color="#945589"/><stop offset=".488" stop-color="#bf637a"/><stop offset=".53" stop-color="#bc637b"/><stop offset=".6" stop-color="#b25f7f"/><stop offset=".68" stop-color="#b05f80"/><stop offset=".703" stop-color="#a65c84"/><stop offset=".736" stop-color="#804e8f"/><stop offset=".773" stop-color="#4d399a"/><stop offset=".801" stop-color="#35329a"/><stop offset=".82" stop-color="#262f7f"/><stop offset=".839" stop-color="#142958"/><stop offset=".857" stop-color="#10223d"/><stop offset=".881" stop-color="#0e1f32"/><stop offset="1" stop-color="#0d1f30"/></linearGradient>
<linearGradient id="c81" x2="0" y2="1"><stop offset="0" stop-color="#162b5f"/><stop offset=".03" stop-color="#112444"/><stop offset=".049" stop-color="#102341"/><stop offset=".124" stop-color="#152b5e"/><stop offset=".152" stop-color="#242f7c"/><stop offset=".175" stop-color="#36329b"/><stop offset=".222" stop-color="#6c4595"/><stop offset=".255" stop-color="#8c528c"/><stop offset=".283" stop-color="#965689"/><stop offset=".348" stop-color="#91548a"/><stop offset=".409" stop-color="#9e5987"/><stop offset=".498" stop-color="#c16479"/><stop offset=".544" stop-color="#c06479"/><stop offset=".629" stop-color="#b4607e"/><stop offset=".694" stop-color="#aa5d82"/><stop offset=".717" stop-color="#965689"/><stop offset=".769" stop-color="#513a9a"/><stop offset=".792" stop-color="#39339b"/><stop offset=".801" stop-color="#333297"/><stop offset=".82" stop-color="#232f7a"/><stop offset=".834" stop-color="#152b5d"/><stop offset=".853" stop-color="#102340"/><stop offset=".876" stop-color="#0e2033"/><stop offset="1" stop-color="#0d1f30"/></linearGradient>
<linearGradient id="c82" x2="0" y2="1"><stop offset="0" stop-color="#152b5c"/><stop offset=".03" stop-color="#10233e"/><stop offset=".049" stop-color="#10223d"/><stop offset=".096" stop-color="#142957"/><stop offset=".129" stop-color="#192c67"/><stop offset=".157" stop-color="#293085"/><stop offset=".171" stop-color="#343299"/><stop offset=".208" stop-color="#634197"/><stop offset=".259" stop-color="#ad5e81"/><stop offset=".278" stop-color="#b9627c"/><stop offset=".297" stop-color="#b6617d"/><stop offset=".343" stop-color="#9c5888"/><stop offset=".381" stop-color="#995788"/><stop offset=".442" stop-color="#a95c83"/><stop offset=".507" stop-color="#c16479"/><stop offset=".558" stop-color="#c36578"/><stop offset=".689" stop-color="#aa5d82"/><stop offset=".713" stop-color="#995788"/><stop offset=".764" stop-color="#563c99"/><stop offset=".787" stop-color="#3b349b"/><stop offset=".797" stop-color="#343299"/><stop offset=".82" stop-color="#212e76"/><stop offset=".829" stop-color="#162c62"/><stop offset=".848" stop-color="#112443"/><stop offset=".867" stop-color="#0e2035"/><stop offset=".928" stop-color="#0e1f30"/><stop offset="1" stop-color="#0d1f30"/></linearGradient>
<linearGradient id="c83" x2="0" y2="1"><stop offset="0" stop-color="#142a59"/><stop offset=".007" stop-color="#132853"/><stop offset=".026" stop-color="#0f223c"/><stop offset=".04" stop-color="#0f2036"/><stop offset=".058" stop-color="#102341"/><stop offset=".091" stop-color="#152a5a"/><stop offset=".129" stop-color="#1b2d6b"/><stop offset=".157" stop-color="#2a3087"/><stop offset=".171" stop-color="#35329b"/><stop offset=".199" stop-color="#583c99"/><stop offset=".227" stop-color="#86508d"/><stop offset=".255" stop-color="#c26578"/><stop offset=".273" stop-color="#dd7064"/><stop offset=".287" stop-color="#e3735f"/><stop offset=".306" stop-color="#da6e66"/><stop offset=".334" stop-color="#b9627c"/><stop offset=".357" stop-color="#a45b84"/><stop offset=".39" stop-color="#9d5987"/><stop offset=".47" stop-color="#b05f80"/><stop offset=".526" stop-color="#c26478"/><stop offset=".582" stop-color="#c46577"/><stop offset=".657" stop-color="#b4607e"/><stop offset=".699" stop-color="#a45b85"/><stop offset=".727" stop-color="#88518d"/><stop offset=".769" stop-color="#4e399a"/><stop offset=".792" stop-color="#36329b"/><stop offset=".811" stop-color="#282f83"/><stop offset=".829" stop-color="#152b5e"/><stop offset=".848" stop-color="#102341"/><stop offset=".871" stop-color="#0e2033"/><stop offset="1" stop-color="#0d1f30"/></linearGradient>
<linearGradient id="c84" x2="0" y2="1"><stop offset="0" stop-color="#142956"/><stop offset=".002" stop-color="#142956"/><stop offset=".021" stop-color="#0f223a"/><stop offset=".035" stop-color="#0e1f30"/><stop offset=".049" stop-color="#0e2036"/><stop offset=".086" stop-color="#152a5c"/><stop offset=".138" stop-color="#212e76"/><stop offset=".171" stop-color="#35329b"/><stop offset=".199" stop-color="#553c99"/><stop offset=".222" stop-color="#7b4c90"/><stop offset=".241" stop-color="#a55b84"/><stop offset=".25" stop-color="#bf637a"/><stop offset=".264" stop-color="#e17161"/><stop offset=".278" stop-color="#f2864a"/><stop offset=".287" stop-color="#f78f44"/><stop offset=".301" stop-color="#f78f44"/><stop offset=".315" stop-color="#ef834e"/><stop offset=".334" stop-color="#d86d68"/><stop offset=".353" stop-color="#bb627b"/><stop offset=".371" stop-color="#a85c83"/><stop offset=".4" stop-color="#a15a86"/><stop offset=".484" stop-color="#b15f7f"/><stop offset=".563" stop-color="#c56676"/><stop offset=".619" stop-color="#c36577"/><stop offset=".689" stop-color="#aa5d82"/><stop offset=".717" stop-color="#92558a"/><stop offset=".769" stop-color="#4d399a"/><stop offset=".792" stop-color="#35329b"/><stop offset=".815" stop-color="#212e77"/><stop offset=".829" stop-color="#152a5b"/><stop offset=".848" stop-color="#10233f"/><stop offset=".871" stop-color="#0e2033"/><stop offset="1" stop-color="#0d1f30"/></linearGradient>
<linearGradient id="c85" x2="0" y2="1"><stop offset="0" stop-color="#132853"/><stop offset=".002" stop-color="#132853"/><stop offset=".026" stop-color="#0e1f30"/><stop offset=".044" stop-color="#0d1e2e"/><stop offset=".082" stop-color="#152b5c"/><stop offset=".11" stop-color="#1c2d6d"/><stop offset=".143" stop-color="#252f7e"/><stop offset=".171" stop-color="#34329a"/><stop offset=".203" stop-color="#563c99"/><stop offset=".231" stop-color="#834f8e"/><stop offset=".25" stop-color="#b15f7f"/><stop offset=".259" stop-color="#cc6871"/><stop offset=".269" stop-color="#e3745e"/><stop offset=".283" stop-color="#f68d44"/><stop offset=".297" stop-color="#f99f40"/><stop offset=".311" stop-color="#f99e40"/><stop offset=".325" stop-color="#f68c45"/><stop offset=".343" stop-color="#e07162"/><stop offset=".367" stop-color="#ba627c"/><stop offset=".386" stop-color="#a85c83"/><stop offset=".414" stop-color="#a35b85"/><stop offset=".521" stop-color="#b6617d"/><stop offset=".586" stop-color="#c66675"/><stop offset=".633" stop-color="#c46577"/><stop offset=".694" stop-color="#aa5d82"/><stop offset=".727" stop-color="#87508d"/><stop offset=".769" stop-color="#4c399a"/><stop offset=".787" stop-color="#37339b"/><stop offset=".801" stop-color="#2c308b"/><stop offset=".829" stop-color="#142957"/><stop offset=".848" stop-color="#10223e"/><stop offset=".867" stop-color="#0e2034"/><stop offset=".942" stop-color="#0d1f30"/><stop offset="1" stop-color="#0d1f30"/></linearGradient>
<linearGradient id="c86" x2="0" y2="1"><stop offset="0" stop-color="#132750"/><stop offset=".002" stop-color="#132750"/><stop offset=".021" stop-color="#0e1f31"/><stop offset=".03" stop-color="#0d1e2d"/><stop offset=".049" stop-color="#0e1f30"/><stop offset=".082" stop-color="#162c60"/><stop offset=".105" stop-color="#1e2e71"/><stop offset=".143" stop-color="#272f81"/><stop offset=".171" stop-color="#34329a"/><stop offset=".208" stop-color="#553c99"/><stop offset=".236" stop-color="#7c4c90"/><stop offset=".255" stop-color="#a25a85"/><stop offset=".269" stop-color="#c76675"/><stop offset=".283" stop-color="#e5765b"/><stop offset=".297" stop-color="#f58a46"/><stop offset=".311" stop-color="#f79542"/><stop offset=".325" stop-color="#f68e44"/><stop offset=".339" stop-color="#ec7e52"/><stop offset=".353" stop-color="#da6e66"/><stop offset=".371" stop-color="#bd637b"/><stop offset=".39" stop-color="#aa5d82"/><stop offset=".418" stop-color="#a45b85"/><stop offset=".53" stop-color="#b4607e"/><stop offset=".605" stop-color="#c76675"/><stop offset=".647" stop-color="#c46577"/><stop offset=".689" stop-color="#b05f80"/><stop offset=".717" stop-color="#955689"/><stop offset=".764" stop-color="#523b9a"/><stop offset=".787" stop-color="#36329b"/><stop offset=".811" stop-color="#222e78"/><stop offset=".825" stop-color="#152a5c"/><stop offset=".843" stop-color="#102341"/><stop offset=".867" stop-color="#0e2033"/><stop offset="1" stop-color="#0d1f30"/></linearGradient>
<linearGradient id="c87" x2="0" y2="1"><stop offset="0" stop-color="#13274f"/><stop offset=".002" stop-color="#13274f"/><stop offset=".021" stop-color="#0d1f2f"/><stop offset=".044" stop-color="#0d1e2d"/><stop offset=".054" stop-color="#0f2137"/><stop offset=".082" stop-color="#172c64"/><stop offset=".1" stop-color="#202e74"/><stop offset=".147" stop-color="#2b3088"/><stop offset=".171" stop-color="#35329b"/><stop offset=".217" stop-color="#583c99"/><stop offset=".245" stop-color="#784a91"/><stop offset=".273" stop-color="#aa5d82"/><stop offset=".297" stop-color="#d76d69"/><stop offset=".311" stop-color="#e5765c"/><stop offset=".329" stop-color="#e77959"/><stop offset=".348" stop-color="#db6e66"/><stop offset=".376" stop-color="#b8617c"/><stop offset=".4" stop-color="#a75c83"/><stop offset=".432" stop-color="#a45b85"/><stop offset=".558" stop-color="#b8617c"/><stop offset=".629" stop-color="#c86774"/><stop offset=".666" stop-color="#c06479"/><stop offset=".699" stop-color="#ad5e81"/><stop offset=".736" stop-color="#7d4c8f"/><stop offset=".764" stop-color="#523b9a"/><stop offset=".787" stop-color="#35329a"/><stop offset=".811" stop-color="#202e74"/><stop offset=".825" stop-color="#142958"/><stop offset=".843" stop-color="#10233f"/><stop offset=".867" stop-color="#0e2033"/><stop offset="1" stop-color="#0d1f30"/></linearGradient>
<linearGradient id="c88" x2="0" y2="1"><stop offset="0" stop-color="#13274f"/><stop offset=".002" stop-color="#13274f"/><stop offset=".021" stop-color="#0d1f2f"/><stop offset=".044" stop-color="#0d1e2d"/><stop offset=".054" stop-color="#0f2138"/><stop offset=".082" stop-color="#1a2d69"/><stop offset=".1" stop-color="#232e79"/><stop offset=".152" stop-color="#2e318f"/><stop offset=".171" stop-color="#36329b"/><stop offset=".227" stop-color="#593d99"/><stop offset=".264" stop-color="#7d4d8f"/><stop offset=".311" stop-color="#bc637b"/><stop offset=".329" stop-color="#c96773"/><stop offset=".353" stop-color="#c46577"/><stop offset=".395" stop-color="#a85c83"/><stop offset=".432" stop-color="#a35b85"/><stop offset=".577" stop-color="#ba627c"/><stop offset=".633" stop-color="#c66675"/><stop offset=".671" stop-color="#c06479"/><stop offset=".699" stop-color="#b15f80"/><stop offset=".727" stop-color="#8d538b"/><stop offset=".764" stop-color="#533b9a"/><stop offset=".787" stop-color="#343299"/><stop offset=".815" stop-color="#192d67"/><stop offset=".834" stop-color="#122548"/><stop offset=".853" stop-color="#0f2138"/><stop offset=".886" stop-color="#0e1f31"/><stop offset="1" stop-color="#0d1f30"/></linearGradient>
<linearGradient id="c89" x2="0" y2="1"><stop offset="0" stop-color="#132750"/><stop offset=".002" stop-color="#132750"/><stop offset=".021" stop-color="#0e1f31"/><stop offset=".03" stop-color="#0d1e2d"/><stop offset=".044" stop-color="#0d1e2f"/><stop offset=".063" stop-color="#12264d"/><stop offset=".082" stop-color="#1c2d6d"/><stop offset=".1" stop-color="#252f7e"/><stop offset=".157" stop-color="#323195"/><stop offset=".171" stop-color="#37339b"/><stop offset=".241" stop-color="#5d3e99"/><stop offset=".278" stop-color="#784a91"/><stop offset=".325" stop-color="#a35b85"/><stop offset=".348" stop-color="#ad5e81"/><stop offset=".423" stop-color="#a25a86"/><stop offset=".498" stop-color="#aa5d82"/><stop offset=".638" stop-color="#c46576"/><stop offset=".685" stop-color="#bc627b"/><stop offset=".708" stop-color="#a95d82"/><stop offset=".745" stop-color="#734892"/><stop offset=".769" stop-color="#4d399a"/><stop offset=".787" stop-color="#343299"/><stop offset=".82" stop-color="#152a5c"/><stop offset=".839" stop-color="#102341"/><stop offset=".862" stop-color="#0e2034"/><stop offset=".937" stop-color="#0d1f30"/><stop offset="1" stop-color="#0d1f30"/></linearGradient>
<linearGradient id="c90" x2="0" y2="1"><stop offset="0" stop-color="#132852"/><stop offset=".007" stop-color="#12264b"/><stop offset=".026" stop-color="#0e1f31"/><stop offset=".035" stop-color="#0d1e2e"/><stop offset=".049" stop-color="#0f2139"/><stop offset=".077" stop-color="#1a2d6a"/><stop offset=".096" stop-color="#262f7f"/><stop offset=".171" stop-color="#38339b"/><stop offset=".273" stop-color="#684396"/><stop offset=".343" stop-color="#965689"/><stop offset=".381" stop-color="#a05a86"/><stop offset=".484" stop-color="#a65b84"/><stop offset=".638" stop-color="#c36578"/><stop offset=".685" stop-color="#bb627b"/><stop offset=".703" stop-color="#b05f80"/><stop offset=".736" stop-color="#844f8e"/><stop offset=".769" stop-color="#4e3a9a"/><stop offset=".787" stop-color="#343299"/><stop offset=".82" stop-color="#152a5a"/><stop offset=".839" stop-color="#102340"/><stop offset=".862" stop-color="#0e2034"/><stop offset=".937" stop-color="#0d1f30"/><stop offset="1" stop-color="#0d1f30"/></linearGradient>
<linearGradient id="c91" x2="0" y2="1"><stop offset="0" stop-color="#142955"/><stop offset=".007" stop-color="#13274e"/><stop offset=".026" stop-color="#0f2137"/><stop offset=".04" stop-color="#0f2036"/><stop offset=".054" stop-color="#112546"/><stop offset=".072" stop-color="#182c66"/><stop offset=".091" stop-color="#252f7e"/><stop offset=".124" stop-color="#2d308c"/><stop offset=".166" stop-color="#37329b"/><stop offset=".287" stop-color="#684396"/><stop offset=".371" stop-color="#965689"/><stop offset=".432" stop-color="#a35a85"/><stop offset=".502" stop-color="#a85c83"/><stop offset=".605" stop-color="#bf637a"/><stop offset=".657" stop-color="#c06479"/><stop offset=".694" stop-color="#b6617d"/><stop offset=".713" stop-color="#a65b84"/><stop offset=".755" stop-color="#674396"/><stop offset=".787" stop-color="#34329a"/><stop offset=".815" stop-color="#162c61"/><stop offset=".834" stop-color="#112444"/><stop offset=".857" stop-color="#0e2035"/><stop offset=".918" stop-color="#0e1f30"/><stop offset="1" stop-color="#0d1f30"/></linearGradient>
<linearGradient id="c92" x2="0" y2="1"><stop offset="0" stop-color="#142a59"/><stop offset=".007" stop-color="#132852"/><stop offset=".026" stop-color="#10223e"/><stop offset=".04" stop-color="#10223e"/><stop offset=".054" stop-color="#12264d"/><stop offset=".072" stop-color="#1a2d6a"/><stop offset=".091" stop-color="#262f80"/><stop offset=".124" stop-color="#2d318d"/><stop offset=".171" stop-color="#38339b"/><stop offset=".301" stop-color="#684396"/><stop offset=".404" stop-color="#9d5987"/><stop offset=".446" stop-color="#a55b84"/><stop offset=".512" stop-color="#aa5d82"/><stop offset=".605" stop-color="#c06479"/><stop offset=".657" stop-color="#c06479"/><stop offset=".694" stop-color="#b6617d"/><stop offset=".713" stop-color="#a65b84"/><stop offset=".755" stop-color="#674396"/><stop offset=".787" stop-color="#34329a"/><stop offset=".815" stop-color="#162b60"/><stop offset=".834" stop-color="#112443"/><stop offset=".853" stop-color="#0f2036"/><stop offset=".904" stop-color="#0e1f30"/><stop offset="1" stop-color="#0d1f30"/></linearGradient>
<linearGradient id="c93" x2="0" y2="1"><stop offset="0" stop-color="#152b5c"/><stop offset=".026" stop-color="#112445"/><stop offset=".04" stop-color="#112445"/><stop offset=".058" stop-color="#152a59"/><stop offset=".082" stop-color="#222e79"/><stop offset=".105" stop-color="#2b3088"/><stop offset=".171" stop-color="#36329b"/><stop offset=".315" stop-color="#684396"/><stop offset=".39" stop-color="#92548a"/><stop offset=".432" stop-color="#a45b84"/><stop offset=".535" stop-color="#b05f80"/><stop offset=".624" stop-color="#c36577"/><stop offset=".68" stop-color="#bc627b"/><stop offset=".703" stop-color="#b05f80"/><stop offset=".736" stop-color="#85508d"/><stop offset=".769" stop-color="#503a9a"/><stop offset=".787" stop-color="#343299"/><stop offset=".815" stop-color="#152b5e"/><stop offset=".834" stop-color="#112443"/><stop offset=".857" stop-color="#0e2034"/><stop offset=".942" stop-color="#0d1f30"/><stop offset="1" stop-color="#0d1f30"/></linearGradient>
<linearGradient id="c94" x2="0" y2="1"><stop offset="0" stop-color="#162b60"/><stop offset=".026" stop-color="#12264b"/><stop offset=".04" stop-color="#12264c"/><stop offset=".058" stop-color="#152b5e"/><stop offset=".086" stop-color="#252f7e"/><stop offset=".124" stop-color="#2c308b"/><stop offset=".185" stop-color="#37339b"/><stop offset=".329" stop-color="#684396"/><stop offset=".39" stop-color="#8b528c"/><stop offset=".442" stop-color="#a65b84"/><stop offset=".568" stop-color="#b9617c"/><stop offset=".638" stop-color="#c56676"/><stop offset=".689" stop-color="#ba627c"/><stop offset=".708" stop-color="#ac5d81"/><stop offset=".741" stop-color="#7d4c8f"/><stop offset=".764" stop-color="#563c99"/><stop offset=".783" stop-color="#38339b"/><stop offset=".792" stop-color="#2d318d"/><stop offset=".815" stop-color="#152b5d"/><stop offset=".834" stop-color="#112342"/><stop offset=".857" stop-color="#0e2034"/><stop offset=".942" stop-color="#0d1f30"/><stop offset="1" stop-color="#0d1f30"/></linearGradient>
<linearGradient id="c95" x2="0" y2="1"><stop offset="0" stop-color="#162c63"/><stop offset=".026" stop-color="#132751"/><stop offset=".044" stop-color="#142854"/><stop offset=".068" stop-color="#1b2d6c"/><stop offset=".096" stop-color="#272f81"/><stop offset=".171" stop-color="#313193"/><stop offset=".203" stop-color="#39339b"/><stop offset=".348" stop-color="#6a4495"/><stop offset=".442" stop-color="#a25a85"/><stop offset=".488" stop-color="#b15f7f"/><stop offset=".591" stop-color="#be637a"/><stop offset=".643" stop-color="#c66675"/><stop offset=".689" stop-color="#bc637b"/><stop offset=".708" stop-color="#ad5e81"/><stop offset=".741" stop-color="#7c4c8f"/><stop offset=".764" stop-color="#543b99"/><stop offset=".783" stop-color="#36329b"/><stop offset=".811" stop-color="#172c63"/><stop offset=".829" stop-color="#112546"/><stop offset=".853" stop-color="#0e2035"/><stop offset=".928" stop-color="#0e1f30"/><stop offset="1" stop-color="#0d1f30"/></linearGradient>
<linearGradient id="c96" x2="0" y2="1"><stop offset="0" stop-color="#182c65"/><stop offset=".03" stop-color="#142854"/><stop offset=".049" stop-color="#152a5b"/><stop offset=".068" stop-color="#1b2d6c"/><stop offset=".091" stop-color="#242f7c"/><stop offset=".18" stop-color="#2e318e"/><stop offset=".217" stop-color="#38339b"/><stop offset=".353" stop-color="#684396"/><stop offset=".414" stop-color="#8b528c"/><stop offset=".479" stop-color="#af5e80"/><stop offset=".54" stop-color="#ba627c"/><stop offset=".652" stop-color="#c66675"/><stop offset=".689" stop-color="#be637a"/><stop offset=".708" stop-color="#af5e80"/><stop offset=".745" stop-color="#744992"/><stop offset=".769" stop-color="#4a389a"/><stop offset=".783" stop-color="#343299"/><stop offset=".811" stop-color="#162c60"/><stop offset=".829" stop-color="#112444"/><stop offset=".853" stop-color="#0e2035"/><stop offset=".928" stop-color="#0e1f30"/><stop offset="1" stop-color="#0d1f30"/></linearGradient>
<linearGradient id="c97" x2="0" y2="1"><stop offset="0" stop-color="#182c66"/><stop offset=".026" stop-color="#142957"/><stop offset=".049" stop-color="#152a5c"/><stop offset=".086" stop-color="#212e76"/><stop offset=".171" stop-color="#272f81"/><stop offset=".231" stop-color="#37339b"/><stop offset=".348" stop-color="#634197"/><stop offset=".4" stop-color="#7c4c90"/><stop offset=".493" stop-color="#b25f7f"/><stop offset=".549" stop-color="#be637a"/><stop offset=".652" stop-color="#c66675"/><stop offset=".689" stop-color="#bf647a"/><stop offset=".708" stop-color="#b05f80"/><stop offset=".741" stop-color="#7d4c8f"/><stop offset=".764" stop-color="#523b9a"/><stop offset=".778" stop-color="#39339b"/><stop offset=".787" stop-color="#2d308c"/><stop offset=".811" stop-color="#152b5d"/><stop offset=".829" stop-color="#112443"/><stop offset=".853" stop-color="#0e2035"/><stop offset=".914" stop-color="#0e1f30"/><stop offset="1" stop-color="#0d1f30"/></linearGradient>
<linearGradient id="c98" x2="0" y2="1"><stop offset="0" stop-color="#192d67"/><stop offset=".026" stop-color="#142a59"/><stop offset=".044" stop-color="#152a5a"/><stop offset=".086" stop-color="#1f2e72"/><stop offset=".161" stop-color="#1f2e73"/><stop offset=".213" stop-color="#2a3087"/><stop offset=".245" stop-color="#36329b"/><stop offset=".367" stop-color="#674396"/><stop offset=".479" stop-color="#a45b85"/><stop offset=".526" stop-color="#bb627b"/><stop offset=".582" stop-color="#c46577"/><stop offset=".657" stop-color="#c66675"/><stop offset=".694" stop-color="#bc637b"/><stop offset=".713" stop-color="#aa5d82"/><stop offset=".75" stop-color="#6b4495"/><stop offset=".778" stop-color="#37339b"/><stop offset=".806" stop-color="#172c63"/><stop offset=".825" stop-color="#112547"/><stop offset=".848" stop-color="#0f2036"/><stop offset=".904" stop-color="#0e1f30"/><stop offset="1" stop-color="#0d1f30"/></linearGradient>
<linearGradient id="c99" x2="0" y2="1"><stop offset="0" stop-color="#192d67"/><stop offset=".026" stop-color="#142a59"/><stop offset=".044" stop-color="#152a5a"/><stop offset=".082" stop-color="#1c2d6d"/><stop offset=".119" stop-color="#1a2d6a"/><stop offset=".161" stop-color="#182c66"/><stop offset=".203" stop-color="#202e74"/><stop offset=".264" stop-color="#37339b"/><stop offset=".381" stop-color="#6b4595"/><stop offset=".484" stop-color="#9f5987"/><stop offset=".544" stop-color="#bf637a"/><stop offset=".61" stop-color="#c96773"/><stop offset=".675" stop-color="#c26478"/><stop offset=".699" stop-color="#b7617d"/><stop offset=".717" stop-color="#a25a86"/><stop offset=".759" stop-color="#593d99"/><stop offset=".778" stop-color="#36329b"/><stop offset=".806" stop-color="#162c61"/><stop offset=".825" stop-color="#112446"/><stop offset=".843" stop-color="#0f2138"/><stop offset=".881" stop-color="#0e1f31"/><stop offset="1" stop-color="#0d1f30"/></linearGradient>
<linearGradient id="c100" x2="0" y2="1"><stop offset="0" stop-color="#182c66"/><stop offset=".03" stop-color="#142956"/><stop offset=".054" stop-color="#152b5e"/><stop offset=".082" stop-color="#1b2d6b"/><stop offset=".11" stop-color="#192c67"/><stop offset=".157" stop-color="#152a5a"/><stop offset=".194" stop-color="#162b5f"/><stop offset=".231" stop-color="#222e78"/><stop offset=".278" stop-color="#37329b"/><stop offset=".376" stop-color="#674296"/><stop offset=".488" stop-color="#9a5888"/><stop offset=".563" stop-color="#c36578"/><stop offset=".624" stop-color="#cc6871"/><stop offset=".685" stop-color="#bd637a"/><stop offset=".708" stop-color="#ac5d82"/><stop offset=".745" stop-color="#724793"/><stop offset=".773" stop-color="#3d349b"/><stop offset=".778" stop-color="#35329b"/><stop offset=".806" stop-color="#162b60"/><stop offset=".825" stop-color="#112445"/><stop offset=".848" stop-color="#0e2036"/><stop offset=".904" stop-color="#0e1f30"/><stop offset="1" stop-color="#0d1f30"/></linearGradient>
<linearGradient id="c101" x2="0" y2="1"><stop offset="0" stop-color="#182c65"/><stop offset=".03" stop-color="#142854"/><stop offset=".054" stop-color="#152a5c"/><stop offset=".082" stop-color="#1b2d6b"/><stop offset=".11" stop-color="#172c64"/><stop offset=".161" stop-color="#13274e"/><stop offset=".194" stop-color="#132750"/><stop offset=".227" stop-color="#172c63"/><stop offset=".287" stop-color="#34329a"/><stop offset=".386" stop-color="#684396"/><stop offset=".512" stop-color="#a05a86"/><stop offset=".572" stop-color="#c36578"/><stop offset=".619" stop-color="#cd6970"/><stop offset=".657" stop-color="#c76674"/><stop offset=".699" stop-color="#b3607f"/><stop offset=".727" stop-color="#8f538b"/><stop offset=".764" stop-color="#4e3a9a"/><stop offset=".778" stop-color="#35329b"/><stop offset=".806" stop-color="#162c61"/><stop offset=".825" stop-color="#112445"/><stop offset=".848" stop-color="#0e2036"/><stop offset=".904" stop-color="#0e1f30"/><stop offset="1" stop-color="#0d1f30"/></linearGradient>
<linearGradient id="c102" x2="0" y2="1"><stop offset="0" stop-color="#162c63"/><stop offset=".026" stop-color="#132852"/><stop offset=".044" stop-color="#142854"/><stop offset=".082" stop-color="#1b2d6c"/><stop offset=".105" stop-color="#182c67"/><stop offset=".166" stop-color="#112444"/><stop offset=".194" stop-color="#112442"/><stop offset=".222" stop-color="#13274f"/><stop offset=".25" stop-color="#192d68"/><stop offset=".301" stop-color="#35329b"/><stop offset=".4" stop-color="#6c4595"/><stop offset=".526" stop-color="#a25a85"/><stop offset=".591" stop-color="#c66676"/><stop offset=".633" stop-color="#ce6970"/><stop offset=".68" stop-color="#be637a"/><stop offset=".703" stop-color="#ad5e81"/><stop offset=".741" stop-color="#774a91"/><stop offset=".764" stop-color="#4e399a"/><stop offset=".778" stop-color="#35329b"/><stop offset=".806" stop-color="#162c61"/><stop offset=".825" stop-color="#112546"/><stop offset=".843" stop-color="#0f2138"/><stop offset=".881" stop-color="#0e1f31"/><stop offset="1" stop-color="#0d1f30"/></linearGradient>
<linearGradient id="c103" x2="0" y2="1"><stop offset="0" stop-color="#162b60"/><stop offset=".026" stop-color="#12274d"/><stop offset=".044" stop-color="#132751"/><stop offset=".077" stop-color="#1b2d6c"/><stop offset=".096" stop-color="#1c2d6e"/><stop offset=".152" stop-color="#122549"/><stop offset=".185" stop-color="#0f2138"/><stop offset=".213" stop-color="#0f223b"/><stop offset=".241" stop-color="#13274e"/><stop offset=".269" stop-color="#1b2d6c"/><stop offset=".311" stop-color="#34329a"/><stop offset=".4" stop-color="#684396"/><stop offset=".507" stop-color="#965689"/><stop offset=".61" stop-color="#c86774"/><stop offset=".643" stop-color="#cc6871"/><stop offset=".685" stop-color="#bb627b"/><stop offset=".708" stop-color="#a65c84"/><stop offset=".745" stop-color="#6e4694"/><stop offset=".764" stop-color="#4d399a"/><stop offset=".778" stop-color="#35329b"/><stop offset=".806" stop-color="#162c62"/><stop offset=".825" stop-color="#112546"/><stop offset=".848" stop-color="#0f2036"/><stop offset=".904" stop-color="#0e1f30"/><stop offset="1" stop-color="#0d1f30"/></linearGradient>
<linearGradient id="c104" x2="0" y2="1"><stop offset="0" stop-color="#152b5d"/><stop offset=".026" stop-color="#122548"/><stop offset=".044" stop-color="#12264d"/><stop offset=".077" stop-color="#1d2d6e"/><stop offset=".096" stop-color="#1f2e72"/><stop offset=".124" stop-color="#162c63"/><stop offset=".18" stop-color="#0f2137"/><stop offset=".208" stop-color="#0e1f31"/><stop offset=".231" stop-color="#0f2139"/><stop offset=".269" stop-color="#152a5c"/><stop offset=".32" stop-color="#343299"/><stop offset=".4" stop-color="#644197"/><stop offset=".502" stop-color="#93558a"/><stop offset=".614" stop-color="#c56676"/><stop offset=".643" stop-color="#c96773"/><stop offset=".685" stop-color="#bb627c"/><stop offset=".708" stop-color="#a65b84"/><stop offset=".745" stop-color="#6e4694"/><stop offset=".764" stop-color="#4d399a"/><stop offset=".778" stop-color="#36329b"/><stop offset=".806" stop-color="#162c62"/><stop offset=".825" stop-color="#112547"/><stop offset=".848" stop-color="#0f2036"/><stop offset=".904" stop-color="#0e1f30"/><stop offset="1" stop-color="#0d1f30"/></linearGradient>
<linearGradient id="c105" x2="0" y2="1"><stop offset="0" stop-color="#152a5a"/><stop offset=".026" stop-color="#112443"/><stop offset=".04" stop-color="#112445"/><stop offset=".072" stop-color="#1b2d6c"/><stop offset=".091" stop-color="#222e77"/><stop offset=".11" stop-color="#202e74"/><stop offset=".157" stop-color="#13274f"/><stop offset=".194" stop-color="#0e2033"/><stop offset=".217" stop-color="#0d1e2e"/><stop offset=".241" stop-color="#0f2036"/><stop offset=".273" stop-color="#142854"/><stop offset=".292" stop-color="#1b2d6c"/><stop offset=".329" stop-color="#343299"/><stop offset=".404" stop-color="#634197"/><stop offset=".507" stop-color="#945589"/><stop offset=".633" stop-color="#c56676"/><stop offset=".671" stop-color="#bf637a"/><stop offset=".699" stop-color="#af5e80"/><stop offset=".731" stop-color="#85508d"/><stop offset=".764" stop-color="#4e3a9a"/><stop offset=".778" stop-color="#36329b"/><stop offset=".806" stop-color="#172c63"/><stop offset=".825" stop-color="#112547"/><stop offset=".848" stop-color="#0f2036"/><stop offset=".914" stop-color="#0e1f30"/><stop offset="1" stop-color="#0d1f30"/></linearGradient>
<linearGradient id="c106" x2="0" y2="1"><stop offset="0" stop-color="#142957"/><stop offset=".007" stop-color="#132750"/><stop offset=".026" stop-color="#10223e"/><stop offset=".04" stop-color="#102340"/><stop offset=".063" stop-color="#162b5f"/><stop offset=".082" stop-color="#212e77"/><stop offset=".1" stop-color="#252f7d"/><stop offset=".129" stop-color="#1e2e71"/><stop offset=".166" stop-color="#132851"/><stop offset=".203" stop-color="#0e2035"/><stop offset=".231" stop-color="#0e1f30"/><stop offset=".259" stop-color="#10223e"/><stop offset=".287" stop-color="#152a5a"/><stop offset=".311" stop-color="#222e78"/><stop offset=".339" stop-color="#35329b"/><stop offset=".395" stop-color="#5c3e99"/><stop offset=".535" stop-color="#a05986"/><stop offset=".638" stop-color="#c16479"/><stop offset=".685" stop-color="#b6607e"/><stop offset=".708" stop-color="#a35b85"/><stop offset=".741" stop-color="#774a91"/><stop offset=".764" stop-color="#4f3a9a"/><stop offset=".778" stop-color="#38339b"/><stop offset=".787" stop-color="#2c308b"/><stop offset=".806" stop-color="#172c64"/><stop offset=".825" stop-color="#112547"/><stop offset=".848" stop-color="#0f2136"/><stop offset=".914" stop-color="#0e1f30"/><stop offset="1" stop-color="#0d1f30"/></linearGradient>
<linearGradient id="c107" x2="0" y2="1"><stop offset="0" stop-color="#142854"/><stop offset=".007" stop-color="#12264d"/><stop offset=".026" stop-color="#0f2138"/><stop offset=".04" stop-color="#0f223b"/><stop offset=".068" stop-color="#182c66"/><stop offset=".086" stop-color="#252f7d"/><stop offset=".105" stop-color="#282f83"/><stop offset=".138" stop-color="#202e75"/><stop offset=".175" stop-color="#142956"/><stop offset=".217" stop-color="#0f2139"/><stop offset=".245" stop-color="#0f2137"/><stop offset=".273" stop-color="#112445"/><stop offset=".306" stop-color="#192d68"/><stop offset=".348" stop-color="#36329b"/><stop offset=".4" stop-color="#5d3e99"/><stop offset=".558" stop-color="#aa5d82"/><stop offset=".633" stop-color="#bd637b"/><stop offset=".671" stop-color="#b7617d"/><stop offset=".699" stop-color="#a95d82"/><stop offset=".727" stop-color="#8b528c"/><stop offset=".764" stop-color="#513a9a"/><stop offset=".778" stop-color="#39339b"/><stop offset=".783" stop-color="#333297"/><stop offset=".811" stop-color="#152b5d"/><stop offset=".829" stop-color="#112443"/><stop offset=".853" stop-color="#0e2035"/><stop offset=".928" stop-color="#0e1f30"/><stop offset="1" stop-color="#0d1f30"/></linearGradient>
<linearGradient id="c108" x2="0" y2="1"><stop offset="0" stop-color="#132751"/><stop offset=".002" stop-color="#132751"/><stop offset=".021" stop-color="#0f2137"/><stop offset=".03" stop-color="#0e1f32"/><stop offset=".044" stop-color="#10223c"/><stop offset=".068" stop-color="#182c66"/><stop offset=".086" stop-color="#262f80"/><stop offset=".105" stop-color="#2b3088"/><stop offset=".138" stop-color="#262f7f"/><stop offset=".185" stop-color="#152b5d"/><stop offset=".227" stop-color="#112443"/><stop offset=".259" stop-color="#102341"/><stop offset=".287" stop-color="#13274f"/><stop offset=".315" stop-color="#1b2d6b"/><stop offset=".353" stop-color="#34329a"/><stop offset=".4" stop-color="#5a3d99"/><stop offset=".558" stop-color="#aa5d82"/><stop offset=".629" stop-color="#bc627b"/><stop offset=".675" stop-color="#b15f7f"/><stop offset=".703" stop-color="#a25a85"/><stop offset=".731" stop-color="#834f8e"/><stop offset=".764" stop-color="#513a9a"/><stop offset=".783" stop-color="#333298"/><stop offset=".811" stop-color="#152b5e"/><stop offset=".829" stop-color="#112443"/><stop offset=".857" stop-color="#0e2034"/><stop offset=".942" stop-color="#0d1f30"/><stop offset="1" stop-color="#0d1f30"/></linearGradient>
<linearGradient id="c109" x2="0" y2="1"><stop offset="0" stop-color="#13274e"/><stop offset=".002" stop-color="#13274e"/><stop offset=".021" stop-color="#0e1f33"/><stop offset=".03" stop-color="#0d1e2e"/><stop offset=".044" stop-color="#0f2138"/><stop offset=".068" stop-color="#182c65"/><stop offset=".086" stop-color="#272f82"/><stop offset=".105" stop-color="#2d308c"/><stop offset=".133" stop-color="#2b3089"/><stop offset=".18" stop-color="#1d2d70"/><stop offset=".217" stop-color="#142958"/><stop offset=".25" stop-color="#12264c"/><stop offset=".283" stop-color="#132750"/><stop offset=".315" stop-color="#182c66"/><stop offset=".362" stop-color="#36329b"/><stop offset=".414" stop-color="#603f98"/><stop offset=".558" stop-color="#aa5d82"/><stop offset=".619" stop-color="#bc627b"/><stop offset=".652" stop-color="#b8617d"/><stop offset=".699" stop-color="#a25a85"/><stop offset=".727" stop-color="#86508d"/><stop offset=".764" stop-color="#513a9a"/><stop offset=".783" stop-color="#343299"/><stop offset=".811" stop-color="#152b5f"/><stop offset=".829" stop-color="#112444"/><stop offset=".853" stop-color="#0e2035"/><stop offset=".928" stop-color="#0e1f30"/><stop offset="1" stop-color="#0d1f30"/></linearGradient>
<linearGradient id="c110" x2="0" y2="1"><stop offset="0" stop-color="#12264c"/><stop offset=".002" stop-color="#12264c"/><stop offset=".021" stop-color="#0d1f2f"/><stop offset=".04" stop-color="#0d1f2f"/><stop offset=".058" stop-color="#132750"/><stop offset=".072" stop-color="#1c2d6e"/><stop offset=".091" stop-color="#2b3088"/><stop offset=".11" stop-color="#2f3191"/><stop offset=".147" stop-color="#2d308c"/><stop offset=".241" stop-color="#152b5e"/><stop offset=".278" stop-color="#142a59"/><stop offset=".311" stop-color="#172c64"/><stop offset=".343" stop-color="#252f7d"/><stop offset=".371" stop-color="#37339b"/><stop offset=".428" stop-color="#654297"/><stop offset=".502" stop-color="#8d538b"/><stop offset=".591" stop-color="#b6617d"/><stop offset=".633" stop-color="#be637a"/><stop offset=".689" stop-color="#a65b84"/><stop offset=".717" stop-color="#8e538b"/><stop offset=".759" stop-color="#573c99"/><stop offset=".783" stop-color="#343299"/><stop offset=".811" stop-color="#162b60"/><stop offset=".829" stop-color="#112445"/><stop offset=".848" stop-color="#0f2137"/><stop offset=".9" stop-color="#0e1f30"/><stop offset="1" stop-color="#0d1f30"/></linearGradient>
<linearGradient id="c111" x2="0" y2="1"><stop offset="0" stop-color="#12264a"/><stop offset=".002" stop-color="#12264a"/><stop offset=".021" stop-color="#0d1e2d"/><stop offset=".04" stop-color="#0d1e2d"/><stop offset=".054" stop-color="#112444"/><stop offset=".072" stop-color="#1c2d6d"/><stop offset=".086" stop-color="#283084"/><stop offset=".105" stop-color="#303192"/><stop offset=".143" stop-color="#313193"/><stop offset=".208" stop-color="#242f7c"/><stop offset=".264" stop-color="#192d68"/><stop offset=".306" stop-color="#1a2d69"/><stop offset=".343" stop-color="#232f7a"/><stop offset=".376" stop-color="#34329a"/><stop offset=".437" stop-color="#674296"/><stop offset=".498" stop-color="#8c528c"/><stop offset=".61" stop-color="#bc627b"/><stop offset=".638" stop-color="#be637a"/><stop offset=".689" stop-color="#a55b84"/><stop offset=".722" stop-color="#87508d"/><stop offset=".764" stop-color="#4d399a"/><stop offset=".783" stop-color="#333298"/><stop offset=".811" stop-color="#162c60"/><stop offset=".829" stop-color="#112445"/><stop offset=".853" stop-color="#0e2036"/><stop offset=".904" stop-color="#0e1f30"/><stop offset="1" stop-color="#0d1f30"/></linearGradient>
<linearGradient id="c112" x2="0" y2="1"><stop offset="0" stop-color="#12264a"/><stop offset=".002" stop-color="#12264a"/><stop offset=".016" stop-color="#0e1f31"/><stop offset=".026" stop-color="#0d1e2d"/><stop offset=".04" stop-color="#0d1e2d"/><stop offset=".049" stop-color="#0f2139"/><stop offset=".068" stop-color="#162c62"/><stop offset=".086" stop-color="#283083"/><stop offset=".105" stop-color="#303192"/><stop offset=".143" stop-color="#333297"/><stop offset=".208" stop-color="#2a3087"/><stop offset=".278" stop-color="#202e75"/><stop offset=".329" stop-color="#212e77"/><stop offset=".362" stop-color="#2a3087"/><stop offset=".386" stop-color="#36329b"/><stop offset=".446" stop-color="#684396"/><stop offset=".493" stop-color="#89518c"/><stop offset=".61" stop-color="#bb627b"/><stop offset=".638" stop-color="#be637a"/><stop offset=".68" stop-color="#ab5d82"/><stop offset=".713" stop-color="#90548a"/><stop offset=".755" stop-color="#5a3d99"/><stop offset=".778" stop-color="#38339b"/><stop offset=".787" stop-color="#2e318d"/><stop offset=".811" stop-color="#162c60"/><stop offset=".829" stop-color="#112445"/><stop offset=".857" stop-color="#0e2034"/><stop offset=".956" stop-color="#0d1f30"/><stop offset="1" stop-color="#0d1f30"/></linearGradient>
<linearGradient id="c113" x2="0" y2="1"><stop offset="0" stop-color="#122549"/><stop offset=".002" stop-color="#122549"/><stop offset=".016" stop-color="#0e1f31"/><stop offset=".026" stop-color="#0d1e2d"/><stop offset=".044" stop-color="#0d1f30"/><stop offset=".072" stop-color="#1a2d69"/><stop offset=".091" stop-color="#2a3086"/><stop offset=".114" stop-color="#323195"/><stop offset=".161" stop-color="#333298"/><stop offset=".292" stop-color="#272f80"/><stop offset=".348" stop-color="#282f82"/><stop offset=".386" stop-color="#333297"/><stop offset=".404" stop-color="#3d349b"/><stop offset=".456" stop-color="#6a4495"/><stop offset=".512" stop-color="#92548a"/><stop offset=".605" stop-color="#b8617d"/><stop offset=".638" stop-color="#bd637b"/><stop offset=".68" stop-color="#ab5d82"/><stop offset=".713" stop-color="#90548a"/><stop offset=".755" stop-color="#593d99"/><stop offset=".778" stop-color="#37339b"/><stop offset=".806" stop-color="#1a2d6a"/><stop offset=".825" stop-color="#12264b"/><stop offset=".843" stop-color="#0f223a"/><stop offset=".881" stop-color="#0e1f31"/><stop offset="1" stop-color="#0d1f30"/></linearGradient>
<linearGradient id="c114" x2="0" y2="1"><stop offset="0" stop-color="#12264a"/><stop offset=".002" stop-color="#12264a"/><stop offset=".016" stop-color="#0e1f31"/><stop offset=".026" stop-color="#0d1e2d"/><stop offset=".044" stop-color="#0d1e2e"/><stop offset=".072" stop-color="#172c65"/><stop offset=".091" stop-color="#272f81"/><stop offset=".119" stop-color="#313193"/><stop offset=".166" stop-color="#34329a"/><stop offset=".306" stop-color="#2c308a"/><stop offset=".357" stop-color="#2d308b"/><stop offset=".4" stop-color="#37339b"/><stop offset=".432" stop-color="#4c399a"/><stop offset=".47" stop-color="#6e4694"/><stop offset=".516" stop-color="#92548a"/><stop offset=".582" stop-color="#b05f80"/><stop offset=".633" stop-color="#bb627b"/><stop offset=".671" stop-color="#af5e80"/><stop offset=".708" stop-color="#955689"/><stop offset=".745" stop-color="#674296"/><stop offset=".778" stop-color="#37339b"/><stop offset=".811" stop-color="#162c62"/><stop offset=".829" stop-color="#112547"/><stop offset=".853" stop-color="#0f2036"/><stop offset=".904" stop-color="#0e1f30"/><stop offset="1" stop-color="#0d1f30"/></linearGradient>
<linearGradient id="c115" x2="0" y2="1"><stop offset="0" stop-color="#12264b"/><stop offset=".002" stop-color="#12264b"/><stop offset=".021" stop-color="#0d1e2d"/><stop offset=".044" stop-color="#0d1e2e"/><stop offset=".077" stop-color="#182c66"/><stop offset=".096" stop-color="#252f7d"/><stop offset=".138" stop-color="#313194"/><stop offset=".185" stop-color="#35329b"/><stop offset=".334" stop-color="#2f3191"/><stop offset=".381" stop-color="#333298"/><stop offset=".418" stop-color="#3e359b"/><stop offset=".465" stop-color="#634197"/><stop offset=".53" stop-color="#965689"/><stop offset=".572" stop-color="#ac5d81"/><stop offset=".633" stop-color="#b9617c"/><stop offset=".675" stop-color="#ab5d82"/><stop offset=".708" stop-color="#955689"/><stop offset=".75" stop-color="#614098"/><stop offset=".778" stop-color="#38339b"/><stop offset=".787" stop-color="#2e318e"/><stop offset=".811" stop-color="#162c63"/><stop offset=".829" stop-color="#112547"/><stop offset=".853" stop-color="#0f2136"/><stop offset=".918" stop-color="#0e1f30"/><stop offset="1" stop-color="#0d1f30"/></linearGradient>
<linearGradient id="c116" x2="0" y2="1"><stop offset="0" stop-color="#12274d"/><stop offset=".002" stop-color="#12274d"/><stop offset=".021" stop-color="#0d1f2f"/><stop offset=".044" stop-color="#0d1e2e"/><stop offset=".086" stop-color="#192d68"/><stop offset=".129" stop-color="#293086"/><stop offset=".171" stop-color="#343298"/><stop offset=".236" stop-color="#35329b"/><stop offset=".348" stop-color="#333297"/><stop offset=".409" stop-color="#3c349b"/><stop offset=".442" stop-color="#4b399a"/><stop offset=".488" stop-color="#6f4694"/><stop offset=".554" stop-color="#a05986"/><stop offset=".6" stop-color="#b3607f"/><stop offset=".638" stop-color="#b7617d"/><stop offset=".689" stop-color="#a15a86"/><stop offset=".717" stop-color="#8b528c"/><stop offset=".764" stop-color="#4d399a"/><stop offset=".783" stop-color="#343299"/><stop offset=".815" stop-color="#152a5c"/><stop offset=".834" stop-color="#112443"/><stop offset=".857" stop-color="#0e2035"/><stop offset=".932" stop-color="#0e1f30"/><stop offset="1" stop-color="#0d1f30"/></linearGradient>
<linearGradient id="c117" x2="0" y2="1"><stop offset="0" stop-color="#132851"/><stop offset=".002" stop-color="#132851"/><stop offset=".021" stop-color="#0e2034"/><stop offset=".035" stop-color="#0d1e2d"/><stop offset=".049" stop-color="#0e2034"/><stop offset=".086" stop-color="#152b5d"/><stop offset=".138" stop-color="#252f7e"/><stop offset=".175" stop-color="#323195"/><stop offset=".213" stop-color="#36329b"/><stop offset=".357" stop-color="#36329b"/><stop offset=".432" stop-color="#46379a"/><stop offset=".488" stop-color="#684396"/><stop offset=".572" stop-color="#a55b84"/><stop offset=".619" stop-color="#b6607e"/><stop offset=".652" stop-color="#b15f7f"/><stop offset=".699" stop-color="#9a5888"/><stop offset=".727" stop-color="#804e8f"/><stop offset=".764" stop-color="#4e3a9a"/><stop offset=".783" stop-color="#35329b"/><stop offset=".815" stop-color="#152b5e"/><stop offset=".834" stop-color="#112444"/><stop offset=".857" stop-color="#0e2035"/><stop offset=".932" stop-color="#0e1f30"/><stop offset="1" stop-color="#0d1f30"/></linearGradient>
<linearGradient id="c118" x2="0" y2="1"><stop offset="0" stop-color="#142a59"/><stop offset=".002" stop-color="#142a59"/><stop offset=".021" stop-color="#10223c"/><stop offset=".035" stop-color="#0e2033"/><stop offset=".054" stop-color="#10223c"/><stop offset=".082" stop-color="#132852"/><stop offset=".124" stop-color="#162c61"/><stop offset=".18" stop-color="#2e318f"/><stop offset=".217" stop-color="#35329b"/><stop offset=".292" stop-color="#37329b"/><stop offset=".357" stop-color="#37339b"/><stop offset=".432" stop-color="#48389a"/><stop offset=".498" stop-color="#6a4495"/><stop offset=".586" stop-color="#a65b84"/><stop offset=".624" stop-color="#b4607e"/><stop offset=".652" stop-color="#b05f80"/><stop offset=".699" stop-color="#995788"/><stop offset=".731" stop-color="#7a4b90"/><stop offset=".764" stop-color="#4f3a9a"/><stop offset=".783" stop-color="#36329b"/><stop offset=".806" stop-color="#1e2e71"/><stop offset=".825" stop-color="#132750"/><stop offset=".843" stop-color="#10223d"/><stop offset=".871" stop-color="#0e1f32"/><stop offset="1" stop-color="#0d1f30"/></linearGradient>
<linearGradient id="c119" x2="0" y2="1"><stop offset="0" stop-color="#192d67"/><stop offset=".007" stop-color="#162b60"/><stop offset=".026" stop-color="#112546"/><stop offset=".044" stop-color="#10233f"/><stop offset=".082" stop-color="#13274f"/><stop offset=".119" stop-color="#132750"/><stop offset=".147" stop-color="#172c64"/><stop offset=".185" stop-color="#2a3087"/><stop offset=".222" stop-color="#343298"/><stop offset=".278" stop-color="#38339b"/><stop offset=".362" stop-color="#38339b"/><stop offset=".432" stop-color="#4a389a"/><stop offset=".507" stop-color="#6d4594"/><stop offset=".614" stop-color="#ad5e81"/><stop offset=".647" stop-color="#b05f80"/><stop offset=".694" stop-color="#9c5888"/><stop offset=".722" stop-color="#844f8e"/><stop offset=".764" stop-color="#4f3a9a"/><stop offset=".783" stop-color="#37339b"/><stop offset=".797" stop-color="#293086"/><stop offset=".815" stop-color="#162c61"/><stop offset=".834" stop-color="#112546"/><stop offset=".853" stop-color="#0f2138"/><stop offset=".89" stop-color="#0e1f31"/><stop offset="1" stop-color="#0d1f30"/></linearGradient>
<linearGradient id="c120" x2="0" y2="1"><stop offset="0" stop-color="#232f7b"/><stop offset=".016" stop-color="#1a2d6a"/><stop offset=".035" stop-color="#142957"/><stop offset=".054" stop-color="#132853"/><stop offset=".082" stop-color="#142854"/><stop offset=".119" stop-color="#122548"/><stop offset=".143" stop-color="#132852"/><stop offset=".171" stop-color="#1b2d6b"/><stop offset=".203" stop-color="#2a3086"/><stop offset=".25" stop-color="#343299"/><stop offset=".325" stop-color="#38339b"/><stop offset=".376" stop-color="#3b349b"/><stop offset=".432" stop-color="#4b399a"/><stop offset=".53" stop-color="#774a91"/><stop offset=".624" stop-color="#aa5d82"/><stop offset=".657" stop-color="#aa5d82"/><stop offset=".699" stop-color="#995788"/><stop offset=".736" stop-color="#744892"/><stop offset=".769" stop-color="#4a389a"/><stop offset=".787" stop-color="#333298"/><stop offset=".82" stop-color="#152a5b"/><stop offset=".839" stop-color="#112442"/><stop offset=".867" stop-color="#0e2033"/><stop offset="1" stop-color="#0d1f30"/></linearGradient>
<linearGradient id="c121" x2="0" y2="1"><stop offset="0" stop-color="#2b3088"/><stop offset=".03" stop-color="#232e7a"/><stop offset=".086" stop-color="#152b5d"/><stop offset=".119" stop-color="#122548"/><stop offset=".143" stop-color="#122548"/><stop offset=".189" stop-color="#1b2d6b"/><stop offset=".236" stop-color="#2b3089"/><stop offset=".287" stop-color="#35329b"/><stop offset=".395" stop-color="#3e359b"/><stop offset=".437" stop-color="#4d399a"/><stop offset=".498" stop-color="#6b4495"/><stop offset=".614" stop-color="#9e5987"/><stop offset=".647" stop-color="#a75c84"/><stop offset=".689" stop-color="#9d5987"/><stop offset=".717" stop-color="#89518c"/><stop offset=".764" stop-color="#513a9a"/><stop offset=".787" stop-color="#34329a"/><stop offset=".82" stop-color="#152b5c"/><stop offset=".839" stop-color="#112443"/><stop offset=".862" stop-color="#0e2035"/><stop offset=".937" stop-color="#0e1f30"/><stop offset="1" stop-color="#0d1f30"/></linearGradient>
<linearGradient id="c122" x2="0" y2="1"><stop offset="0" stop-color="#2a3087"/><stop offset=".044" stop-color="#2f3190"/><stop offset=".063" stop-color="#2b3089"/><stop offset=".105" stop-color="#152a5b"/><stop offset=".133" stop-color="#122548"/><stop offset=".157" stop-color="#122548"/><stop offset=".213" stop-color="#192d68"/><stop offset=".287" stop-color="#303192"/><stop offset=".325" stop-color="#36329b"/><stop offset=".414" stop-color="#42369a"/><stop offset=".493" stop-color="#6b4495"/><stop offset=".638" stop-color="#9f5986"/><stop offset=".68" stop-color="#9d5887"/><stop offset=".708" stop-color="#90548b"/><stop offset=".745" stop-color="#694495"/><stop offset=".773" stop-color="#46379a"/><stop offset=".787" stop-color="#35329b"/><stop offset=".82" stop-color="#152b5e"/><stop offset=".839" stop-color="#112444"/><stop offset=".862" stop-color="#0e2035"/><stop offset=".937" stop-color="#0e1f30"/><stop offset="1" stop-color="#0d1f30"/></linearGradient>
<linearGradient id="c123" x2="0" y2="1"><stop offset="0" stop-color="#252f7d"/><stop offset=".021" stop-color="#2a3086"/><stop offset=".044" stop-color="#35329b"/><stop offset=".063" stop-color="#38339b"/><stop offset=".072" stop-color="#34329a"/><stop offset=".1" stop-color="#202e75"/><stop offset=".119" stop-color="#152b5d"/><stop offset=".147" stop-color="#12264a"/><stop offset=".175" stop-color="#112547"/><stop offset=".222" stop-color="#142958"/><stop offset=".259" stop-color="#1d2d6f"/><stop offset=".32" stop-color="#313194"/><stop offset=".353" stop-color="#37339b"/><stop offset=".423" stop-color="#46379a"/><stop offset=".498" stop-color="#6e4694"/><stop offset=".572" stop-color="#89518c"/><stop offset=".647" stop-color="#9a5888"/><stop offset=".689" stop-color="#965689"/><stop offset=".717" stop-color="#86508d"/><stop offset=".759" stop-color="#593d99"/><stop offset=".787" stop-color="#37339b"/><stop offset=".801" stop-color="#293085"/><stop offset=".825" stop-color="#142958"/><stop offset=".843" stop-color="#102340"/><stop offset=".867" stop-color="#0e2034"/><stop offset=".951" stop-color="#0d1f30"/><stop offset="1" stop-color="#0d1f30"/></linearGradient>
<linearGradient id="c124" x2="0" y2="1"><stop offset="0" stop-color="#202e75"/><stop offset=".021" stop-color="#222e79"/><stop offset=".04" stop-color="#2c308b"/><stop offset=".054" stop-color="#35329b"/><stop offset=".072" stop-color="#3b349b"/><stop offset=".086" stop-color="#35329a"/><stop offset=".133" stop-color="#162b60"/><stop offset=".166" stop-color="#122549"/><stop offset=".199" stop-color="#102341"/><stop offset=".236" stop-color="#12264a"/><stop offset=".278" stop-color="#172c65"/><stop offset=".334" stop-color="#2e318e"/><stop offset=".362" stop-color="#36329b"/><stop offset=".437" stop-color="#4c399a"/><stop offset=".54" stop-color="#814e8e"/><stop offset=".614" stop-color="#93558a"/><stop offset=".661" stop-color="#955689"/><stop offset=".703" stop-color="#8c528c"/><stop offset=".741" stop-color="#6e4694"/><stop offset=".787" stop-color="#39339b"/><stop offset=".792" stop-color="#343299"/><stop offset=".82" stop-color="#162c62"/><stop offset=".839" stop-color="#112445"/><stop offset=".867" stop-color="#0e2034"/><stop offset=".965" stop-color="#0d1f30"/><stop offset="1" stop-color="#0d1f30"/></linearGradient>
<linearGradient id="c125" x2="0" y2="1"><stop offset="0" stop-color="#1f2e73"/><stop offset=".026" stop-color="#1f2e73"/><stop offset=".044" stop-color="#282f82"/><stop offset=".068" stop-color="#35329b"/><stop offset=".086" stop-color="#37339b"/><stop offset=".1" stop-color="#313194"/><stop offset=".152" stop-color="#162b5f"/><stop offset=".194" stop-color="#112342"/><stop offset=".227" stop-color="#0f2139"/><stop offset=".255" stop-color="#10233f"/><stop offset=".306" stop-color="#172c64"/><stop offset=".371" stop-color="#343299"/><stop offset=".442" stop-color="#4f3a9a"/><stop offset=".554" stop-color="#87508d"/><stop offset=".629" stop-color="#94558a"/><stop offset=".694" stop-color="#8b528c"/><stop offset=".727" stop-color="#784a91"/><stop offset=".769" stop-color="#4f3a9a"/><stop offset=".792" stop-color="#35329b"/><stop offset=".82" stop-color="#172c64"/><stop offset=".839" stop-color="#112547"/><stop offset=".857" stop-color="#0f2138"/><stop offset=".895" stop-color="#0e1f31"/><stop offset="1" stop-color="#0d1f30"/></linearGradient>
<linearGradient id="c126" x2="0" y2="1"><stop offset="0" stop-color="#202e74"/><stop offset=".03" stop-color="#1f2e73"/><stop offset=".082" stop-color="#333298"/><stop offset=".105" stop-color="#323195"/><stop offset=".147" stop-color="#212e75"/><stop offset=".175" stop-color="#152a5c"/><stop offset=".222" stop-color="#0f223a"/><stop offset=".25" stop-color="#0e2034"/><stop offset=".278" stop-color="#10223c"/><stop offset=".32" stop-color="#152a5b"/><stop offset=".362" stop-color="#283083"/><stop offset=".39" stop-color="#35329b"/><stop offset=".493" stop-color="#6a4495"/><stop offset=".572" stop-color="#8d538b"/><stop offset=".629" stop-color="#955589"/><stop offset=".699" stop-color="#85508d"/><stop offset=".736" stop-color="#6d4594"/><stop offset=".778" stop-color="#45379a"/><stop offset=".792" stop-color="#36329b"/><stop offset=".811" stop-color="#232e79"/><stop offset=".825" stop-color="#152b5d"/><stop offset=".843" stop-color="#112443"/><stop offset=".862" stop-color="#0f2036"/><stop offset=".914" stop-color="#0e1f30"/><stop offset="1" stop-color="#0d1f30"/></linearGradient>
<linearGradient id="c127" x2="0" y2="1"><stop offset="0" stop-color="#212e76"/><stop offset=".03" stop-color="#212e76"/><stop offset=".091" stop-color="#323196"/><stop offset=".124" stop-color="#303191"/><stop offset=".161" stop-color="#242f7b"/><stop offset=".199" stop-color="#152a5b"/><stop offset=".245" stop-color="#0f223a"/><stop offset=".278" stop-color="#0f2036"/><stop offset=".315" stop-color="#122548"/><stop offset=".353" stop-color="#192d68"/><stop offset=".404" stop-color="#35329b"/><stop offset=".479" stop-color="#644197"/><stop offset=".582" stop-color="#90548b"/><stop offset=".633" stop-color="#965689"/><stop offset=".703" stop-color="#814e8e"/><stop offset=".75" stop-color="#5f3f98"/><stop offset=".792" stop-color="#36329b"/><stop offset=".811" stop-color="#232f7b"/><stop offset=".825" stop-color="#152b5e"/><stop offset=".843" stop-color="#112443"/><stop offset=".867" stop-color="#0e2035"/><stop offset=".942" stop-color="#0e1f30"/><stop offset="1" stop-color="#0d1f30"/></linearGradient></defs>
<g clip-path="url(#cp)"><g filter="url(#bl)">
<rect x="-20.00" y="0" width="24.30" height="427.8" fill="url(#c0)"/>
<rect x="3.70" y="0" width="4.60" height="427.8" fill="url(#c1)"/>
<rect x="7.69" y="0" width="4.60" height="427.8" fill="url(#c2)"/>
<rect x="11.69" y="0" width="4.60" height="427.8" fill="url(#c3)"/>
<rect x="15.68" y="0" width="4.60" height="427.8" fill="url(#c4)"/>
<rect x="19.68" y="0" width="4.60" height="427.8" fill="url(#c5)"/>
<rect x="23.68" y="0" width="4.60" height="427.8" fill="url(#c6)"/>
<rect x="27.67" y="0" width="4.60" height="427.8" fill="url(#c7)"/>
<rect x="31.67" y="0" width="4.60" height="427.8" fill="url(#c8)"/>
<rect x="35.66" y="0" width="4.60" height="427.8" fill="url(#c9)"/>
<rect x="39.66" y="0" width="4.60" height="427.8" fill="url(#c10)"/>
<rect x="43.66" y="0" width="4.60" height="427.8" fill="url(#c11)"/>
<rect x="47.65" y="0" width="4.60" height="427.8" fill="url(#c12)"/>
<rect x="51.65" y="0" width="4.60" height="427.8" fill="url(#c13)"/>
<rect x="55.65" y="0" width="4.60" height="427.8" fill="url(#c14)"/>
<rect x="59.64" y="0" width="4.60" height="427.8" fill="url(#c15)"/>
<rect x="63.64" y="0" width="4.60" height="427.8" fill="url(#c16)"/>
<rect x="67.63" y="0" width="4.60" height="427.8" fill="url(#c17)"/>
<rect x="71.63" y="0" width="4.60" height="427.8" fill="url(#c18)"/>
<rect x="75.63" y="0" width="4.60" height="427.8" fill="url(#c19)"/>
<rect x="79.62" y="0" width="4.60" height="427.8" fill="url(#c20)"/>
<rect x="83.62" y="0" width="4.60" height="427.8" fill="url(#c21)"/>
<rect x="87.61" y="0" width="4.60" height="427.8" fill="url(#c22)"/>
<rect x="91.61" y="0" width="4.60" height="427.8" fill="url(#c23)"/>
<rect x="95.61" y="0" width="4.60" height="427.8" fill="url(#c24)"/>
<rect x="99.60" y="0" width="4.60" height="427.8" fill="url(#c25)"/>
<rect x="103.60" y="0" width="4.60" height="427.8" fill="url(#c26)"/>
<rect x="107.59" y="0" width="4.60" height="427.8" fill="url(#c27)"/>
<rect x="111.59" y="0" width="4.60" height="427.8" fill="url(#c28)"/>
<rect x="115.59" y="0" width="4.60" height="427.8" fill="url(#c29)"/>
<rect x="119.58" y="0" width="4.60" height="427.8" fill="url(#c30)"/>
<rect x="123.58" y="0" width="4.60" height="427.8" fill="url(#c31)"/>
<rect x="127.58" y="0" width="4.60" height="427.8" fill="url(#c32)"/>
<rect x="131.57" y="0" width="4.60" height="427.8" fill="url(#c33)"/>
<rect x="135.57" y="0" width="4.60" height="427.8" fill="url(#c34)"/>
<rect x="139.56" y="0" width="4.60" height="427.8" fill="url(#c35)"/>
<rect x="143.56" y="0" width="4.60" height="427.8" fill="url(#c36)"/>
<rect x="147.56" y="0" width="4.60" height="427.8" fill="url(#c37)"/>
<rect x="151.55" y="0" width="4.60" height="427.8" fill="url(#c38)"/>
<rect x="155.55" y="0" width="4.60" height="427.8" fill="url(#c39)"/>
<rect x="159.54" y="0" width="4.60" height="427.8" fill="url(#c40)"/>
<rect x="163.54" y="0" width="4.60" height="427.8" fill="url(#c41)"/>
<rect x="167.54" y="0" width="4.60" height="427.8" fill="url(#c42)"/>
<rect x="171.53" y="0" width="4.60" height="427.8" fill="url(#c43)"/>
<rect x="175.53" y="0" width="4.60" height="427.8" fill="url(#c44)"/>
<rect x="179.52" y="0" width="4.60" height="427.8" fill="url(#c45)"/>
<rect x="183.52" y="0" width="4.60" height="427.8" fill="url(#c46)"/>
<rect x="187.52" y="0" width="4.60" height="427.8" fill="url(#c47)"/>
<rect x="191.51" y="0" width="4.60" height="427.8" fill="url(#c48)"/>
<rect x="195.51" y="0" width="4.60" height="427.8" fill="url(#c49)"/>
<rect x="199.50" y="0" width="4.60" height="427.8" fill="url(#c50)"/>
<rect x="203.50" y="0" width="4.60" height="427.8" fill="url(#c51)"/>
<rect x="207.50" y="0" width="4.60" height="427.8" fill="url(#c52)"/>
<rect x="211.49" y="0" width="4.60" height="427.8" fill="url(#c53)"/>
<rect x="215.49" y="0" width="4.60" height="427.8" fill="url(#c54)"/>
<rect x="219.49" y="0" width="4.60" height="427.8" fill="url(#c55)"/>
<rect x="223.48" y="0" width="4.60" height="427.8" fill="url(#c56)"/>
<rect x="227.48" y="0" width="4.60" height="427.8" fill="url(#c57)"/>
<rect x="231.47" y="0" width="4.60" height="427.8" fill="url(#c58)"/>
<rect x="235.47" y="0" width="4.60" height="427.8" fill="url(#c59)"/>
<rect x="239.47" y="0" width="4.60" height="427.8" fill="url(#c60)"/>
<rect x="243.46" y="0" width="4.60" height="427.8" fill="url(#c61)"/>
<rect x="247.46" y="0" width="4.60" height="427.8" fill="url(#c62)"/>
<rect x="251.45" y="0" width="4.60" height="427.8" fill="url(#c63)"/>
<rect x="255.45" y="0" width="4.60" height="427.8" fill="url(#c64)"/>
<rect x="259.45" y="0" width="4.60" height="427.8" fill="url(#c65)"/>
<rect x="263.44" y="0" width="4.60" height="427.8" fill="url(#c66)"/>
<rect x="267.44" y="0" width="4.60" height="427.8" fill="url(#c67)"/>
<rect x="271.43" y="0" width="4.60" height="427.8" fill="url(#c68)"/>
<rect x="275.43" y="0" width="4.60" height="427.8" fill="url(#c69)"/>
<rect x="279.43" y="0" width="4.60" height="427.8" fill="url(#c70)"/>
<rect x="283.42" y="0" width="4.60" height="427.8" fill="url(#c71)"/>
<rect x="287.42" y="0" width="4.60" height="427.8" fill="url(#c72)"/>
<rect x="291.41" y="0" width="4.60" height="427.8" fill="url(#c73)"/>
<rect x="295.41" y="0" width="4.60" height="427.8" fill="url(#c74)"/>
<rect x="299.41" y="0" width="4.60" height="427.8" fill="url(#c75)"/>
<rect x="303.40" y="0" width="4.60" height="427.8" fill="url(#c76)"/>
<rect x="307.40" y="0" width="4.60" height="427.8" fill="url(#c77)"/>
<rect x="311.40" y="0" width="4.60" height="427.8" fill="url(#c78)"/>
<rect x="315.39" y="0" width="4.60" height="427.8" fill="url(#c79)"/>
<rect x="319.39" y="0" width="4.60" height="427.8" fill="url(#c80)"/>
<rect x="323.38" y="0" width="4.60" height="427.8" fill="url(#c81)"/>
<rect x="327.38" y="0" width="4.60" height="427.8" fill="url(#c82)"/>
<rect x="331.38" y="0" width="4.60" height="427.8" fill="url(#c83)"/>
<rect x="335.37" y="0" width="4.60" height="427.8" fill="url(#c84)"/>
<rect x="339.37" y="0" width="4.60" height="427.8" fill="url(#c85)"/>
<rect x="343.36" y="0" width="4.60" height="427.8" fill="url(#c86)"/>
<rect x="347.36" y="0" width="4.60" height="427.8" fill="url(#c87)"/>
<rect x="351.36" y="0" width="4.60" height="427.8" fill="url(#c88)"/>
<rect x="355.35" y="0" width="4.60" height="427.8" fill="url(#c89)"/>
<rect x="359.35" y="0" width="4.60" height="427.8" fill="url(#c90)"/>
<rect x="363.34" y="0" width="4.60" height="427.8" fill="url(#c91)"/>
<rect x="367.34" y="0" width="4.60" height="427.8" fill="url(#c92)"/>
<rect x="371.34" y="0" width="4.60" height="427.8" fill="url(#c93)"/>
<rect x="375.33" y="0" width="4.60" height="427.8" fill="url(#c94)"/>
<rect x="379.33" y="0" width="4.60" height="427.8" fill="url(#c95)"/>
<rect x="383.32" y="0" width="4.60" height="427.8" fill="url(#c96)"/>
<rect x="387.32" y="0" width="4.60" height="427.8" fill="url(#c97)"/>
<rect x="391.32" y="0" width="4.60" height="427.8" fill="url(#c98)"/>
<rect x="395.31" y="0" width="4.60" height="427.8" fill="url(#c99)"/>
<rect x="399.31" y="0" width="4.60" height="427.8" fill="url(#c100)"/>
<rect x="403.31" y="0" width="4.60" height="427.8" fill="url(#c101)"/>
<rect x="407.30" y="0" width="4.60" height="427.8" fill="url(#c102)"/>
<rect x="411.30" y="0" width="4.60" height="427.8" fill="url(#c103)"/>
<rect x="415.29" y="0" width="4.60" height="427.8" fill="url(#c104)"/>
<rect x="419.29" y="0" width="4.60" height="427.8" fill="url(#c105)"/>
<rect x="423.29" y="0" width="4.60" height="427.8" fill="url(#c106)"/>
<rect x="427.28" y="0" width="4.60" height="427.8" fill="url(#c107)"/>
<rect x="431.28" y="0" width="4.60" height="427.8" fill="url(#c108)"/>
<rect x="435.27" y="0" width="4.60" height="427.8" fill="url(#c109)"/>
<rect x="439.27" y="0" width="4.60" height="427.8" fill="url(#c110)"/>
<rect x="443.27" y="0" width="4.60" height="427.8" fill="url(#c111)"/>
<rect x="447.26" y="0" width="4.60" height="427.8" fill="url(#c112)"/>
<rect x="451.26" y="0" width="4.60" height="427.8" fill="url(#c113)"/>
<rect x="455.25" y="0" width="4.60" height="427.8" fill="url(#c114)"/>
<rect x="459.25" y="0" width="4.60" height="427.8" fill="url(#c115)"/>
<rect x="463.25" y="0" width="4.60" height="427.8" fill="url(#c116)"/>
<rect x="467.24" y="0" width="4.60" height="427.8" fill="url(#c117)"/>
<rect x="471.24" y="0" width="4.60" height="427.8" fill="url(#c118)"/>
<rect x="475.24" y="0" width="4.60" height="427.8" fill="url(#c119)"/>
<rect x="479.23" y="0" width="4.60" height="427.8" fill="url(#c120)"/>
<rect x="483.23" y="0" width="4.60" height="427.8" fill="url(#c121)"/>
<rect x="487.22" y="0" width="4.60" height="427.8" fill="url(#c122)"/>
<rect x="491.22" y="0" width="4.60" height="427.8" fill="url(#c123)"/>
<rect x="495.22" y="0" width="4.60" height="427.8" fill="url(#c124)"/>
<rect x="499.21" y="0" width="4.60" height="427.8" fill="url(#c125)"/>
<rect x="503.21" y="0" width="4.60" height="427.8" fill="url(#c126)"/>
<rect x="507.20" y="0" width="24.30" height="427.8" fill="url(#c127)"/>
</g></g>
<g clip-path="url(#cp)"><use href="#ct"/>
<text class="w" text-anchor="middle" transform="translate(70.0,99.8) rotate(27)" y="5.5">200</text>
<text class="w" text-anchor="middle" transform="translate(268.2,120.5) rotate(42)" y="5.5">200</text>
<text class="w" text-anchor="middle" transform="translate(406.9,185.5) rotate(18)" y="5.5">200</text>
<text class="w" text-anchor="middle" transform="translate(55.8,199.2) rotate(50)" y="5.5">500</text>
<text class="w" text-anchor="middle" transform="translate(221.4,206.7) rotate(-85)" y="5.5">500</text>
<text class="w" text-anchor="middle" transform="translate(301.4,215.3) rotate(-62)" y="5.5">500</text>
<text class="w" text-anchor="middle" transform="translate(383.9,230.9) rotate(7)" y="5.5">500</text>
<text class="w" text-anchor="middle" transform="translate(481.8,245.2) rotate(38)" y="5.5">500</text>
<text class="w" text-anchor="middle" transform="translate(9.4,301.4) rotate(-12)" y="5.5">1000</text>
<text class="w" text-anchor="middle" transform="translate(163.9,287.4) rotate(-12)" y="5.5">1000</text>
<text class="w" text-anchor="middle" transform="translate(245.2,277.0) rotate(78)" y="5.5">1000</text>
<text class="w" text-anchor="middle" transform="translate(326.9,226.9) rotate(18)" y="5.5">1000</text>
<text class="w" text-anchor="middle" transform="translate(398.8,275.2) rotate(27)" y="5.5">1000</text>
<text class="w" text-anchor="middle" transform="translate(471.4,282.4) rotate(6)" y="5.5">1000</text>
<text class="w" text-anchor="middle" transform="translate(61.3,399.6) rotate(-5)" y="5.5">2000</text>
<text class="w" text-anchor="middle" transform="translate(219.4,382.8) rotate(20)" y="5.5">2000</text>
<text class="w" text-anchor="middle" transform="translate(316.9,358.6) rotate(-80)" y="5.5">2000</text>
<text class="w" text-anchor="middle" transform="translate(409.1,388.2) rotate(-17)" y="5.5">2000</text>
<text class="w" text-anchor="middle" transform="translate(494.5,370.2) rotate(3)" y="5.5">2000</text>
</g>
<path d="M511.5 0V427.8" fill="none" stroke="#333" stroke-width="0.6"/>
<path d="M61.90 0v-5.6M61.90 427.8v5.2M130.85 0v-5.6M130.85 427.8v5.2M199.80 0v-5.6M199.80 427.8v5.2M268.75 0v-5.6M268.75 427.8v5.2M337.70 0v-5.6M337.70 427.8v5.2M406.65 0v-5.6M406.65 427.8v5.2M475.60 0v-5.6M475.60 427.8v5.2M0 151.5h-5.4M511.5 151.5h5M0 311.0h-5.4M511.5 311.0h5" stroke="#444" stroke-width="0.75" fill="none"/>
<text class="t" x="61.90" y="459" text-anchor="middle">71</text><text class="t" x="130.85" y="459" text-anchor="middle">70.8</text><text class="t" x="199.80" y="459" text-anchor="middle">70.6</text><text class="t" x="268.75" y="459" text-anchor="middle">70.4</text><text class="t" x="337.70" y="459" text-anchor="middle">70.2</text><text class="t" x="406.65" y="459" text-anchor="middle">70</text><text class="t" x="475.60" y="459" text-anchor="middle">69.8</text>
<text class="t" x="-12.6" y="158.9" text-anchor="end">40</text><text class="t" x="-12.6" y="318.4" text-anchor="end">39.8</text>
<text class="l" x="255.8" y="494.2" text-anchor="middle">Longitude (<tspan dy="-9.5" font-size="17">o</tspan><tspan dy="9.5">W)</tspan></text>
<text class="l" style="font-size:22.4px" transform="translate(-61.4,213.2) rotate(-90)" text-anchor="middle">Latitude (<tspan dy="-9.5" font-size="17">o</tspan><tspan dy="9.5">N)</tspan></text>
<rect x="520.4" y="-0.4" width="20.9" height="428.2" fill="url(#cb)" stroke="#333" stroke-width="0.7"/>
<path d="M541.3 385.02h-4.6M541.3 342.24h-4.6M541.3 299.46h-4.6M541.3 256.68h-4.6M541.3 213.90h-4.6M541.3 171.12h-4.6M541.3 128.34h-4.6M541.3 85.56h-4.6M541.3 42.78h-4.6" stroke="#222" stroke-width="0.6" fill="none"/>
<text class="c" x="547.8" y="434.5">0</text><text class="c" x="547.8" y="391.7">1</text><text class="c" x="547.8" y="348.9">2</text><text class="c" x="547.8" y="306.2">3</text><text class="c" x="547.8" y="263.4">4</text><text class="c" x="547.8" y="220.6">5</text><text class="c" x="547.8" y="177.8">6</text><text class="c" x="547.8" y="135.0">7</text><text class="c" x="547.8" y="92.3">8</text><text class="c" x="547.8" y="49.5">9</text><text class="c" x="547.8" y="6.7">10</text>
<text class="c" transform="translate(589.5,213.9) rotate(-90)" text-anchor="middle" style="font-size:18.7px">Percent difference b/w Case 1 &amp; 2</text>
<text class="q" x="59.7" y="359.8" text-anchor="middle">(C)</text>
</g>
<text class="p" x="379.0" y="639.6">C</text>
</svg>
</body></html>
